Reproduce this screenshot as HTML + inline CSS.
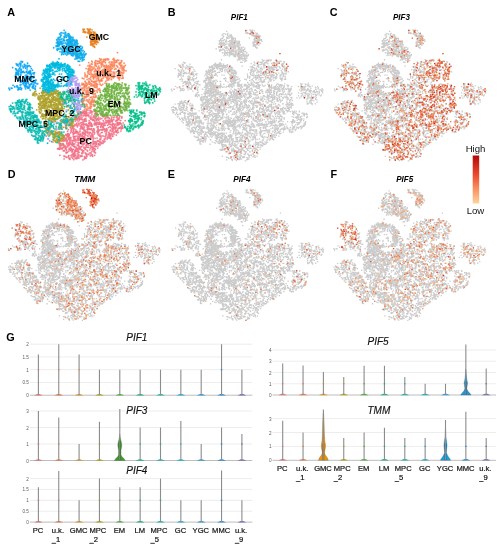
<!DOCTYPE html><html><head><meta charset="utf-8"><style>html,body{margin:0;padding:0;background:#fff;width:502px;height:550px;overflow:hidden}svg{display:block;filter:blur(0.3px)}text{font-family:"Liberation Sans",sans-serif;-webkit-font-smoothing:antialiased}</style></head><body><svg width="502" height="550" viewBox="0 0 502 550"><defs><path id="pPC" d="M89.6 144.7h1.3v1.3h-1.3zM78.4 124.0h1.3v1.3h-1.3zM82.3 151.5h1.3v1.3h-1.3zM68.1 136.3h1.3v1.3h-1.3zM120.5 127.6h1.3v1.3h-1.3zM88.0 146.7h1.3v1.3h-1.3zM85.0 124.1h1.3v1.3h-1.3zM116.3 131.6h1.3v1.3h-1.3zM105.9 127.9h1.3v1.3h-1.3zM93.3 119.7h1.3v1.3h-1.3zM74.1 140.1h1.3v1.3h-1.3zM65.8 140.3h1.3v1.3h-1.3zM107.8 127.0h1.3v1.3h-1.3zM108.2 120.5h1.3v1.3h-1.3zM99.9 139.0h1.3v1.3h-1.3zM78.9 118.1h1.3v1.3h-1.3zM67.6 135.0h1.3v1.3h-1.3zM92.1 135.0h1.3v1.3h-1.3zM91.2 118.4h1.3v1.3h-1.3zM63.0 146.9h1.3v1.3h-1.3zM88.4 127.9h1.3v1.3h-1.3zM80.3 126.1h1.3v1.3h-1.3zM103.6 115.2h1.3v1.3h-1.3zM83.4 114.8h1.3v1.3h-1.3zM63.3 155.4h1.3v1.3h-1.3zM105.6 122.1h1.3v1.3h-1.3zM68.1 150.4h1.3v1.3h-1.3zM118.2 117.8h1.3v1.3h-1.3zM81.2 141.0h1.3v1.3h-1.3zM117.7 122.3h1.3v1.3h-1.3zM81.6 112.5h1.3v1.3h-1.3zM82.7 122.5h1.3v1.3h-1.3zM88.3 112.2h1.3v1.3h-1.3zM77.8 150.3h1.3v1.3h-1.3zM86.2 143.7h1.3v1.3h-1.3zM73.0 129.0h1.3v1.3h-1.3zM87.8 125.6h1.3v1.3h-1.3zM63.6 136.8h1.3v1.3h-1.3zM111.8 128.0h1.3v1.3h-1.3zM70.5 130.0h1.3v1.3h-1.3zM110.9 119.4h1.3v1.3h-1.3zM83.9 112.8h1.3v1.3h-1.3zM80.4 139.3h1.3v1.3h-1.3zM93.0 118.8h1.3v1.3h-1.3zM111.1 116.6h1.3v1.3h-1.3zM77.1 137.3h1.3v1.3h-1.3zM96.4 126.5h1.3v1.3h-1.3zM69.5 142.8h1.3v1.3h-1.3zM117.0 129.4h1.3v1.3h-1.3zM80.5 126.6h1.3v1.3h-1.3zM101.3 129.2h1.3v1.3h-1.3zM69.6 142.3h1.3v1.3h-1.3zM108.9 134.8h1.3v1.3h-1.3zM83.8 142.4h1.3v1.3h-1.3zM94.2 142.7h1.3v1.3h-1.3zM70.9 124.0h1.3v1.3h-1.3zM83.8 110.9h1.3v1.3h-1.3zM108.3 121.8h1.3v1.3h-1.3zM89.8 144.3h1.3v1.3h-1.3zM85.0 148.8h1.3v1.3h-1.3zM102.8 114.8h1.3v1.3h-1.3zM82.0 126.5h1.3v1.3h-1.3zM83.3 127.5h1.3v1.3h-1.3zM100.5 113.1h1.3v1.3h-1.3zM89.4 110.3h1.3v1.3h-1.3zM84.9 146.8h1.3v1.3h-1.3zM83.2 110.9h1.3v1.3h-1.3zM85.7 141.8h1.3v1.3h-1.3zM85.5 144.7h1.3v1.3h-1.3zM104.2 115.4h1.3v1.3h-1.3zM121.8 126.6h1.3v1.3h-1.3zM90.5 154.7h1.3v1.3h-1.3zM88.8 128.0h1.3v1.3h-1.3zM86.1 154.1h1.3v1.3h-1.3zM88.5 132.5h1.3v1.3h-1.3zM88.2 153.9h1.3v1.3h-1.3zM77.8 137.9h1.3v1.3h-1.3zM83.5 130.2h1.3v1.3h-1.3zM121.0 117.4h1.3v1.3h-1.3zM116.8 118.2h1.3v1.3h-1.3zM59.1 138.4h1.3v1.3h-1.3zM108.1 123.7h1.3v1.3h-1.3zM81.0 127.5h1.3v1.3h-1.3zM67.9 155.4h1.3v1.3h-1.3zM86.9 128.1h1.3v1.3h-1.3zM101.4 128.9h1.3v1.3h-1.3zM99.9 123.0h1.3v1.3h-1.3zM94.9 112.6h1.3v1.3h-1.3zM91.6 133.9h1.3v1.3h-1.3zM113.0 132.2h1.3v1.3h-1.3zM103.2 128.3h1.3v1.3h-1.3zM92.6 142.3h1.3v1.3h-1.3zM83.7 126.2h1.3v1.3h-1.3zM94.3 145.3h1.3v1.3h-1.3zM114.9 123.5h1.3v1.3h-1.3zM71.5 144.1h1.3v1.3h-1.3zM105.5 121.3h1.3v1.3h-1.3zM81.4 117.0h1.3v1.3h-1.3zM77.2 124.7h1.3v1.3h-1.3zM78.9 142.2h1.3v1.3h-1.3zM82.3 137.8h1.3v1.3h-1.3zM73.2 155.6h1.3v1.3h-1.3zM97.6 126.0h1.3v1.3h-1.3zM92.1 146.6h1.3v1.3h-1.3zM83.8 119.1h1.3v1.3h-1.3zM76.3 115.6h1.3v1.3h-1.3zM76.1 157.9h1.3v1.3h-1.3zM120.6 128.4h1.3v1.3h-1.3zM100.7 132.0h1.3v1.3h-1.3zM62.1 140.2h1.3v1.3h-1.3zM67.5 156.7h1.3v1.3h-1.3zM90.7 123.4h1.3v1.3h-1.3zM73.8 125.4h1.3v1.3h-1.3zM87.1 129.2h1.3v1.3h-1.3zM60.3 147.5h1.3v1.3h-1.3zM67.1 135.6h1.3v1.3h-1.3zM82.2 135.9h1.3v1.3h-1.3zM81.1 115.3h1.3v1.3h-1.3zM82.3 152.1h1.3v1.3h-1.3zM73.9 124.5h1.3v1.3h-1.3zM80.7 146.1h1.3v1.3h-1.3zM82.3 136.2h1.3v1.3h-1.3zM88.7 138.0h1.3v1.3h-1.3zM101.9 126.4h1.3v1.3h-1.3zM94.2 115.3h1.3v1.3h-1.3zM73.7 150.5h1.3v1.3h-1.3zM86.5 129.1h1.3v1.3h-1.3zM116.6 123.6h1.3v1.3h-1.3zM108.0 131.7h1.3v1.3h-1.3zM116.9 122.0h1.3v1.3h-1.3zM85.5 120.5h1.3v1.3h-1.3zM99.6 129.3h1.3v1.3h-1.3zM66.7 139.7h1.3v1.3h-1.3zM90.1 124.7h1.3v1.3h-1.3zM96.9 140.0h1.3v1.3h-1.3zM72.0 157.6h1.3v1.3h-1.3zM111.2 119.1h1.3v1.3h-1.3zM122.1 127.6h1.3v1.3h-1.3zM82.2 123.5h1.3v1.3h-1.3zM121.6 125.2h1.3v1.3h-1.3zM118.5 117.1h1.3v1.3h-1.3zM94.2 120.2h1.3v1.3h-1.3zM113.2 123.4h1.3v1.3h-1.3zM70.6 148.1h1.3v1.3h-1.3zM91.5 124.5h1.3v1.3h-1.3zM115.3 127.5h1.3v1.3h-1.3zM113.3 133.8h1.3v1.3h-1.3zM94.3 110.7h1.3v1.3h-1.3zM102.8 124.8h1.3v1.3h-1.3zM86.7 114.8h1.3v1.3h-1.3zM104.5 124.7h1.3v1.3h-1.3zM74.2 157.3h1.3v1.3h-1.3zM85.9 113.3h1.3v1.3h-1.3zM76.5 135.4h1.3v1.3h-1.3zM114.2 127.3h1.3v1.3h-1.3zM91.3 113.4h1.3v1.3h-1.3zM84.0 110.9h1.3v1.3h-1.3zM83.1 150.1h1.3v1.3h-1.3zM118.8 127.1h1.3v1.3h-1.3zM90.7 122.9h1.3v1.3h-1.3zM109.4 125.8h1.3v1.3h-1.3zM76.2 132.3h1.3v1.3h-1.3zM78.1 154.1h1.3v1.3h-1.3zM102.8 116.2h1.3v1.3h-1.3zM92.2 136.6h1.3v1.3h-1.3zM62.6 138.6h1.3v1.3h-1.3zM79.4 139.4h1.3v1.3h-1.3zM82.2 159.2h1.3v1.3h-1.3zM93.3 151.1h1.3v1.3h-1.3zM87.6 144.5h1.3v1.3h-1.3zM65.9 149.5h1.3v1.3h-1.3zM86.1 112.0h1.3v1.3h-1.3zM65.3 133.8h1.3v1.3h-1.3zM83.2 114.8h1.3v1.3h-1.3zM101.2 122.6h1.3v1.3h-1.3zM70.2 143.8h1.3v1.3h-1.3zM118.0 118.0h1.3v1.3h-1.3zM95.2 118.1h1.3v1.3h-1.3zM103.8 138.6h1.3v1.3h-1.3zM65.3 137.5h1.3v1.3h-1.3zM74.8 118.9h1.3v1.3h-1.3zM115.2 126.9h1.3v1.3h-1.3zM114.4 128.6h1.3v1.3h-1.3zM69.1 157.7h1.3v1.3h-1.3zM71.2 151.5h1.3v1.3h-1.3zM78.0 116.3h1.3v1.3h-1.3zM67.7 129.0h1.3v1.3h-1.3zM85.6 153.8h1.3v1.3h-1.3zM78.7 136.4h1.3v1.3h-1.3zM97.0 140.8h1.3v1.3h-1.3zM81.0 152.4h1.3v1.3h-1.3zM99.2 134.9h1.3v1.3h-1.3zM98.0 143.4h1.3v1.3h-1.3zM82.1 128.5h1.3v1.3h-1.3zM76.3 119.1h1.3v1.3h-1.3zM76.7 111.4h1.3v1.3h-1.3zM84.5 133.6h1.3v1.3h-1.3zM92.4 140.7h1.3v1.3h-1.3zM87.2 126.5h1.3v1.3h-1.3zM85.3 111.8h1.3v1.3h-1.3zM107.5 117.2h1.3v1.3h-1.3zM99.1 121.6h1.3v1.3h-1.3zM111.4 130.9h1.3v1.3h-1.3zM83.1 133.3h1.3v1.3h-1.3zM86.9 146.6h1.3v1.3h-1.3zM87.5 125.0h1.3v1.3h-1.3zM62.8 144.3h1.3v1.3h-1.3zM82.1 140.0h1.3v1.3h-1.3zM74.1 137.6h1.3v1.3h-1.3zM106.5 138.4h1.3v1.3h-1.3zM76.9 149.3h1.3v1.3h-1.3zM118.8 123.3h1.3v1.3h-1.3zM60.9 140.4h1.3v1.3h-1.3zM77.6 134.0h1.3v1.3h-1.3zM97.0 147.5h1.3v1.3h-1.3zM75.0 135.7h1.3v1.3h-1.3zM88.0 114.2h1.3v1.3h-1.3zM63.7 150.2h1.3v1.3h-1.3zM120.0 120.0h1.3v1.3h-1.3zM104.0 123.0h1.3v1.3h-1.3zM113.6 124.2h1.3v1.3h-1.3zM97.3 128.0h1.3v1.3h-1.3zM107.1 136.9h1.3v1.3h-1.3zM69.9 122.9h1.3v1.3h-1.3zM96.5 121.6h1.3v1.3h-1.3zM72.0 127.6h1.3v1.3h-1.3zM92.2 135.8h1.3v1.3h-1.3zM86.4 124.2h1.3v1.3h-1.3zM82.1 150.2h1.3v1.3h-1.3zM65.6 151.5h1.3v1.3h-1.3zM74.8 131.8h1.3v1.3h-1.3zM82.4 128.0h1.3v1.3h-1.3zM97.5 130.6h1.3v1.3h-1.3zM59.5 144.3h1.3v1.3h-1.3zM79.6 125.5h1.3v1.3h-1.3zM86.9 150.5h1.3v1.3h-1.3zM97.7 129.0h1.3v1.3h-1.3zM96.3 112.5h1.3v1.3h-1.3zM58.5 139.7h1.3v1.3h-1.3zM88.7 123.2h1.3v1.3h-1.3zM89.4 122.2h1.3v1.3h-1.3zM69.5 142.8h1.3v1.3h-1.3zM99.3 117.4h1.3v1.3h-1.3zM65.4 134.8h1.3v1.3h-1.3zM79.4 115.3h1.3v1.3h-1.3zM91.8 118.7h1.3v1.3h-1.3zM60.1 148.1h1.3v1.3h-1.3zM72.1 143.5h1.3v1.3h-1.3zM89.3 138.2h1.3v1.3h-1.3zM65.4 152.3h1.3v1.3h-1.3zM104.2 128.7h1.3v1.3h-1.3zM66.5 142.9h1.3v1.3h-1.3zM98.5 129.4h1.3v1.3h-1.3zM71.8 142.6h1.3v1.3h-1.3zM89.2 128.8h1.3v1.3h-1.3zM99.1 144.4h1.3v1.3h-1.3zM108.5 135.9h1.3v1.3h-1.3zM82.1 121.3h1.3v1.3h-1.3zM89.8 155.3h1.3v1.3h-1.3zM77.2 147.8h1.3v1.3h-1.3zM82.8 132.1h1.3v1.3h-1.3zM65.7 146.7h1.3v1.3h-1.3zM59.3 146.0h1.3v1.3h-1.3zM115.4 130.3h1.3v1.3h-1.3zM109.4 137.7h1.3v1.3h-1.3zM76.3 139.9h1.3v1.3h-1.3zM78.4 116.1h1.3v1.3h-1.3zM83.5 121.0h1.3v1.3h-1.3zM84.0 114.0h1.3v1.3h-1.3zM84.4 132.4h1.3v1.3h-1.3zM60.3 143.1h1.3v1.3h-1.3zM97.7 143.7h1.3v1.3h-1.3zM102.7 126.7h1.3v1.3h-1.3zM71.5 144.8h1.3v1.3h-1.3zM105.2 129.5h1.3v1.3h-1.3zM93.6 110.1h1.3v1.3h-1.3zM94.7 149.0h1.3v1.3h-1.3zM88.5 119.9h1.3v1.3h-1.3zM74.7 139.1h1.3v1.3h-1.3zM109.6 121.5h1.3v1.3h-1.3zM85.3 118.5h1.3v1.3h-1.3zM62.0 143.0h1.3v1.3h-1.3zM108.6 120.0h1.3v1.3h-1.3zM103.9 138.5h1.3v1.3h-1.3zM58.0 147.8h1.3v1.3h-1.3zM105.1 122.3h1.3v1.3h-1.3zM74.4 139.6h1.3v1.3h-1.3zM90.5 125.3h1.3v1.3h-1.3zM119.7 122.4h1.3v1.3h-1.3zM76.8 132.2h1.3v1.3h-1.3zM78.5 151.7h1.3v1.3h-1.3zM104.3 118.2h1.3v1.3h-1.3zM110.2 138.1h1.3v1.3h-1.3zM80.7 124.0h1.3v1.3h-1.3zM84.9 111.3h1.3v1.3h-1.3zM94.4 141.6h1.3v1.3h-1.3zM97.2 126.0h1.3v1.3h-1.3zM109.6 126.7h1.3v1.3h-1.3zM78.3 147.9h1.3v1.3h-1.3zM106.8 116.3h1.3v1.3h-1.3zM120.9 116.2h1.3v1.3h-1.3zM89.8 117.5h1.3v1.3h-1.3zM88.5 125.2h1.3v1.3h-1.3zM105.5 117.3h1.3v1.3h-1.3zM100.0 123.5h1.3v1.3h-1.3zM91.8 146.4h1.3v1.3h-1.3zM86.6 149.7h1.3v1.3h-1.3zM85.7 109.5h1.3v1.3h-1.3zM76.2 155.5h1.3v1.3h-1.3zM58.8 147.6h1.3v1.3h-1.3zM75.1 158.0h1.3v1.3h-1.3zM67.9 145.2h1.3v1.3h-1.3zM88.1 123.0h1.3v1.3h-1.3zM94.7 122.6h1.3v1.3h-1.3zM66.9 130.7h1.3v1.3h-1.3zM76.8 126.1h1.3v1.3h-1.3zM70.2 125.5h1.3v1.3h-1.3zM93.4 133.7h1.3v1.3h-1.3zM91.0 142.4h1.3v1.3h-1.3zM100.6 114.6h1.3v1.3h-1.3zM94.9 123.1h1.3v1.3h-1.3zM83.7 123.7h1.3v1.3h-1.3zM120.6 127.2h1.3v1.3h-1.3zM73.1 154.3h1.3v1.3h-1.3zM87.3 109.6h1.3v1.3h-1.3zM81.5 155.4h1.3v1.3h-1.3zM79.1 113.2h1.3v1.3h-1.3zM73.5 116.1h1.3v1.3h-1.3zM86.5 134.7h1.3v1.3h-1.3zM90.3 145.4h1.3v1.3h-1.3zM71.1 140.3h1.3v1.3h-1.3zM66.3 137.0h1.3v1.3h-1.3zM78.0 139.3h1.3v1.3h-1.3zM66.0 143.3h1.3v1.3h-1.3zM77.4 121.2h1.3v1.3h-1.3zM77.8 145.3h1.3v1.3h-1.3zM78.3 157.4h1.3v1.3h-1.3zM92.1 148.2h1.3v1.3h-1.3zM92.0 111.2h1.3v1.3h-1.3zM115.2 126.3h1.3v1.3h-1.3zM69.5 138.3h1.3v1.3h-1.3zM114.0 124.8h1.3v1.3h-1.3zM79.4 118.8h1.3v1.3h-1.3zM102.6 119.9h1.3v1.3h-1.3zM90.5 137.3h1.3v1.3h-1.3zM91.7 119.1h1.3v1.3h-1.3zM78.6 119.9h1.3v1.3h-1.3zM71.7 141.9h1.3v1.3h-1.3zM66.3 141.8h1.3v1.3h-1.3zM74.6 154.6h1.3v1.3h-1.3zM57.7 148.4h1.3v1.3h-1.3zM116.5 122.1h1.3v1.3h-1.3zM78.4 118.7h1.3v1.3h-1.3zM86.5 114.9h1.3v1.3h-1.3zM101.8 115.7h1.3v1.3h-1.3zM96.2 122.2h1.3v1.3h-1.3zM75.9 118.0h1.3v1.3h-1.3zM103.5 124.5h1.3v1.3h-1.3zM89.5 109.7h1.3v1.3h-1.3zM111.8 129.1h1.3v1.3h-1.3zM115.1 130.1h1.3v1.3h-1.3zM71.8 142.3h1.3v1.3h-1.3zM81.8 119.3h1.3v1.3h-1.3zM72.8 132.6h1.3v1.3h-1.3zM71.9 143.7h1.3v1.3h-1.3zM81.5 149.8h1.3v1.3h-1.3zM59.7 145.1h1.3v1.3h-1.3zM109.9 134.9h1.3v1.3h-1.3zM89.5 138.3h1.3v1.3h-1.3zM95.4 143.3h1.3v1.3h-1.3zM72.5 155.7h1.3v1.3h-1.3zM93.9 124.3h1.3v1.3h-1.3zM104.9 137.5h1.3v1.3h-1.3zM68.0 155.1h1.3v1.3h-1.3zM71.8 142.4h1.3v1.3h-1.3zM84.4 119.6h1.3v1.3h-1.3zM89.2 149.2h1.3v1.3h-1.3zM102.8 135.4h1.3v1.3h-1.3zM71.1 128.4h1.3v1.3h-1.3zM116.2 124.9h1.3v1.3h-1.3zM107.4 134.2h1.3v1.3h-1.3zM97.2 117.9h1.3v1.3h-1.3zM82.2 110.4h1.3v1.3h-1.3zM85.6 123.5h1.3v1.3h-1.3zM76.0 122.8h1.3v1.3h-1.3zM118.5 123.8h1.3v1.3h-1.3zM67.0 133.1h1.3v1.3h-1.3zM83.8 156.0h1.3v1.3h-1.3zM64.0 139.5h1.3v1.3h-1.3zM111.7 135.6h1.3v1.3h-1.3zM111.4 131.2h1.3v1.3h-1.3zM93.9 122.7h1.3v1.3h-1.3zM82.3 112.8h1.3v1.3h-1.3zM90.8 125.7h1.3v1.3h-1.3zM66.2 146.5h1.3v1.3h-1.3zM76.7 119.5h1.3v1.3h-1.3zM68.4 143.8h1.3v1.3h-1.3zM67.4 134.1h1.3v1.3h-1.3zM71.8 154.0h1.3v1.3h-1.3zM117.6 124.5h1.3v1.3h-1.3zM69.1 139.9h1.3v1.3h-1.3zM74.4 149.8h1.3v1.3h-1.3zM74.0 143.2h1.3v1.3h-1.3zM96.8 132.0h1.3v1.3h-1.3zM75.4 146.4h1.3v1.3h-1.3zM116.9 129.6h1.3v1.3h-1.3zM115.8 131.2h1.3v1.3h-1.3zM81.9 112.8h1.3v1.3h-1.3zM77.9 144.4h1.3v1.3h-1.3zM68.7 138.3h1.3v1.3h-1.3zM95.4 111.7h1.3v1.3h-1.3zM95.7 143.8h1.3v1.3h-1.3zM110.5 132.9h1.3v1.3h-1.3zM77.9 136.5h1.3v1.3h-1.3zM106.6 129.2h1.3v1.3h-1.3zM94.4 143.1h1.3v1.3h-1.3zM58.6 143.0h1.3v1.3h-1.3zM104.5 131.0h1.3v1.3h-1.3zM81.3 127.9h1.3v1.3h-1.3zM85.7 120.4h1.3v1.3h-1.3zM66.0 152.1h1.3v1.3h-1.3zM82.1 141.4h1.3v1.3h-1.3zM95.3 141.1h1.3v1.3h-1.3zM67.9 143.8h1.3v1.3h-1.3zM83.4 147.0h1.3v1.3h-1.3zM90.0 122.2h1.3v1.3h-1.3zM70.3 128.0h1.3v1.3h-1.3zM71.0 148.7h1.3v1.3h-1.3zM86.9 132.2h1.3v1.3h-1.3zM70.1 146.6h1.3v1.3h-1.3zM92.9 143.2h1.3v1.3h-1.3zM112.3 135.6h1.3v1.3h-1.3zM96.9 118.0h1.3v1.3h-1.3zM83.8 135.8h1.3v1.3h-1.3zM68.6 134.9h1.3v1.3h-1.3zM111.7 121.3h1.3v1.3h-1.3zM73.2 155.7h1.3v1.3h-1.3zM62.7 150.1h1.3v1.3h-1.3zM100.0 125.8h1.3v1.3h-1.3zM91.8 134.7h1.3v1.3h-1.3zM79.1 131.2h1.3v1.3h-1.3zM85.4 139.4h1.3v1.3h-1.3zM95.5 124.4h1.3v1.3h-1.3zM85.8 111.5h1.3v1.3h-1.3zM86.1 155.7h1.3v1.3h-1.3zM117.3 128.0h1.3v1.3h-1.3zM91.7 154.1h1.3v1.3h-1.3zM75.5 148.3h1.3v1.3h-1.3zM83.7 136.4h1.3v1.3h-1.3zM78.6 148.7h1.3v1.3h-1.3zM115.4 130.1h1.3v1.3h-1.3zM107.5 121.1h1.3v1.3h-1.3zM93.0 147.8h1.3v1.3h-1.3zM84.7 134.5h1.3v1.3h-1.3zM94.5 113.1h1.3v1.3h-1.3zM108.3 120.7h1.3v1.3h-1.3zM120.6 123.2h1.3v1.3h-1.3zM80.2 111.2h1.3v1.3h-1.3zM90.1 137.5h1.3v1.3h-1.3zM59.2 154.7h1.3v1.3h-1.3zM79.8 134.4h1.3v1.3h-1.3zM82.8 112.1h1.3v1.3h-1.3zM93.6 116.4h1.3v1.3h-1.3zM99.3 141.9h1.3v1.3h-1.3zM83.5 147.1h1.3v1.3h-1.3zM82.7 115.2h1.3v1.3h-1.3zM74.0 145.7h1.3v1.3h-1.3zM74.8 117.2h1.3v1.3h-1.3zM80.5 118.3h1.3v1.3h-1.3zM106.9 124.7h1.3v1.3h-1.3zM95.7 112.9h1.3v1.3h-1.3zM75.8 115.5h1.3v1.3h-1.3zM71.0 154.4h1.3v1.3h-1.3zM68.2 136.8h1.3v1.3h-1.3zM73.8 132.9h1.3v1.3h-1.3zM102.7 128.3h1.3v1.3h-1.3zM73.6 155.6h1.3v1.3h-1.3zM95.3 122.2h1.3v1.3h-1.3zM77.4 141.9h1.3v1.3h-1.3zM119.4 123.2h1.3v1.3h-1.3zM80.4 112.4h1.3v1.3h-1.3zM68.3 141.9h1.3v1.3h-1.3zM94.0 120.8h1.3v1.3h-1.3zM95.9 119.7h1.3v1.3h-1.3zM84.8 112.9h1.3v1.3h-1.3zM76.6 157.5h1.3v1.3h-1.3zM105.9 129.9h1.3v1.3h-1.3zM77.7 117.3h1.3v1.3h-1.3zM106.7 136.4h1.3v1.3h-1.3zM65.8 138.5h1.3v1.3h-1.3zM62.5 143.7h1.3v1.3h-1.3zM71.5 148.7h1.3v1.3h-1.3zM116.3 119.7h1.3v1.3h-1.3zM96.4 137.4h1.3v1.3h-1.3zM117.4 122.3h1.3v1.3h-1.3zM74.2 136.0h1.3v1.3h-1.3zM83.4 129.0h1.3v1.3h-1.3zM70.3 126.1h1.3v1.3h-1.3zM72.9 131.0h1.3v1.3h-1.3zM82.9 138.2h1.3v1.3h-1.3zM88.5 116.3h1.3v1.3h-1.3zM83.7 109.3h1.3v1.3h-1.3zM79.2 135.4h1.3v1.3h-1.3zM76.1 150.7h1.3v1.3h-1.3zM89.7 132.3h1.3v1.3h-1.3zM100.8 124.4h1.3v1.3h-1.3zM78.7 138.2h1.3v1.3h-1.3zM92.0 155.7h1.3v1.3h-1.3zM96.1 114.0h1.3v1.3h-1.3zM94.6 145.5h1.3v1.3h-1.3zM84.4 118.0h1.3v1.3h-1.3zM97.2 133.5h1.3v1.3h-1.3zM72.0 131.9h1.3v1.3h-1.3zM106.8 115.8h1.3v1.3h-1.3zM61.8 147.2h1.3v1.3h-1.3zM84.7 156.9h1.3v1.3h-1.3zM75.7 124.8h1.3v1.3h-1.3zM65.6 134.8h1.3v1.3h-1.3zM70.2 149.9h1.3v1.3h-1.3zM82.5 143.2h1.3v1.3h-1.3zM72.6 145.4h1.3v1.3h-1.3zM72.3 119.3h1.3v1.3h-1.3zM115.6 114.9h1.3v1.3h-1.3zM99.3 118.7h1.3v1.3h-1.3zM105.1 135.2h1.3v1.3h-1.3zM85.2 139.0h1.3v1.3h-1.3zM63.5 158.2h1.3v1.3h-1.3zM107.8 122.2h1.3v1.3h-1.3zM81.6 153.0h1.3v1.3h-1.3zM80.5 148.9h1.3v1.3h-1.3zM85.7 144.6h1.3v1.3h-1.3zM117.1 118.6h1.3v1.3h-1.3zM87.5 143.5h1.3v1.3h-1.3zM85.3 114.7h1.3v1.3h-1.3zM76.2 124.1h1.3v1.3h-1.3zM62.7 138.8h1.3v1.3h-1.3zM75.1 117.8h1.3v1.3h-1.3zM90.7 110.5h1.3v1.3h-1.3zM109.4 136.0h1.3v1.3h-1.3zM86.4 113.5h1.3v1.3h-1.3zM77.8 142.9h1.3v1.3h-1.3zM75.5 157.5h1.3v1.3h-1.3zM85.3 115.8h1.3v1.3h-1.3zM79.4 130.4h1.3v1.3h-1.3zM85.3 137.7h1.3v1.3h-1.3zM70.1 139.1h1.3v1.3h-1.3zM74.3 153.2h1.3v1.3h-1.3zM66.5 135.5h1.3v1.3h-1.3zM96.5 118.6h1.3v1.3h-1.3zM93.8 123.2h1.3v1.3h-1.3zM107.2 116.8h1.3v1.3h-1.3zM80.8 155.7h1.3v1.3h-1.3zM91.8 129.7h1.3v1.3h-1.3zM76.7 153.3h1.3v1.3h-1.3zM104.4 140.7h1.3v1.3h-1.3zM84.5 129.7h1.3v1.3h-1.3zM96.2 130.7h1.3v1.3h-1.3zM91.4 132.8h1.3v1.3h-1.3zM106.0 129.1h1.3v1.3h-1.3zM84.3 112.2h1.3v1.3h-1.3zM98.6 122.0h1.3v1.3h-1.3zM104.2 130.6h1.3v1.3h-1.3zM124.5 120.0h1.3v1.3h-1.3zM100.7 142.9h1.3v1.3h-1.3zM81.8 141.8h1.3v1.3h-1.3zM72.0 140.1h1.3v1.3h-1.3zM74.7 151.1h1.3v1.3h-1.3zM71.7 149.6h1.3v1.3h-1.3zM93.4 109.7h1.3v1.3h-1.3zM89.7 112.2h1.3v1.3h-1.3zM84.1 137.1h1.3v1.3h-1.3zM111.7 125.0h1.3v1.3h-1.3zM97.7 123.6h1.3v1.3h-1.3zM99.5 138.3h1.3v1.3h-1.3zM70.2 155.0h1.3v1.3h-1.3zM84.0 120.5h1.3v1.3h-1.3zM104.4 128.6h1.3v1.3h-1.3zM104.3 135.9h1.3v1.3h-1.3zM70.0 136.9h1.3v1.3h-1.3zM82.7 123.2h1.3v1.3h-1.3zM77.0 113.7h1.3v1.3h-1.3zM73.7 155.7h1.3v1.3h-1.3zM98.1 130.7h1.3v1.3h-1.3zM89.7 147.5h1.3v1.3h-1.3zM97.1 126.5h1.3v1.3h-1.3zM106.7 120.3h1.3v1.3h-1.3zM78.2 147.4h1.3v1.3h-1.3zM64.6 148.3h1.3v1.3h-1.3zM90.1 128.7h1.3v1.3h-1.3zM118.5 119.3h1.3v1.3h-1.3zM111.7 120.1h1.3v1.3h-1.3zM103.2 121.5h1.3v1.3h-1.3zM87.3 153.5h1.3v1.3h-1.3zM77.1 157.2h1.3v1.3h-1.3zM82.5 143.1h1.3v1.3h-1.3zM92.8 128.1h1.3v1.3h-1.3zM88.9 152.5h1.3v1.3h-1.3zM121.2 116.3h1.3v1.3h-1.3zM97.9 119.8h1.3v1.3h-1.3zM101.3 135.3h1.3v1.3h-1.3zM82.2 123.7h1.3v1.3h-1.3zM94.9 112.0h1.3v1.3h-1.3zM68.5 157.9h1.3v1.3h-1.3zM69.8 137.5h1.3v1.3h-1.3zM79.3 115.4h1.3v1.3h-1.3zM74.9 131.1h1.3v1.3h-1.3zM72.6 143.7h1.3v1.3h-1.3zM78.0 123.0h1.3v1.3h-1.3zM93.6 141.0h1.3v1.3h-1.3zM77.3 118.0h1.3v1.3h-1.3zM85.2 152.8h1.3v1.3h-1.3zM103.1 141.7h1.3v1.3h-1.3zM83.7 133.1h1.3v1.3h-1.3zM90.6 128.9h1.3v1.3h-1.3zM74.7 154.9h1.3v1.3h-1.3zM66.5 139.7h1.3v1.3h-1.3zM59.3 145.4h1.3v1.3h-1.3zM85.7 157.4h1.3v1.3h-1.3zM79.6 128.3h1.3v1.3h-1.3zM83.7 119.3h1.3v1.3h-1.3zM73.3 155.6h1.3v1.3h-1.3zM107.6 119.6h1.3v1.3h-1.3zM64.3 140.4h1.3v1.3h-1.3zM68.5 135.1h1.3v1.3h-1.3zM86.7 139.5h1.3v1.3h-1.3zM112.3 130.1h1.3v1.3h-1.3zM82.3 137.6h1.3v1.3h-1.3zM119.1 122.0h1.3v1.3h-1.3zM105.6 134.3h1.3v1.3h-1.3zM86.5 126.4h1.3v1.3h-1.3zM82.2 145.3h1.3v1.3h-1.3zM84.5 152.2h1.3v1.3h-1.3zM84.8 117.9h1.3v1.3h-1.3zM113.1 119.1h1.3v1.3h-1.3zM81.5 149.3h1.3v1.3h-1.3zM68.9 148.3h1.3v1.3h-1.3zM72.8 148.7h1.3v1.3h-1.3zM92.2 144.1h1.3v1.3h-1.3zM79.5 155.2h1.3v1.3h-1.3zM73.1 159.0h1.3v1.3h-1.3zM96.2 123.8h1.3v1.3h-1.3zM101.9 140.3h1.3v1.3h-1.3zM99.3 139.1h1.3v1.3h-1.3zM94.0 132.3h1.3v1.3h-1.3zM82.6 132.0h1.3v1.3h-1.3zM70.9 122.7h1.3v1.3h-1.3zM77.3 144.7h1.3v1.3h-1.3zM79.5 122.4h1.3v1.3h-1.3zM81.9 131.7h1.3v1.3h-1.3zM86.1 155.7h1.3v1.3h-1.3zM81.0 122.0h1.3v1.3h-1.3zM101.3 123.7h1.3v1.3h-1.3zM97.5 132.6h1.3v1.3h-1.3zM85.7 146.3h1.3v1.3h-1.3zM73.7 151.9h1.3v1.3h-1.3zM88.3 123.0h1.3v1.3h-1.3zM101.6 131.8h1.3v1.3h-1.3zM94.4 137.7h1.3v1.3h-1.3zM81.7 139.4h1.3v1.3h-1.3zM100.0 135.8h1.3v1.3h-1.3zM94.7 118.0h1.3v1.3h-1.3zM90.6 111.9h1.3v1.3h-1.3zM67.5 143.3h1.3v1.3h-1.3zM116.0 130.3h1.3v1.3h-1.3zM81.4 127.2h1.3v1.3h-1.3zM99.5 142.3h1.3v1.3h-1.3zM99.2 140.9h1.3v1.3h-1.3zM70.5 131.1h1.3v1.3h-1.3zM90.4 153.0h1.3v1.3h-1.3zM64.6 138.9h1.3v1.3h-1.3zM82.9 123.3h1.3v1.3h-1.3zM62.7 143.4h1.3v1.3h-1.3zM90.0 118.5h1.3v1.3h-1.3zM117.8 131.7h1.3v1.3h-1.3zM114.0 126.5h1.3v1.3h-1.3zM94.4 117.8h1.3v1.3h-1.3zM94.5 145.8h1.3v1.3h-1.3zM68.9 138.3h1.3v1.3h-1.3zM88.0 114.9h1.3v1.3h-1.3zM112.3 123.1h1.3v1.3h-1.3zM76.6 157.3h1.3v1.3h-1.3zM74.5 123.8h1.3v1.3h-1.3zM77.4 156.6h1.3v1.3h-1.3zM69.6 126.8h1.3v1.3h-1.3zM93.0 131.3h1.3v1.3h-1.3zM90.4 116.9h1.3v1.3h-1.3zM116.8 120.0h1.3v1.3h-1.3zM65.1 146.7h1.3v1.3h-1.3zM72.3 125.4h1.3v1.3h-1.3zM111.0 120.1h1.3v1.3h-1.3zM120.9 127.8h1.3v1.3h-1.3zM91.3 135.8h1.3v1.3h-1.3zM74.8 131.9h1.3v1.3h-1.3zM73.7 135.9h1.3v1.3h-1.3zM82.8 133.5h1.3v1.3h-1.3zM108.3 133.4h1.3v1.3h-1.3zM86.9 132.1h1.3v1.3h-1.3zM113.6 131.5h1.3v1.3h-1.3zM93.9 154.8h1.3v1.3h-1.3zM58.2 140.9h1.3v1.3h-1.3zM107.4 121.7h1.3v1.3h-1.3zM65.5 148.8h1.3v1.3h-1.3zM79.5 147.3h1.3v1.3h-1.3zM93.5 129.6h1.3v1.3h-1.3zM86.9 132.1h1.3v1.3h-1.3zM97.5 145.4h1.3v1.3h-1.3zM98.7 123.8h1.3v1.3h-1.3zM73.6 128.3h1.3v1.3h-1.3zM111.7 129.0h1.3v1.3h-1.3zM75.7 130.6h1.3v1.3h-1.3zM77.4 155.2h1.3v1.3h-1.3zM73.9 143.3h1.3v1.3h-1.3zM93.7 150.9h1.3v1.3h-1.3zM70.1 137.0h1.3v1.3h-1.3zM81.3 126.3h1.3v1.3h-1.3zM62.4 136.1h1.3v1.3h-1.3zM115.2 120.8h1.3v1.3h-1.3zM100.8 129.0h1.3v1.3h-1.3zM93.5 128.4h1.3v1.3h-1.3zM102.3 142.8h1.3v1.3h-1.3zM90.3 152.0h1.3v1.3h-1.3zM103.5 129.0h1.3v1.3h-1.3zM66.7 140.5h1.3v1.3h-1.3zM81.1 118.7h1.3v1.3h-1.3zM95.1 117.0h1.3v1.3h-1.3zM108.3 135.6h1.3v1.3h-1.3zM79.2 136.2h1.3v1.3h-1.3zM108.4 120.6h1.3v1.3h-1.3zM63.7 149.9h1.3v1.3h-1.3zM96.4 112.7h1.3v1.3h-1.3zM76.0 148.3h1.3v1.3h-1.3zM87.9 126.1h1.3v1.3h-1.3zM69.2 158.8h1.3v1.3h-1.3zM66.9 151.6h1.3v1.3h-1.3zM111.6 133.5h1.3v1.3h-1.3zM111.1 124.1h1.3v1.3h-1.3zM77.6 152.1h1.3v1.3h-1.3zM90.7 110.9h1.3v1.3h-1.3zM97.7 122.6h1.3v1.3h-1.3zM103.3 125.0h1.3v1.3h-1.3zM81.7 134.7h1.3v1.3h-1.3zM81.5 112.1h1.3v1.3h-1.3zM95.7 122.2h1.3v1.3h-1.3zM97.4 131.4h1.3v1.3h-1.3zM89.1 121.5h1.3v1.3h-1.3zM74.8 120.4h1.3v1.3h-1.3zM99.3 133.5h1.3v1.3h-1.3zM66.2 134.4h1.3v1.3h-1.3zM114.8 131.3h1.3v1.3h-1.3zM67.5 132.9h1.3v1.3h-1.3zM69.9 148.2h1.3v1.3h-1.3zM81.2 138.9h1.3v1.3h-1.3zM65.3 156.2h1.3v1.3h-1.3zM72.3 124.9h1.3v1.3h-1.3zM95.3 115.5h1.3v1.3h-1.3zM89.6 124.2h1.3v1.3h-1.3zM78.0 132.4h1.3v1.3h-1.3zM59.7 142.8h1.3v1.3h-1.3zM62.6 140.5h1.3v1.3h-1.3zM78.4 146.0h1.3v1.3h-1.3zM81.4 143.8h1.3v1.3h-1.3zM95.9 142.2h1.3v1.3h-1.3zM108.9 123.2h1.3v1.3h-1.3zM82.2 137.6h1.3v1.3h-1.3zM88.4 122.2h1.3v1.3h-1.3zM87.0 143.6h1.3v1.3h-1.3zM91.5 125.5h1.3v1.3h-1.3zM85.8 154.1h1.3v1.3h-1.3zM72.3 127.4h1.3v1.3h-1.3zM77.0 150.8h1.3v1.3h-1.3zM103.7 139.0h1.3v1.3h-1.3zM68.7 133.7h1.3v1.3h-1.3zM75.0 129.2h1.3v1.3h-1.3zM104.7 117.3h1.3v1.3h-1.3zM84.1 157.8h1.3v1.3h-1.3zM94.3 148.1h1.3v1.3h-1.3zM115.7 134.4h1.3v1.3h-1.3zM87.1 131.2h1.3v1.3h-1.3zM100.5 141.8h1.3v1.3h-1.3zM117.7 123.6h1.3v1.3h-1.3zM86.0 131.3h1.3v1.3h-1.3zM112.9 117.2h1.3v1.3h-1.3zM99.2 135.6h1.3v1.3h-1.3zM115.8 116.8h1.3v1.3h-1.3zM79.7 128.3h1.3v1.3h-1.3zM69.1 141.5h1.3v1.3h-1.3zM93.0 146.4h1.3v1.3h-1.3zM85.4 142.0h1.3v1.3h-1.3zM85.8 140.6h1.3v1.3h-1.3zM88.3 134.1h1.3v1.3h-1.3zM87.0 125.6h1.3v1.3h-1.3zM120.1 126.2h1.3v1.3h-1.3zM67.5 144.2h1.3v1.3h-1.3zM116.5 116.1h1.3v1.3h-1.3zM90.3 115.4h1.3v1.3h-1.3zM83.7 158.2h1.3v1.3h-1.3zM99.4 144.1h1.3v1.3h-1.3zM119.6 123.2h1.3v1.3h-1.3zM91.2 150.7h1.3v1.3h-1.3zM94.4 151.9h1.3v1.3h-1.3zM65.8 156.7h1.3v1.3h-1.3zM78.2 139.8h1.3v1.3h-1.3zM109.4 137.5h1.3v1.3h-1.3zM109.7 129.6h1.3v1.3h-1.3zM82.6 124.7h1.3v1.3h-1.3zM78.4 136.2h1.3v1.3h-1.3zM101.8 142.4h1.3v1.3h-1.3zM101.1 117.9h1.3v1.3h-1.3zM87.7 128.4h1.3v1.3h-1.3zM112.5 129.1h1.3v1.3h-1.3zM105.1 121.7h1.3v1.3h-1.3zM69.9 132.3h1.3v1.3h-1.3zM116.2 116.8h1.3v1.3h-1.3zM65.7 134.2h1.3v1.3h-1.3zM108.7 117.6h1.3v1.3h-1.3zM77.8 136.2h1.3v1.3h-1.3zM102.9 129.1h1.3v1.3h-1.3zM73.0 143.5h1.3v1.3h-1.3zM80.7 125.5h1.3v1.3h-1.3zM95.2 143.3h1.3v1.3h-1.3zM61.6 148.4h1.3v1.3h-1.3zM91.1 133.8h1.3v1.3h-1.3zM92.1 136.5h1.3v1.3h-1.3zM69.3 140.5h1.3v1.3h-1.3zM75.1 149.5h1.3v1.3h-1.3zM64.4 138.0h1.3v1.3h-1.3zM71.7 150.9h1.3v1.3h-1.3zM74.1 117.5h1.3v1.3h-1.3zM83.3 146.8h1.3v1.3h-1.3zM109.3 120.2h1.3v1.3h-1.3zM72.5 126.8h1.3v1.3h-1.3zM100.5 137.2h1.3v1.3h-1.3zM79.6 133.4h1.3v1.3h-1.3zM98.5 123.3h1.3v1.3h-1.3zM79.5 116.9h1.3v1.3h-1.3zM58.5 142.6h1.3v1.3h-1.3zM94.8 152.2h1.3v1.3h-1.3zM108.8 121.7h1.3v1.3h-1.3zM71.7 126.7h1.3v1.3h-1.3zM82.8 119.2h1.3v1.3h-1.3zM63.4 145.9h1.3v1.3h-1.3zM63.1 139.6h1.3v1.3h-1.3zM75.1 141.5h1.3v1.3h-1.3zM79.8 148.3h1.3v1.3h-1.3zM110.8 118.0h1.3v1.3h-1.3zM74.8 116.1h1.3v1.3h-1.3zM89.5 137.4h1.3v1.3h-1.3zM61.0 144.9h1.3v1.3h-1.3zM68.6 144.4h1.3v1.3h-1.3zM68.0 138.4h1.3v1.3h-1.3zM107.2 121.1h1.3v1.3h-1.3zM108.7 132.6h1.3v1.3h-1.3zM119.1 115.5h1.3v1.3h-1.3zM91.2 146.9h1.3v1.3h-1.3zM69.4 142.5h1.3v1.3h-1.3zM111.3 133.9h1.3v1.3h-1.3zM73.3 140.1h1.3v1.3h-1.3zM97.8 116.5h1.3v1.3h-1.3zM116.8 132.3h1.3v1.3h-1.3zM79.9 111.8h1.3v1.3h-1.3zM68.4 147.5h1.3v1.3h-1.3zM63.3 135.2h1.3v1.3h-1.3zM91.7 148.9h1.3v1.3h-1.3zM113.0 126.3h1.3v1.3h-1.3zM102.6 123.1h1.3v1.3h-1.3zM111.9 125.9h1.3v1.3h-1.3zM92.0 131.2h1.3v1.3h-1.3zM72.6 135.8h1.3v1.3h-1.3zM72.3 153.0h1.3v1.3h-1.3zM75.0 150.4h1.3v1.3h-1.3zM93.7 123.3h1.3v1.3h-1.3zM121.4 124.7h1.3v1.3h-1.3zM115.5 119.8h1.3v1.3h-1.3zM101.5 123.1h1.3v1.3h-1.3zM105.3 132.9h1.3v1.3h-1.3zM78.2 110.9h1.3v1.3h-1.3zM68.1 137.6h1.3v1.3h-1.3zM110.9 120.8h1.3v1.3h-1.3zM85.9 124.1h1.3v1.3h-1.3zM106.1 131.2h1.3v1.3h-1.3zM69.0 157.6h1.3v1.3h-1.3zM87.0 139.2h1.3v1.3h-1.3zM90.8 146.3h1.3v1.3h-1.3zM79.1 146.3h1.3v1.3h-1.3zM90.7 128.0h1.3v1.3h-1.3zM79.1 138.8h1.3v1.3h-1.3zM98.0 140.5h1.3v1.3h-1.3zM92.8 128.9h1.3v1.3h-1.3zM80.7 146.3h1.3v1.3h-1.3zM58.9 148.6h1.3v1.3h-1.3zM117.4 127.7h1.3v1.3h-1.3zM76.7 149.2h1.3v1.3h-1.3zM103.0 140.7h1.3v1.3h-1.3zM100.1 126.6h1.3v1.3h-1.3zM62.5 139.7h1.3v1.3h-1.3zM73.1 137.0h1.3v1.3h-1.3zM95.8 122.0h1.3v1.3h-1.3zM76.8 130.9h1.3v1.3h-1.3zM59.1 144.1h1.3v1.3h-1.3zM77.6 117.0h1.3v1.3h-1.3zM122.5 122.5h1.3v1.3h-1.3zM75.8 147.7h1.3v1.3h-1.3zM84.4 147.6h1.3v1.3h-1.3zM56.9 148.1h1.3v1.3h-1.3zM60.1 147.7h1.3v1.3h-1.3zM89.7 132.1h1.3v1.3h-1.3zM101.8 128.9h1.3v1.3h-1.3zM92.4 116.7h1.3v1.3h-1.3zM76.8 137.9h1.3v1.3h-1.3zM109.0 136.8h1.3v1.3h-1.3zM105.3 119.7h1.3v1.3h-1.3zM93.0 131.3h1.3v1.3h-1.3zM62.8 144.7h1.3v1.3h-1.3zM76.2 132.5h1.3v1.3h-1.3zM63.2 144.6h1.3v1.3h-1.3zM87.3 135.9h1.3v1.3h-1.3zM66.9 145.3h1.3v1.3h-1.3zM111.2 127.5h1.3v1.3h-1.3zM109.6 133.7h1.3v1.3h-1.3zM61.7 137.1h1.3v1.3h-1.3zM80.8 127.4h1.3v1.3h-1.3zM97.7 143.0h1.3v1.3h-1.3zM80.0 133.6h1.3v1.3h-1.3zM79.8 113.0h1.3v1.3h-1.3zM91.1 125.2h1.3v1.3h-1.3zM124.0 126.2h1.3v1.3h-1.3zM64.8 145.3h1.3v1.3h-1.3zM102.4 126.0h1.3v1.3h-1.3zM72.4 144.0h1.3v1.3h-1.3zM76.5 138.9h1.3v1.3h-1.3zM112.4 127.6h1.3v1.3h-1.3zM110.5 137.8h1.3v1.3h-1.3zM84.5 156.4h1.3v1.3h-1.3zM97.5 118.8h1.3v1.3h-1.3zM84.8 132.2h1.3v1.3h-1.3zM76.9 149.0h1.3v1.3h-1.3zM90.2 135.0h1.3v1.3h-1.3zM120.2 130.5h1.3v1.3h-1.3zM92.9 115.2h1.3v1.3h-1.3zM73.1 152.6h1.3v1.3h-1.3zM79.5 156.0h1.3v1.3h-1.3zM78.8 134.2h1.3v1.3h-1.3zM84.8 131.0h1.3v1.3h-1.3zM82.2 139.8h1.3v1.3h-1.3zM71.0 156.5h1.3v1.3h-1.3zM95.8 145.8h1.3v1.3h-1.3zM64.3 146.1h1.3v1.3h-1.3zM72.2 119.6h1.3v1.3h-1.3zM92.3 149.3h1.3v1.3h-1.3zM80.2 122.2h1.3v1.3h-1.3zM109.6 130.1h1.3v1.3h-1.3zM85.2 123.8h1.3v1.3h-1.3zM92.6 139.3h1.3v1.3h-1.3zM65.1 147.8h1.3v1.3h-1.3zM107.4 137.4h1.3v1.3h-1.3zM81.2 136.1h1.3v1.3h-1.3zM70.8 129.4h1.3v1.3h-1.3zM77.0 157.0h1.3v1.3h-1.3zM84.5 148.7h1.3v1.3h-1.3zM73.0 138.4h1.3v1.3h-1.3zM118.8 122.3h1.3v1.3h-1.3zM63.9 155.6h1.3v1.3h-1.3zM78.7 112.4h1.3v1.3h-1.3zM69.8 149.5h1.3v1.3h-1.3zM78.2 142.3h1.3v1.3h-1.3zM80.3 134.4h1.3v1.3h-1.3zM74.1 146.6h1.3v1.3h-1.3zM109.5 119.2h1.3v1.3h-1.3zM110.1 123.7h1.3v1.3h-1.3zM118.9 127.6h1.3v1.3h-1.3zM101.0 125.4h1.3v1.3h-1.3zM92.6 137.8h1.3v1.3h-1.3zM75.3 131.9h1.3v1.3h-1.3zM84.5 114.2h1.3v1.3h-1.3zM105.5 132.8h1.3v1.3h-1.3zM92.3 148.6h1.3v1.3h-1.3zM113.7 116.5h1.3v1.3h-1.3zM81.8 136.0h1.3v1.3h-1.3zM113.1 127.5h1.3v1.3h-1.3zM72.6 134.0h1.3v1.3h-1.3zM89.8 135.6h1.3v1.3h-1.3zM93.7 149.9h1.3v1.3h-1.3zM74.4 132.0h1.3v1.3h-1.3zM112.0 123.6h1.3v1.3h-1.3zM97.2 129.4h1.3v1.3h-1.3zM73.2 145.6h1.3v1.3h-1.3zM68.5 148.9h1.3v1.3h-1.3zM73.0 154.0h1.3v1.3h-1.3zM111.7 129.0h1.3v1.3h-1.3zM82.2 151.0h1.3v1.3h-1.3zM85.2 110.7h1.3v1.3h-1.3zM93.4 131.3h1.3v1.3h-1.3zM80.8 154.9h1.3v1.3h-1.3zM64.7 126.6h1.3v1.3h-1.3zM65.3 99.1h1.3v1.3h-1.3zM59.7 120.1h1.3v1.3h-1.3zM66.8 105.5h1.3v1.3h-1.3zM67.5 105.9h1.3v1.3h-1.3zM74.2 103.4h1.3v1.3h-1.3zM62.4 120.0h1.3v1.3h-1.3zM73.7 105.8h1.3v1.3h-1.3zM74.6 102.2h1.3v1.3h-1.3zM64.1 101.5h1.3v1.3h-1.3zM75.3 108.0h1.3v1.3h-1.3zM65.1 127.0h1.3v1.3h-1.3zM66.7 121.7h1.3v1.3h-1.3zM67.7 116.4h1.3v1.3h-1.3zM62.6 121.1h1.3v1.3h-1.3zM78.0 93.5h1.3v1.3h-1.3zM61.0 126.4h1.3v1.3h-1.3zM68.3 93.0h1.3v1.3h-1.3zM77.4 101.2h1.3v1.3h-1.3zM46.8 126.4h1.3v1.3h-1.3zM50.0 126.6h1.3v1.3h-1.3zM53.0 121.4h1.3v1.3h-1.3zM57.2 140.7h1.3v1.3h-1.3zM45.2 130.6h1.3v1.3h-1.3zM48.3 123.3h1.3v1.3h-1.3zM58.9 133.7h1.3v1.3h-1.3zM59.7 132.5h1.3v1.3h-1.3zM49.0 140.3h1.3v1.3h-1.3zM53.8 133.8h1.3v1.3h-1.3zM59.1 127.1h1.3v1.3h-1.3zM45.7 135.5h1.3v1.3h-1.3zM77.6 109.3h1.3v1.3h-1.3zM84.8 157.4h1.3v1.3h-1.3zM92.2 119.6h1.3v1.3h-1.3zM83.3 143.6h1.3v1.3h-1.3zM76.6 144.5h1.3v1.3h-1.3zM85.1 139.8h1.3v1.3h-1.3zM81.9 132.7h1.3v1.3h-1.3zM72.7 130.3h1.3v1.3h-1.3zM73.2 119.0h1.3v1.3h-1.3zM98.1 134.6h1.3v1.3h-1.3zM80.5 143.1h1.3v1.3h-1.3zM86.1 124.8h1.3v1.3h-1.3zM80.6 114.1h1.3v1.3h-1.3zM89.0 131.8h1.3v1.3h-1.3zM90.2 118.0h1.3v1.3h-1.3zM68.5 137.4h1.3v1.3h-1.3z"/><path id="pUK1" d="M121.2 77.7h1.3v1.3h-1.3zM89.6 103.4h1.3v1.3h-1.3zM90.8 69.2h1.3v1.3h-1.3zM107.1 77.0h1.3v1.3h-1.3zM98.9 61.4h1.3v1.3h-1.3zM88.5 68.4h1.3v1.3h-1.3zM90.3 84.8h1.3v1.3h-1.3zM87.4 72.0h1.3v1.3h-1.3zM90.0 101.4h1.3v1.3h-1.3zM100.5 70.1h1.3v1.3h-1.3zM107.5 69.3h1.3v1.3h-1.3zM111.0 63.8h1.3v1.3h-1.3zM95.1 60.1h1.3v1.3h-1.3zM102.7 77.5h1.3v1.3h-1.3zM86.3 90.7h1.3v1.3h-1.3zM83.6 98.8h1.3v1.3h-1.3zM87.6 73.1h1.3v1.3h-1.3zM110.8 64.8h1.3v1.3h-1.3zM113.5 63.3h1.3v1.3h-1.3zM87.4 91.1h1.3v1.3h-1.3zM93.1 101.5h1.3v1.3h-1.3zM90.1 79.1h1.3v1.3h-1.3zM89.7 105.3h1.3v1.3h-1.3zM102.3 75.9h1.3v1.3h-1.3zM98.1 79.7h1.3v1.3h-1.3zM121.3 64.5h1.3v1.3h-1.3zM84.5 76.1h1.3v1.3h-1.3zM99.4 90.1h1.3v1.3h-1.3zM86.9 106.3h1.3v1.3h-1.3zM107.7 75.2h1.3v1.3h-1.3zM117.7 77.7h1.3v1.3h-1.3zM119.3 64.2h1.3v1.3h-1.3zM113.8 68.8h1.3v1.3h-1.3zM85.5 84.6h1.3v1.3h-1.3zM86.3 84.5h1.3v1.3h-1.3zM110.8 68.5h1.3v1.3h-1.3zM89.9 102.3h1.3v1.3h-1.3zM93.4 66.5h1.3v1.3h-1.3zM86.6 92.1h1.3v1.3h-1.3zM105.5 65.8h1.3v1.3h-1.3zM107.6 69.1h1.3v1.3h-1.3zM95.1 63.4h1.3v1.3h-1.3zM90.0 76.7h1.3v1.3h-1.3zM85.2 92.1h1.3v1.3h-1.3zM95.9 82.9h1.3v1.3h-1.3zM94.1 86.6h1.3v1.3h-1.3zM96.6 91.8h1.3v1.3h-1.3zM94.2 64.8h1.3v1.3h-1.3zM101.5 63.4h1.3v1.3h-1.3zM95.0 69.2h1.3v1.3h-1.3zM97.3 77.6h1.3v1.3h-1.3zM92.3 96.3h1.3v1.3h-1.3zM108.6 70.1h1.3v1.3h-1.3zM97.1 73.6h1.3v1.3h-1.3zM88.0 70.7h1.3v1.3h-1.3zM98.4 62.8h1.3v1.3h-1.3zM120.9 71.7h1.3v1.3h-1.3zM114.2 59.7h1.3v1.3h-1.3zM96.9 63.1h1.3v1.3h-1.3zM87.2 65.3h1.3v1.3h-1.3zM92.9 76.4h1.3v1.3h-1.3zM86.0 92.8h1.3v1.3h-1.3zM97.4 66.7h1.3v1.3h-1.3zM94.3 63.1h1.3v1.3h-1.3zM100.0 79.6h1.3v1.3h-1.3zM82.0 87.8h1.3v1.3h-1.3zM112.2 58.7h1.3v1.3h-1.3zM114.2 62.0h1.3v1.3h-1.3zM98.7 81.2h1.3v1.3h-1.3zM119.3 62.0h1.3v1.3h-1.3zM103.0 65.8h1.3v1.3h-1.3zM81.2 89.2h1.3v1.3h-1.3zM91.5 69.4h1.3v1.3h-1.3zM95.6 70.4h1.3v1.3h-1.3zM83.7 86.0h1.3v1.3h-1.3zM92.4 74.3h1.3v1.3h-1.3zM102.0 71.8h1.3v1.3h-1.3zM93.0 101.4h1.3v1.3h-1.3zM110.6 78.4h1.3v1.3h-1.3zM112.6 71.6h1.3v1.3h-1.3zM104.2 67.5h1.3v1.3h-1.3zM109.6 63.5h1.3v1.3h-1.3zM95.1 64.7h1.3v1.3h-1.3zM91.6 61.5h1.3v1.3h-1.3zM89.7 96.9h1.3v1.3h-1.3zM90.5 71.3h1.3v1.3h-1.3zM113.5 75.1h1.3v1.3h-1.3zM91.2 66.3h1.3v1.3h-1.3zM82.7 91.9h1.3v1.3h-1.3zM95.3 83.6h1.3v1.3h-1.3zM109.6 68.6h1.3v1.3h-1.3zM94.5 76.6h1.3v1.3h-1.3zM110.6 73.6h1.3v1.3h-1.3zM85.0 96.9h1.3v1.3h-1.3zM88.1 94.6h1.3v1.3h-1.3zM91.4 100.1h1.3v1.3h-1.3zM118.8 63.4h1.3v1.3h-1.3zM81.2 84.1h1.3v1.3h-1.3zM90.0 107.2h1.3v1.3h-1.3zM106.0 71.7h1.3v1.3h-1.3zM113.7 60.1h1.3v1.3h-1.3zM116.9 59.5h1.3v1.3h-1.3zM84.6 107.4h1.3v1.3h-1.3zM120.2 73.2h1.3v1.3h-1.3zM88.8 107.4h1.3v1.3h-1.3zM87.9 95.0h1.3v1.3h-1.3zM99.5 89.4h1.3v1.3h-1.3zM94.0 73.8h1.3v1.3h-1.3zM88.0 81.5h1.3v1.3h-1.3zM114.1 73.2h1.3v1.3h-1.3zM93.4 81.2h1.3v1.3h-1.3zM113.4 71.9h1.3v1.3h-1.3zM96.5 85.8h1.3v1.3h-1.3zM94.7 86.7h1.3v1.3h-1.3zM103.7 73.9h1.3v1.3h-1.3zM96.3 90.1h1.3v1.3h-1.3zM100.7 80.1h1.3v1.3h-1.3zM103.8 75.7h1.3v1.3h-1.3zM90.8 106.0h1.3v1.3h-1.3zM102.0 61.1h1.3v1.3h-1.3zM90.0 107.6h1.3v1.3h-1.3zM88.5 80.9h1.3v1.3h-1.3zM115.4 68.3h1.3v1.3h-1.3zM117.2 73.2h1.3v1.3h-1.3zM105.8 64.4h1.3v1.3h-1.3zM103.7 65.8h1.3v1.3h-1.3zM84.5 74.0h1.3v1.3h-1.3zM112.6 75.3h1.3v1.3h-1.3zM81.5 82.7h1.3v1.3h-1.3zM92.8 85.1h1.3v1.3h-1.3zM82.5 83.6h1.3v1.3h-1.3zM117.8 74.3h1.3v1.3h-1.3zM100.5 79.4h1.3v1.3h-1.3zM87.3 90.2h1.3v1.3h-1.3zM110.8 61.3h1.3v1.3h-1.3zM95.8 65.7h1.3v1.3h-1.3zM105.1 58.6h1.3v1.3h-1.3zM123.4 70.1h1.3v1.3h-1.3zM109.5 69.2h1.3v1.3h-1.3zM81.7 77.6h1.3v1.3h-1.3zM91.6 67.1h1.3v1.3h-1.3zM113.1 76.8h1.3v1.3h-1.3zM88.0 68.2h1.3v1.3h-1.3zM99.2 83.2h1.3v1.3h-1.3zM99.8 60.0h1.3v1.3h-1.3zM115.8 59.9h1.3v1.3h-1.3zM104.7 59.7h1.3v1.3h-1.3zM99.0 57.9h1.3v1.3h-1.3zM86.4 76.4h1.3v1.3h-1.3zM90.3 69.4h1.3v1.3h-1.3zM123.6 66.4h1.3v1.3h-1.3zM109.9 70.0h1.3v1.3h-1.3zM118.4 72.7h1.3v1.3h-1.3zM101.0 78.8h1.3v1.3h-1.3zM111.3 62.5h1.3v1.3h-1.3zM111.2 73.4h1.3v1.3h-1.3zM94.5 96.8h1.3v1.3h-1.3zM83.9 95.7h1.3v1.3h-1.3zM122.0 72.5h1.3v1.3h-1.3zM81.7 87.4h1.3v1.3h-1.3zM88.7 65.6h1.3v1.3h-1.3zM121.5 66.8h1.3v1.3h-1.3zM107.0 76.2h1.3v1.3h-1.3zM92.3 100.9h1.3v1.3h-1.3zM110.4 65.9h1.3v1.3h-1.3zM90.2 68.7h1.3v1.3h-1.3zM110.3 68.1h1.3v1.3h-1.3zM90.5 92.3h1.3v1.3h-1.3zM105.1 75.8h1.3v1.3h-1.3zM106.6 77.7h1.3v1.3h-1.3zM96.9 88.4h1.3v1.3h-1.3zM87.2 83.8h1.3v1.3h-1.3zM96.4 75.8h1.3v1.3h-1.3zM86.3 99.1h1.3v1.3h-1.3zM99.8 84.2h1.3v1.3h-1.3zM116.1 61.8h1.3v1.3h-1.3zM90.8 104.1h1.3v1.3h-1.3zM113.3 72.1h1.3v1.3h-1.3zM110.4 76.3h1.3v1.3h-1.3zM89.2 99.5h1.3v1.3h-1.3zM108.0 71.2h1.3v1.3h-1.3zM94.7 75.2h1.3v1.3h-1.3zM115.1 61.5h1.3v1.3h-1.3zM91.0 83.4h1.3v1.3h-1.3zM110.0 67.4h1.3v1.3h-1.3zM85.5 99.9h1.3v1.3h-1.3zM82.0 102.9h1.3v1.3h-1.3zM105.6 66.6h1.3v1.3h-1.3zM81.1 98.7h1.3v1.3h-1.3zM98.7 87.9h1.3v1.3h-1.3zM85.8 84.8h1.3v1.3h-1.3zM84.3 97.0h1.3v1.3h-1.3zM89.2 78.0h1.3v1.3h-1.3zM113.9 64.7h1.3v1.3h-1.3zM110.4 67.7h1.3v1.3h-1.3zM99.6 72.6h1.3v1.3h-1.3zM111.4 63.9h1.3v1.3h-1.3zM93.2 81.1h1.3v1.3h-1.3zM119.2 76.6h1.3v1.3h-1.3zM86.1 87.6h1.3v1.3h-1.3zM125.3 70.1h1.3v1.3h-1.3zM106.7 58.5h1.3v1.3h-1.3zM99.3 67.5h1.3v1.3h-1.3zM121.5 66.5h1.3v1.3h-1.3zM93.9 85.2h1.3v1.3h-1.3zM111.5 64.6h1.3v1.3h-1.3zM86.6 93.8h1.3v1.3h-1.3zM112.4 61.5h1.3v1.3h-1.3zM83.2 103.1h1.3v1.3h-1.3zM83.7 104.1h1.3v1.3h-1.3zM83.3 93.2h1.3v1.3h-1.3zM122.4 66.6h1.3v1.3h-1.3zM86.5 76.5h1.3v1.3h-1.3zM83.3 99.7h1.3v1.3h-1.3zM123.2 69.3h1.3v1.3h-1.3zM109.2 72.9h1.3v1.3h-1.3zM92.3 74.1h1.3v1.3h-1.3zM101.2 62.5h1.3v1.3h-1.3zM106.2 65.7h1.3v1.3h-1.3zM113.2 57.8h1.3v1.3h-1.3zM91.7 99.2h1.3v1.3h-1.3zM104.9 58.7h1.3v1.3h-1.3zM80.5 87.8h1.3v1.3h-1.3zM110.5 75.3h1.3v1.3h-1.3zM91.0 85.0h1.3v1.3h-1.3zM122.2 72.2h1.3v1.3h-1.3zM90.2 92.7h1.3v1.3h-1.3zM101.4 61.3h1.3v1.3h-1.3zM91.6 88.6h1.3v1.3h-1.3zM107.1 68.5h1.3v1.3h-1.3zM109.1 67.4h1.3v1.3h-1.3zM92.5 68.4h1.3v1.3h-1.3zM116.1 60.9h1.3v1.3h-1.3zM98.2 73.7h1.3v1.3h-1.3zM81.8 94.8h1.3v1.3h-1.3zM100.1 71.2h1.3v1.3h-1.3zM106.1 79.4h1.3v1.3h-1.3zM86.3 104.5h1.3v1.3h-1.3zM81.8 84.2h1.3v1.3h-1.3zM102.0 83.7h1.3v1.3h-1.3zM83.5 86.6h1.3v1.3h-1.3zM85.2 90.5h1.3v1.3h-1.3zM103.2 71.4h1.3v1.3h-1.3zM95.4 72.8h1.3v1.3h-1.3zM89.9 82.5h1.3v1.3h-1.3zM81.6 94.7h1.3v1.3h-1.3zM113.8 65.1h1.3v1.3h-1.3zM92.4 75.6h1.3v1.3h-1.3zM97.5 61.0h1.3v1.3h-1.3zM122.3 66.4h1.3v1.3h-1.3zM102.4 70.2h1.3v1.3h-1.3zM84.3 84.5h1.3v1.3h-1.3zM92.0 91.0h1.3v1.3h-1.3zM88.6 68.4h1.3v1.3h-1.3zM85.5 103.5h1.3v1.3h-1.3zM113.7 62.0h1.3v1.3h-1.3zM90.2 85.1h1.3v1.3h-1.3zM96.4 74.4h1.3v1.3h-1.3zM92.7 99.8h1.3v1.3h-1.3zM107.1 79.2h1.3v1.3h-1.3zM91.1 100.6h1.3v1.3h-1.3zM93.8 73.6h1.3v1.3h-1.3zM122.0 74.6h1.3v1.3h-1.3zM108.5 66.0h1.3v1.3h-1.3zM84.1 88.8h1.3v1.3h-1.3zM90.7 83.1h1.3v1.3h-1.3zM93.0 88.9h1.3v1.3h-1.3zM87.4 87.3h1.3v1.3h-1.3zM92.9 75.3h1.3v1.3h-1.3zM100.5 72.0h1.3v1.3h-1.3zM93.0 78.3h1.3v1.3h-1.3zM101.1 78.0h1.3v1.3h-1.3zM88.4 98.8h1.3v1.3h-1.3zM105.1 59.2h1.3v1.3h-1.3zM106.6 68.5h1.3v1.3h-1.3zM109.5 66.3h1.3v1.3h-1.3zM91.0 80.6h1.3v1.3h-1.3zM94.6 92.9h1.3v1.3h-1.3zM98.6 75.7h1.3v1.3h-1.3zM96.3 70.1h1.3v1.3h-1.3zM106.3 69.7h1.3v1.3h-1.3zM94.2 61.6h1.3v1.3h-1.3zM98.1 65.5h1.3v1.3h-1.3zM86.5 78.9h1.3v1.3h-1.3zM94.2 82.5h1.3v1.3h-1.3zM96.1 75.9h1.3v1.3h-1.3zM105.1 80.7h1.3v1.3h-1.3zM88.0 62.0h1.3v1.3h-1.3zM109.9 75.4h1.3v1.3h-1.3zM92.8 75.6h1.3v1.3h-1.3zM97.0 83.7h1.3v1.3h-1.3zM99.9 59.1h1.3v1.3h-1.3zM80.9 100.1h1.3v1.3h-1.3zM82.9 100.6h1.3v1.3h-1.3zM100.6 64.5h1.3v1.3h-1.3zM82.3 96.4h1.3v1.3h-1.3zM88.1 78.2h1.3v1.3h-1.3zM107.8 74.0h1.3v1.3h-1.3zM120.1 74.4h1.3v1.3h-1.3zM98.2 70.3h1.3v1.3h-1.3zM83.2 90.0h1.3v1.3h-1.3zM85.3 105.2h1.3v1.3h-1.3zM89.9 70.0h1.3v1.3h-1.3zM118.6 79.1h1.3v1.3h-1.3zM86.1 95.1h1.3v1.3h-1.3zM102.9 59.8h1.3v1.3h-1.3zM101.2 72.7h1.3v1.3h-1.3zM93.9 84.5h1.3v1.3h-1.3zM102.5 61.1h1.3v1.3h-1.3zM87.3 95.6h1.3v1.3h-1.3zM96.3 84.3h1.3v1.3h-1.3zM95.8 87.0h1.3v1.3h-1.3zM85.5 82.6h1.3v1.3h-1.3zM99.0 62.2h1.3v1.3h-1.3zM88.3 67.5h1.3v1.3h-1.3zM86.3 109.2h1.3v1.3h-1.3zM89.2 67.7h1.3v1.3h-1.3zM103.0 69.7h1.3v1.3h-1.3zM96.9 67.9h1.3v1.3h-1.3zM101.3 70.3h1.3v1.3h-1.3zM113.4 71.7h1.3v1.3h-1.3zM102.1 69.2h1.3v1.3h-1.3zM93.5 101.0h1.3v1.3h-1.3zM80.3 87.9h1.3v1.3h-1.3zM118.4 70.3h1.3v1.3h-1.3zM106.9 68.3h1.3v1.3h-1.3zM90.3 65.7h1.3v1.3h-1.3zM88.2 82.6h1.3v1.3h-1.3zM93.0 103.8h1.3v1.3h-1.3zM122.5 77.6h1.3v1.3h-1.3zM89.0 88.3h1.3v1.3h-1.3zM86.5 89.4h1.3v1.3h-1.3zM110.8 78.9h1.3v1.3h-1.3zM118.9 77.8h1.3v1.3h-1.3zM105.5 69.1h1.3v1.3h-1.3zM96.4 74.0h1.3v1.3h-1.3zM93.0 95.5h1.3v1.3h-1.3zM89.2 64.6h1.3v1.3h-1.3zM118.1 68.8h1.3v1.3h-1.3zM88.2 107.6h1.3v1.3h-1.3zM88.3 86.6h1.3v1.3h-1.3zM106.4 73.5h1.3v1.3h-1.3zM118.7 63.4h1.3v1.3h-1.3zM87.1 71.1h1.3v1.3h-1.3zM89.5 106.2h1.3v1.3h-1.3zM106.8 72.7h1.3v1.3h-1.3zM81.9 91.6h1.3v1.3h-1.3zM116.7 65.8h1.3v1.3h-1.3zM95.4 73.8h1.3v1.3h-1.3zM85.5 67.9h1.3v1.3h-1.3zM119.9 62.7h1.3v1.3h-1.3zM112.6 77.2h1.3v1.3h-1.3zM98.7 60.4h1.3v1.3h-1.3zM108.1 64.9h1.3v1.3h-1.3zM86.7 74.9h1.3v1.3h-1.3zM100.5 63.4h1.3v1.3h-1.3zM92.2 101.4h1.3v1.3h-1.3zM106.6 58.3h1.3v1.3h-1.3zM99.3 80.1h1.3v1.3h-1.3zM107.9 78.4h1.3v1.3h-1.3zM116.8 74.4h1.3v1.3h-1.3zM105.0 76.2h1.3v1.3h-1.3zM111.6 76.3h1.3v1.3h-1.3zM92.4 93.3h1.3v1.3h-1.3zM102.1 63.7h1.3v1.3h-1.3zM123.3 65.7h1.3v1.3h-1.3zM80.7 94.1h1.3v1.3h-1.3zM119.0 71.6h1.3v1.3h-1.3zM97.6 69.5h1.3v1.3h-1.3zM91.5 98.1h1.3v1.3h-1.3zM100.0 75.9h1.3v1.3h-1.3zM118.0 59.7h1.3v1.3h-1.3zM90.8 102.4h1.3v1.3h-1.3zM92.2 88.0h1.3v1.3h-1.3zM85.2 82.5h1.3v1.3h-1.3zM113.4 59.2h1.3v1.3h-1.3zM87.9 69.5h1.3v1.3h-1.3zM88.9 73.8h1.3v1.3h-1.3zM93.9 75.9h1.3v1.3h-1.3zM93.9 70.5h1.3v1.3h-1.3zM106.5 66.7h1.3v1.3h-1.3zM111.6 63.7h1.3v1.3h-1.3zM95.2 65.3h1.3v1.3h-1.3zM103.5 71.0h1.3v1.3h-1.3zM108.3 75.4h1.3v1.3h-1.3zM90.7 103.3h1.3v1.3h-1.3zM103.5 61.1h1.3v1.3h-1.3zM100.9 66.1h1.3v1.3h-1.3zM83.2 87.4h1.3v1.3h-1.3zM88.0 92.1h1.3v1.3h-1.3zM94.2 90.0h1.3v1.3h-1.3zM101.7 64.3h1.3v1.3h-1.3zM88.2 80.4h1.3v1.3h-1.3zM109.9 63.8h1.3v1.3h-1.3zM91.7 101.0h1.3v1.3h-1.3zM95.2 80.8h1.3v1.3h-1.3zM115.6 71.4h1.3v1.3h-1.3zM120.1 65.7h1.3v1.3h-1.3zM107.2 65.8h1.3v1.3h-1.3zM96.3 86.3h1.3v1.3h-1.3zM93.7 90.7h1.3v1.3h-1.3zM84.3 86.9h1.3v1.3h-1.3zM88.9 81.5h1.3v1.3h-1.3zM87.6 68.6h1.3v1.3h-1.3zM109.7 71.0h1.3v1.3h-1.3zM83.9 89.5h1.3v1.3h-1.3zM120.5 65.7h1.3v1.3h-1.3zM88.7 102.3h1.3v1.3h-1.3zM92.5 84.4h1.3v1.3h-1.3zM106.1 77.1h1.3v1.3h-1.3zM99.5 72.9h1.3v1.3h-1.3zM97.9 77.7h1.3v1.3h-1.3zM92.7 81.0h1.3v1.3h-1.3zM115.7 60.5h1.3v1.3h-1.3zM91.4 92.9h1.3v1.3h-1.3zM88.5 69.1h1.3v1.3h-1.3zM104.0 65.0h1.3v1.3h-1.3zM95.4 62.5h1.3v1.3h-1.3zM96.5 80.2h1.3v1.3h-1.3zM85.8 85.7h1.3v1.3h-1.3zM82.0 99.6h1.3v1.3h-1.3zM113.4 76.0h1.3v1.3h-1.3zM95.2 81.1h1.3v1.3h-1.3zM89.7 66.2h1.3v1.3h-1.3zM94.7 70.5h1.3v1.3h-1.3zM110.1 65.2h1.3v1.3h-1.3zM95.6 96.3h1.3v1.3h-1.3zM92.7 77.7h1.3v1.3h-1.3zM85.3 105.9h1.3v1.3h-1.3zM121.2 60.4h1.3v1.3h-1.3zM95.1 95.4h1.3v1.3h-1.3zM88.1 101.6h1.3v1.3h-1.3zM99.8 80.8h1.3v1.3h-1.3zM103.8 68.0h1.3v1.3h-1.3zM90.0 101.3h1.3v1.3h-1.3zM100.5 62.2h1.3v1.3h-1.3zM92.6 104.0h1.3v1.3h-1.3zM114.9 67.9h1.3v1.3h-1.3zM84.5 74.9h1.3v1.3h-1.3zM97.7 71.5h1.3v1.3h-1.3zM91.2 80.6h1.3v1.3h-1.3zM104.8 62.1h1.3v1.3h-1.3zM98.7 68.1h1.3v1.3h-1.3zM113.4 63.7h1.3v1.3h-1.3zM94.6 68.4h1.3v1.3h-1.3zM84.4 85.8h1.3v1.3h-1.3zM88.9 83.6h1.3v1.3h-1.3zM116.9 76.2h1.3v1.3h-1.3zM100.9 58.7h1.3v1.3h-1.3zM86.2 94.7h1.3v1.3h-1.3zM82.9 83.0h1.3v1.3h-1.3zM113.5 63.8h1.3v1.3h-1.3zM112.9 75.8h1.3v1.3h-1.3zM104.7 75.9h1.3v1.3h-1.3zM101.5 70.4h1.3v1.3h-1.3zM93.9 86.3h1.3v1.3h-1.3zM119.5 67.5h1.3v1.3h-1.3zM87.2 93.4h1.3v1.3h-1.3zM104.4 71.7h1.3v1.3h-1.3zM112.2 64.9h1.3v1.3h-1.3zM91.5 92.4h1.3v1.3h-1.3zM103.0 71.6h1.3v1.3h-1.3zM92.9 78.0h1.3v1.3h-1.3zM85.6 82.7h1.3v1.3h-1.3zM104.8 59.9h1.3v1.3h-1.3zM109.4 73.0h1.3v1.3h-1.3zM105.2 71.8h1.3v1.3h-1.3zM107.3 59.3h1.3v1.3h-1.3zM99.5 72.2h1.3v1.3h-1.3zM92.4 85.1h1.3v1.3h-1.3zM93.3 97.0h1.3v1.3h-1.3zM120.4 74.9h1.3v1.3h-1.3zM102.6 73.3h1.3v1.3h-1.3zM120.7 59.9h1.3v1.3h-1.3zM95.4 84.7h1.3v1.3h-1.3zM83.8 84.0h1.3v1.3h-1.3zM122.4 67.6h1.3v1.3h-1.3zM97.7 78.9h1.3v1.3h-1.3zM106.7 69.2h1.3v1.3h-1.3zM82.1 93.0h1.3v1.3h-1.3zM100.9 62.6h1.3v1.3h-1.3zM95.5 83.0h1.3v1.3h-1.3zM93.4 84.0h1.3v1.3h-1.3zM111.9 61.4h1.3v1.3h-1.3zM100.9 73.8h1.3v1.3h-1.3zM95.9 85.5h1.3v1.3h-1.3zM97.0 60.6h1.3v1.3h-1.3zM104.7 73.9h1.3v1.3h-1.3zM120.5 61.7h1.3v1.3h-1.3zM86.2 82.7h1.3v1.3h-1.3zM95.3 60.4h1.3v1.3h-1.3zM101.0 73.4h1.3v1.3h-1.3zM124.8 64.8h1.3v1.3h-1.3zM86.4 108.1h1.3v1.3h-1.3zM108.5 67.4h1.3v1.3h-1.3zM118.4 62.8h1.3v1.3h-1.3zM93.6 71.2h1.3v1.3h-1.3zM98.0 79.1h1.3v1.3h-1.3zM120.0 64.7h1.3v1.3h-1.3zM105.3 73.9h1.3v1.3h-1.3zM93.6 105.8h1.3v1.3h-1.3zM110.5 71.0h1.3v1.3h-1.3zM93.6 93.5h1.3v1.3h-1.3zM109.0 61.4h1.3v1.3h-1.3zM84.6 80.9h1.3v1.3h-1.3zM91.1 60.5h1.3v1.3h-1.3zM92.5 92.5h1.3v1.3h-1.3zM84.4 80.8h1.3v1.3h-1.3zM119.5 71.1h1.3v1.3h-1.3zM83.9 105.6h1.3v1.3h-1.3zM98.7 67.3h1.3v1.3h-1.3zM93.2 76.5h1.3v1.3h-1.3zM95.7 78.2h1.3v1.3h-1.3zM101.5 80.0h1.3v1.3h-1.3zM122.0 68.2h1.3v1.3h-1.3zM90.7 96.6h1.3v1.3h-1.3zM90.4 73.8h1.3v1.3h-1.3zM108.4 73.2h1.3v1.3h-1.3zM122.1 76.3h1.3v1.3h-1.3zM84.2 72.4h1.3v1.3h-1.3zM123.3 68.6h1.3v1.3h-1.3zM103.2 58.7h1.3v1.3h-1.3zM97.2 76.3h1.3v1.3h-1.3zM123.3 65.8h1.3v1.3h-1.3zM98.0 76.1h1.3v1.3h-1.3zM104.9 74.0h1.3v1.3h-1.3zM106.7 66.4h1.3v1.3h-1.3zM91.5 63.6h1.3v1.3h-1.3zM83.9 84.9h1.3v1.3h-1.3zM97.8 88.8h1.3v1.3h-1.3zM90.1 90.6h1.3v1.3h-1.3zM117.1 76.7h1.3v1.3h-1.3zM100.9 84.8h1.3v1.3h-1.3zM102.2 74.9h1.3v1.3h-1.3zM109.4 73.6h1.3v1.3h-1.3zM118.9 70.3h1.3v1.3h-1.3zM82.4 101.5h1.3v1.3h-1.3zM94.3 93.4h1.3v1.3h-1.3zM93.7 99.5h1.3v1.3h-1.3zM121.4 67.9h1.3v1.3h-1.3zM123.1 72.2h1.3v1.3h-1.3zM90.8 101.7h1.3v1.3h-1.3zM86.4 75.1h1.3v1.3h-1.3zM105.7 67.4h1.3v1.3h-1.3zM87.1 101.0h1.3v1.3h-1.3zM121.4 69.1h1.3v1.3h-1.3zM113.4 66.4h1.3v1.3h-1.3zM93.4 67.4h1.3v1.3h-1.3zM93.1 100.3h1.3v1.3h-1.3zM119.5 62.3h1.3v1.3h-1.3zM90.7 63.2h1.3v1.3h-1.3zM108.5 61.9h1.3v1.3h-1.3zM85.7 108.9h1.3v1.3h-1.3zM105.9 82.8h1.3v1.3h-1.3zM105.2 66.7h1.3v1.3h-1.3zM91.0 73.2h1.3v1.3h-1.3zM95.3 80.7h1.3v1.3h-1.3zM88.4 69.4h1.3v1.3h-1.3zM103.5 65.1h1.3v1.3h-1.3zM107.8 75.1h1.3v1.3h-1.3zM119.4 62.6h1.3v1.3h-1.3zM97.8 71.8h1.3v1.3h-1.3zM120.2 72.7h1.3v1.3h-1.3zM95.4 74.4h1.3v1.3h-1.3zM89.7 103.2h1.3v1.3h-1.3zM83.1 84.0h1.3v1.3h-1.3zM123.4 62.6h1.3v1.3h-1.3zM95.0 74.1h1.3v1.3h-1.3zM108.8 77.5h1.3v1.3h-1.3zM88.7 89.4h1.3v1.3h-1.3zM122.6 70.1h1.3v1.3h-1.3zM120.0 73.9h1.3v1.3h-1.3zM103.7 58.9h1.3v1.3h-1.3zM90.6 75.3h1.3v1.3h-1.3zM101.4 61.7h1.3v1.3h-1.3zM81.8 92.2h1.3v1.3h-1.3zM82.8 83.4h1.3v1.3h-1.3zM111.8 76.3h1.3v1.3h-1.3zM113.4 59.1h1.3v1.3h-1.3zM88.5 68.8h1.3v1.3h-1.3zM85.2 96.1h1.3v1.3h-1.3zM108.7 73.8h1.3v1.3h-1.3zM107.0 79.2h1.3v1.3h-1.3zM108.0 69.8h1.3v1.3h-1.3zM93.8 81.4h1.3v1.3h-1.3zM83.2 97.9h1.3v1.3h-1.3zM106.9 77.1h1.3v1.3h-1.3zM93.0 104.8h1.3v1.3h-1.3zM107.8 66.5h1.3v1.3h-1.3zM93.6 81.7h1.3v1.3h-1.3zM88.8 87.4h1.3v1.3h-1.3zM89.1 64.4h1.3v1.3h-1.3zM108.0 58.6h1.3v1.3h-1.3zM83.6 104.4h1.3v1.3h-1.3zM114.3 61.5h1.3v1.3h-1.3zM116.0 64.9h1.3v1.3h-1.3zM89.4 72.2h1.3v1.3h-1.3zM109.1 73.9h1.3v1.3h-1.3zM102.0 69.4h1.3v1.3h-1.3zM92.7 81.4h1.3v1.3h-1.3zM83.2 78.1h1.3v1.3h-1.3zM111.6 67.7h1.3v1.3h-1.3zM104.4 82.5h1.3v1.3h-1.3zM93.4 84.0h1.3v1.3h-1.3zM87.5 100.1h1.3v1.3h-1.3zM106.3 70.5h1.3v1.3h-1.3zM95.2 95.3h1.3v1.3h-1.3zM113.4 73.4h1.3v1.3h-1.3zM81.7 101.8h1.3v1.3h-1.3zM112.0 66.0h1.3v1.3h-1.3zM95.0 95.7h1.3v1.3h-1.3zM67.5 109.6h1.3v1.3h-1.3zM69.9 112.8h1.3v1.3h-1.3zM62.5 110.2h1.3v1.3h-1.3zM71.3 92.5h1.3v1.3h-1.3zM64.9 117.2h1.3v1.3h-1.3zM69.3 94.9h1.3v1.3h-1.3zM78.4 101.9h1.3v1.3h-1.3zM76.5 107.7h1.3v1.3h-1.3zM72.6 114.7h1.3v1.3h-1.3zM78.5 112.5h1.3v1.3h-1.3zM74.5 115.4h1.3v1.3h-1.3zM61.6 98.6h1.3v1.3h-1.3zM59.5 124.3h1.3v1.3h-1.3zM52.3 141.5h1.3v1.3h-1.3zM51.7 130.8h1.3v1.3h-1.3zM60.9 128.4h1.3v1.3h-1.3zM59.4 131.5h1.3v1.3h-1.3zM59.5 123.8h1.3v1.3h-1.3zM45.4 121.8h1.3v1.3h-1.3zM54.9 139.8h1.3v1.3h-1.3zM50.2 132.3h1.3v1.3h-1.3zM48.3 129.1h1.3v1.3h-1.3zM56.0 123.0h1.3v1.3h-1.3zM50.5 125.2h1.3v1.3h-1.3zM54.6 135.1h1.3v1.3h-1.3zM51.9 121.5h1.3v1.3h-1.3zM49.3 131.1h1.3v1.3h-1.3zM85.9 96.1h1.3v1.3h-1.3zM86.3 104.1h1.3v1.3h-1.3zM103.2 73.3h1.3v1.3h-1.3zM98.7 89.9h1.3v1.3h-1.3zM116.8 52.0h1.3v1.3h-1.3zM108.1 79.2h1.3v1.3h-1.3zM101.5 63.6h1.3v1.3h-1.3zM79.0 64.5h1.3v1.3h-1.3zM102.6 69.3h1.3v1.3h-1.3zM91.8 75.9h1.3v1.3h-1.3zM100.7 59.0h1.3v1.3h-1.3zM84.8 85.1h1.3v1.3h-1.3zM118.0 76.4h1.3v1.3h-1.3zM94.2 80.7h1.3v1.3h-1.3zM117.0 66.5h1.3v1.3h-1.3z"/><path id="pEM" d="M119.2 98.8h1.3v1.3h-1.3zM128.0 104.8h1.3v1.3h-1.3zM125.6 105.5h1.3v1.3h-1.3zM123.2 87.7h1.3v1.3h-1.3zM101.0 93.9h1.3v1.3h-1.3zM117.6 113.6h1.3v1.3h-1.3zM103.3 105.7h1.3v1.3h-1.3zM110.4 91.1h1.3v1.3h-1.3zM123.7 100.6h1.3v1.3h-1.3zM104.1 105.5h1.3v1.3h-1.3zM125.7 103.4h1.3v1.3h-1.3zM122.8 103.2h1.3v1.3h-1.3zM121.2 85.2h1.3v1.3h-1.3zM130.0 103.4h1.3v1.3h-1.3zM121.0 110.0h1.3v1.3h-1.3zM107.0 91.1h1.3v1.3h-1.3zM98.9 103.1h1.3v1.3h-1.3zM118.3 84.2h1.3v1.3h-1.3zM95.6 110.2h1.3v1.3h-1.3zM107.5 92.7h1.3v1.3h-1.3zM97.1 114.8h1.3v1.3h-1.3zM104.8 94.4h1.3v1.3h-1.3zM99.7 96.2h1.3v1.3h-1.3zM128.2 106.5h1.3v1.3h-1.3zM104.3 107.9h1.3v1.3h-1.3zM107.3 114.9h1.3v1.3h-1.3zM106.0 114.4h1.3v1.3h-1.3zM107.3 113.6h1.3v1.3h-1.3zM102.4 110.9h1.3v1.3h-1.3zM114.3 87.9h1.3v1.3h-1.3zM117.0 110.8h1.3v1.3h-1.3zM125.9 106.7h1.3v1.3h-1.3zM116.8 104.2h1.3v1.3h-1.3zM104.1 87.8h1.3v1.3h-1.3zM111.5 87.9h1.3v1.3h-1.3zM116.2 89.7h1.3v1.3h-1.3zM109.1 107.0h1.3v1.3h-1.3zM115.7 85.9h1.3v1.3h-1.3zM106.1 91.1h1.3v1.3h-1.3zM101.5 113.2h1.3v1.3h-1.3zM112.9 87.7h1.3v1.3h-1.3zM115.9 93.6h1.3v1.3h-1.3zM98.1 102.7h1.3v1.3h-1.3zM94.4 104.2h1.3v1.3h-1.3zM106.8 96.5h1.3v1.3h-1.3zM118.0 106.9h1.3v1.3h-1.3zM115.5 103.1h1.3v1.3h-1.3zM97.0 101.3h1.3v1.3h-1.3zM117.5 83.1h1.3v1.3h-1.3zM113.0 105.2h1.3v1.3h-1.3zM116.1 112.5h1.3v1.3h-1.3zM120.3 110.8h1.3v1.3h-1.3zM100.3 99.5h1.3v1.3h-1.3zM127.2 89.0h1.3v1.3h-1.3zM109.1 105.4h1.3v1.3h-1.3zM111.1 87.1h1.3v1.3h-1.3zM101.6 95.0h1.3v1.3h-1.3zM94.4 108.8h1.3v1.3h-1.3zM118.9 87.9h1.3v1.3h-1.3zM121.4 112.1h1.3v1.3h-1.3zM108.8 109.8h1.3v1.3h-1.3zM110.3 96.0h1.3v1.3h-1.3zM112.6 86.4h1.3v1.3h-1.3zM97.3 97.3h1.3v1.3h-1.3zM103.9 88.9h1.3v1.3h-1.3zM97.9 95.2h1.3v1.3h-1.3zM115.5 109.2h1.3v1.3h-1.3zM114.4 85.1h1.3v1.3h-1.3zM124.2 98.2h1.3v1.3h-1.3zM119.6 106.8h1.3v1.3h-1.3zM110.4 89.0h1.3v1.3h-1.3zM106.3 109.5h1.3v1.3h-1.3zM117.2 107.0h1.3v1.3h-1.3zM99.0 110.0h1.3v1.3h-1.3zM111.0 97.4h1.3v1.3h-1.3zM120.4 87.1h1.3v1.3h-1.3zM111.4 111.3h1.3v1.3h-1.3zM126.5 103.6h1.3v1.3h-1.3zM99.4 112.4h1.3v1.3h-1.3zM114.5 88.1h1.3v1.3h-1.3zM94.1 105.1h1.3v1.3h-1.3zM104.2 91.3h1.3v1.3h-1.3zM117.7 108.1h1.3v1.3h-1.3zM96.7 113.3h1.3v1.3h-1.3zM117.2 92.3h1.3v1.3h-1.3zM99.7 91.8h1.3v1.3h-1.3zM111.0 94.8h1.3v1.3h-1.3zM105.4 94.2h1.3v1.3h-1.3zM113.2 83.8h1.3v1.3h-1.3zM114.5 86.9h1.3v1.3h-1.3zM108.7 110.2h1.3v1.3h-1.3zM122.6 106.4h1.3v1.3h-1.3zM108.4 106.5h1.3v1.3h-1.3zM101.9 114.7h1.3v1.3h-1.3zM98.7 107.1h1.3v1.3h-1.3zM118.2 94.6h1.3v1.3h-1.3zM116.8 88.0h1.3v1.3h-1.3zM96.9 110.4h1.3v1.3h-1.3zM126.1 92.7h1.3v1.3h-1.3zM108.6 109.3h1.3v1.3h-1.3zM116.2 85.0h1.3v1.3h-1.3zM111.3 91.5h1.3v1.3h-1.3zM124.2 105.0h1.3v1.3h-1.3zM119.9 109.3h1.3v1.3h-1.3zM119.7 91.5h1.3v1.3h-1.3zM109.9 98.5h1.3v1.3h-1.3zM116.9 113.3h1.3v1.3h-1.3zM107.0 88.4h1.3v1.3h-1.3zM115.6 111.3h1.3v1.3h-1.3zM122.5 87.2h1.3v1.3h-1.3zM113.8 95.9h1.3v1.3h-1.3zM121.0 88.3h1.3v1.3h-1.3zM100.6 108.6h1.3v1.3h-1.3zM105.6 99.1h1.3v1.3h-1.3zM116.5 109.6h1.3v1.3h-1.3zM115.8 103.0h1.3v1.3h-1.3zM117.8 99.5h1.3v1.3h-1.3zM118.7 92.4h1.3v1.3h-1.3zM105.3 107.7h1.3v1.3h-1.3zM98.3 110.5h1.3v1.3h-1.3zM105.4 96.9h1.3v1.3h-1.3zM105.0 90.3h1.3v1.3h-1.3zM121.1 84.3h1.3v1.3h-1.3zM113.7 107.1h1.3v1.3h-1.3zM126.7 89.8h1.3v1.3h-1.3zM104.2 113.5h1.3v1.3h-1.3zM96.0 113.7h1.3v1.3h-1.3zM115.9 112.6h1.3v1.3h-1.3zM105.8 99.4h1.3v1.3h-1.3zM120.4 90.7h1.3v1.3h-1.3zM99.3 107.7h1.3v1.3h-1.3zM112.3 102.1h1.3v1.3h-1.3zM105.9 94.6h1.3v1.3h-1.3zM100.2 110.2h1.3v1.3h-1.3zM103.1 106.4h1.3v1.3h-1.3zM96.4 107.0h1.3v1.3h-1.3zM97.6 98.1h1.3v1.3h-1.3zM112.4 85.1h1.3v1.3h-1.3zM117.2 89.5h1.3v1.3h-1.3zM124.0 83.5h1.3v1.3h-1.3zM125.7 109.4h1.3v1.3h-1.3zM105.0 87.8h1.3v1.3h-1.3zM124.4 104.5h1.3v1.3h-1.3zM106.6 87.2h1.3v1.3h-1.3zM127.2 98.0h1.3v1.3h-1.3zM109.4 114.4h1.3v1.3h-1.3zM110.5 105.9h1.3v1.3h-1.3zM100.3 102.2h1.3v1.3h-1.3zM108.4 95.6h1.3v1.3h-1.3zM110.9 109.6h1.3v1.3h-1.3zM125.3 105.7h1.3v1.3h-1.3zM124.4 101.7h1.3v1.3h-1.3zM115.3 82.6h1.3v1.3h-1.3zM94.6 110.4h1.3v1.3h-1.3zM111.5 95.1h1.3v1.3h-1.3zM102.3 104.5h1.3v1.3h-1.3zM103.2 108.8h1.3v1.3h-1.3zM93.6 108.9h1.3v1.3h-1.3zM101.4 108.8h1.3v1.3h-1.3zM105.3 99.4h1.3v1.3h-1.3zM102.8 114.5h1.3v1.3h-1.3zM94.9 109.4h1.3v1.3h-1.3zM121.3 89.8h1.3v1.3h-1.3zM109.6 97.6h1.3v1.3h-1.3zM121.2 95.2h1.3v1.3h-1.3zM119.6 86.8h1.3v1.3h-1.3zM113.9 94.0h1.3v1.3h-1.3zM107.5 109.9h1.3v1.3h-1.3zM115.3 99.2h1.3v1.3h-1.3zM108.0 89.3h1.3v1.3h-1.3zM125.2 102.7h1.3v1.3h-1.3zM115.4 86.9h1.3v1.3h-1.3zM123.5 94.8h1.3v1.3h-1.3zM114.5 90.1h1.3v1.3h-1.3zM107.9 95.4h1.3v1.3h-1.3zM112.3 113.1h1.3v1.3h-1.3zM114.3 114.7h1.3v1.3h-1.3zM108.5 106.1h1.3v1.3h-1.3zM127.6 86.8h1.3v1.3h-1.3zM123.3 108.7h1.3v1.3h-1.3zM127.9 92.7h1.3v1.3h-1.3zM123.3 102.9h1.3v1.3h-1.3zM97.3 103.6h1.3v1.3h-1.3zM114.7 113.3h1.3v1.3h-1.3zM114.7 105.4h1.3v1.3h-1.3zM108.1 85.1h1.3v1.3h-1.3zM105.8 112.2h1.3v1.3h-1.3zM109.3 95.6h1.3v1.3h-1.3zM110.9 85.1h1.3v1.3h-1.3zM123.8 96.3h1.3v1.3h-1.3zM108.5 102.5h1.3v1.3h-1.3zM124.6 95.7h1.3v1.3h-1.3zM108.0 88.2h1.3v1.3h-1.3zM105.5 97.5h1.3v1.3h-1.3zM113.3 105.7h1.3v1.3h-1.3zM107.2 109.2h1.3v1.3h-1.3zM102.3 113.1h1.3v1.3h-1.3zM111.7 97.4h1.3v1.3h-1.3zM105.4 90.8h1.3v1.3h-1.3zM115.8 88.6h1.3v1.3h-1.3zM118.4 86.4h1.3v1.3h-1.3zM119.7 106.3h1.3v1.3h-1.3zM97.9 98.4h1.3v1.3h-1.3zM94.8 100.8h1.3v1.3h-1.3zM117.0 114.8h1.3v1.3h-1.3zM112.5 115.0h1.3v1.3h-1.3zM124.8 91.8h1.3v1.3h-1.3zM114.1 97.2h1.3v1.3h-1.3zM112.3 112.6h1.3v1.3h-1.3zM123.7 108.9h1.3v1.3h-1.3zM100.3 107.2h1.3v1.3h-1.3zM126.5 98.7h1.3v1.3h-1.3zM99.7 102.9h1.3v1.3h-1.3zM126.4 91.3h1.3v1.3h-1.3zM118.3 109.3h1.3v1.3h-1.3zM108.7 107.8h1.3v1.3h-1.3zM116.5 96.5h1.3v1.3h-1.3zM105.0 97.1h1.3v1.3h-1.3zM121.7 112.2h1.3v1.3h-1.3zM95.6 115.6h1.3v1.3h-1.3zM119.4 89.5h1.3v1.3h-1.3zM113.4 93.1h1.3v1.3h-1.3zM125.3 83.7h1.3v1.3h-1.3zM108.1 99.2h1.3v1.3h-1.3zM98.7 98.6h1.3v1.3h-1.3zM128.0 102.0h1.3v1.3h-1.3zM124.2 87.3h1.3v1.3h-1.3zM119.6 110.4h1.3v1.3h-1.3zM127.4 88.1h1.3v1.3h-1.3zM98.4 97.2h1.3v1.3h-1.3zM128.5 95.7h1.3v1.3h-1.3zM112.9 85.8h1.3v1.3h-1.3zM127.0 102.4h1.3v1.3h-1.3zM97.8 102.5h1.3v1.3h-1.3zM118.1 92.6h1.3v1.3h-1.3zM113.5 98.3h1.3v1.3h-1.3zM114.0 98.3h1.3v1.3h-1.3zM111.3 100.3h1.3v1.3h-1.3zM105.9 84.3h1.3v1.3h-1.3zM113.6 91.5h1.3v1.3h-1.3zM111.0 89.9h1.3v1.3h-1.3zM119.0 98.6h1.3v1.3h-1.3zM101.1 111.5h1.3v1.3h-1.3zM124.8 84.1h1.3v1.3h-1.3zM110.5 106.6h1.3v1.3h-1.3zM116.0 111.0h1.3v1.3h-1.3zM126.2 107.8h1.3v1.3h-1.3zM114.4 97.5h1.3v1.3h-1.3zM106.6 103.1h1.3v1.3h-1.3zM96.2 100.6h1.3v1.3h-1.3zM126.3 101.0h1.3v1.3h-1.3zM121.5 107.1h1.3v1.3h-1.3zM103.8 96.0h1.3v1.3h-1.3zM103.8 98.3h1.3v1.3h-1.3zM112.3 105.2h1.3v1.3h-1.3zM113.6 111.1h1.3v1.3h-1.3zM108.3 103.7h1.3v1.3h-1.3zM114.0 104.5h1.3v1.3h-1.3zM107.7 92.4h1.3v1.3h-1.3zM120.5 111.2h1.3v1.3h-1.3zM120.2 112.1h1.3v1.3h-1.3zM102.6 114.2h1.3v1.3h-1.3zM110.8 93.0h1.3v1.3h-1.3zM117.2 83.9h1.3v1.3h-1.3zM105.5 94.5h1.3v1.3h-1.3zM99.6 99.9h1.3v1.3h-1.3zM123.7 93.3h1.3v1.3h-1.3zM104.1 101.5h1.3v1.3h-1.3zM113.9 111.6h1.3v1.3h-1.3zM129.3 102.1h1.3v1.3h-1.3zM114.3 88.3h1.3v1.3h-1.3zM108.4 84.8h1.3v1.3h-1.3zM128.6 104.0h1.3v1.3h-1.3zM108.2 99.9h1.3v1.3h-1.3zM97.7 114.0h1.3v1.3h-1.3zM104.7 105.2h1.3v1.3h-1.3zM104.5 87.9h1.3v1.3h-1.3zM118.3 92.3h1.3v1.3h-1.3zM98.5 97.6h1.3v1.3h-1.3zM100.2 106.5h1.3v1.3h-1.3zM107.3 104.7h1.3v1.3h-1.3zM109.4 100.7h1.3v1.3h-1.3zM120.5 105.8h1.3v1.3h-1.3zM126.1 103.1h1.3v1.3h-1.3zM111.6 111.3h1.3v1.3h-1.3zM115.0 106.4h1.3v1.3h-1.3zM125.8 92.8h1.3v1.3h-1.3zM125.0 102.3h1.3v1.3h-1.3zM128.6 91.6h1.3v1.3h-1.3zM107.7 95.3h1.3v1.3h-1.3zM98.7 110.9h1.3v1.3h-1.3zM127.1 93.6h1.3v1.3h-1.3zM111.5 87.0h1.3v1.3h-1.3zM100.0 102.3h1.3v1.3h-1.3zM111.5 94.4h1.3v1.3h-1.3zM117.0 98.8h1.3v1.3h-1.3zM108.2 90.7h1.3v1.3h-1.3zM108.1 104.6h1.3v1.3h-1.3zM124.2 102.1h1.3v1.3h-1.3zM115.3 102.7h1.3v1.3h-1.3zM116.3 92.4h1.3v1.3h-1.3zM124.3 102.8h1.3v1.3h-1.3zM119.1 88.1h1.3v1.3h-1.3zM102.8 100.1h1.3v1.3h-1.3zM99.1 108.4h1.3v1.3h-1.3zM119.4 106.8h1.3v1.3h-1.3zM123.9 98.2h1.3v1.3h-1.3zM111.5 108.8h1.3v1.3h-1.3zM127.8 96.0h1.3v1.3h-1.3zM124.1 110.3h1.3v1.3h-1.3zM109.2 98.2h1.3v1.3h-1.3zM119.6 108.1h1.3v1.3h-1.3zM115.7 110.4h1.3v1.3h-1.3zM113.6 87.5h1.3v1.3h-1.3zM109.7 93.4h1.3v1.3h-1.3zM101.7 97.4h1.3v1.3h-1.3zM105.7 111.9h1.3v1.3h-1.3zM109.8 86.3h1.3v1.3h-1.3zM123.4 108.4h1.3v1.3h-1.3zM109.4 96.3h1.3v1.3h-1.3zM106.3 86.1h1.3v1.3h-1.3zM121.9 93.0h1.3v1.3h-1.3zM96.2 103.1h1.3v1.3h-1.3zM104.1 94.5h1.3v1.3h-1.3zM109.4 95.8h1.3v1.3h-1.3zM125.5 87.7h1.3v1.3h-1.3zM124.4 106.7h1.3v1.3h-1.3zM105.7 113.2h1.3v1.3h-1.3zM107.1 85.6h1.3v1.3h-1.3zM129.2 99.0h1.3v1.3h-1.3zM125.2 90.0h1.3v1.3h-1.3zM125.5 87.5h1.3v1.3h-1.3zM108.7 95.3h1.3v1.3h-1.3zM114.2 99.6h1.3v1.3h-1.3zM105.3 104.6h1.3v1.3h-1.3zM124.9 97.8h1.3v1.3h-1.3zM110.0 114.9h1.3v1.3h-1.3zM114.0 82.3h1.3v1.3h-1.3zM103.3 89.0h1.3v1.3h-1.3zM113.5 92.6h1.3v1.3h-1.3zM122.9 95.4h1.3v1.3h-1.3zM112.2 87.3h1.3v1.3h-1.3zM96.4 108.1h1.3v1.3h-1.3zM116.0 110.5h1.3v1.3h-1.3zM104.7 88.7h1.3v1.3h-1.3zM119.4 102.2h1.3v1.3h-1.3zM125.8 87.0h1.3v1.3h-1.3zM116.6 89.5h1.3v1.3h-1.3zM99.3 103.0h1.3v1.3h-1.3zM126.8 102.8h1.3v1.3h-1.3zM101.2 110.2h1.3v1.3h-1.3zM103.8 109.6h1.3v1.3h-1.3zM117.2 100.5h1.3v1.3h-1.3zM110.6 89.1h1.3v1.3h-1.3zM101.2 97.8h1.3v1.3h-1.3zM115.6 95.3h1.3v1.3h-1.3zM104.9 113.8h1.3v1.3h-1.3zM97.8 106.6h1.3v1.3h-1.3zM97.0 102.6h1.3v1.3h-1.3zM102.9 90.7h1.3v1.3h-1.3zM102.6 107.3h1.3v1.3h-1.3zM100.7 108.3h1.3v1.3h-1.3zM111.0 91.6h1.3v1.3h-1.3zM125.8 108.6h1.3v1.3h-1.3zM105.3 115.1h1.3v1.3h-1.3zM106.6 87.5h1.3v1.3h-1.3zM116.8 87.7h1.3v1.3h-1.3zM118.6 114.9h1.3v1.3h-1.3zM105.9 85.4h1.3v1.3h-1.3zM104.2 95.1h1.3v1.3h-1.3zM120.1 102.3h1.3v1.3h-1.3zM117.8 85.5h1.3v1.3h-1.3zM126.9 99.7h1.3v1.3h-1.3zM112.8 109.3h1.3v1.3h-1.3zM104.7 94.9h1.3v1.3h-1.3zM119.7 96.1h1.3v1.3h-1.3zM114.3 87.5h1.3v1.3h-1.3zM103.5 109.0h1.3v1.3h-1.3zM126.7 93.9h1.3v1.3h-1.3zM128.1 102.6h1.3v1.3h-1.3zM116.1 84.1h1.3v1.3h-1.3zM108.5 100.4h1.3v1.3h-1.3zM100.3 105.5h1.3v1.3h-1.3zM105.5 106.0h1.3v1.3h-1.3zM102.1 111.1h1.3v1.3h-1.3zM111.2 86.1h1.3v1.3h-1.3zM128.5 97.1h1.3v1.3h-1.3zM106.7 87.3h1.3v1.3h-1.3zM104.1 114.8h1.3v1.3h-1.3zM105.0 106.2h1.3v1.3h-1.3zM121.2 110.2h1.3v1.3h-1.3zM111.4 96.4h1.3v1.3h-1.3zM116.4 95.3h1.3v1.3h-1.3zM102.4 90.3h1.3v1.3h-1.3zM113.0 83.6h1.3v1.3h-1.3zM94.9 101.7h1.3v1.3h-1.3zM123.8 104.4h1.3v1.3h-1.3zM114.4 109.8h1.3v1.3h-1.3zM97.4 110.6h1.3v1.3h-1.3zM100.4 112.4h1.3v1.3h-1.3zM123.1 96.3h1.3v1.3h-1.3zM111.5 89.8h1.3v1.3h-1.3zM96.9 101.4h1.3v1.3h-1.3zM104.2 105.8h1.3v1.3h-1.3zM128.3 87.5h1.3v1.3h-1.3zM111.8 97.2h1.3v1.3h-1.3zM106.9 99.4h1.3v1.3h-1.3zM97.7 97.9h1.3v1.3h-1.3zM124.8 85.2h1.3v1.3h-1.3zM125.6 89.6h1.3v1.3h-1.3zM101.9 95.0h1.3v1.3h-1.3zM108.5 83.2h1.3v1.3h-1.3zM105.8 104.2h1.3v1.3h-1.3zM118.8 107.4h1.3v1.3h-1.3zM105.4 108.9h1.3v1.3h-1.3zM105.0 95.8h1.3v1.3h-1.3zM100.2 93.9h1.3v1.3h-1.3zM103.5 95.8h1.3v1.3h-1.3zM127.9 105.8h1.3v1.3h-1.3zM125.4 92.7h1.3v1.3h-1.3zM116.5 97.9h1.3v1.3h-1.3zM102.4 111.9h1.3v1.3h-1.3zM116.9 98.2h1.3v1.3h-1.3zM106.2 115.4h1.3v1.3h-1.3zM109.2 98.7h1.3v1.3h-1.3zM127.2 109.9h1.3v1.3h-1.3zM104.3 93.3h1.3v1.3h-1.3zM101.1 111.0h1.3v1.3h-1.3zM110.5 102.5h1.3v1.3h-1.3zM105.6 88.7h1.3v1.3h-1.3zM96.4 101.2h1.3v1.3h-1.3zM109.9 109.4h1.3v1.3h-1.3zM108.2 84.5h1.3v1.3h-1.3zM127.3 102.7h1.3v1.3h-1.3zM108.0 99.9h1.3v1.3h-1.3zM121.6 82.2h1.3v1.3h-1.3zM99.1 104.7h1.3v1.3h-1.3zM117.8 114.5h1.3v1.3h-1.3zM99.2 97.1h1.3v1.3h-1.3zM108.0 111.9h1.3v1.3h-1.3zM104.5 115.0h1.3v1.3h-1.3zM108.6 95.2h1.3v1.3h-1.3zM100.7 113.7h1.3v1.3h-1.3zM111.0 84.9h1.3v1.3h-1.3zM113.5 90.4h1.3v1.3h-1.3zM126.5 105.5h1.3v1.3h-1.3zM118.7 83.3h1.3v1.3h-1.3zM108.7 93.9h1.3v1.3h-1.3zM122.3 87.2h1.3v1.3h-1.3zM110.8 105.2h1.3v1.3h-1.3zM122.4 95.6h1.3v1.3h-1.3zM120.0 92.9h1.3v1.3h-1.3zM108.0 110.5h1.3v1.3h-1.3zM114.5 110.0h1.3v1.3h-1.3zM122.9 108.8h1.3v1.3h-1.3zM108.3 89.1h1.3v1.3h-1.3zM116.3 87.3h1.3v1.3h-1.3zM124.9 105.6h1.3v1.3h-1.3zM119.5 83.9h1.3v1.3h-1.3zM120.0 96.6h1.3v1.3h-1.3zM105.1 89.1h1.3v1.3h-1.3zM108.4 86.2h1.3v1.3h-1.3zM97.3 100.8h1.3v1.3h-1.3zM126.1 88.3h1.3v1.3h-1.3zM124.6 102.5h1.3v1.3h-1.3zM106.5 94.4h1.3v1.3h-1.3zM108.0 102.6h1.3v1.3h-1.3zM124.5 109.0h1.3v1.3h-1.3zM128.2 101.4h1.3v1.3h-1.3zM99.2 106.9h1.3v1.3h-1.3zM106.2 93.0h1.3v1.3h-1.3zM114.7 96.9h1.3v1.3h-1.3zM98.6 97.8h1.3v1.3h-1.3zM126.7 88.5h1.3v1.3h-1.3zM104.9 94.7h1.3v1.3h-1.3zM94.8 110.7h1.3v1.3h-1.3zM100.2 94.1h1.3v1.3h-1.3zM108.7 110.9h1.3v1.3h-1.3zM94.4 113.6h1.3v1.3h-1.3zM101.7 103.2h1.3v1.3h-1.3zM118.4 92.2h1.3v1.3h-1.3zM113.3 91.2h1.3v1.3h-1.3zM107.2 112.5h1.3v1.3h-1.3zM123.8 102.4h1.3v1.3h-1.3zM128.0 105.5h1.3v1.3h-1.3zM111.9 111.2h1.3v1.3h-1.3zM116.8 83.3h1.3v1.3h-1.3zM118.8 107.4h1.3v1.3h-1.3zM125.2 108.8h1.3v1.3h-1.3zM106.4 89.9h1.3v1.3h-1.3zM120.5 85.7h1.3v1.3h-1.3zM97.2 105.6h1.3v1.3h-1.3zM108.6 86.7h1.3v1.3h-1.3zM99.8 95.6h1.3v1.3h-1.3zM104.8 100.9h1.3v1.3h-1.3zM105.7 108.3h1.3v1.3h-1.3zM109.2 100.8h1.3v1.3h-1.3zM125.0 97.1h1.3v1.3h-1.3zM125.6 107.1h1.3v1.3h-1.3zM107.2 92.4h1.3v1.3h-1.3zM112.1 95.2h1.3v1.3h-1.3zM108.8 93.6h1.3v1.3h-1.3zM122.0 106.9h1.3v1.3h-1.3zM99.9 113.1h1.3v1.3h-1.3zM102.6 115.0h1.3v1.3h-1.3zM106.2 83.4h1.3v1.3h-1.3zM112.8 104.3h1.3v1.3h-1.3zM107.0 105.0h1.3v1.3h-1.3zM101.7 104.2h1.3v1.3h-1.3zM122.4 92.3h1.3v1.3h-1.3zM128.4 84.9h1.3v1.3h-1.3z"/><path id="pMPC2" d="M40.2 109.2h1.3v1.3h-1.3zM58.2 98.1h1.3v1.3h-1.3zM47.8 92.2h1.3v1.3h-1.3zM49.1 106.4h1.3v1.3h-1.3zM52.9 117.7h1.3v1.3h-1.3zM40.8 108.2h1.3v1.3h-1.3zM42.7 92.0h1.3v1.3h-1.3zM61.7 93.7h1.3v1.3h-1.3zM50.1 99.9h1.3v1.3h-1.3zM56.9 93.7h1.3v1.3h-1.3zM39.8 103.2h1.3v1.3h-1.3zM42.1 113.2h1.3v1.3h-1.3zM52.7 115.3h1.3v1.3h-1.3zM60.8 94.5h1.3v1.3h-1.3zM54.5 101.7h1.3v1.3h-1.3zM60.4 93.7h1.3v1.3h-1.3zM45.9 116.4h1.3v1.3h-1.3zM57.9 103.5h1.3v1.3h-1.3zM55.9 110.5h1.3v1.3h-1.3zM53.2 119.5h1.3v1.3h-1.3zM40.1 101.5h1.3v1.3h-1.3zM46.3 98.9h1.3v1.3h-1.3zM52.4 116.5h1.3v1.3h-1.3zM60.5 111.9h1.3v1.3h-1.3zM49.4 93.7h1.3v1.3h-1.3zM50.6 101.6h1.3v1.3h-1.3zM49.1 98.6h1.3v1.3h-1.3zM46.4 108.6h1.3v1.3h-1.3zM44.3 94.5h1.3v1.3h-1.3zM42.7 114.3h1.3v1.3h-1.3zM61.3 109.3h1.3v1.3h-1.3zM43.1 115.9h1.3v1.3h-1.3zM59.2 110.8h1.3v1.3h-1.3zM47.8 112.8h1.3v1.3h-1.3zM55.3 118.5h1.3v1.3h-1.3zM43.3 90.8h1.3v1.3h-1.3zM53.9 90.4h1.3v1.3h-1.3zM42.7 107.4h1.3v1.3h-1.3zM54.6 99.4h1.3v1.3h-1.3zM47.7 106.5h1.3v1.3h-1.3zM53.7 91.6h1.3v1.3h-1.3zM57.0 92.9h1.3v1.3h-1.3zM59.1 102.4h1.3v1.3h-1.3zM42.0 95.3h1.3v1.3h-1.3zM41.4 104.8h1.3v1.3h-1.3zM42.2 100.2h1.3v1.3h-1.3zM42.6 98.8h1.3v1.3h-1.3zM51.9 99.2h1.3v1.3h-1.3zM44.3 106.6h1.3v1.3h-1.3zM55.3 91.1h1.3v1.3h-1.3zM45.6 97.4h1.3v1.3h-1.3zM47.8 100.9h1.3v1.3h-1.3zM50.5 90.5h1.3v1.3h-1.3zM55.3 100.5h1.3v1.3h-1.3zM59.6 91.7h1.3v1.3h-1.3zM59.2 100.8h1.3v1.3h-1.3zM47.6 103.9h1.3v1.3h-1.3zM52.3 89.0h1.3v1.3h-1.3zM60.3 95.9h1.3v1.3h-1.3zM55.2 112.0h1.3v1.3h-1.3zM40.1 112.2h1.3v1.3h-1.3zM61.0 107.1h1.3v1.3h-1.3zM59.4 93.3h1.3v1.3h-1.3zM59.9 112.1h1.3v1.3h-1.3zM52.7 104.5h1.3v1.3h-1.3zM54.5 113.6h1.3v1.3h-1.3zM57.2 106.4h1.3v1.3h-1.3zM43.1 95.1h1.3v1.3h-1.3zM54.8 93.3h1.3v1.3h-1.3zM55.9 102.9h1.3v1.3h-1.3zM39.1 101.3h1.3v1.3h-1.3zM57.0 109.6h1.3v1.3h-1.3zM42.5 101.6h1.3v1.3h-1.3zM51.3 114.8h1.3v1.3h-1.3zM58.4 101.5h1.3v1.3h-1.3zM63.4 108.0h1.3v1.3h-1.3zM47.9 94.3h1.3v1.3h-1.3zM50.7 92.8h1.3v1.3h-1.3zM54.4 98.6h1.3v1.3h-1.3zM61.6 109.2h1.3v1.3h-1.3zM59.3 102.0h1.3v1.3h-1.3zM46.7 92.5h1.3v1.3h-1.3zM46.6 101.9h1.3v1.3h-1.3zM55.3 111.8h1.3v1.3h-1.3zM61.8 107.3h1.3v1.3h-1.3zM59.9 96.4h1.3v1.3h-1.3zM45.8 110.9h1.3v1.3h-1.3zM57.7 108.4h1.3v1.3h-1.3zM50.3 103.7h1.3v1.3h-1.3zM41.7 115.8h1.3v1.3h-1.3zM42.0 92.4h1.3v1.3h-1.3zM43.3 106.1h1.3v1.3h-1.3zM45.4 113.6h1.3v1.3h-1.3zM48.3 96.2h1.3v1.3h-1.3zM53.0 98.6h1.3v1.3h-1.3zM59.6 96.9h1.3v1.3h-1.3zM60.9 96.1h1.3v1.3h-1.3zM50.1 91.7h1.3v1.3h-1.3zM38.9 110.9h1.3v1.3h-1.3zM47.6 106.0h1.3v1.3h-1.3zM56.7 111.8h1.3v1.3h-1.3zM46.7 112.8h1.3v1.3h-1.3zM53.9 118.6h1.3v1.3h-1.3zM44.9 99.0h1.3v1.3h-1.3zM54.3 120.7h1.3v1.3h-1.3zM52.0 108.1h1.3v1.3h-1.3zM43.4 104.6h1.3v1.3h-1.3zM44.8 90.9h1.3v1.3h-1.3zM57.6 97.7h1.3v1.3h-1.3zM41.1 105.1h1.3v1.3h-1.3zM45.2 119.3h1.3v1.3h-1.3zM45.1 94.2h1.3v1.3h-1.3zM50.2 115.0h1.3v1.3h-1.3zM53.8 116.6h1.3v1.3h-1.3zM42.1 94.3h1.3v1.3h-1.3zM43.5 102.9h1.3v1.3h-1.3zM50.4 120.6h1.3v1.3h-1.3zM41.5 101.7h1.3v1.3h-1.3zM46.1 111.6h1.3v1.3h-1.3zM51.9 112.0h1.3v1.3h-1.3zM51.9 114.1h1.3v1.3h-1.3zM39.8 99.0h1.3v1.3h-1.3zM44.5 106.7h1.3v1.3h-1.3zM62.3 105.3h1.3v1.3h-1.3zM44.7 97.5h1.3v1.3h-1.3zM38.7 92.9h1.3v1.3h-1.3zM59.2 116.1h1.3v1.3h-1.3zM50.1 100.5h1.3v1.3h-1.3zM47.7 97.9h1.3v1.3h-1.3zM53.3 118.3h1.3v1.3h-1.3zM58.9 117.1h1.3v1.3h-1.3zM53.4 92.4h1.3v1.3h-1.3zM38.6 107.2h1.3v1.3h-1.3zM51.0 96.9h1.3v1.3h-1.3zM44.7 91.5h1.3v1.3h-1.3zM41.5 114.6h1.3v1.3h-1.3zM53.5 113.6h1.3v1.3h-1.3zM43.4 100.5h1.3v1.3h-1.3zM52.4 112.2h1.3v1.3h-1.3zM58.9 115.2h1.3v1.3h-1.3zM55.4 107.5h1.3v1.3h-1.3zM54.3 92.4h1.3v1.3h-1.3zM57.7 109.7h1.3v1.3h-1.3zM52.8 93.6h1.3v1.3h-1.3zM59.5 97.8h1.3v1.3h-1.3zM59.9 111.5h1.3v1.3h-1.3zM55.5 110.8h1.3v1.3h-1.3zM44.0 92.3h1.3v1.3h-1.3zM52.2 98.6h1.3v1.3h-1.3zM54.9 92.5h1.3v1.3h-1.3zM50.5 120.9h1.3v1.3h-1.3zM54.8 108.8h1.3v1.3h-1.3zM51.8 117.7h1.3v1.3h-1.3zM40.6 105.3h1.3v1.3h-1.3zM39.2 112.3h1.3v1.3h-1.3zM59.5 103.1h1.3v1.3h-1.3zM51.6 95.2h1.3v1.3h-1.3zM44.4 103.8h1.3v1.3h-1.3zM41.5 114.7h1.3v1.3h-1.3zM49.7 115.2h1.3v1.3h-1.3zM47.1 121.3h1.3v1.3h-1.3zM52.9 113.4h1.3v1.3h-1.3zM54.9 109.1h1.3v1.3h-1.3zM41.1 96.0h1.3v1.3h-1.3zM56.7 114.3h1.3v1.3h-1.3zM49.1 102.0h1.3v1.3h-1.3zM38.8 103.4h1.3v1.3h-1.3zM43.8 104.6h1.3v1.3h-1.3zM52.8 104.4h1.3v1.3h-1.3zM53.9 103.7h1.3v1.3h-1.3zM56.5 98.6h1.3v1.3h-1.3zM54.5 120.5h1.3v1.3h-1.3zM61.2 99.1h1.3v1.3h-1.3zM50.7 104.4h1.3v1.3h-1.3zM48.7 109.8h1.3v1.3h-1.3zM41.2 107.3h1.3v1.3h-1.3zM52.5 95.6h1.3v1.3h-1.3zM52.9 97.3h1.3v1.3h-1.3zM49.7 95.4h1.3v1.3h-1.3zM52.8 108.3h1.3v1.3h-1.3zM49.0 91.2h1.3v1.3h-1.3zM46.9 93.1h1.3v1.3h-1.3zM55.6 103.5h1.3v1.3h-1.3zM51.1 90.1h1.3v1.3h-1.3zM52.7 90.2h1.3v1.3h-1.3zM42.8 116.3h1.3v1.3h-1.3zM50.2 106.3h1.3v1.3h-1.3zM46.1 94.0h1.3v1.3h-1.3zM52.8 92.2h1.3v1.3h-1.3zM50.8 120.3h1.3v1.3h-1.3zM55.5 104.9h1.3v1.3h-1.3zM61.0 103.5h1.3v1.3h-1.3zM58.5 111.1h1.3v1.3h-1.3zM63.4 103.4h1.3v1.3h-1.3zM54.8 110.6h1.3v1.3h-1.3zM60.1 102.6h1.3v1.3h-1.3zM46.3 92.6h1.3v1.3h-1.3zM46.2 105.1h1.3v1.3h-1.3zM49.6 94.4h1.3v1.3h-1.3zM43.6 99.2h1.3v1.3h-1.3zM57.4 95.5h1.3v1.3h-1.3zM40.8 94.9h1.3v1.3h-1.3zM50.7 112.3h1.3v1.3h-1.3zM54.9 105.1h1.3v1.3h-1.3zM47.5 97.6h1.3v1.3h-1.3zM48.0 94.3h1.3v1.3h-1.3zM57.7 101.1h1.3v1.3h-1.3zM48.8 113.6h1.3v1.3h-1.3zM55.7 104.0h1.3v1.3h-1.3zM59.5 100.3h1.3v1.3h-1.3zM57.1 99.0h1.3v1.3h-1.3zM38.2 106.1h1.3v1.3h-1.3zM40.9 92.0h1.3v1.3h-1.3zM51.0 112.7h1.3v1.3h-1.3zM42.5 104.7h1.3v1.3h-1.3zM46.9 99.3h1.3v1.3h-1.3zM54.2 103.2h1.3v1.3h-1.3zM44.9 91.4h1.3v1.3h-1.3zM44.3 107.9h1.3v1.3h-1.3zM46.5 97.4h1.3v1.3h-1.3zM37.7 98.8h1.3v1.3h-1.3zM58.1 95.0h1.3v1.3h-1.3zM43.1 100.8h1.3v1.3h-1.3zM45.0 90.5h1.3v1.3h-1.3zM49.8 90.7h1.3v1.3h-1.3zM45.9 105.5h1.3v1.3h-1.3zM39.6 108.0h1.3v1.3h-1.3zM37.6 96.3h1.3v1.3h-1.3zM40.9 96.0h1.3v1.3h-1.3zM54.3 96.8h1.3v1.3h-1.3zM50.3 104.2h1.3v1.3h-1.3zM56.4 100.1h1.3v1.3h-1.3zM43.9 107.6h1.3v1.3h-1.3zM57.8 107.9h1.3v1.3h-1.3zM58.4 110.3h1.3v1.3h-1.3zM37.8 97.8h1.3v1.3h-1.3zM60.9 93.6h1.3v1.3h-1.3zM43.9 106.5h1.3v1.3h-1.3zM59.9 110.0h1.3v1.3h-1.3zM39.7 101.3h1.3v1.3h-1.3zM51.6 97.7h1.3v1.3h-1.3zM55.6 97.4h1.3v1.3h-1.3zM41.8 92.8h1.3v1.3h-1.3zM48.4 119.9h1.3v1.3h-1.3zM58.5 111.1h1.3v1.3h-1.3zM44.3 110.2h1.3v1.3h-1.3zM52.1 94.1h1.3v1.3h-1.3zM41.3 114.4h1.3v1.3h-1.3zM39.4 99.4h1.3v1.3h-1.3zM52.8 96.1h1.3v1.3h-1.3zM58.2 102.7h1.3v1.3h-1.3zM41.2 102.1h1.3v1.3h-1.3zM56.5 115.0h1.3v1.3h-1.3zM56.5 108.2h1.3v1.3h-1.3zM50.4 115.6h1.3v1.3h-1.3zM44.2 101.0h1.3v1.3h-1.3zM47.7 95.8h1.3v1.3h-1.3zM52.7 104.0h1.3v1.3h-1.3zM51.6 98.4h1.3v1.3h-1.3zM52.3 88.0h1.3v1.3h-1.3zM49.8 111.3h1.3v1.3h-1.3zM50.7 93.6h1.3v1.3h-1.3zM58.7 102.3h1.3v1.3h-1.3zM60.0 113.2h1.3v1.3h-1.3zM41.7 97.3h1.3v1.3h-1.3zM54.4 109.6h1.3v1.3h-1.3zM56.8 118.3h1.3v1.3h-1.3zM63.0 101.4h1.3v1.3h-1.3zM41.9 118.1h1.3v1.3h-1.3zM42.5 102.0h1.3v1.3h-1.3zM62.7 101.5h1.3v1.3h-1.3zM54.6 107.6h1.3v1.3h-1.3zM58.3 95.0h1.3v1.3h-1.3zM46.4 90.1h1.3v1.3h-1.3zM43.7 104.8h1.3v1.3h-1.3zM60.1 108.8h1.3v1.3h-1.3zM38.9 96.2h1.3v1.3h-1.3zM57.5 98.6h1.3v1.3h-1.3zM56.7 106.6h1.3v1.3h-1.3zM57.9 116.0h1.3v1.3h-1.3zM48.7 98.9h1.3v1.3h-1.3zM48.2 118.6h1.3v1.3h-1.3zM52.9 90.5h1.3v1.3h-1.3zM57.3 107.0h1.3v1.3h-1.3zM43.3 117.9h1.3v1.3h-1.3zM54.0 89.1h1.3v1.3h-1.3zM45.2 99.5h1.3v1.3h-1.3zM45.4 99.0h1.3v1.3h-1.3zM44.9 116.1h1.3v1.3h-1.3zM59.1 108.9h1.3v1.3h-1.3zM44.7 97.5h1.3v1.3h-1.3zM42.0 106.7h1.3v1.3h-1.3zM50.2 92.2h1.3v1.3h-1.3zM52.8 104.9h1.3v1.3h-1.3zM41.2 106.5h1.3v1.3h-1.3zM50.4 91.0h1.3v1.3h-1.3zM54.6 109.8h1.3v1.3h-1.3zM58.3 99.7h1.3v1.3h-1.3zM52.2 107.6h1.3v1.3h-1.3zM46.9 114.6h1.3v1.3h-1.3zM50.2 115.6h1.3v1.3h-1.3zM53.4 99.5h1.3v1.3h-1.3zM44.4 100.3h1.3v1.3h-1.3zM51.1 101.0h1.3v1.3h-1.3zM57.5 109.4h1.3v1.3h-1.3zM40.0 95.0h1.3v1.3h-1.3zM50.4 120.1h1.3v1.3h-1.3zM45.2 103.3h1.3v1.3h-1.3zM53.2 114.4h1.3v1.3h-1.3zM56.2 92.8h1.3v1.3h-1.3zM56.0 118.8h1.3v1.3h-1.3zM43.6 96.5h1.3v1.3h-1.3zM56.1 107.6h1.3v1.3h-1.3zM46.8 97.1h1.3v1.3h-1.3zM58.4 116.9h1.3v1.3h-1.3zM53.2 112.9h1.3v1.3h-1.3zM55.4 115.9h1.3v1.3h-1.3zM47.0 106.5h1.3v1.3h-1.3zM56.5 117.9h1.3v1.3h-1.3zM51.9 89.9h1.3v1.3h-1.3zM48.1 90.5h1.3v1.3h-1.3zM46.0 100.7h1.3v1.3h-1.3zM44.3 114.4h1.3v1.3h-1.3zM52.7 105.2h1.3v1.3h-1.3zM52.9 113.1h1.3v1.3h-1.3zM50.4 119.4h1.3v1.3h-1.3zM45.2 103.1h1.3v1.3h-1.3zM58.7 104.1h1.3v1.3h-1.3zM46.5 102.3h1.3v1.3h-1.3zM57.4 103.3h1.3v1.3h-1.3zM45.1 117.4h1.3v1.3h-1.3zM44.3 106.1h1.3v1.3h-1.3zM52.8 118.8h1.3v1.3h-1.3zM59.6 114.1h1.3v1.3h-1.3zM39.3 98.3h1.3v1.3h-1.3zM53.1 102.1h1.3v1.3h-1.3zM48.0 102.0h1.3v1.3h-1.3zM60.3 95.5h1.3v1.3h-1.3zM60.1 109.2h1.3v1.3h-1.3zM41.5 91.8h1.3v1.3h-1.3zM46.5 112.5h1.3v1.3h-1.3zM57.8 92.1h1.3v1.3h-1.3zM44.3 105.9h1.3v1.3h-1.3zM57.4 116.2h1.3v1.3h-1.3zM41.3 115.2h1.3v1.3h-1.3zM41.3 101.1h1.3v1.3h-1.3zM53.4 112.2h1.3v1.3h-1.3zM44.1 95.8h1.3v1.3h-1.3zM50.2 102.1h1.3v1.3h-1.3zM53.5 115.3h1.3v1.3h-1.3zM56.0 90.9h1.3v1.3h-1.3zM57.8 98.9h1.3v1.3h-1.3zM53.2 107.8h1.3v1.3h-1.3zM50.3 104.5h1.3v1.3h-1.3zM60.0 96.6h1.3v1.3h-1.3zM52.4 89.3h1.3v1.3h-1.3zM56.1 90.6h1.3v1.3h-1.3zM61.0 106.6h1.3v1.3h-1.3zM56.1 99.0h1.3v1.3h-1.3zM51.1 104.2h1.3v1.3h-1.3zM62.2 102.5h1.3v1.3h-1.3zM53.8 99.7h1.3v1.3h-1.3zM56.9 90.7h1.3v1.3h-1.3zM48.8 112.6h1.3v1.3h-1.3zM54.6 98.3h1.3v1.3h-1.3zM41.9 107.3h1.3v1.3h-1.3zM40.9 110.2h1.3v1.3h-1.3zM59.4 92.0h1.3v1.3h-1.3zM53.8 115.2h1.3v1.3h-1.3zM50.4 106.2h1.3v1.3h-1.3zM45.0 91.8h1.3v1.3h-1.3zM61.0 105.6h1.3v1.3h-1.3zM44.7 115.6h1.3v1.3h-1.3zM56.2 97.6h1.3v1.3h-1.3zM39.7 103.7h1.3v1.3h-1.3zM40.4 106.6h1.3v1.3h-1.3zM44.2 90.6h1.3v1.3h-1.3zM51.7 93.8h1.3v1.3h-1.3zM48.7 105.9h1.3v1.3h-1.3zM46.8 89.5h1.3v1.3h-1.3zM49.7 103.9h1.3v1.3h-1.3zM46.8 113.6h1.3v1.3h-1.3zM52.5 97.7h1.3v1.3h-1.3zM59.6 98.4h1.3v1.3h-1.3zM58.8 103.7h1.3v1.3h-1.3zM50.0 105.2h1.3v1.3h-1.3zM50.8 99.3h1.3v1.3h-1.3zM47.4 109.3h1.3v1.3h-1.3zM56.0 114.0h1.3v1.3h-1.3zM45.0 98.0h1.3v1.3h-1.3zM54.3 96.0h1.3v1.3h-1.3zM51.7 93.0h1.3v1.3h-1.3zM44.8 104.3h1.3v1.3h-1.3zM57.7 105.8h1.3v1.3h-1.3zM45.7 102.8h1.3v1.3h-1.3zM58.8 98.6h1.3v1.3h-1.3zM59.8 108.1h1.3v1.3h-1.3zM54.6 108.4h1.3v1.3h-1.3zM57.6 109.8h1.3v1.3h-1.3zM59.1 103.4h1.3v1.3h-1.3zM44.5 91.1h1.3v1.3h-1.3zM56.1 94.9h1.3v1.3h-1.3zM54.3 91.8h1.3v1.3h-1.3zM48.9 118.4h1.3v1.3h-1.3zM48.2 96.2h1.3v1.3h-1.3zM57.6 94.0h1.3v1.3h-1.3zM60.3 107.8h1.3v1.3h-1.3zM48.7 94.6h1.3v1.3h-1.3zM43.9 104.5h1.3v1.3h-1.3zM57.2 109.5h1.3v1.3h-1.3zM59.5 116.7h1.3v1.3h-1.3zM39.8 112.1h1.3v1.3h-1.3zM59.5 101.1h1.3v1.3h-1.3zM50.8 107.3h1.3v1.3h-1.3zM42.7 92.0h1.3v1.3h-1.3zM49.3 113.9h1.3v1.3h-1.3zM42.3 90.7h1.3v1.3h-1.3zM55.1 115.5h1.3v1.3h-1.3zM47.2 91.0h1.3v1.3h-1.3zM51.7 101.1h1.3v1.3h-1.3zM38.2 103.1h1.3v1.3h-1.3zM41.6 100.9h1.3v1.3h-1.3zM56.2 105.5h1.3v1.3h-1.3zM61.2 99.6h1.3v1.3h-1.3zM50.4 111.9h1.3v1.3h-1.3zM38.7 99.2h1.3v1.3h-1.3zM49.3 118.5h1.3v1.3h-1.3zM37.3 97.3h1.3v1.3h-1.3zM48.0 93.8h1.3v1.3h-1.3zM53.5 114.1h1.3v1.3h-1.3zM57.8 101.7h1.3v1.3h-1.3zM40.4 102.9h1.3v1.3h-1.3zM44.9 102.1h1.3v1.3h-1.3zM50.5 92.9h1.3v1.3h-1.3zM57.4 90.1h1.3v1.3h-1.3zM47.2 109.3h1.3v1.3h-1.3zM55.8 108.7h1.3v1.3h-1.3zM56.7 107.4h1.3v1.3h-1.3zM60.0 104.1h1.3v1.3h-1.3zM42.2 94.6h1.3v1.3h-1.3zM46.9 107.1h1.3v1.3h-1.3zM57.1 95.6h1.3v1.3h-1.3zM41.9 92.9h1.3v1.3h-1.3zM56.0 113.9h1.3v1.3h-1.3zM58.2 107.6h1.3v1.3h-1.3zM48.3 101.0h1.3v1.3h-1.3zM58.8 110.7h1.3v1.3h-1.3zM49.6 100.7h1.3v1.3h-1.3zM49.4 100.3h1.3v1.3h-1.3zM44.1 109.9h1.3v1.3h-1.3zM45.0 104.5h1.3v1.3h-1.3zM46.7 97.0h1.3v1.3h-1.3zM62.6 98.2h1.3v1.3h-1.3zM49.4 90.6h1.3v1.3h-1.3zM56.1 100.1h1.3v1.3h-1.3zM57.9 93.6h1.3v1.3h-1.3zM40.2 96.4h1.3v1.3h-1.3zM41.9 91.3h1.3v1.3h-1.3zM48.6 108.8h1.3v1.3h-1.3zM56.2 97.6h1.3v1.3h-1.3zM54.8 111.8h1.3v1.3h-1.3zM47.5 118.2h1.3v1.3h-1.3zM51.0 117.9h1.3v1.3h-1.3zM49.3 105.3h1.3v1.3h-1.3zM54.3 105.4h1.3v1.3h-1.3zM57.7 93.2h1.3v1.3h-1.3zM61.4 100.4h1.3v1.3h-1.3zM49.2 117.1h1.3v1.3h-1.3zM41.5 113.7h1.3v1.3h-1.3zM58.4 100.7h1.3v1.3h-1.3zM62.0 103.7h1.3v1.3h-1.3zM50.1 102.7h1.3v1.3h-1.3zM48.3 105.2h1.3v1.3h-1.3zM52.4 92.2h1.3v1.3h-1.3zM46.1 94.4h1.3v1.3h-1.3zM50.0 115.2h1.3v1.3h-1.3zM41.8 92.6h1.3v1.3h-1.3zM57.5 117.9h1.3v1.3h-1.3zM44.9 99.4h1.3v1.3h-1.3zM56.1 108.8h1.3v1.3h-1.3zM53.0 114.4h1.3v1.3h-1.3zM57.6 108.3h1.3v1.3h-1.3zM60.4 104.2h1.3v1.3h-1.3zM38.3 97.4h1.3v1.3h-1.3zM38.5 97.8h1.3v1.3h-1.3zM39.4 104.1h1.3v1.3h-1.3zM55.2 112.4h1.3v1.3h-1.3zM48.7 112.2h1.3v1.3h-1.3zM43.9 91.6h1.3v1.3h-1.3zM48.5 93.4h1.3v1.3h-1.3zM58.7 116.7h1.3v1.3h-1.3zM55.7 103.7h1.3v1.3h-1.3zM43.4 114.5h1.3v1.3h-1.3zM42.1 92.6h1.3v1.3h-1.3zM51.9 118.9h1.3v1.3h-1.3zM40.5 98.0h1.3v1.3h-1.3zM38.4 109.0h1.3v1.3h-1.3zM49.6 117.2h1.3v1.3h-1.3zM45.6 108.7h1.3v1.3h-1.3zM42.4 115.7h1.3v1.3h-1.3zM49.9 101.6h1.3v1.3h-1.3zM42.3 97.6h1.3v1.3h-1.3zM40.3 116.2h1.3v1.3h-1.3zM47.8 94.0h1.3v1.3h-1.3zM48.9 117.2h1.3v1.3h-1.3zM41.9 90.1h1.3v1.3h-1.3zM52.1 100.6h1.3v1.3h-1.3zM44.4 102.0h1.3v1.3h-1.3zM51.3 94.3h1.3v1.3h-1.3zM52.6 119.1h1.3v1.3h-1.3zM46.6 107.1h1.3v1.3h-1.3zM56.2 106.9h1.3v1.3h-1.3zM45.6 91.9h1.3v1.3h-1.3zM51.7 121.2h1.3v1.3h-1.3zM58.7 91.9h1.3v1.3h-1.3zM44.4 89.8h1.3v1.3h-1.3zM51.0 114.8h1.3v1.3h-1.3zM44.7 104.6h1.3v1.3h-1.3zM42.4 103.5h1.3v1.3h-1.3zM38.7 110.9h1.3v1.3h-1.3zM43.7 98.3h1.3v1.3h-1.3zM51.4 114.5h1.3v1.3h-1.3zM41.9 114.3h1.3v1.3h-1.3zM59.3 113.0h1.3v1.3h-1.3zM56.7 108.0h1.3v1.3h-1.3zM56.7 114.3h1.3v1.3h-1.3zM50.8 102.3h1.3v1.3h-1.3zM54.0 106.4h1.3v1.3h-1.3zM47.4 110.7h1.3v1.3h-1.3zM53.5 116.5h1.3v1.3h-1.3zM50.6 89.2h1.3v1.3h-1.3zM60.3 104.4h1.3v1.3h-1.3zM60.5 97.0h1.3v1.3h-1.3zM45.1 100.4h1.3v1.3h-1.3zM59.1 110.2h1.3v1.3h-1.3zM34.4 95.3h1.3v1.3h-1.3zM32.7 92.6h1.3v1.3h-1.3zM35.6 93.8h1.3v1.3h-1.3zM32.3 94.8h1.3v1.3h-1.3zM34.2 90.9h1.3v1.3h-1.3zM36.3 94.3h1.3v1.3h-1.3zM32.1 93.9h1.3v1.3h-1.3zM34.0 92.5h1.3v1.3h-1.3zM32.6 93.9h1.3v1.3h-1.3zM38.3 95.2h1.3v1.3h-1.3zM33.8 94.2h1.3v1.3h-1.3zM35.6 92.9h1.3v1.3h-1.3zM33.2 92.9h1.3v1.3h-1.3zM35.0 90.6h1.3v1.3h-1.3zM65.5 120.9h1.3v1.3h-1.3zM67.2 119.1h1.3v1.3h-1.3zM65.4 117.5h1.3v1.3h-1.3zM70.5 122.3h1.3v1.3h-1.3zM72.9 121.0h1.3v1.3h-1.3zM66.3 121.1h1.3v1.3h-1.3zM71.0 119.1h1.3v1.3h-1.3zM70.0 119.8h1.3v1.3h-1.3zM63.8 122.2h1.3v1.3h-1.3zM69.1 119.7h1.3v1.3h-1.3zM69.6 124.8h1.3v1.3h-1.3zM71.3 125.2h1.3v1.3h-1.3zM67.9 124.9h1.3v1.3h-1.3zM70.7 123.7h1.3v1.3h-1.3zM67.9 122.4h1.3v1.3h-1.3zM71.0 122.7h1.3v1.3h-1.3zM64.3 122.8h1.3v1.3h-1.3zM64.9 121.8h1.3v1.3h-1.3zM64.4 121.4h1.3v1.3h-1.3zM65.6 128.0h1.3v1.3h-1.3zM68.0 120.7h1.3v1.3h-1.3zM65.7 127.7h1.3v1.3h-1.3zM64.6 119.1h1.3v1.3h-1.3zM72.3 125.0h1.3v1.3h-1.3zM66.2 117.9h1.3v1.3h-1.3zM67.2 119.0h1.3v1.3h-1.3zM66.1 124.8h1.3v1.3h-1.3zM72.3 122.5h1.3v1.3h-1.3zM69.9 122.9h1.3v1.3h-1.3zM68.7 119.4h1.3v1.3h-1.3zM70.6 123.2h1.3v1.3h-1.3zM62.9 118.2h1.3v1.3h-1.3zM66.1 127.2h1.3v1.3h-1.3zM67.4 120.3h1.3v1.3h-1.3zM65.1 123.0h1.3v1.3h-1.3zM66.9 121.6h1.3v1.3h-1.3zM68.2 116.7h1.3v1.3h-1.3zM66.1 124.1h1.3v1.3h-1.3zM71.6 120.6h1.3v1.3h-1.3zM72.0 124.7h1.3v1.3h-1.3zM71.9 125.5h1.3v1.3h-1.3zM70.3 123.7h1.3v1.3h-1.3zM70.4 118.8h1.3v1.3h-1.3zM65.5 125.3h1.3v1.3h-1.3zM66.8 119.7h1.3v1.3h-1.3zM64.5 118.9h1.3v1.3h-1.3zM69.7 119.6h1.3v1.3h-1.3zM67.7 123.8h1.3v1.3h-1.3zM71.6 121.0h1.3v1.3h-1.3zM69.4 123.4h1.3v1.3h-1.3zM65.3 124.5h1.3v1.3h-1.3zM66.9 118.0h1.3v1.3h-1.3zM71.4 124.5h1.3v1.3h-1.3zM67.6 123.2h1.3v1.3h-1.3zM68.3 124.3h1.3v1.3h-1.3zM71.4 121.3h1.3v1.3h-1.3zM47.9 128.3h1.3v1.3h-1.3zM47.1 127.9h1.3v1.3h-1.3zM47.4 124.5h1.3v1.3h-1.3zM47.8 128.5h1.3v1.3h-1.3zM47.6 128.4h1.3v1.3h-1.3zM46.2 129.6h1.3v1.3h-1.3zM49.3 127.3h1.3v1.3h-1.3zM49.2 124.5h1.3v1.3h-1.3zM48.3 127.6h1.3v1.3h-1.3zM48.8 131.0h1.3v1.3h-1.3zM49.6 131.2h1.3v1.3h-1.3zM47.2 127.4h1.3v1.3h-1.3zM48.7 131.1h1.3v1.3h-1.3zM44.9 125.6h1.3v1.3h-1.3zM49.0 131.1h1.3v1.3h-1.3zM45.7 130.7h1.3v1.3h-1.3zM45.5 126.5h1.3v1.3h-1.3zM47.9 130.2h1.3v1.3h-1.3zM44.9 127.8h1.3v1.3h-1.3zM47.8 130.6h1.3v1.3h-1.3zM44.4 125.9h1.3v1.3h-1.3zM45.6 129.6h1.3v1.3h-1.3zM45.8 131.6h1.3v1.3h-1.3zM49.2 128.5h1.3v1.3h-1.3zM44.5 125.3h1.3v1.3h-1.3zM48.7 125.9h1.3v1.3h-1.3zM60.9 138.2h1.3v1.3h-1.3zM52.1 132.7h1.3v1.3h-1.3zM55.6 132.5h1.3v1.3h-1.3zM53.6 139.9h1.3v1.3h-1.3zM49.6 133.2h1.3v1.3h-1.3zM54.1 133.0h1.3v1.3h-1.3zM60.1 138.5h1.3v1.3h-1.3zM54.7 132.5h1.3v1.3h-1.3zM59.8 139.8h1.3v1.3h-1.3zM59.4 139.6h1.3v1.3h-1.3zM50.4 133.4h1.3v1.3h-1.3zM58.4 134.2h1.3v1.3h-1.3zM56.7 140.5h1.3v1.3h-1.3zM57.8 131.8h1.3v1.3h-1.3zM52.7 138.9h1.3v1.3h-1.3zM59.0 137.4h1.3v1.3h-1.3zM56.1 132.0h1.3v1.3h-1.3zM60.1 137.8h1.3v1.3h-1.3zM53.7 135.1h1.3v1.3h-1.3zM55.3 133.1h1.3v1.3h-1.3zM60.7 133.0h1.3v1.3h-1.3zM61.4 137.8h1.3v1.3h-1.3zM56.8 131.7h1.3v1.3h-1.3zM59.2 133.7h1.3v1.3h-1.3zM55.9 138.8h1.3v1.3h-1.3zM54.6 136.1h1.3v1.3h-1.3zM54.5 134.6h1.3v1.3h-1.3zM62.6 137.3h1.3v1.3h-1.3zM59.1 134.2h1.3v1.3h-1.3zM60.6 133.0h1.3v1.3h-1.3zM58.3 135.7h1.3v1.3h-1.3zM61.3 135.7h1.3v1.3h-1.3zM63.3 136.6h1.3v1.3h-1.3zM57.0 133.2h1.3v1.3h-1.3zM53.4 137.5h1.3v1.3h-1.3zM52.3 138.9h1.3v1.3h-1.3zM63.6 136.9h1.3v1.3h-1.3zM57.3 132.5h1.3v1.3h-1.3zM56.9 136.0h1.3v1.3h-1.3zM57.7 135.0h1.3v1.3h-1.3zM51.0 132.7h1.3v1.3h-1.3zM60.9 137.7h1.3v1.3h-1.3zM57.0 139.4h1.3v1.3h-1.3zM57.6 136.3h1.3v1.3h-1.3zM49.2 131.4h1.3v1.3h-1.3zM63.1 136.0h1.3v1.3h-1.3zM61.9 138.4h1.3v1.3h-1.3zM63.6 135.3h1.3v1.3h-1.3zM53.4 134.1h1.3v1.3h-1.3zM55.2 133.7h1.3v1.3h-1.3zM54.1 137.4h1.3v1.3h-1.3zM54.1 134.3h1.3v1.3h-1.3zM62.3 134.1h1.3v1.3h-1.3zM54.8 131.3h1.3v1.3h-1.3zM55.5 136.0h1.3v1.3h-1.3zM53.1 136.2h1.3v1.3h-1.3zM59.6 135.1h1.3v1.3h-1.3zM60.0 137.9h1.3v1.3h-1.3zM58.2 132.0h1.3v1.3h-1.3zM58.4 140.0h1.3v1.3h-1.3zM60.4 139.3h1.3v1.3h-1.3zM56.5 137.7h1.3v1.3h-1.3zM52.4 133.1h1.3v1.3h-1.3zM54.8 141.1h1.3v1.3h-1.3zM58.7 134.0h1.3v1.3h-1.3zM54.2 136.2h1.3v1.3h-1.3zM61.8 137.3h1.3v1.3h-1.3zM62.9 135.0h1.3v1.3h-1.3zM52.3 134.4h1.3v1.3h-1.3zM52.9 139.1h1.3v1.3h-1.3zM61.5 121.3h1.3v1.3h-1.3zM74.3 118.6h1.3v1.3h-1.3zM77.0 114.4h1.3v1.3h-1.3zM75.2 118.5h1.3v1.3h-1.3zM61.9 119.6h1.3v1.3h-1.3zM63.1 122.0h1.3v1.3h-1.3zM81.3 104.1h1.3v1.3h-1.3zM81.4 95.4h1.3v1.3h-1.3zM63.8 112.5h1.3v1.3h-1.3zM65.2 119.8h1.3v1.3h-1.3zM75.9 107.8h1.3v1.3h-1.3zM68.9 123.2h1.3v1.3h-1.3zM58.6 126.3h1.3v1.3h-1.3zM62.4 120.0h1.3v1.3h-1.3zM75.2 114.7h1.3v1.3h-1.3zM62.2 100.0h1.3v1.3h-1.3zM78.4 102.1h1.3v1.3h-1.3zM70.6 116.9h1.3v1.3h-1.3zM65.4 100.9h1.3v1.3h-1.3zM65.2 117.6h1.3v1.3h-1.3zM67.9 109.2h1.3v1.3h-1.3zM68.7 124.2h1.3v1.3h-1.3zM58.8 124.6h1.3v1.3h-1.3zM67.9 99.9h1.3v1.3h-1.3zM73.0 105.7h1.3v1.3h-1.3zM70.1 121.6h1.3v1.3h-1.3zM62.7 126.7h1.3v1.3h-1.3zM68.9 113.0h1.3v1.3h-1.3zM70.9 110.2h1.3v1.3h-1.3zM71.6 122.3h1.3v1.3h-1.3zM69.0 99.6h1.3v1.3h-1.3zM75.6 106.2h1.3v1.3h-1.3zM65.7 116.1h1.3v1.3h-1.3zM67.5 119.7h1.3v1.3h-1.3zM65.2 114.5h1.3v1.3h-1.3zM75.0 91.3h1.3v1.3h-1.3zM62.0 101.2h1.3v1.3h-1.3zM77.2 90.2h1.3v1.3h-1.3zM63.4 119.6h1.3v1.3h-1.3zM81.9 105.7h1.3v1.3h-1.3zM74.2 106.9h1.3v1.3h-1.3zM69.3 107.8h1.3v1.3h-1.3zM72.8 118.9h1.3v1.3h-1.3zM60.5 120.8h1.3v1.3h-1.3zM67.9 90.4h1.3v1.3h-1.3zM59.6 125.1h1.3v1.3h-1.3zM76.3 109.1h1.3v1.3h-1.3zM59.3 140.6h1.3v1.3h-1.3zM58.8 131.3h1.3v1.3h-1.3zM47.6 118.9h1.3v1.3h-1.3zM58.3 141.8h1.3v1.3h-1.3zM47.2 134.2h1.3v1.3h-1.3zM48.6 133.2h1.3v1.3h-1.3zM59.1 128.6h1.3v1.3h-1.3zM45.2 126.3h1.3v1.3h-1.3zM55.5 141.7h1.3v1.3h-1.3zM56.5 139.0h1.3v1.3h-1.3zM58.5 126.4h1.3v1.3h-1.3zM45.3 125.9h1.3v1.3h-1.3zM58.7 132.1h1.3v1.3h-1.3zM47.1 132.6h1.3v1.3h-1.3zM48.3 132.2h1.3v1.3h-1.3zM44.1 125.1h1.3v1.3h-1.3zM45.3 131.5h1.3v1.3h-1.3zM56.6 140.1h1.3v1.3h-1.3zM52.1 136.2h1.3v1.3h-1.3zM53.6 130.5h1.3v1.3h-1.3zM49.1 134.8h1.3v1.3h-1.3zM50.6 125.5h1.3v1.3h-1.3zM50.2 120.7h1.3v1.3h-1.3zM58.5 131.6h1.3v1.3h-1.3zM45.4 128.2h1.3v1.3h-1.3zM56.6 133.1h1.3v1.3h-1.3zM60.8 122.6h1.3v1.3h-1.3zM50.1 123.9h1.3v1.3h-1.3zM55.7 127.2h1.3v1.3h-1.3zM59.9 125.0h1.3v1.3h-1.3zM45.8 122.3h1.3v1.3h-1.3zM59.8 132.2h1.3v1.3h-1.3zM52.9 112.0h1.3v1.3h-1.3zM57.1 104.6h1.3v1.3h-1.3zM39.5 87.6h1.3v1.3h-1.3zM52.1 131.2h1.3v1.3h-1.3zM55.9 99.6h1.3v1.3h-1.3zM44.2 114.1h1.3v1.3h-1.3zM54.7 120.2h1.3v1.3h-1.3zM37.9 103.4h1.3v1.3h-1.3zM46.9 127.9h1.3v1.3h-1.3zM44.1 121.7h1.3v1.3h-1.3zM61.8 108.0h1.3v1.3h-1.3zM61.5 143.8h1.3v1.3h-1.3zM58.1 97.5h1.3v1.3h-1.3zM62.8 101.4h1.3v1.3h-1.3zM55.6 129.2h1.3v1.3h-1.3zM42.8 132.6h1.3v1.3h-1.3zM52.6 109.4h1.3v1.3h-1.3zM51.2 106.3h1.3v1.3h-1.3zM65.9 106.2h1.3v1.3h-1.3zM66.4 121.9h1.3v1.3h-1.3zM36.0 109.3h1.3v1.3h-1.3zM50.0 94.2h1.3v1.3h-1.3zM39.0 104.6h1.3v1.3h-1.3z"/><path id="pMPC5" d="M34.3 119.2h1.3v1.3h-1.3zM28.6 126.6h1.3v1.3h-1.3zM29.6 120.0h1.3v1.3h-1.3zM10.1 105.5h1.3v1.3h-1.3zM40.0 122.4h1.3v1.3h-1.3zM39.9 129.9h1.3v1.3h-1.3zM35.7 130.7h1.3v1.3h-1.3zM23.2 120.6h1.3v1.3h-1.3zM25.9 119.1h1.3v1.3h-1.3zM36.1 121.5h1.3v1.3h-1.3zM38.2 120.8h1.3v1.3h-1.3zM40.9 137.0h1.3v1.3h-1.3zM36.3 123.5h1.3v1.3h-1.3zM33.0 130.3h1.3v1.3h-1.3zM27.2 113.7h1.3v1.3h-1.3zM26.5 111.7h1.3v1.3h-1.3zM24.1 101.3h1.3v1.3h-1.3zM31.9 112.9h1.3v1.3h-1.3zM28.3 107.1h1.3v1.3h-1.3zM29.3 109.1h1.3v1.3h-1.3zM29.1 128.3h1.3v1.3h-1.3zM26.3 114.8h1.3v1.3h-1.3zM38.7 139.6h1.3v1.3h-1.3zM24.6 115.6h1.3v1.3h-1.3zM30.6 131.8h1.3v1.3h-1.3zM22.7 118.5h1.3v1.3h-1.3zM24.8 109.9h1.3v1.3h-1.3zM31.6 122.3h1.3v1.3h-1.3zM37.5 127.2h1.3v1.3h-1.3zM28.3 129.5h1.3v1.3h-1.3zM25.8 113.0h1.3v1.3h-1.3zM29.2 108.1h1.3v1.3h-1.3zM42.1 134.9h1.3v1.3h-1.3zM28.2 129.9h1.3v1.3h-1.3zM31.1 130.1h1.3v1.3h-1.3zM34.3 116.7h1.3v1.3h-1.3zM20.8 111.8h1.3v1.3h-1.3zM28.4 122.5h1.3v1.3h-1.3zM16.4 102.1h1.3v1.3h-1.3zM21.5 113.2h1.3v1.3h-1.3zM32.6 115.2h1.3v1.3h-1.3zM25.5 114.7h1.3v1.3h-1.3zM13.0 106.6h1.3v1.3h-1.3zM25.2 122.6h1.3v1.3h-1.3zM12.2 107.0h1.3v1.3h-1.3zM28.9 113.4h1.3v1.3h-1.3zM17.2 112.6h1.3v1.3h-1.3zM35.3 119.8h1.3v1.3h-1.3zM23.0 101.2h1.3v1.3h-1.3zM29.8 111.2h1.3v1.3h-1.3zM20.0 106.0h1.3v1.3h-1.3zM18.1 110.7h1.3v1.3h-1.3zM17.8 106.5h1.3v1.3h-1.3zM16.6 106.8h1.3v1.3h-1.3zM18.5 101.7h1.3v1.3h-1.3zM10.1 109.3h1.3v1.3h-1.3zM29.9 128.2h1.3v1.3h-1.3zM26.2 121.7h1.3v1.3h-1.3zM40.0 137.3h1.3v1.3h-1.3zM29.6 129.1h1.3v1.3h-1.3zM40.4 121.3h1.3v1.3h-1.3zM30.8 112.2h1.3v1.3h-1.3zM33.9 129.8h1.3v1.3h-1.3zM31.3 126.5h1.3v1.3h-1.3zM21.8 115.0h1.3v1.3h-1.3zM29.2 119.8h1.3v1.3h-1.3zM28.8 127.6h1.3v1.3h-1.3zM38.6 127.9h1.3v1.3h-1.3zM35.1 128.1h1.3v1.3h-1.3zM16.9 100.1h1.3v1.3h-1.3zM23.2 123.3h1.3v1.3h-1.3zM23.8 102.8h1.3v1.3h-1.3zM30.2 117.8h1.3v1.3h-1.3zM35.0 139.0h1.3v1.3h-1.3zM39.5 126.6h1.3v1.3h-1.3zM28.8 112.2h1.3v1.3h-1.3zM34.0 116.1h1.3v1.3h-1.3zM17.7 104.5h1.3v1.3h-1.3zM22.1 100.9h1.3v1.3h-1.3zM10.3 108.1h1.3v1.3h-1.3zM37.9 137.0h1.3v1.3h-1.3zM33.0 135.6h1.3v1.3h-1.3zM17.7 104.6h1.3v1.3h-1.3zM9.7 109.8h1.3v1.3h-1.3zM40.0 125.6h1.3v1.3h-1.3zM37.7 121.0h1.3v1.3h-1.3zM40.6 138.7h1.3v1.3h-1.3zM25.8 121.9h1.3v1.3h-1.3zM44.4 130.4h1.3v1.3h-1.3zM10.9 106.0h1.3v1.3h-1.3zM24.3 102.4h1.3v1.3h-1.3zM37.9 119.9h1.3v1.3h-1.3zM25.4 121.7h1.3v1.3h-1.3zM30.1 118.4h1.3v1.3h-1.3zM32.3 127.1h1.3v1.3h-1.3zM21.9 111.6h1.3v1.3h-1.3zM40.8 126.4h1.3v1.3h-1.3zM21.2 108.5h1.3v1.3h-1.3zM24.0 122.1h1.3v1.3h-1.3zM20.2 103.6h1.3v1.3h-1.3zM22.4 98.9h1.3v1.3h-1.3zM27.8 111.6h1.3v1.3h-1.3zM32.5 127.9h1.3v1.3h-1.3zM34.8 131.0h1.3v1.3h-1.3zM20.7 103.7h1.3v1.3h-1.3zM30.7 129.2h1.3v1.3h-1.3zM42.6 131.2h1.3v1.3h-1.3zM35.8 116.2h1.3v1.3h-1.3zM32.6 118.2h1.3v1.3h-1.3zM13.7 110.6h1.3v1.3h-1.3zM26.5 118.8h1.3v1.3h-1.3zM17.1 111.4h1.3v1.3h-1.3zM35.6 124.2h1.3v1.3h-1.3zM25.7 99.0h1.3v1.3h-1.3zM30.0 118.4h1.3v1.3h-1.3zM34.9 124.3h1.3v1.3h-1.3zM11.7 108.8h1.3v1.3h-1.3zM24.8 100.4h1.3v1.3h-1.3zM17.3 102.3h1.3v1.3h-1.3zM30.1 113.6h1.3v1.3h-1.3zM40.5 126.7h1.3v1.3h-1.3zM39.9 124.8h1.3v1.3h-1.3zM28.9 102.8h1.3v1.3h-1.3zM12.7 107.8h1.3v1.3h-1.3zM32.3 115.5h1.3v1.3h-1.3zM20.4 104.8h1.3v1.3h-1.3zM37.0 124.6h1.3v1.3h-1.3zM41.1 137.6h1.3v1.3h-1.3zM26.9 121.2h1.3v1.3h-1.3zM32.7 126.9h1.3v1.3h-1.3zM29.2 121.3h1.3v1.3h-1.3zM28.3 115.3h1.3v1.3h-1.3zM21.3 111.8h1.3v1.3h-1.3zM20.9 118.4h1.3v1.3h-1.3zM17.4 108.9h1.3v1.3h-1.3zM34.9 115.1h1.3v1.3h-1.3zM44.0 135.0h1.3v1.3h-1.3zM29.1 106.5h1.3v1.3h-1.3zM22.5 111.5h1.3v1.3h-1.3zM40.1 130.6h1.3v1.3h-1.3zM18.7 119.8h1.3v1.3h-1.3zM28.2 117.8h1.3v1.3h-1.3zM43.9 133.6h1.3v1.3h-1.3zM25.2 117.6h1.3v1.3h-1.3zM22.9 106.9h1.3v1.3h-1.3zM27.6 131.2h1.3v1.3h-1.3zM36.9 140.6h1.3v1.3h-1.3zM18.7 105.8h1.3v1.3h-1.3zM35.8 133.0h1.3v1.3h-1.3zM14.7 102.2h1.3v1.3h-1.3zM25.4 112.7h1.3v1.3h-1.3zM30.3 114.8h1.3v1.3h-1.3zM27.7 113.2h1.3v1.3h-1.3zM21.3 104.4h1.3v1.3h-1.3zM35.3 125.0h1.3v1.3h-1.3zM34.7 130.7h1.3v1.3h-1.3zM15.3 102.3h1.3v1.3h-1.3zM38.1 128.3h1.3v1.3h-1.3zM25.3 100.8h1.3v1.3h-1.3zM34.2 123.7h1.3v1.3h-1.3zM25.6 118.4h1.3v1.3h-1.3zM36.6 119.9h1.3v1.3h-1.3zM43.6 126.9h1.3v1.3h-1.3zM33.0 111.2h1.3v1.3h-1.3zM32.5 119.8h1.3v1.3h-1.3zM31.6 111.4h1.3v1.3h-1.3zM21.1 100.6h1.3v1.3h-1.3zM15.1 112.8h1.3v1.3h-1.3zM43.8 133.9h1.3v1.3h-1.3zM19.4 117.7h1.3v1.3h-1.3zM27.2 103.9h1.3v1.3h-1.3zM34.1 115.3h1.3v1.3h-1.3zM38.2 132.0h1.3v1.3h-1.3zM36.0 115.1h1.3v1.3h-1.3zM32.0 123.2h1.3v1.3h-1.3zM29.8 118.1h1.3v1.3h-1.3zM32.1 129.4h1.3v1.3h-1.3zM24.7 115.0h1.3v1.3h-1.3zM28.6 109.5h1.3v1.3h-1.3zM16.8 107.9h1.3v1.3h-1.3zM28.6 108.4h1.3v1.3h-1.3zM16.9 101.4h1.3v1.3h-1.3zM25.2 127.4h1.3v1.3h-1.3zM15.4 106.2h1.3v1.3h-1.3zM37.7 128.9h1.3v1.3h-1.3zM8.5 106.0h1.3v1.3h-1.3zM20.1 101.3h1.3v1.3h-1.3zM18.4 100.0h1.3v1.3h-1.3zM36.7 125.6h1.3v1.3h-1.3zM18.5 108.4h1.3v1.3h-1.3zM28.0 113.0h1.3v1.3h-1.3zM26.8 117.3h1.3v1.3h-1.3zM27.0 129.2h1.3v1.3h-1.3zM42.9 136.8h1.3v1.3h-1.3zM38.5 129.8h1.3v1.3h-1.3zM22.8 117.3h1.3v1.3h-1.3zM28.3 111.9h1.3v1.3h-1.3zM42.7 137.8h1.3v1.3h-1.3zM18.4 116.5h1.3v1.3h-1.3zM34.2 135.6h1.3v1.3h-1.3zM19.9 121.3h1.3v1.3h-1.3zM27.1 101.7h1.3v1.3h-1.3zM33.2 116.2h1.3v1.3h-1.3zM36.4 116.7h1.3v1.3h-1.3zM20.8 106.0h1.3v1.3h-1.3zM24.7 121.3h1.3v1.3h-1.3zM23.7 108.4h1.3v1.3h-1.3zM19.6 110.1h1.3v1.3h-1.3zM43.7 130.8h1.3v1.3h-1.3zM41.9 130.3h1.3v1.3h-1.3zM10.9 111.1h1.3v1.3h-1.3zM12.4 113.0h1.3v1.3h-1.3zM24.2 101.9h1.3v1.3h-1.3zM30.6 115.9h1.3v1.3h-1.3zM35.0 136.2h1.3v1.3h-1.3zM20.1 121.1h1.3v1.3h-1.3zM33.1 125.3h1.3v1.3h-1.3zM29.4 125.9h1.3v1.3h-1.3zM35.5 125.4h1.3v1.3h-1.3zM19.8 116.4h1.3v1.3h-1.3zM13.1 107.0h1.3v1.3h-1.3zM24.9 116.6h1.3v1.3h-1.3zM29.1 119.4h1.3v1.3h-1.3zM23.3 106.6h1.3v1.3h-1.3zM15.7 102.1h1.3v1.3h-1.3zM21.1 99.7h1.3v1.3h-1.3zM36.1 133.9h1.3v1.3h-1.3zM28.7 106.7h1.3v1.3h-1.3zM36.7 131.9h1.3v1.3h-1.3zM29.5 111.8h1.3v1.3h-1.3zM31.9 135.2h1.3v1.3h-1.3zM31.2 112.4h1.3v1.3h-1.3zM26.6 111.0h1.3v1.3h-1.3zM41.3 132.4h1.3v1.3h-1.3zM10.0 104.7h1.3v1.3h-1.3zM33.1 120.6h1.3v1.3h-1.3zM34.5 131.8h1.3v1.3h-1.3zM30.2 116.8h1.3v1.3h-1.3zM20.3 107.8h1.3v1.3h-1.3zM32.8 112.6h1.3v1.3h-1.3zM40.7 137.3h1.3v1.3h-1.3zM29.7 121.4h1.3v1.3h-1.3zM27.9 108.0h1.3v1.3h-1.3zM38.5 127.9h1.3v1.3h-1.3zM29.9 104.1h1.3v1.3h-1.3zM35.1 116.4h1.3v1.3h-1.3zM38.5 131.6h1.3v1.3h-1.3zM17.4 101.2h1.3v1.3h-1.3zM16.7 117.5h1.3v1.3h-1.3zM37.1 139.7h1.3v1.3h-1.3zM21.7 116.6h1.3v1.3h-1.3zM19.9 102.5h1.3v1.3h-1.3zM37.8 121.2h1.3v1.3h-1.3zM31.8 122.7h1.3v1.3h-1.3zM41.6 135.1h1.3v1.3h-1.3zM14.2 115.2h1.3v1.3h-1.3zM44.2 134.3h1.3v1.3h-1.3zM39.2 139.0h1.3v1.3h-1.3zM14.2 108.2h1.3v1.3h-1.3zM34.7 135.2h1.3v1.3h-1.3zM23.9 123.5h1.3v1.3h-1.3zM28.3 106.2h1.3v1.3h-1.3zM28.7 122.9h1.3v1.3h-1.3zM26.4 103.2h1.3v1.3h-1.3zM42.1 140.3h1.3v1.3h-1.3zM30.2 106.8h1.3v1.3h-1.3zM37.8 137.8h1.3v1.3h-1.3zM15.7 104.6h1.3v1.3h-1.3zM28.5 107.2h1.3v1.3h-1.3zM22.4 108.9h1.3v1.3h-1.3zM31.1 120.4h1.3v1.3h-1.3zM30.3 125.4h1.3v1.3h-1.3zM35.7 122.4h1.3v1.3h-1.3zM37.1 130.6h1.3v1.3h-1.3zM38.0 132.7h1.3v1.3h-1.3zM29.0 103.2h1.3v1.3h-1.3zM17.2 117.9h1.3v1.3h-1.3zM39.3 130.3h1.3v1.3h-1.3zM24.1 126.4h1.3v1.3h-1.3zM42.4 135.9h1.3v1.3h-1.3zM16.7 112.3h1.3v1.3h-1.3zM25.2 99.8h1.3v1.3h-1.3zM19.6 103.7h1.3v1.3h-1.3zM34.1 124.8h1.3v1.3h-1.3zM31.7 121.7h1.3v1.3h-1.3zM31.2 131.8h1.3v1.3h-1.3zM30.9 121.5h1.3v1.3h-1.3zM11.9 102.4h1.3v1.3h-1.3zM27.2 104.0h1.3v1.3h-1.3zM27.4 108.8h1.3v1.3h-1.3zM24.9 112.7h1.3v1.3h-1.3zM29.1 105.7h1.3v1.3h-1.3zM18.6 99.3h1.3v1.3h-1.3zM21.3 111.1h1.3v1.3h-1.3zM31.7 107.5h1.3v1.3h-1.3zM42.0 135.9h1.3v1.3h-1.3zM19.4 109.6h1.3v1.3h-1.3zM15.9 104.5h1.3v1.3h-1.3zM33.4 115.8h1.3v1.3h-1.3zM22.3 116.5h1.3v1.3h-1.3zM42.5 132.0h1.3v1.3h-1.3zM21.4 115.4h1.3v1.3h-1.3zM38.1 139.4h1.3v1.3h-1.3zM39.9 140.3h1.3v1.3h-1.3zM25.1 115.4h1.3v1.3h-1.3zM35.5 137.6h1.3v1.3h-1.3zM37.0 138.0h1.3v1.3h-1.3zM21.9 108.7h1.3v1.3h-1.3zM33.3 125.8h1.3v1.3h-1.3zM28.2 107.1h1.3v1.3h-1.3zM24.6 112.2h1.3v1.3h-1.3zM23.6 120.1h1.3v1.3h-1.3zM33.6 116.6h1.3v1.3h-1.3zM34.1 114.7h1.3v1.3h-1.3zM26.3 125.1h1.3v1.3h-1.3zM26.2 127.5h1.3v1.3h-1.3zM39.7 135.4h1.3v1.3h-1.3zM38.7 120.9h1.3v1.3h-1.3zM42.1 139.5h1.3v1.3h-1.3zM25.8 112.3h1.3v1.3h-1.3zM21.7 99.2h1.3v1.3h-1.3zM36.4 121.1h1.3v1.3h-1.3zM35.8 137.2h1.3v1.3h-1.3zM34.2 138.6h1.3v1.3h-1.3zM34.1 138.7h1.3v1.3h-1.3zM28.5 114.1h1.3v1.3h-1.3zM23.2 118.4h1.3v1.3h-1.3zM42.7 137.0h1.3v1.3h-1.3zM32.5 126.3h1.3v1.3h-1.3zM19.9 117.9h1.3v1.3h-1.3zM34.6 121.1h1.3v1.3h-1.3zM27.3 129.8h1.3v1.3h-1.3zM35.0 133.3h1.3v1.3h-1.3zM31.1 125.5h1.3v1.3h-1.3zM26.6 123.4h1.3v1.3h-1.3zM28.5 106.0h1.3v1.3h-1.3zM38.9 126.6h1.3v1.3h-1.3zM38.3 120.3h1.3v1.3h-1.3zM27.1 120.8h1.3v1.3h-1.3zM33.4 119.5h1.3v1.3h-1.3zM36.4 126.9h1.3v1.3h-1.3zM19.7 118.5h1.3v1.3h-1.3zM36.7 139.1h1.3v1.3h-1.3zM31.5 121.1h1.3v1.3h-1.3zM33.1 117.3h1.3v1.3h-1.3zM41.1 134.3h1.3v1.3h-1.3zM8.8 108.2h1.3v1.3h-1.3zM40.1 138.9h1.3v1.3h-1.3zM36.0 118.4h1.3v1.3h-1.3zM12.3 105.9h1.3v1.3h-1.3zM23.0 123.7h1.3v1.3h-1.3zM41.5 126.2h1.3v1.3h-1.3zM37.7 119.4h1.3v1.3h-1.3zM19.5 110.7h1.3v1.3h-1.3zM30.3 131.2h1.3v1.3h-1.3zM20.7 101.0h1.3v1.3h-1.3zM20.4 104.4h1.3v1.3h-1.3zM39.8 136.4h1.3v1.3h-1.3zM40.1 140.4h1.3v1.3h-1.3zM18.3 105.8h1.3v1.3h-1.3zM24.0 105.8h1.3v1.3h-1.3zM10.0 111.1h1.3v1.3h-1.3zM35.8 128.5h1.3v1.3h-1.3zM21.9 114.4h1.3v1.3h-1.3zM25.4 100.6h1.3v1.3h-1.3zM18.8 107.7h1.3v1.3h-1.3zM41.5 133.4h1.3v1.3h-1.3zM32.1 114.9h1.3v1.3h-1.3zM26.4 120.7h1.3v1.3h-1.3zM37.8 134.7h1.3v1.3h-1.3zM27.0 120.0h1.3v1.3h-1.3zM32.0 117.1h1.3v1.3h-1.3zM16.1 116.5h1.3v1.3h-1.3zM16.3 103.5h1.3v1.3h-1.3zM27.3 108.7h1.3v1.3h-1.3zM23.1 123.2h1.3v1.3h-1.3zM36.4 115.3h1.3v1.3h-1.3zM32.4 121.2h1.3v1.3h-1.3zM28.1 106.2h1.3v1.3h-1.3zM38.5 135.5h1.3v1.3h-1.3zM41.4 135.2h1.3v1.3h-1.3zM38.1 121.0h1.3v1.3h-1.3zM23.8 107.6h1.3v1.3h-1.3zM13.7 108.3h1.3v1.3h-1.3zM29.0 109.0h1.3v1.3h-1.3zM36.8 141.9h1.3v1.3h-1.3zM25.1 124.2h1.3v1.3h-1.3zM19.3 102.0h1.3v1.3h-1.3zM29.5 129.9h1.3v1.3h-1.3zM14.9 114.8h1.3v1.3h-1.3zM17.7 108.6h1.3v1.3h-1.3zM37.9 142.5h1.3v1.3h-1.3zM37.9 118.8h1.3v1.3h-1.3zM21.2 103.3h1.3v1.3h-1.3zM42.6 138.1h1.3v1.3h-1.3zM31.9 123.1h1.3v1.3h-1.3zM14.2 112.9h1.3v1.3h-1.3zM13.3 111.6h1.3v1.3h-1.3zM9.9 108.0h1.3v1.3h-1.3zM23.7 123.1h1.3v1.3h-1.3zM23.4 104.7h1.3v1.3h-1.3zM39.2 128.9h1.3v1.3h-1.3zM40.9 125.6h1.3v1.3h-1.3zM38.5 129.3h1.3v1.3h-1.3zM16.1 108.3h1.3v1.3h-1.3zM24.6 124.0h1.3v1.3h-1.3zM36.9 124.3h1.3v1.3h-1.3zM38.0 125.2h1.3v1.3h-1.3zM38.5 122.1h1.3v1.3h-1.3zM41.7 132.7h1.3v1.3h-1.3zM20.1 106.5h1.3v1.3h-1.3zM25.1 119.9h1.3v1.3h-1.3zM36.9 118.4h1.3v1.3h-1.3zM28.2 104.3h1.3v1.3h-1.3zM31.0 134.4h1.3v1.3h-1.3zM27.5 129.3h1.3v1.3h-1.3zM27.5 107.5h1.3v1.3h-1.3zM19.9 100.8h1.3v1.3h-1.3zM36.9 142.3h1.3v1.3h-1.3zM26.2 98.7h1.3v1.3h-1.3zM17.9 100.9h1.3v1.3h-1.3zM65.5 120.5h1.3v1.3h-1.3zM66.9 120.2h1.3v1.3h-1.3zM70.2 106.3h1.3v1.3h-1.3zM74.3 91.6h1.3v1.3h-1.3zM72.2 99.1h1.3v1.3h-1.3zM64.5 119.4h1.3v1.3h-1.3zM78.1 99.9h1.3v1.3h-1.3zM67.4 90.1h1.3v1.3h-1.3zM64.0 116.5h1.3v1.3h-1.3zM75.2 115.1h1.3v1.3h-1.3zM65.8 91.1h1.3v1.3h-1.3zM76.6 92.2h1.3v1.3h-1.3zM71.3 110.3h1.3v1.3h-1.3zM64.0 120.6h1.3v1.3h-1.3zM66.4 119.3h1.3v1.3h-1.3zM76.5 108.7h1.3v1.3h-1.3zM80.8 98.9h1.3v1.3h-1.3zM75.8 95.0h1.3v1.3h-1.3zM73.7 96.6h1.3v1.3h-1.3zM60.3 127.1h1.3v1.3h-1.3zM62.2 103.3h1.3v1.3h-1.3zM73.7 105.1h1.3v1.3h-1.3zM71.4 110.1h1.3v1.3h-1.3zM77.2 107.6h1.3v1.3h-1.3zM65.9 105.4h1.3v1.3h-1.3zM66.5 121.5h1.3v1.3h-1.3zM61.0 115.4h1.3v1.3h-1.3zM61.5 128.4h1.3v1.3h-1.3zM70.3 118.3h1.3v1.3h-1.3zM73.8 96.3h1.3v1.3h-1.3zM76.8 107.4h1.3v1.3h-1.3zM66.3 98.6h1.3v1.3h-1.3zM63.4 113.1h1.3v1.3h-1.3zM70.6 91.2h1.3v1.3h-1.3zM73.2 96.8h1.3v1.3h-1.3zM62.6 115.9h1.3v1.3h-1.3zM64.7 102.0h1.3v1.3h-1.3zM69.8 111.4h1.3v1.3h-1.3zM73.4 108.9h1.3v1.3h-1.3zM73.3 109.9h1.3v1.3h-1.3zM71.0 112.8h1.3v1.3h-1.3zM75.2 99.2h1.3v1.3h-1.3zM63.3 90.9h1.3v1.3h-1.3zM83.7 104.2h1.3v1.3h-1.3zM68.6 124.6h1.3v1.3h-1.3zM69.3 106.6h1.3v1.3h-1.3zM67.4 94.9h1.3v1.3h-1.3zM72.0 118.3h1.3v1.3h-1.3zM79.4 104.2h1.3v1.3h-1.3zM65.3 125.0h1.3v1.3h-1.3zM63.9 102.3h1.3v1.3h-1.3zM76.0 92.6h1.3v1.3h-1.3zM62.6 121.8h1.3v1.3h-1.3zM74.0 90.0h1.3v1.3h-1.3zM58.6 123.6h1.3v1.3h-1.3zM68.9 95.8h1.3v1.3h-1.3zM80.3 111.8h1.3v1.3h-1.3zM74.0 109.0h1.3v1.3h-1.3zM60.0 127.5h1.3v1.3h-1.3zM66.0 121.5h1.3v1.3h-1.3zM71.4 90.0h1.3v1.3h-1.3zM71.4 120.5h1.3v1.3h-1.3zM69.0 123.8h1.3v1.3h-1.3zM73.3 113.2h1.3v1.3h-1.3zM73.3 110.8h1.3v1.3h-1.3zM65.6 122.5h1.3v1.3h-1.3zM53.5 137.3h1.3v1.3h-1.3zM48.0 128.2h1.3v1.3h-1.3zM47.5 138.3h1.3v1.3h-1.3zM49.6 126.6h1.3v1.3h-1.3zM54.4 128.5h1.3v1.3h-1.3zM45.0 120.3h1.3v1.3h-1.3zM50.3 126.1h1.3v1.3h-1.3zM58.0 126.6h1.3v1.3h-1.3zM63.2 131.4h1.3v1.3h-1.3zM52.5 133.5h1.3v1.3h-1.3zM48.1 122.3h1.3v1.3h-1.3zM56.5 122.2h1.3v1.3h-1.3zM47.4 129.0h1.3v1.3h-1.3zM48.0 127.0h1.3v1.3h-1.3zM52.4 130.6h1.3v1.3h-1.3zM46.4 128.8h1.3v1.3h-1.3zM50.6 130.0h1.3v1.3h-1.3zM50.0 122.6h1.3v1.3h-1.3zM50.6 123.1h1.3v1.3h-1.3zM55.8 122.3h1.3v1.3h-1.3zM61.1 131.4h1.3v1.3h-1.3zM46.6 132.8h1.3v1.3h-1.3zM28.0 123.2h1.3v1.3h-1.3zM27.4 121.0h1.3v1.3h-1.3zM62.7 95.3h1.3v1.3h-1.3zM34.2 114.2h1.3v1.3h-1.3zM60.7 119.1h1.3v1.3h-1.3zM28.9 104.1h1.3v1.3h-1.3z"/><path id="pGC" d="M56.9 62.2h1.3v1.3h-1.3zM50.5 86.1h1.3v1.3h-1.3zM67.1 77.0h1.3v1.3h-1.3zM40.9 79.4h1.3v1.3h-1.3zM49.8 79.4h1.3v1.3h-1.3zM49.3 65.1h1.3v1.3h-1.3zM46.7 83.3h1.3v1.3h-1.3zM50.4 75.8h1.3v1.3h-1.3zM52.0 63.9h1.3v1.3h-1.3zM50.3 84.1h1.3v1.3h-1.3zM47.3 81.4h1.3v1.3h-1.3zM70.6 81.5h1.3v1.3h-1.3zM57.4 67.4h1.3v1.3h-1.3zM50.9 79.9h1.3v1.3h-1.3zM67.3 65.6h1.3v1.3h-1.3zM60.3 64.1h1.3v1.3h-1.3zM56.4 85.9h1.3v1.3h-1.3zM52.3 82.3h1.3v1.3h-1.3zM47.0 84.2h1.3v1.3h-1.3zM63.7 84.8h1.3v1.3h-1.3zM66.6 73.1h1.3v1.3h-1.3zM45.7 78.6h1.3v1.3h-1.3zM69.6 74.1h1.3v1.3h-1.3zM72.0 71.3h1.3v1.3h-1.3zM72.7 72.1h1.3v1.3h-1.3zM63.7 69.4h1.3v1.3h-1.3zM46.9 91.7h1.3v1.3h-1.3zM43.0 84.6h1.3v1.3h-1.3zM46.1 77.1h1.3v1.3h-1.3zM43.9 84.1h1.3v1.3h-1.3zM43.4 87.9h1.3v1.3h-1.3zM41.6 74.2h1.3v1.3h-1.3zM57.0 62.7h1.3v1.3h-1.3zM58.1 67.0h1.3v1.3h-1.3zM61.9 70.2h1.3v1.3h-1.3zM63.6 66.0h1.3v1.3h-1.3zM71.3 84.2h1.3v1.3h-1.3zM56.3 65.3h1.3v1.3h-1.3zM70.7 82.0h1.3v1.3h-1.3zM45.6 68.7h1.3v1.3h-1.3zM51.5 86.9h1.3v1.3h-1.3zM45.1 69.9h1.3v1.3h-1.3zM55.3 85.4h1.3v1.3h-1.3zM45.1 88.9h1.3v1.3h-1.3zM46.6 76.1h1.3v1.3h-1.3zM45.9 72.5h1.3v1.3h-1.3zM42.0 88.3h1.3v1.3h-1.3zM53.8 84.4h1.3v1.3h-1.3zM46.5 70.5h1.3v1.3h-1.3zM65.0 80.4h1.3v1.3h-1.3zM71.9 77.1h1.3v1.3h-1.3zM46.8 79.9h1.3v1.3h-1.3zM45.4 78.2h1.3v1.3h-1.3zM58.9 67.8h1.3v1.3h-1.3zM42.4 76.8h1.3v1.3h-1.3zM47.8 86.7h1.3v1.3h-1.3zM68.1 84.2h1.3v1.3h-1.3zM61.2 63.9h1.3v1.3h-1.3zM66.9 75.6h1.3v1.3h-1.3zM49.2 76.6h1.3v1.3h-1.3zM47.8 69.0h1.3v1.3h-1.3zM43.2 83.8h1.3v1.3h-1.3zM57.5 82.2h1.3v1.3h-1.3zM43.5 84.2h1.3v1.3h-1.3zM70.7 68.7h1.3v1.3h-1.3zM70.4 76.8h1.3v1.3h-1.3zM69.8 73.7h1.3v1.3h-1.3zM54.8 86.2h1.3v1.3h-1.3zM69.9 69.1h1.3v1.3h-1.3zM60.1 63.9h1.3v1.3h-1.3zM46.3 77.4h1.3v1.3h-1.3zM52.0 82.3h1.3v1.3h-1.3zM42.5 78.8h1.3v1.3h-1.3zM41.8 80.2h1.3v1.3h-1.3zM71.4 69.9h1.3v1.3h-1.3zM57.6 79.9h1.3v1.3h-1.3zM47.7 65.9h1.3v1.3h-1.3zM45.6 78.2h1.3v1.3h-1.3zM68.4 72.0h1.3v1.3h-1.3zM57.0 79.8h1.3v1.3h-1.3zM42.5 81.5h1.3v1.3h-1.3zM51.3 86.4h1.3v1.3h-1.3zM47.8 79.1h1.3v1.3h-1.3zM47.4 69.2h1.3v1.3h-1.3zM70.2 80.4h1.3v1.3h-1.3zM66.4 82.8h1.3v1.3h-1.3zM45.6 80.3h1.3v1.3h-1.3zM55.4 70.7h1.3v1.3h-1.3zM70.2 75.0h1.3v1.3h-1.3zM53.6 63.3h1.3v1.3h-1.3zM59.6 66.7h1.3v1.3h-1.3zM67.9 75.4h1.3v1.3h-1.3zM52.3 61.6h1.3v1.3h-1.3zM63.8 63.6h1.3v1.3h-1.3zM50.6 63.0h1.3v1.3h-1.3zM44.3 71.5h1.3v1.3h-1.3zM47.1 89.6h1.3v1.3h-1.3zM71.4 76.6h1.3v1.3h-1.3zM63.9 69.4h1.3v1.3h-1.3zM72.0 77.9h1.3v1.3h-1.3zM72.6 71.7h1.3v1.3h-1.3zM50.1 81.8h1.3v1.3h-1.3zM43.0 72.8h1.3v1.3h-1.3zM67.0 83.4h1.3v1.3h-1.3zM54.7 65.3h1.3v1.3h-1.3zM47.6 75.1h1.3v1.3h-1.3zM64.5 70.4h1.3v1.3h-1.3zM47.8 73.7h1.3v1.3h-1.3zM67.9 67.1h1.3v1.3h-1.3zM55.3 65.1h1.3v1.3h-1.3zM58.3 65.3h1.3v1.3h-1.3zM50.1 66.5h1.3v1.3h-1.3zM47.6 85.9h1.3v1.3h-1.3zM55.2 85.3h1.3v1.3h-1.3zM48.7 82.6h1.3v1.3h-1.3zM42.5 72.6h1.3v1.3h-1.3zM51.0 88.3h1.3v1.3h-1.3zM71.2 74.5h1.3v1.3h-1.3zM45.4 81.6h1.3v1.3h-1.3zM48.7 68.4h1.3v1.3h-1.3zM51.2 85.2h1.3v1.3h-1.3zM70.4 82.7h1.3v1.3h-1.3zM72.1 74.6h1.3v1.3h-1.3zM54.2 74.3h1.3v1.3h-1.3zM62.2 65.3h1.3v1.3h-1.3zM47.3 88.4h1.3v1.3h-1.3zM42.2 80.2h1.3v1.3h-1.3zM70.1 76.0h1.3v1.3h-1.3zM53.6 87.0h1.3v1.3h-1.3zM68.1 71.0h1.3v1.3h-1.3zM51.1 67.1h1.3v1.3h-1.3zM50.3 85.8h1.3v1.3h-1.3zM47.2 90.1h1.3v1.3h-1.3zM50.4 84.5h1.3v1.3h-1.3zM51.8 63.3h1.3v1.3h-1.3zM60.9 65.8h1.3v1.3h-1.3zM47.1 65.8h1.3v1.3h-1.3zM53.2 85.4h1.3v1.3h-1.3zM45.7 80.5h1.3v1.3h-1.3zM51.5 87.5h1.3v1.3h-1.3zM68.9 68.0h1.3v1.3h-1.3zM51.6 83.6h1.3v1.3h-1.3zM44.9 83.1h1.3v1.3h-1.3zM71.1 78.1h1.3v1.3h-1.3zM44.0 86.4h1.3v1.3h-1.3zM60.7 82.8h1.3v1.3h-1.3zM44.6 76.9h1.3v1.3h-1.3zM48.1 75.9h1.3v1.3h-1.3zM41.3 85.7h1.3v1.3h-1.3zM47.8 68.6h1.3v1.3h-1.3zM50.5 84.0h1.3v1.3h-1.3zM54.6 63.7h1.3v1.3h-1.3zM66.2 69.3h1.3v1.3h-1.3zM42.8 72.7h1.3v1.3h-1.3zM69.6 71.0h1.3v1.3h-1.3zM55.4 62.9h1.3v1.3h-1.3zM41.5 78.7h1.3v1.3h-1.3zM45.2 68.9h1.3v1.3h-1.3zM47.1 79.3h1.3v1.3h-1.3zM69.4 66.5h1.3v1.3h-1.3zM40.9 79.0h1.3v1.3h-1.3zM52.5 64.1h1.3v1.3h-1.3zM59.4 67.5h1.3v1.3h-1.3zM43.7 70.2h1.3v1.3h-1.3zM66.6 85.0h1.3v1.3h-1.3zM52.9 83.9h1.3v1.3h-1.3zM50.8 78.7h1.3v1.3h-1.3zM47.4 82.2h1.3v1.3h-1.3zM49.3 64.5h1.3v1.3h-1.3zM48.1 75.2h1.3v1.3h-1.3zM72.2 72.2h1.3v1.3h-1.3zM72.1 79.0h1.3v1.3h-1.3zM60.8 66.2h1.3v1.3h-1.3zM49.3 82.1h1.3v1.3h-1.3zM60.7 77.0h1.3v1.3h-1.3zM46.7 70.8h1.3v1.3h-1.3zM49.3 84.4h1.3v1.3h-1.3zM57.3 83.5h1.3v1.3h-1.3zM45.2 90.2h1.3v1.3h-1.3zM44.8 86.2h1.3v1.3h-1.3zM67.9 65.4h1.3v1.3h-1.3zM56.3 64.5h1.3v1.3h-1.3zM67.7 69.3h1.3v1.3h-1.3zM50.0 65.8h1.3v1.3h-1.3zM50.3 87.8h1.3v1.3h-1.3zM53.4 84.1h1.3v1.3h-1.3zM50.5 88.0h1.3v1.3h-1.3zM70.4 72.6h1.3v1.3h-1.3zM52.9 65.1h1.3v1.3h-1.3zM49.4 69.6h1.3v1.3h-1.3zM53.3 63.2h1.3v1.3h-1.3zM45.7 81.0h1.3v1.3h-1.3zM58.6 67.7h1.3v1.3h-1.3zM45.4 88.4h1.3v1.3h-1.3zM71.6 71.8h1.3v1.3h-1.3zM56.3 83.9h1.3v1.3h-1.3zM45.0 76.8h1.3v1.3h-1.3zM68.6 65.4h1.3v1.3h-1.3zM47.8 84.6h1.3v1.3h-1.3zM51.1 64.0h1.3v1.3h-1.3zM45.3 72.5h1.3v1.3h-1.3zM41.5 79.9h1.3v1.3h-1.3zM43.2 86.8h1.3v1.3h-1.3zM49.4 67.7h1.3v1.3h-1.3zM56.4 70.6h1.3v1.3h-1.3zM61.3 77.1h1.3v1.3h-1.3zM58.4 84.7h1.3v1.3h-1.3zM49.2 87.0h1.3v1.3h-1.3zM48.0 76.6h1.3v1.3h-1.3zM69.2 71.8h1.3v1.3h-1.3zM53.1 85.9h1.3v1.3h-1.3zM62.3 67.8h1.3v1.3h-1.3zM45.4 86.4h1.3v1.3h-1.3zM62.2 66.0h1.3v1.3h-1.3zM50.0 88.2h1.3v1.3h-1.3zM68.6 72.1h1.3v1.3h-1.3zM53.3 88.0h1.3v1.3h-1.3zM52.9 78.6h1.3v1.3h-1.3zM48.4 71.9h1.3v1.3h-1.3zM51.2 70.0h1.3v1.3h-1.3zM68.2 74.1h1.3v1.3h-1.3zM49.5 70.4h1.3v1.3h-1.3zM44.3 84.0h1.3v1.3h-1.3zM53.1 72.6h1.3v1.3h-1.3zM67.4 77.1h1.3v1.3h-1.3zM47.2 81.8h1.3v1.3h-1.3zM44.4 75.7h1.3v1.3h-1.3zM55.8 85.6h1.3v1.3h-1.3zM46.9 83.4h1.3v1.3h-1.3zM42.8 70.1h1.3v1.3h-1.3zM41.8 85.7h1.3v1.3h-1.3zM71.3 76.4h1.3v1.3h-1.3zM47.7 90.9h1.3v1.3h-1.3zM68.4 77.1h1.3v1.3h-1.3zM43.1 84.3h1.3v1.3h-1.3zM71.5 69.3h1.3v1.3h-1.3zM57.9 62.0h1.3v1.3h-1.3zM62.8 77.0h1.3v1.3h-1.3zM44.9 82.3h1.3v1.3h-1.3zM45.8 72.6h1.3v1.3h-1.3zM48.3 72.7h1.3v1.3h-1.3zM71.2 80.0h1.3v1.3h-1.3zM70.4 76.2h1.3v1.3h-1.3zM69.8 83.3h1.3v1.3h-1.3zM48.8 85.6h1.3v1.3h-1.3zM73.3 70.5h1.3v1.3h-1.3zM71.4 79.8h1.3v1.3h-1.3zM67.3 78.5h1.3v1.3h-1.3zM43.1 78.6h1.3v1.3h-1.3zM48.1 90.6h1.3v1.3h-1.3zM53.3 64.3h1.3v1.3h-1.3zM71.5 80.1h1.3v1.3h-1.3zM63.5 64.2h1.3v1.3h-1.3zM65.8 83.3h1.3v1.3h-1.3zM57.1 79.7h1.3v1.3h-1.3zM70.4 72.4h1.3v1.3h-1.3zM45.5 68.9h1.3v1.3h-1.3zM52.0 85.2h1.3v1.3h-1.3zM43.7 82.6h1.3v1.3h-1.3zM59.2 85.7h1.3v1.3h-1.3zM46.2 76.0h1.3v1.3h-1.3zM69.3 77.2h1.3v1.3h-1.3zM65.1 84.9h1.3v1.3h-1.3zM46.5 83.8h1.3v1.3h-1.3zM64.5 70.0h1.3v1.3h-1.3zM48.9 65.3h1.3v1.3h-1.3zM65.9 72.2h1.3v1.3h-1.3zM46.9 77.8h1.3v1.3h-1.3zM66.8 65.1h1.3v1.3h-1.3zM72.7 70.4h1.3v1.3h-1.3zM48.3 74.9h1.3v1.3h-1.3zM48.8 70.9h1.3v1.3h-1.3zM52.3 69.6h1.3v1.3h-1.3zM44.6 89.5h1.3v1.3h-1.3zM57.7 64.8h1.3v1.3h-1.3zM66.7 75.8h1.3v1.3h-1.3zM69.2 78.2h1.3v1.3h-1.3zM62.3 63.9h1.3v1.3h-1.3zM47.6 84.7h1.3v1.3h-1.3zM72.0 68.9h1.3v1.3h-1.3zM60.6 63.9h1.3v1.3h-1.3zM71.3 71.9h1.3v1.3h-1.3zM57.1 62.5h1.3v1.3h-1.3zM57.1 68.6h1.3v1.3h-1.3zM55.7 62.4h1.3v1.3h-1.3zM58.8 73.4h1.3v1.3h-1.3zM62.7 79.6h1.3v1.3h-1.3zM69.7 82.5h1.3v1.3h-1.3zM68.0 68.5h1.3v1.3h-1.3zM66.2 85.3h1.3v1.3h-1.3zM52.6 73.8h1.3v1.3h-1.3zM43.6 76.6h1.3v1.3h-1.3zM71.8 73.9h1.3v1.3h-1.3zM43.8 83.6h1.3v1.3h-1.3zM65.1 70.0h1.3v1.3h-1.3zM66.1 85.0h1.3v1.3h-1.3zM59.1 69.6h1.3v1.3h-1.3zM43.1 83.2h1.3v1.3h-1.3zM50.1 83.0h1.3v1.3h-1.3zM60.9 73.4h1.3v1.3h-1.3zM45.5 76.4h1.3v1.3h-1.3zM52.3 61.6h1.3v1.3h-1.3zM65.7 66.2h1.3v1.3h-1.3zM64.3 63.1h1.3v1.3h-1.3zM49.8 83.3h1.3v1.3h-1.3zM43.9 71.4h1.3v1.3h-1.3zM50.7 84.3h1.3v1.3h-1.3zM67.0 73.5h1.3v1.3h-1.3zM53.5 66.4h1.3v1.3h-1.3zM57.2 86.3h1.3v1.3h-1.3zM56.3 66.9h1.3v1.3h-1.3zM50.9 62.8h1.3v1.3h-1.3zM42.6 81.3h1.3v1.3h-1.3zM45.7 76.1h1.3v1.3h-1.3zM43.8 72.1h1.3v1.3h-1.3zM57.6 64.7h1.3v1.3h-1.3zM48.3 87.7h1.3v1.3h-1.3zM68.5 68.3h1.3v1.3h-1.3zM54.6 67.5h1.3v1.3h-1.3zM56.8 61.1h1.3v1.3h-1.3zM54.2 71.0h1.3v1.3h-1.3zM42.9 89.7h1.3v1.3h-1.3zM43.2 77.7h1.3v1.3h-1.3zM42.5 83.4h1.3v1.3h-1.3zM48.8 66.0h1.3v1.3h-1.3zM44.6 76.1h1.3v1.3h-1.3zM49.6 70.3h1.3v1.3h-1.3zM69.9 79.7h1.3v1.3h-1.3zM56.0 62.7h1.3v1.3h-1.3zM52.5 81.2h1.3v1.3h-1.3zM53.3 88.0h1.3v1.3h-1.3zM46.5 69.4h1.3v1.3h-1.3zM46.3 64.7h1.3v1.3h-1.3zM48.8 87.2h1.3v1.3h-1.3zM49.4 73.2h1.3v1.3h-1.3zM46.3 70.4h1.3v1.3h-1.3zM59.2 69.0h1.3v1.3h-1.3zM52.2 84.3h1.3v1.3h-1.3zM69.1 84.9h1.3v1.3h-1.3zM47.7 74.8h1.3v1.3h-1.3zM53.9 64.6h1.3v1.3h-1.3zM53.8 62.8h1.3v1.3h-1.3zM46.8 71.4h1.3v1.3h-1.3zM59.6 85.8h1.3v1.3h-1.3zM57.2 86.1h1.3v1.3h-1.3zM49.5 66.2h1.3v1.3h-1.3zM50.9 88.1h1.3v1.3h-1.3zM48.2 90.1h1.3v1.3h-1.3zM68.7 82.2h1.3v1.3h-1.3zM53.6 65.5h1.3v1.3h-1.3zM47.9 73.9h1.3v1.3h-1.3zM46.2 69.9h1.3v1.3h-1.3zM44.8 80.7h1.3v1.3h-1.3zM47.0 68.5h1.3v1.3h-1.3zM48.6 70.9h1.3v1.3h-1.3zM42.7 87.4h1.3v1.3h-1.3zM45.3 68.2h1.3v1.3h-1.3zM68.0 74.7h1.3v1.3h-1.3zM70.5 71.4h1.3v1.3h-1.3zM48.7 91.9h1.3v1.3h-1.3zM66.9 69.8h1.3v1.3h-1.3zM69.6 74.1h1.3v1.3h-1.3zM47.2 91.8h1.3v1.3h-1.3zM46.6 71.3h1.3v1.3h-1.3zM52.3 73.0h1.3v1.3h-1.3zM44.8 75.3h1.3v1.3h-1.3zM67.7 74.9h1.3v1.3h-1.3zM60.2 65.9h1.3v1.3h-1.3zM72.7 75.1h1.3v1.3h-1.3zM71.1 78.7h1.3v1.3h-1.3zM54.3 66.2h1.3v1.3h-1.3zM43.6 78.8h1.3v1.3h-1.3zM56.9 62.6h1.3v1.3h-1.3zM64.4 65.0h1.3v1.3h-1.3zM54.4 85.2h1.3v1.3h-1.3zM53.8 67.0h1.3v1.3h-1.3zM51.6 79.8h1.3v1.3h-1.3zM70.6 75.9h1.3v1.3h-1.3zM49.1 69.5h1.3v1.3h-1.3zM58.2 70.0h1.3v1.3h-1.3zM67.7 83.2h1.3v1.3h-1.3zM49.6 80.4h1.3v1.3h-1.3zM66.9 66.2h1.3v1.3h-1.3zM67.2 77.1h1.3v1.3h-1.3zM61.6 65.5h1.3v1.3h-1.3zM68.7 68.7h1.3v1.3h-1.3zM47.4 67.9h1.3v1.3h-1.3zM58.8 66.9h1.3v1.3h-1.3zM66.5 64.8h1.3v1.3h-1.3zM69.2 75.6h1.3v1.3h-1.3zM47.5 80.1h1.3v1.3h-1.3zM67.2 70.1h1.3v1.3h-1.3zM51.4 69.2h1.3v1.3h-1.3zM58.1 84.6h1.3v1.3h-1.3zM46.6 65.5h1.3v1.3h-1.3zM67.8 82.4h1.3v1.3h-1.3zM64.8 70.8h1.3v1.3h-1.3zM48.3 76.0h1.3v1.3h-1.3zM60.5 62.6h1.3v1.3h-1.3zM68.5 70.8h1.3v1.3h-1.3zM46.4 69.3h1.3v1.3h-1.3zM68.6 75.9h1.3v1.3h-1.3zM49.0 70.7h1.3v1.3h-1.3zM49.7 68.1h1.3v1.3h-1.3zM44.2 84.5h1.3v1.3h-1.3zM55.6 63.2h1.3v1.3h-1.3zM49.0 63.9h1.3v1.3h-1.3zM49.0 73.8h1.3v1.3h-1.3zM47.6 75.9h1.3v1.3h-1.3zM48.2 90.9h1.3v1.3h-1.3zM49.3 68.4h1.3v1.3h-1.3zM45.7 84.7h1.3v1.3h-1.3zM44.6 81.9h1.3v1.3h-1.3zM52.2 87.7h1.3v1.3h-1.3zM67.6 72.9h1.3v1.3h-1.3zM70.5 81.6h1.3v1.3h-1.3zM71.0 74.2h1.3v1.3h-1.3zM55.7 63.4h1.3v1.3h-1.3zM49.6 74.7h1.3v1.3h-1.3zM73.3 72.2h1.3v1.3h-1.3zM48.5 88.9h1.3v1.3h-1.3zM58.4 63.6h1.3v1.3h-1.3zM71.6 78.3h1.3v1.3h-1.3zM45.3 78.1h1.3v1.3h-1.3zM70.3 71.7h1.3v1.3h-1.3zM66.7 70.0h1.3v1.3h-1.3zM61.9 65.1h1.3v1.3h-1.3zM53.0 84.1h1.3v1.3h-1.3zM49.4 88.3h1.3v1.3h-1.3zM66.9 69.7h1.3v1.3h-1.3zM66.5 67.9h1.3v1.3h-1.3zM44.0 88.8h1.3v1.3h-1.3zM49.4 81.9h1.3v1.3h-1.3zM69.4 75.8h1.3v1.3h-1.3zM61.6 68.6h1.3v1.3h-1.3zM73.6 75.4h1.3v1.3h-1.3zM54.9 65.8h1.3v1.3h-1.3zM65.1 71.5h1.3v1.3h-1.3zM58.3 65.2h1.3v1.3h-1.3zM59.9 64.0h1.3v1.3h-1.3zM68.6 69.1h1.3v1.3h-1.3zM60.8 65.3h1.3v1.3h-1.3zM65.6 67.0h1.3v1.3h-1.3zM67.9 73.7h1.3v1.3h-1.3zM54.5 62.9h1.3v1.3h-1.3zM47.6 83.8h1.3v1.3h-1.3zM47.6 89.6h1.3v1.3h-1.3zM69.2 77.8h1.3v1.3h-1.3zM57.1 85.1h1.3v1.3h-1.3zM66.2 68.2h1.3v1.3h-1.3zM52.7 65.2h1.3v1.3h-1.3zM49.1 67.9h1.3v1.3h-1.3zM67.3 79.6h1.3v1.3h-1.3zM47.3 69.6h1.3v1.3h-1.3zM69.3 71.0h1.3v1.3h-1.3zM48.4 65.3h1.3v1.3h-1.3zM53.8 86.5h1.3v1.3h-1.3zM59.6 66.4h1.3v1.3h-1.3zM50.0 82.3h1.3v1.3h-1.3zM43.0 82.1h1.3v1.3h-1.3zM43.6 76.8h1.3v1.3h-1.3zM48.1 86.8h1.3v1.3h-1.3zM52.9 63.0h1.3v1.3h-1.3zM48.3 68.5h1.3v1.3h-1.3zM67.8 68.4h1.3v1.3h-1.3zM53.9 85.7h1.3v1.3h-1.3zM45.6 77.5h1.3v1.3h-1.3zM46.7 82.2h1.3v1.3h-1.3zM51.6 83.4h1.3v1.3h-1.3zM55.8 63.6h1.3v1.3h-1.3zM51.5 66.4h1.3v1.3h-1.3zM67.9 77.9h1.3v1.3h-1.3zM54.1 62.7h1.3v1.3h-1.3zM71.2 78.7h1.3v1.3h-1.3zM52.5 82.3h1.3v1.3h-1.3zM47.1 87.0h1.3v1.3h-1.3zM66.6 82.5h1.3v1.3h-1.3zM56.5 65.3h1.3v1.3h-1.3zM48.7 82.1h1.3v1.3h-1.3zM55.2 89.1h1.3v1.3h-1.3zM51.6 85.9h1.3v1.3h-1.3zM46.2 66.2h1.3v1.3h-1.3zM62.9 85.8h1.3v1.3h-1.3zM44.9 74.8h1.3v1.3h-1.3zM72.3 71.7h1.3v1.3h-1.3zM66.3 65.5h1.3v1.3h-1.3zM46.4 89.1h1.3v1.3h-1.3zM45.5 76.7h1.3v1.3h-1.3zM69.0 66.4h1.3v1.3h-1.3zM46.9 74.0h1.3v1.3h-1.3zM49.9 68.0h1.3v1.3h-1.3zM62.1 76.2h1.3v1.3h-1.3zM69.9 70.7h1.3v1.3h-1.3zM67.7 68.3h1.3v1.3h-1.3zM46.5 81.1h1.3v1.3h-1.3zM48.8 64.5h1.3v1.3h-1.3zM54.2 79.8h1.3v1.3h-1.3zM65.1 67.0h1.3v1.3h-1.3zM43.8 74.1h1.3v1.3h-1.3zM44.1 70.7h1.3v1.3h-1.3zM64.4 63.5h1.3v1.3h-1.3zM46.8 69.2h1.3v1.3h-1.3zM42.2 84.0h1.3v1.3h-1.3zM51.3 63.4h1.3v1.3h-1.3zM69.5 82.0h1.3v1.3h-1.3zM70.0 83.5h1.3v1.3h-1.3zM49.0 76.6h1.3v1.3h-1.3zM60.7 64.3h1.3v1.3h-1.3zM67.9 76.7h1.3v1.3h-1.3zM63.8 68.0h1.3v1.3h-1.3zM61.0 85.2h1.3v1.3h-1.3zM67.7 77.4h1.3v1.3h-1.3zM54.0 63.4h1.3v1.3h-1.3zM49.5 76.1h1.3v1.3h-1.3zM69.8 76.8h1.3v1.3h-1.3zM51.8 90.4h1.3v1.3h-1.3zM52.7 63.1h1.3v1.3h-1.3zM65.5 84.3h1.3v1.3h-1.3zM52.3 88.2h1.3v1.3h-1.3zM67.1 64.0h1.3v1.3h-1.3zM50.0 70.4h1.3v1.3h-1.3zM43.7 74.5h1.3v1.3h-1.3zM69.0 78.5h1.3v1.3h-1.3zM56.4 62.5h1.3v1.3h-1.3zM50.0 67.1h1.3v1.3h-1.3zM53.9 63.8h1.3v1.3h-1.3zM68.3 66.7h1.3v1.3h-1.3zM44.2 75.3h1.3v1.3h-1.3zM70.3 68.5h1.3v1.3h-1.3zM71.3 75.9h1.3v1.3h-1.3zM57.7 64.1h1.3v1.3h-1.3zM46.2 72.8h1.3v1.3h-1.3zM54.8 87.3h1.3v1.3h-1.3zM71.0 76.8h1.3v1.3h-1.3zM48.6 81.0h1.3v1.3h-1.3zM56.9 63.1h1.3v1.3h-1.3zM43.1 77.6h1.3v1.3h-1.3zM54.9 63.5h1.3v1.3h-1.3zM45.8 87.3h1.3v1.3h-1.3zM53.4 64.7h1.3v1.3h-1.3zM48.9 73.7h1.3v1.3h-1.3zM53.7 63.4h1.3v1.3h-1.3zM57.6 67.0h1.3v1.3h-1.3zM56.9 66.8h1.3v1.3h-1.3zM45.0 70.6h1.3v1.3h-1.3zM59.2 65.1h1.3v1.3h-1.3zM49.2 67.2h1.3v1.3h-1.3zM52.8 63.2h1.3v1.3h-1.3zM52.3 90.1h1.3v1.3h-1.3zM70.1 75.5h1.3v1.3h-1.3zM59.2 63.7h1.3v1.3h-1.3zM45.8 87.7h1.3v1.3h-1.3zM63.9 63.6h1.3v1.3h-1.3zM51.3 73.7h1.3v1.3h-1.3zM68.7 79.7h1.3v1.3h-1.3zM48.0 77.4h1.3v1.3h-1.3zM70.0 74.4h1.3v1.3h-1.3zM46.3 64.8h1.3v1.3h-1.3zM70.7 74.3h1.3v1.3h-1.3zM44.0 84.0h1.3v1.3h-1.3zM43.3 69.3h1.3v1.3h-1.3zM71.6 80.1h1.3v1.3h-1.3zM62.1 120.9h1.3v1.3h-1.3zM65.8 111.0h1.3v1.3h-1.3zM62.8 119.2h1.3v1.3h-1.3zM71.7 102.4h1.3v1.3h-1.3zM68.9 121.2h1.3v1.3h-1.3zM66.0 102.8h1.3v1.3h-1.3zM63.2 115.6h1.3v1.3h-1.3zM73.7 110.7h1.3v1.3h-1.3zM70.3 107.5h1.3v1.3h-1.3zM73.0 100.0h1.3v1.3h-1.3zM71.9 111.5h1.3v1.3h-1.3zM71.9 115.9h1.3v1.3h-1.3zM59.5 125.0h1.3v1.3h-1.3zM76.2 103.4h1.3v1.3h-1.3zM70.4 90.9h1.3v1.3h-1.3zM71.4 96.5h1.3v1.3h-1.3zM73.7 101.5h1.3v1.3h-1.3zM69.9 90.2h1.3v1.3h-1.3zM78.5 95.8h1.3v1.3h-1.3zM81.8 97.9h1.3v1.3h-1.3zM65.6 117.9h1.3v1.3h-1.3zM77.8 97.9h1.3v1.3h-1.3zM79.7 108.4h1.3v1.3h-1.3zM76.5 99.6h1.3v1.3h-1.3zM59.6 123.5h1.3v1.3h-1.3zM64.2 121.9h1.3v1.3h-1.3zM66.9 98.9h1.3v1.3h-1.3zM66.2 120.4h1.3v1.3h-1.3zM73.5 103.8h1.3v1.3h-1.3zM48.3 128.3h1.3v1.3h-1.3zM53.4 123.7h1.3v1.3h-1.3zM57.9 128.2h1.3v1.3h-1.3zM47.8 121.8h1.3v1.3h-1.3zM48.3 135.5h1.3v1.3h-1.3zM58.1 139.1h1.3v1.3h-1.3zM52.7 125.6h1.3v1.3h-1.3zM47.2 131.9h1.3v1.3h-1.3zM48.5 120.0h1.3v1.3h-1.3zM59.4 122.4h1.3v1.3h-1.3zM48.2 127.8h1.3v1.3h-1.3zM50.4 124.4h1.3v1.3h-1.3zM47.8 123.9h1.3v1.3h-1.3zM47.3 127.1h1.3v1.3h-1.3zM51.0 140.9h1.3v1.3h-1.3zM44.8 123.4h1.3v1.3h-1.3zM47.6 129.4h1.3v1.3h-1.3zM58.0 137.0h1.3v1.3h-1.3zM56.3 135.2h1.3v1.3h-1.3zM51.4 121.4h1.3v1.3h-1.3zM43.8 126.2h1.3v1.3h-1.3zM61.0 132.5h1.3v1.3h-1.3zM51.7 124.9h1.3v1.3h-1.3zM46.4 70.1h1.3v1.3h-1.3zM42.1 85.5h1.3v1.3h-1.3zM46.7 64.9h1.3v1.3h-1.3zM79.7 89.6h1.3v1.3h-1.3zM55.1 84.6h1.3v1.3h-1.3zM48.0 83.2h1.3v1.3h-1.3zM43.7 85.5h1.3v1.3h-1.3zM46.9 142.6h1.3v1.3h-1.3zM40.7 80.2h1.3v1.3h-1.3zM56.0 84.5h1.3v1.3h-1.3zM54.1 86.0h1.3v1.3h-1.3zM62.4 78.7h1.3v1.3h-1.3zM52.2 71.7h1.3v1.3h-1.3zM58.4 58.1h1.3v1.3h-1.3zM49.6 90.2h1.3v1.3h-1.3zM46.6 71.8h1.3v1.3h-1.3zM51.9 64.9h1.3v1.3h-1.3zM71.7 107.6h1.3v1.3h-1.3z"/><path id="pLM" d="M145.7 94.5h1.3v1.3h-1.3zM151.2 89.1h1.3v1.3h-1.3zM143.8 99.5h1.3v1.3h-1.3zM139.3 88.1h1.3v1.3h-1.3zM152.4 97.8h1.3v1.3h-1.3zM138.0 95.2h1.3v1.3h-1.3zM144.0 101.3h1.3v1.3h-1.3zM159.8 88.6h1.3v1.3h-1.3zM136.5 96.4h1.3v1.3h-1.3zM148.3 94.2h1.3v1.3h-1.3zM154.1 92.4h1.3v1.3h-1.3zM147.1 89.4h1.3v1.3h-1.3zM141.6 85.4h1.3v1.3h-1.3zM139.5 86.2h1.3v1.3h-1.3zM155.3 86.2h1.3v1.3h-1.3zM158.2 93.2h1.3v1.3h-1.3zM138.7 89.0h1.3v1.3h-1.3zM145.9 83.2h1.3v1.3h-1.3zM138.8 84.8h1.3v1.3h-1.3zM156.0 93.3h1.3v1.3h-1.3zM142.5 84.5h1.3v1.3h-1.3zM144.4 84.2h1.3v1.3h-1.3zM148.3 95.3h1.3v1.3h-1.3zM153.5 90.1h1.3v1.3h-1.3zM145.3 83.7h1.3v1.3h-1.3zM150.3 95.5h1.3v1.3h-1.3zM139.5 93.3h1.3v1.3h-1.3zM146.0 89.7h1.3v1.3h-1.3zM157.6 88.2h1.3v1.3h-1.3zM137.7 86.3h1.3v1.3h-1.3zM154.9 86.9h1.3v1.3h-1.3zM152.8 93.6h1.3v1.3h-1.3zM148.6 95.6h1.3v1.3h-1.3zM152.2 85.5h1.3v1.3h-1.3zM138.0 92.0h1.3v1.3h-1.3zM144.2 102.4h1.3v1.3h-1.3zM153.1 88.3h1.3v1.3h-1.3zM138.7 84.9h1.3v1.3h-1.3zM154.5 84.9h1.3v1.3h-1.3zM144.8 93.5h1.3v1.3h-1.3zM142.0 95.3h1.3v1.3h-1.3zM149.0 102.0h1.3v1.3h-1.3zM147.2 88.4h1.3v1.3h-1.3zM144.9 102.3h1.3v1.3h-1.3zM137.8 82.2h1.3v1.3h-1.3zM133.8 96.2h1.3v1.3h-1.3zM144.6 86.9h1.3v1.3h-1.3zM140.4 95.0h1.3v1.3h-1.3zM148.9 102.9h1.3v1.3h-1.3zM144.6 91.9h1.3v1.3h-1.3zM151.0 90.0h1.3v1.3h-1.3zM145.7 93.7h1.3v1.3h-1.3zM156.0 89.9h1.3v1.3h-1.3zM140.7 85.4h1.3v1.3h-1.3zM145.1 93.5h1.3v1.3h-1.3zM152.9 93.8h1.3v1.3h-1.3zM145.8 101.4h1.3v1.3h-1.3zM152.1 102.1h1.3v1.3h-1.3zM143.9 82.7h1.3v1.3h-1.3zM140.8 87.8h1.3v1.3h-1.3zM146.5 96.2h1.3v1.3h-1.3zM148.3 99.0h1.3v1.3h-1.3zM140.4 94.7h1.3v1.3h-1.3zM142.5 90.6h1.3v1.3h-1.3zM139.1 91.5h1.3v1.3h-1.3zM159.0 87.1h1.3v1.3h-1.3zM141.9 85.3h1.3v1.3h-1.3zM145.9 85.1h1.3v1.3h-1.3zM150.7 99.3h1.3v1.3h-1.3zM148.2 97.3h1.3v1.3h-1.3zM138.6 91.9h1.3v1.3h-1.3zM143.2 88.6h1.3v1.3h-1.3zM139.0 91.4h1.3v1.3h-1.3zM159.0 90.0h1.3v1.3h-1.3zM152.5 90.7h1.3v1.3h-1.3zM141.7 86.5h1.3v1.3h-1.3zM149.4 98.5h1.3v1.3h-1.3zM147.8 98.7h1.3v1.3h-1.3zM152.0 92.6h1.3v1.3h-1.3zM138.0 89.5h1.3v1.3h-1.3zM153.7 89.9h1.3v1.3h-1.3zM147.2 85.0h1.3v1.3h-1.3zM139.0 82.3h1.3v1.3h-1.3zM137.8 86.1h1.3v1.3h-1.3zM144.7 97.0h1.3v1.3h-1.3zM146.6 90.3h1.3v1.3h-1.3zM152.4 87.4h1.3v1.3h-1.3zM143.4 89.4h1.3v1.3h-1.3zM143.3 92.4h1.3v1.3h-1.3zM150.2 92.8h1.3v1.3h-1.3zM147.9 97.9h1.3v1.3h-1.3zM141.6 86.1h1.3v1.3h-1.3zM141.3 91.2h1.3v1.3h-1.3zM140.1 86.7h1.3v1.3h-1.3zM147.8 86.7h1.3v1.3h-1.3zM142.2 82.6h1.3v1.3h-1.3zM144.5 94.1h1.3v1.3h-1.3zM158.2 88.7h1.3v1.3h-1.3zM147.4 90.6h1.3v1.3h-1.3zM138.2 83.3h1.3v1.3h-1.3zM148.2 89.0h1.3v1.3h-1.3zM152.6 96.8h1.3v1.3h-1.3zM140.7 90.7h1.3v1.3h-1.3zM151.3 90.6h1.3v1.3h-1.3zM148.2 101.8h1.3v1.3h-1.3zM146.8 84.9h1.3v1.3h-1.3zM141.9 91.4h1.3v1.3h-1.3zM155.6 91.4h1.3v1.3h-1.3zM153.7 98.2h1.3v1.3h-1.3zM158.5 89.8h1.3v1.3h-1.3zM152.8 85.9h1.3v1.3h-1.3zM144.1 88.6h1.3v1.3h-1.3zM145.2 81.5h1.3v1.3h-1.3zM140.7 91.0h1.3v1.3h-1.3zM147.7 99.4h1.3v1.3h-1.3zM146.4 88.8h1.3v1.3h-1.3zM149.6 96.3h1.3v1.3h-1.3zM147.8 101.7h1.3v1.3h-1.3zM156.1 88.3h1.3v1.3h-1.3zM137.5 82.3h1.3v1.3h-1.3zM154.2 90.1h1.3v1.3h-1.3zM143.8 97.6h1.3v1.3h-1.3zM144.8 95.6h1.3v1.3h-1.3zM138.4 94.0h1.3v1.3h-1.3zM138.4 87.6h1.3v1.3h-1.3zM149.8 90.1h1.3v1.3h-1.3zM146.7 100.3h1.3v1.3h-1.3zM152.1 94.4h1.3v1.3h-1.3zM150.7 95.5h1.3v1.3h-1.3zM142.5 91.8h1.3v1.3h-1.3zM157.5 94.2h1.3v1.3h-1.3zM137.6 84.4h1.3v1.3h-1.3zM147.2 98.9h1.3v1.3h-1.3zM145.0 95.9h1.3v1.3h-1.3zM136.4 88.3h1.3v1.3h-1.3zM146.6 99.4h1.3v1.3h-1.3zM138.1 86.7h1.3v1.3h-1.3zM141.0 85.2h1.3v1.3h-1.3zM150.5 89.5h1.3v1.3h-1.3zM140.8 88.6h1.3v1.3h-1.3zM154.0 100.4h1.3v1.3h-1.3zM153.5 93.4h1.3v1.3h-1.3zM142.0 93.6h1.3v1.3h-1.3zM147.7 96.3h1.3v1.3h-1.3zM148.1 100.9h1.3v1.3h-1.3zM141.9 88.0h1.3v1.3h-1.3zM140.8 85.1h1.3v1.3h-1.3zM145.6 88.0h1.3v1.3h-1.3zM149.1 84.2h1.3v1.3h-1.3zM159.5 91.1h1.3v1.3h-1.3zM145.0 91.9h1.3v1.3h-1.3zM146.6 92.6h1.3v1.3h-1.3zM141.3 96.1h1.3v1.3h-1.3zM153.1 95.8h1.3v1.3h-1.3zM138.9 88.2h1.3v1.3h-1.3zM144.5 88.2h1.3v1.3h-1.3zM148.5 92.2h1.3v1.3h-1.3zM148.0 96.4h1.3v1.3h-1.3zM145.1 87.7h1.3v1.3h-1.3zM156.3 91.2h1.3v1.3h-1.3zM135.4 85.0h1.3v1.3h-1.3zM135.6 120.9h1.3v1.3h-1.3zM133.4 116.6h1.3v1.3h-1.3zM129.4 121.3h1.3v1.3h-1.3zM144.1 113.0h1.3v1.3h-1.3zM129.3 119.4h1.3v1.3h-1.3zM138.5 117.0h1.3v1.3h-1.3zM134.9 114.0h1.3v1.3h-1.3zM135.2 126.6h1.3v1.3h-1.3zM138.5 126.3h1.3v1.3h-1.3zM127.3 125.8h1.3v1.3h-1.3zM131.0 127.3h1.3v1.3h-1.3zM143.3 111.8h1.3v1.3h-1.3zM138.9 114.4h1.3v1.3h-1.3zM126.7 129.1h1.3v1.3h-1.3zM139.0 111.6h1.3v1.3h-1.3zM141.2 124.1h1.3v1.3h-1.3zM123.7 124.4h1.3v1.3h-1.3zM130.5 113.3h1.3v1.3h-1.3zM142.1 120.8h1.3v1.3h-1.3zM137.6 115.2h1.3v1.3h-1.3zM124.0 126.6h1.3v1.3h-1.3zM140.6 111.6h1.3v1.3h-1.3zM133.4 115.3h1.3v1.3h-1.3zM139.4 125.3h1.3v1.3h-1.3zM135.0 114.8h1.3v1.3h-1.3zM143.5 115.6h1.3v1.3h-1.3zM128.9 128.2h1.3v1.3h-1.3zM135.0 125.7h1.3v1.3h-1.3zM141.2 111.9h1.3v1.3h-1.3zM132.5 115.7h1.3v1.3h-1.3zM142.5 119.9h1.3v1.3h-1.3zM134.5 115.1h1.3v1.3h-1.3zM131.4 120.6h1.3v1.3h-1.3zM136.3 118.0h1.3v1.3h-1.3zM135.2 116.2h1.3v1.3h-1.3zM140.3 123.5h1.3v1.3h-1.3zM132.5 128.3h1.3v1.3h-1.3zM130.8 119.9h1.3v1.3h-1.3zM129.9 130.4h1.3v1.3h-1.3zM141.0 121.8h1.3v1.3h-1.3zM129.5 110.5h1.3v1.3h-1.3zM131.4 124.4h1.3v1.3h-1.3zM137.6 120.3h1.3v1.3h-1.3zM143.8 112.9h1.3v1.3h-1.3zM137.3 116.4h1.3v1.3h-1.3zM134.7 113.5h1.3v1.3h-1.3zM137.2 119.0h1.3v1.3h-1.3zM142.2 120.9h1.3v1.3h-1.3zM126.5 127.8h1.3v1.3h-1.3zM134.4 123.1h1.3v1.3h-1.3zM137.9 127.3h1.3v1.3h-1.3zM143.7 116.0h1.3v1.3h-1.3zM136.4 121.1h1.3v1.3h-1.3zM142.0 121.6h1.3v1.3h-1.3zM129.6 118.2h1.3v1.3h-1.3zM132.5 123.2h1.3v1.3h-1.3zM126.1 128.9h1.3v1.3h-1.3zM129.8 120.8h1.3v1.3h-1.3zM138.2 118.2h1.3v1.3h-1.3zM129.1 123.6h1.3v1.3h-1.3zM135.0 115.8h1.3v1.3h-1.3zM129.1 126.6h1.3v1.3h-1.3zM129.1 109.4h1.3v1.3h-1.3zM131.7 120.2h1.3v1.3h-1.3zM135.6 122.5h1.3v1.3h-1.3zM136.2 113.1h1.3v1.3h-1.3zM128.0 120.0h1.3v1.3h-1.3zM140.4 113.2h1.3v1.3h-1.3zM125.0 127.3h1.3v1.3h-1.3zM130.2 118.0h1.3v1.3h-1.3zM134.8 116.1h1.3v1.3h-1.3zM135.4 117.7h1.3v1.3h-1.3zM137.6 125.0h1.3v1.3h-1.3zM137.3 114.9h1.3v1.3h-1.3zM130.4 112.9h1.3v1.3h-1.3zM134.5 126.0h1.3v1.3h-1.3zM130.4 119.2h1.3v1.3h-1.3zM126.5 128.7h1.3v1.3h-1.3zM132.2 128.9h1.3v1.3h-1.3zM128.1 130.9h1.3v1.3h-1.3zM131.2 109.4h1.3v1.3h-1.3zM133.1 127.2h1.3v1.3h-1.3zM129.4 121.6h1.3v1.3h-1.3zM131.1 111.3h1.3v1.3h-1.3zM141.2 114.2h1.3v1.3h-1.3zM137.8 118.7h1.3v1.3h-1.3zM134.1 118.6h1.3v1.3h-1.3zM127.0 127.8h1.3v1.3h-1.3zM133.0 109.6h1.3v1.3h-1.3zM137.7 117.9h1.3v1.3h-1.3zM138.8 117.8h1.3v1.3h-1.3zM136.5 120.7h1.3v1.3h-1.3zM131.4 111.2h1.3v1.3h-1.3zM130.2 125.2h1.3v1.3h-1.3zM131.5 111.2h1.3v1.3h-1.3zM141.4 112.6h1.3v1.3h-1.3zM129.9 128.0h1.3v1.3h-1.3zM143.1 112.6h1.3v1.3h-1.3zM130.0 111.3h1.3v1.3h-1.3zM135.0 112.7h1.3v1.3h-1.3zM130.4 126.3h1.3v1.3h-1.3zM140.8 117.3h1.3v1.3h-1.3zM139.1 111.4h1.3v1.3h-1.3zM124.4 126.2h1.3v1.3h-1.3zM131.1 125.6h1.3v1.3h-1.3zM144.2 115.0h1.3v1.3h-1.3zM132.7 111.3h1.3v1.3h-1.3zM136.8 125.4h1.3v1.3h-1.3zM137.1 124.9h1.3v1.3h-1.3zM130.0 112.1h1.3v1.3h-1.3zM128.5 120.9h1.3v1.3h-1.3zM126.4 130.1h1.3v1.3h-1.3zM134.9 116.1h1.3v1.3h-1.3zM142.1 122.6h1.3v1.3h-1.3zM134.4 115.2h1.3v1.3h-1.3zM124.5 126.5h1.3v1.3h-1.3zM140.1 124.6h1.3v1.3h-1.3zM129.2 130.0h1.3v1.3h-1.3zM129.0 115.0h1.3v1.3h-1.3zM134.9 126.2h1.3v1.3h-1.3zM130.0 124.9h1.3v1.3h-1.3zM134.4 112.9h1.3v1.3h-1.3zM136.1 110.1h1.3v1.3h-1.3zM141.1 113.3h1.3v1.3h-1.3zM129.0 120.3h1.3v1.3h-1.3zM140.4 119.0h1.3v1.3h-1.3zM130.6 115.7h1.3v1.3h-1.3zM133.3 112.0h1.3v1.3h-1.3zM141.7 122.7h1.3v1.3h-1.3zM141.7 123.3h1.3v1.3h-1.3zM131.6 119.2h1.3v1.3h-1.3zM136.1 109.6h1.3v1.3h-1.3zM136.8 115.7h1.3v1.3h-1.3zM130.8 110.3h1.3v1.3h-1.3zM143.4 111.9h1.3v1.3h-1.3zM134.2 121.1h1.3v1.3h-1.3zM129.5 111.9h1.3v1.3h-1.3zM131.2 125.5h1.3v1.3h-1.3zM133.8 121.1h1.3v1.3h-1.3zM124.2 126.8h1.3v1.3h-1.3zM133.3 125.5h1.3v1.3h-1.3zM138.0 124.5h1.3v1.3h-1.3zM63.1 91.2h1.3v1.3h-1.3zM60.8 98.3h1.3v1.3h-1.3zM69.9 98.4h1.3v1.3h-1.3zM60.3 95.6h1.3v1.3h-1.3zM62.3 91.7h1.3v1.3h-1.3zM74.2 100.9h1.3v1.3h-1.3zM65.7 96.1h1.3v1.3h-1.3zM67.6 98.0h1.3v1.3h-1.3zM70.3 100.4h1.3v1.3h-1.3zM66.6 95.8h1.3v1.3h-1.3zM72.1 98.2h1.3v1.3h-1.3zM63.9 91.5h1.3v1.3h-1.3zM68.7 94.0h1.3v1.3h-1.3zM64.4 101.7h1.3v1.3h-1.3zM60.6 96.5h1.3v1.3h-1.3zM68.8 95.4h1.3v1.3h-1.3zM66.8 96.5h1.3v1.3h-1.3zM67.8 93.9h1.3v1.3h-1.3zM63.0 93.0h1.3v1.3h-1.3zM60.7 94.0h1.3v1.3h-1.3zM60.9 96.3h1.3v1.3h-1.3zM66.0 97.6h1.3v1.3h-1.3zM59.9 96.7h1.3v1.3h-1.3zM73.7 95.2h1.3v1.3h-1.3zM71.0 92.7h1.3v1.3h-1.3zM67.9 101.6h1.3v1.3h-1.3zM70.9 99.5h1.3v1.3h-1.3zM71.8 92.9h1.3v1.3h-1.3zM74.3 100.3h1.3v1.3h-1.3zM62.4 97.9h1.3v1.3h-1.3zM70.3 100.5h1.3v1.3h-1.3zM70.2 97.8h1.3v1.3h-1.3zM59.5 91.9h1.3v1.3h-1.3zM70.5 98.9h1.3v1.3h-1.3zM69.2 97.7h1.3v1.3h-1.3zM64.4 99.3h1.3v1.3h-1.3zM71.2 95.6h1.3v1.3h-1.3zM69.7 96.8h1.3v1.3h-1.3zM64.6 98.7h1.3v1.3h-1.3zM61.4 93.5h1.3v1.3h-1.3zM59.5 96.7h1.3v1.3h-1.3zM66.3 95.4h1.3v1.3h-1.3zM73.7 98.8h1.3v1.3h-1.3zM72.0 97.5h1.3v1.3h-1.3zM63.5 99.4h1.3v1.3h-1.3zM66.6 95.9h1.3v1.3h-1.3zM58.5 93.3h1.3v1.3h-1.3zM68.6 100.0h1.3v1.3h-1.3zM68.1 92.0h1.3v1.3h-1.3zM70.3 94.3h1.3v1.3h-1.3zM64.3 100.2h1.3v1.3h-1.3zM67.8 95.9h1.3v1.3h-1.3zM72.6 95.2h1.3v1.3h-1.3zM65.6 93.9h1.3v1.3h-1.3zM74.4 97.0h1.3v1.3h-1.3zM61.8 97.1h1.3v1.3h-1.3zM71.2 93.4h1.3v1.3h-1.3zM73.5 95.9h1.3v1.3h-1.3zM63.2 93.7h1.3v1.3h-1.3zM70.8 91.8h1.3v1.3h-1.3zM70.3 97.9h1.3v1.3h-1.3zM71.7 97.5h1.3v1.3h-1.3zM67.1 90.6h1.3v1.3h-1.3zM69.4 100.0h1.3v1.3h-1.3zM63.1 99.0h1.3v1.3h-1.3zM64.4 102.5h1.3v1.3h-1.3zM81.1 94.0h1.3v1.3h-1.3zM67.0 104.9h1.3v1.3h-1.3zM60.3 123.5h1.3v1.3h-1.3zM69.8 104.9h1.3v1.3h-1.3zM74.0 114.7h1.3v1.3h-1.3zM71.4 119.2h1.3v1.3h-1.3zM83.7 106.5h1.3v1.3h-1.3zM72.5 112.0h1.3v1.3h-1.3zM69.3 118.7h1.3v1.3h-1.3zM80.8 94.1h1.3v1.3h-1.3zM64.2 92.6h1.3v1.3h-1.3zM75.8 116.5h1.3v1.3h-1.3zM72.3 98.8h1.3v1.3h-1.3zM78.6 102.1h1.3v1.3h-1.3zM77.5 112.7h1.3v1.3h-1.3zM78.7 101.8h1.3v1.3h-1.3zM74.8 107.8h1.3v1.3h-1.3zM65.0 115.1h1.3v1.3h-1.3zM67.5 91.9h1.3v1.3h-1.3zM68.0 104.7h1.3v1.3h-1.3zM79.7 111.7h1.3v1.3h-1.3zM74.4 108.0h1.3v1.3h-1.3zM77.8 113.9h1.3v1.3h-1.3zM76.2 105.9h1.3v1.3h-1.3zM65.8 127.7h1.3v1.3h-1.3zM81.9 103.8h1.3v1.3h-1.3zM71.1 95.3h1.3v1.3h-1.3zM72.9 103.6h1.3v1.3h-1.3zM60.8 125.1h1.3v1.3h-1.3zM63.9 106.0h1.3v1.3h-1.3zM51.2 131.6h1.3v1.3h-1.3zM58.7 136.7h1.3v1.3h-1.3zM52.6 126.4h1.3v1.3h-1.3zM44.2 123.8h1.3v1.3h-1.3zM55.4 125.7h1.3v1.3h-1.3zM57.3 122.1h1.3v1.3h-1.3zM61.2 134.4h1.3v1.3h-1.3zM53.1 127.7h1.3v1.3h-1.3zM50.6 123.7h1.3v1.3h-1.3zM49.9 123.5h1.3v1.3h-1.3zM56.6 142.0h1.3v1.3h-1.3zM54.6 118.4h1.3v1.3h-1.3zM139.6 93.2h1.3v1.3h-1.3zM135.4 91.2h1.3v1.3h-1.3zM134.9 121.8h1.3v1.3h-1.3zM135.5 94.3h1.3v1.3h-1.3zM148.5 94.6h1.3v1.3h-1.3zM81.2 100.9h1.3v1.3h-1.3zM128.0 130.3h1.3v1.3h-1.3zM132.9 115.6h1.3v1.3h-1.3z"/><path id="pUK9" d="M77.0 79.0h1.3v1.3h-1.3zM72.7 87.9h1.3v1.3h-1.3zM71.0 77.4h1.3v1.3h-1.3zM68.8 79.9h1.3v1.3h-1.3zM71.5 76.3h1.3v1.3h-1.3zM78.2 87.8h1.3v1.3h-1.3zM71.6 77.4h1.3v1.3h-1.3zM76.2 87.7h1.3v1.3h-1.3zM77.3 94.5h1.3v1.3h-1.3zM71.8 88.8h1.3v1.3h-1.3zM73.3 90.9h1.3v1.3h-1.3zM72.9 93.9h1.3v1.3h-1.3zM68.3 83.0h1.3v1.3h-1.3zM75.7 91.8h1.3v1.3h-1.3zM69.0 84.9h1.3v1.3h-1.3zM73.1 92.5h1.3v1.3h-1.3zM77.8 86.7h1.3v1.3h-1.3zM76.2 84.8h1.3v1.3h-1.3zM69.5 89.3h1.3v1.3h-1.3zM73.5 89.2h1.3v1.3h-1.3zM73.0 93.9h1.3v1.3h-1.3zM77.1 86.5h1.3v1.3h-1.3zM75.7 96.2h1.3v1.3h-1.3zM69.2 85.5h1.3v1.3h-1.3zM75.0 87.0h1.3v1.3h-1.3zM74.6 93.9h1.3v1.3h-1.3zM73.7 92.0h1.3v1.3h-1.3zM68.2 85.2h1.3v1.3h-1.3zM72.5 91.5h1.3v1.3h-1.3zM76.4 83.0h1.3v1.3h-1.3zM72.4 80.9h1.3v1.3h-1.3zM72.5 95.1h1.3v1.3h-1.3zM70.6 79.7h1.3v1.3h-1.3zM73.9 94.1h1.3v1.3h-1.3zM73.8 89.5h1.3v1.3h-1.3zM67.3 83.3h1.3v1.3h-1.3zM77.5 88.9h1.3v1.3h-1.3zM76.0 90.6h1.3v1.3h-1.3zM78.0 84.7h1.3v1.3h-1.3zM74.4 92.6h1.3v1.3h-1.3zM76.3 77.2h1.3v1.3h-1.3zM67.9 87.5h1.3v1.3h-1.3zM75.3 80.8h1.3v1.3h-1.3zM70.7 90.8h1.3v1.3h-1.3zM79.4 85.4h1.3v1.3h-1.3zM74.8 84.0h1.3v1.3h-1.3zM73.6 93.3h1.3v1.3h-1.3zM71.1 77.3h1.3v1.3h-1.3zM78.6 90.7h1.3v1.3h-1.3zM70.5 90.6h1.3v1.3h-1.3zM74.9 85.0h1.3v1.3h-1.3zM76.2 88.7h1.3v1.3h-1.3zM71.6 91.4h1.3v1.3h-1.3zM78.0 93.8h1.3v1.3h-1.3zM76.7 92.2h1.3v1.3h-1.3zM73.8 77.9h1.3v1.3h-1.3zM74.7 82.8h1.3v1.3h-1.3zM80.0 92.6h1.3v1.3h-1.3zM77.5 91.7h1.3v1.3h-1.3zM74.5 84.0h1.3v1.3h-1.3zM78.9 94.6h1.3v1.3h-1.3zM71.9 80.2h1.3v1.3h-1.3zM69.5 85.2h1.3v1.3h-1.3zM72.3 79.0h1.3v1.3h-1.3zM76.0 83.5h1.3v1.3h-1.3zM79.0 91.6h1.3v1.3h-1.3zM78.7 89.2h1.3v1.3h-1.3zM75.7 83.7h1.3v1.3h-1.3zM71.0 91.9h1.3v1.3h-1.3zM70.6 77.7h1.3v1.3h-1.3zM74.2 81.1h1.3v1.3h-1.3zM74.7 80.7h1.3v1.3h-1.3zM77.5 83.2h1.3v1.3h-1.3zM78.4 89.2h1.3v1.3h-1.3zM74.3 77.5h1.3v1.3h-1.3zM76.8 92.6h1.3v1.3h-1.3zM70.5 78.6h1.3v1.3h-1.3zM72.3 94.1h1.3v1.3h-1.3zM77.6 86.0h1.3v1.3h-1.3zM68.4 80.8h1.3v1.3h-1.3zM73.4 78.5h1.3v1.3h-1.3zM69.9 93.1h1.3v1.3h-1.3zM74.7 81.9h1.3v1.3h-1.3zM71.1 78.7h1.3v1.3h-1.3zM78.9 84.7h1.3v1.3h-1.3zM77.9 95.2h1.3v1.3h-1.3zM75.2 89.2h1.3v1.3h-1.3zM76.8 94.1h1.3v1.3h-1.3zM74.5 95.6h1.3v1.3h-1.3zM75.5 92.7h1.3v1.3h-1.3zM69.3 81.9h1.3v1.3h-1.3zM70.3 78.1h1.3v1.3h-1.3zM77.7 83.9h1.3v1.3h-1.3zM78.6 82.8h1.3v1.3h-1.3zM74.8 75.5h1.3v1.3h-1.3zM72.4 93.1h1.3v1.3h-1.3zM78.0 83.8h1.3v1.3h-1.3zM73.2 97.1h1.3v1.3h-1.3zM73.7 90.5h1.3v1.3h-1.3zM75.6 77.4h1.3v1.3h-1.3zM75.7 82.3h1.3v1.3h-1.3zM71.7 81.6h1.3v1.3h-1.3zM73.2 88.5h1.3v1.3h-1.3zM75.3 90.0h1.3v1.3h-1.3zM76.0 80.3h1.3v1.3h-1.3zM69.9 95.3h1.3v1.3h-1.3zM69.8 89.3h1.3v1.3h-1.3zM79.6 107.7h1.3v1.3h-1.3zM78.1 106.4h1.3v1.3h-1.3zM76.7 106.2h1.3v1.3h-1.3zM74.4 103.2h1.3v1.3h-1.3zM78.5 102.4h1.3v1.3h-1.3zM78.6 109.2h1.3v1.3h-1.3zM77.5 102.2h1.3v1.3h-1.3zM77.4 103.3h1.3v1.3h-1.3zM79.8 100.5h1.3v1.3h-1.3zM76.7 107.8h1.3v1.3h-1.3zM80.3 106.5h1.3v1.3h-1.3zM76.4 104.9h1.3v1.3h-1.3zM75.5 107.0h1.3v1.3h-1.3zM76.8 103.8h1.3v1.3h-1.3zM73.5 102.6h1.3v1.3h-1.3zM77.8 104.7h1.3v1.3h-1.3zM76.3 103.4h1.3v1.3h-1.3zM81.1 105.9h1.3v1.3h-1.3zM80.1 105.5h1.3v1.3h-1.3zM75.7 108.6h1.3v1.3h-1.3zM79.5 105.1h1.3v1.3h-1.3zM75.3 107.8h1.3v1.3h-1.3zM74.4 102.9h1.3v1.3h-1.3zM78.9 95.3h1.3v1.3h-1.3zM78.6 111.8h1.3v1.3h-1.3zM66.6 89.3h1.3v1.3h-1.3zM77.1 97.4h1.3v1.3h-1.3zM65.7 109.5h1.3v1.3h-1.3zM77.0 96.2h1.3v1.3h-1.3zM64.5 123.8h1.3v1.3h-1.3zM77.4 101.0h1.3v1.3h-1.3zM72.7 101.4h1.3v1.3h-1.3zM69.3 121.0h1.3v1.3h-1.3zM71.5 101.2h1.3v1.3h-1.3zM75.8 110.0h1.3v1.3h-1.3zM73.9 97.0h1.3v1.3h-1.3zM73.1 92.9h1.3v1.3h-1.3zM70.8 104.0h1.3v1.3h-1.3zM62.0 91.0h1.3v1.3h-1.3zM68.4 90.9h1.3v1.3h-1.3zM67.9 123.0h1.3v1.3h-1.3zM76.7 106.1h1.3v1.3h-1.3zM64.6 97.2h1.3v1.3h-1.3zM75.8 96.9h1.3v1.3h-1.3zM74.5 96.5h1.3v1.3h-1.3zM61.9 102.4h1.3v1.3h-1.3zM65.6 104.0h1.3v1.3h-1.3zM56.4 121.7h1.3v1.3h-1.3zM56.2 128.7h1.3v1.3h-1.3zM47.3 138.0h1.3v1.3h-1.3zM55.6 127.7h1.3v1.3h-1.3zM48.2 132.6h1.3v1.3h-1.3zM71.3 87.6h1.3v1.3h-1.3zM78.9 90.1h1.3v1.3h-1.3zM71.5 98.5h1.3v1.3h-1.3z"/><path id="pYGC" d="M79.4 57.2h1.3v1.3h-1.3zM57.9 37.0h1.3v1.3h-1.3zM62.4 46.6h1.3v1.3h-1.3zM66.4 51.9h1.3v1.3h-1.3zM69.4 37.4h1.3v1.3h-1.3zM74.0 42.0h1.3v1.3h-1.3zM64.6 33.7h1.3v1.3h-1.3zM74.3 53.9h1.3v1.3h-1.3zM56.6 41.4h1.3v1.3h-1.3zM77.4 55.9h1.3v1.3h-1.3zM72.2 55.1h1.3v1.3h-1.3zM68.9 42.0h1.3v1.3h-1.3zM60.1 43.4h1.3v1.3h-1.3zM66.5 33.5h1.3v1.3h-1.3zM67.0 43.8h1.3v1.3h-1.3zM64.5 50.6h1.3v1.3h-1.3zM56.9 48.3h1.3v1.3h-1.3zM59.6 47.2h1.3v1.3h-1.3zM71.2 52.5h1.3v1.3h-1.3zM71.9 39.7h1.3v1.3h-1.3zM58.0 36.9h1.3v1.3h-1.3zM71.1 54.2h1.3v1.3h-1.3zM57.6 38.4h1.3v1.3h-1.3zM66.1 54.4h1.3v1.3h-1.3zM70.6 45.7h1.3v1.3h-1.3zM64.5 52.8h1.3v1.3h-1.3zM68.2 33.6h1.3v1.3h-1.3zM75.1 49.6h1.3v1.3h-1.3zM68.9 39.8h1.3v1.3h-1.3zM80.0 54.1h1.3v1.3h-1.3zM78.6 46.7h1.3v1.3h-1.3zM64.6 53.4h1.3v1.3h-1.3zM78.6 50.1h1.3v1.3h-1.3zM75.4 46.9h1.3v1.3h-1.3zM78.7 48.6h1.3v1.3h-1.3zM57.1 40.8h1.3v1.3h-1.3zM71.9 54.0h1.3v1.3h-1.3zM80.1 56.9h1.3v1.3h-1.3zM74.8 41.2h1.3v1.3h-1.3zM73.2 50.7h1.3v1.3h-1.3zM64.4 33.4h1.3v1.3h-1.3zM65.8 36.8h1.3v1.3h-1.3zM76.2 41.4h1.3v1.3h-1.3zM68.9 45.0h1.3v1.3h-1.3zM79.8 58.7h1.3v1.3h-1.3zM76.3 47.1h1.3v1.3h-1.3zM70.4 44.6h1.3v1.3h-1.3zM73.8 43.0h1.3v1.3h-1.3zM79.6 56.8h1.3v1.3h-1.3zM70.7 44.5h1.3v1.3h-1.3zM79.9 45.8h1.3v1.3h-1.3zM64.0 46.1h1.3v1.3h-1.3zM71.9 43.0h1.3v1.3h-1.3zM78.5 49.1h1.3v1.3h-1.3zM70.1 41.4h1.3v1.3h-1.3zM73.7 52.9h1.3v1.3h-1.3zM69.4 36.6h1.3v1.3h-1.3zM75.5 55.0h1.3v1.3h-1.3zM76.0 47.3h1.3v1.3h-1.3zM80.8 53.3h1.3v1.3h-1.3zM77.1 47.8h1.3v1.3h-1.3zM60.2 47.7h1.3v1.3h-1.3zM75.3 45.4h1.3v1.3h-1.3zM76.2 42.2h1.3v1.3h-1.3zM80.5 53.2h1.3v1.3h-1.3zM61.3 38.0h1.3v1.3h-1.3zM74.8 48.5h1.3v1.3h-1.3zM57.6 43.8h1.3v1.3h-1.3zM63.5 29.8h1.3v1.3h-1.3zM68.9 41.2h1.3v1.3h-1.3zM68.8 52.6h1.3v1.3h-1.3zM63.2 45.9h1.3v1.3h-1.3zM74.4 43.7h1.3v1.3h-1.3zM56.7 49.7h1.3v1.3h-1.3zM75.8 39.4h1.3v1.3h-1.3zM83.5 56.6h1.3v1.3h-1.3zM75.3 40.5h1.3v1.3h-1.3zM70.9 36.6h1.3v1.3h-1.3zM72.1 55.0h1.3v1.3h-1.3zM76.7 49.6h1.3v1.3h-1.3zM70.8 43.2h1.3v1.3h-1.3zM70.7 45.4h1.3v1.3h-1.3zM58.5 42.8h1.3v1.3h-1.3zM65.3 34.8h1.3v1.3h-1.3zM68.6 39.1h1.3v1.3h-1.3zM56.1 39.1h1.3v1.3h-1.3zM56.6 45.2h1.3v1.3h-1.3zM77.1 56.9h1.3v1.3h-1.3zM67.8 49.9h1.3v1.3h-1.3zM82.1 59.6h1.3v1.3h-1.3zM77.8 48.1h1.3v1.3h-1.3zM78.3 56.2h1.3v1.3h-1.3zM73.9 39.7h1.3v1.3h-1.3zM72.6 44.2h1.3v1.3h-1.3zM63.7 39.9h1.3v1.3h-1.3zM59.1 41.9h1.3v1.3h-1.3zM77.1 55.9h1.3v1.3h-1.3zM82.6 56.9h1.3v1.3h-1.3zM67.3 52.1h1.3v1.3h-1.3zM69.2 42.7h1.3v1.3h-1.3zM62.0 49.4h1.3v1.3h-1.3zM73.0 52.9h1.3v1.3h-1.3zM67.4 46.9h1.3v1.3h-1.3zM78.3 45.7h1.3v1.3h-1.3zM60.4 42.6h1.3v1.3h-1.3zM77.3 49.5h1.3v1.3h-1.3zM55.6 45.9h1.3v1.3h-1.3zM80.9 54.5h1.3v1.3h-1.3zM66.9 50.9h1.3v1.3h-1.3zM67.5 46.6h1.3v1.3h-1.3zM60.9 32.0h1.3v1.3h-1.3zM69.5 48.0h1.3v1.3h-1.3zM62.1 42.6h1.3v1.3h-1.3zM70.1 53.5h1.3v1.3h-1.3zM80.9 52.4h1.3v1.3h-1.3zM72.0 39.2h1.3v1.3h-1.3zM71.5 46.5h1.3v1.3h-1.3zM63.4 36.1h1.3v1.3h-1.3zM66.1 43.6h1.3v1.3h-1.3zM59.1 37.0h1.3v1.3h-1.3zM58.9 44.0h1.3v1.3h-1.3zM76.9 49.2h1.3v1.3h-1.3zM69.7 37.2h1.3v1.3h-1.3zM85.2 53.1h1.3v1.3h-1.3zM78.7 53.0h1.3v1.3h-1.3zM58.3 48.6h1.3v1.3h-1.3zM60.5 38.7h1.3v1.3h-1.3zM70.2 40.7h1.3v1.3h-1.3zM76.7 44.4h1.3v1.3h-1.3zM72.6 52.9h1.3v1.3h-1.3zM69.0 39.9h1.3v1.3h-1.3zM83.0 52.4h1.3v1.3h-1.3zM67.4 50.2h1.3v1.3h-1.3zM68.4 36.3h1.3v1.3h-1.3zM61.5 43.8h1.3v1.3h-1.3zM66.9 51.3h1.3v1.3h-1.3zM75.3 42.3h1.3v1.3h-1.3zM81.3 57.0h1.3v1.3h-1.3zM61.5 49.2h1.3v1.3h-1.3zM80.2 51.8h1.3v1.3h-1.3zM81.4 60.3h1.3v1.3h-1.3zM76.8 46.4h1.3v1.3h-1.3zM61.4 45.5h1.3v1.3h-1.3zM58.2 45.2h1.3v1.3h-1.3zM63.9 36.6h1.3v1.3h-1.3zM66.0 45.0h1.3v1.3h-1.3zM82.1 58.1h1.3v1.3h-1.3zM81.4 57.4h1.3v1.3h-1.3zM76.6 56.2h1.3v1.3h-1.3zM74.2 45.1h1.3v1.3h-1.3zM84.8 53.9h1.3v1.3h-1.3zM77.4 57.3h1.3v1.3h-1.3zM75.4 56.6h1.3v1.3h-1.3zM66.2 35.2h1.3v1.3h-1.3zM72.2 44.5h1.3v1.3h-1.3zM63.8 47.1h1.3v1.3h-1.3zM72.2 38.9h1.3v1.3h-1.3zM69.8 52.1h1.3v1.3h-1.3zM70.3 44.3h1.3v1.3h-1.3zM61.5 51.9h1.3v1.3h-1.3zM63.4 46.0h1.3v1.3h-1.3zM66.4 49.5h1.3v1.3h-1.3zM67.7 51.5h1.3v1.3h-1.3zM78.5 54.9h1.3v1.3h-1.3zM75.3 51.1h1.3v1.3h-1.3zM68.5 50.6h1.3v1.3h-1.3zM57.5 37.7h1.3v1.3h-1.3zM67.1 53.3h1.3v1.3h-1.3zM74.3 52.9h1.3v1.3h-1.3zM70.0 42.8h1.3v1.3h-1.3zM70.4 47.9h1.3v1.3h-1.3zM71.4 39.1h1.3v1.3h-1.3zM62.7 53.8h1.3v1.3h-1.3zM81.4 57.0h1.3v1.3h-1.3zM64.4 50.9h1.3v1.3h-1.3zM69.9 38.4h1.3v1.3h-1.3zM69.5 40.0h1.3v1.3h-1.3zM73.0 49.1h1.3v1.3h-1.3zM59.9 40.8h1.3v1.3h-1.3zM63.9 35.4h1.3v1.3h-1.3zM67.7 44.4h1.3v1.3h-1.3zM76.9 56.5h1.3v1.3h-1.3zM65.4 50.9h1.3v1.3h-1.3zM76.4 40.5h1.3v1.3h-1.3zM60.5 34.6h1.3v1.3h-1.3zM77.1 57.5h1.3v1.3h-1.3zM63.2 50.9h1.3v1.3h-1.3zM60.5 42.0h1.3v1.3h-1.3zM62.5 40.1h1.3v1.3h-1.3zM68.4 40.6h1.3v1.3h-1.3zM70.2 37.6h1.3v1.3h-1.3zM67.3 41.1h1.3v1.3h-1.3zM72.1 40.9h1.3v1.3h-1.3zM81.4 54.4h1.3v1.3h-1.3zM80.8 54.6h1.3v1.3h-1.3zM59.9 48.1h1.3v1.3h-1.3zM67.5 42.9h1.3v1.3h-1.3zM71.5 54.4h1.3v1.3h-1.3zM64.7 50.8h1.3v1.3h-1.3zM60.4 34.7h1.3v1.3h-1.3zM62.7 45.2h1.3v1.3h-1.3zM68.6 37.3h1.3v1.3h-1.3zM76.2 57.1h1.3v1.3h-1.3zM75.3 53.5h1.3v1.3h-1.3zM76.1 54.8h1.3v1.3h-1.3zM74.9 55.2h1.3v1.3h-1.3zM55.6 45.0h1.3v1.3h-1.3zM81.8 55.3h1.3v1.3h-1.3zM62.2 46.2h1.3v1.3h-1.3zM76.2 45.9h1.3v1.3h-1.3zM80.0 48.1h1.3v1.3h-1.3zM75.9 53.8h1.3v1.3h-1.3zM70.2 46.9h1.3v1.3h-1.3zM63.3 42.4h1.3v1.3h-1.3zM76.0 51.5h1.3v1.3h-1.3zM67.6 34.8h1.3v1.3h-1.3zM75.4 47.8h1.3v1.3h-1.3zM71.6 39.9h1.3v1.3h-1.3zM79.8 51.2h1.3v1.3h-1.3zM71.4 53.1h1.3v1.3h-1.3zM71.8 41.0h1.3v1.3h-1.3zM57.0 42.7h1.3v1.3h-1.3zM82.2 53.7h1.3v1.3h-1.3zM80.5 49.6h1.3v1.3h-1.3zM75.3 44.3h1.3v1.3h-1.3zM62.0 50.2h1.3v1.3h-1.3zM71.8 53.7h1.3v1.3h-1.3zM72.7 44.6h1.3v1.3h-1.3zM76.2 40.1h1.3v1.3h-1.3zM69.3 38.7h1.3v1.3h-1.3zM73.4 50.7h1.3v1.3h-1.3zM67.7 44.7h1.3v1.3h-1.3zM67.9 33.0h1.3v1.3h-1.3zM76.6 50.0h1.3v1.3h-1.3zM58.3 42.5h1.3v1.3h-1.3zM79.7 52.0h1.3v1.3h-1.3zM67.1 47.8h1.3v1.3h-1.3zM64.7 31.8h1.3v1.3h-1.3zM80.7 52.9h1.3v1.3h-1.3zM75.6 47.6h1.3v1.3h-1.3zM63.6 45.1h1.3v1.3h-1.3zM57.7 44.3h1.3v1.3h-1.3zM71.5 46.4h1.3v1.3h-1.3zM71.4 53.8h1.3v1.3h-1.3zM74.1 44.3h1.3v1.3h-1.3zM71.9 49.6h1.3v1.3h-1.3zM72.6 51.5h1.3v1.3h-1.3zM61.4 48.3h1.3v1.3h-1.3zM68.8 43.1h1.3v1.3h-1.3zM84.9 53.7h1.3v1.3h-1.3zM70.1 43.5h1.3v1.3h-1.3zM80.5 48.1h1.3v1.3h-1.3zM70.8 41.8h1.3v1.3h-1.3zM70.5 48.9h1.3v1.3h-1.3zM63.5 51.4h1.3v1.3h-1.3zM63.0 39.0h1.3v1.3h-1.3zM69.6 36.9h1.3v1.3h-1.3zM81.7 50.2h1.3v1.3h-1.3zM77.1 42.9h1.3v1.3h-1.3zM59.7 36.2h1.3v1.3h-1.3zM72.6 54.4h1.3v1.3h-1.3zM56.3 48.6h1.3v1.3h-1.3zM79.5 48.6h1.3v1.3h-1.3zM59.2 33.3h1.3v1.3h-1.3zM68.0 39.0h1.3v1.3h-1.3zM67.3 44.4h1.3v1.3h-1.3zM70.5 50.0h1.3v1.3h-1.3zM76.4 58.3h1.3v1.3h-1.3zM72.3 36.7h1.3v1.3h-1.3zM68.2 51.7h1.3v1.3h-1.3zM80.0 45.5h1.3v1.3h-1.3zM59.9 35.4h1.3v1.3h-1.3zM67.4 44.4h1.3v1.3h-1.3zM74.6 43.0h1.3v1.3h-1.3zM62.7 51.1h1.3v1.3h-1.3zM70.4 42.8h1.3v1.3h-1.3zM76.7 53.6h1.3v1.3h-1.3zM73.8 43.4h1.3v1.3h-1.3zM75.2 51.9h1.3v1.3h-1.3zM62.5 32.6h1.3v1.3h-1.3zM76.7 54.9h1.3v1.3h-1.3zM77.6 60.6h1.3v1.3h-1.3zM66.7 39.5h1.3v1.3h-1.3zM69.3 48.6h1.3v1.3h-1.3zM66.7 40.1h1.3v1.3h-1.3zM70.4 45.0h1.3v1.3h-1.3zM72.4 45.4h1.3v1.3h-1.3zM56.5 39.4h1.3v1.3h-1.3zM69.9 49.6h1.3v1.3h-1.3zM69.0 35.4h1.3v1.3h-1.3zM55.8 42.3h1.3v1.3h-1.3zM66.1 48.6h1.3v1.3h-1.3zM57.3 42.3h1.3v1.3h-1.3zM66.4 48.2h1.3v1.3h-1.3zM72.2 50.8h1.3v1.3h-1.3zM69.5 35.6h1.3v1.3h-1.3zM63.3 46.6h1.3v1.3h-1.3zM72.4 47.3h1.3v1.3h-1.3zM57.5 48.4h1.3v1.3h-1.3zM69.5 39.6h1.3v1.3h-1.3zM71.5 41.3h1.3v1.3h-1.3zM76.4 52.2h1.3v1.3h-1.3zM69.9 51.6h1.3v1.3h-1.3zM75.3 45.9h1.3v1.3h-1.3zM79.0 50.5h1.3v1.3h-1.3zM71.8 44.8h1.3v1.3h-1.3zM78.2 50.8h1.3v1.3h-1.3zM59.0 33.5h1.3v1.3h-1.3zM73.0 51.2h1.3v1.3h-1.3zM78.7 57.2h1.3v1.3h-1.3zM64.0 48.7h1.3v1.3h-1.3zM67.6 35.5h1.3v1.3h-1.3zM66.6 39.9h1.3v1.3h-1.3zM57.9 41.2h1.3v1.3h-1.3zM82.4 49.8h1.3v1.3h-1.3zM56.5 45.1h1.3v1.3h-1.3zM70.8 41.0h1.3v1.3h-1.3zM58.6 44.3h1.3v1.3h-1.3zM57.3 43.2h1.3v1.3h-1.3zM59.2 42.0h1.3v1.3h-1.3zM75.5 42.1h1.3v1.3h-1.3zM73.7 39.5h1.3v1.3h-1.3zM83.7 51.1h1.3v1.3h-1.3zM81.6 56.3h1.3v1.3h-1.3zM68.8 49.3h1.3v1.3h-1.3zM75.1 47.8h1.3v1.3h-1.3zM61.0 51.2h1.3v1.3h-1.3zM79.8 52.8h1.3v1.3h-1.3zM68.1 49.3h1.3v1.3h-1.3zM68.1 48.3h1.3v1.3h-1.3zM72.2 38.1h1.3v1.3h-1.3zM68.5 48.9h1.3v1.3h-1.3zM59.3 51.1h1.3v1.3h-1.3zM69.1 35.7h1.3v1.3h-1.3zM68.2 34.8h1.3v1.3h-1.3zM64.9 31.7h1.3v1.3h-1.3zM60.7 40.8h1.3v1.3h-1.3zM57.8 43.5h1.3v1.3h-1.3zM61.4 52.8h1.3v1.3h-1.3zM72.1 52.2h1.3v1.3h-1.3zM58.3 45.3h1.3v1.3h-1.3zM70.9 54.6h1.3v1.3h-1.3zM72.2 49.5h1.3v1.3h-1.3zM58.1 40.6h1.3v1.3h-1.3zM81.7 56.3h1.3v1.3h-1.3zM67.3 50.1h1.3v1.3h-1.3zM76.7 47.8h1.3v1.3h-1.3zM63.1 52.0h1.3v1.3h-1.3zM68.3 38.4h1.3v1.3h-1.3zM78.9 60.8h1.3v1.3h-1.3zM72.6 49.4h1.3v1.3h-1.3zM83.5 58.9h1.3v1.3h-1.3zM76.8 42.9h1.3v1.3h-1.3zM60.2 32.3h1.3v1.3h-1.3zM75.7 39.7h1.3v1.3h-1.3zM69.6 45.9h1.3v1.3h-1.3zM80.0 51.8h1.3v1.3h-1.3zM76.4 49.7h1.3v1.3h-1.3zM84.1 54.2h1.3v1.3h-1.3zM68.7 44.7h1.3v1.3h-1.3zM65.4 47.3h1.3v1.3h-1.3zM78.3 53.6h1.3v1.3h-1.3zM56.8 45.6h1.3v1.3h-1.3zM63.5 40.3h1.3v1.3h-1.3zM83.8 55.3h1.3v1.3h-1.3zM68.0 46.1h1.3v1.3h-1.3zM78.1 54.0h1.3v1.3h-1.3zM66.6 48.3h1.3v1.3h-1.3zM68.0 42.6h1.3v1.3h-1.3zM57.4 45.7h1.3v1.3h-1.3zM56.4 45.2h1.3v1.3h-1.3zM81.5 56.2h1.3v1.3h-1.3zM64.4 32.7h1.3v1.3h-1.3zM73.6 41.3h1.3v1.3h-1.3zM66.7 42.2h1.3v1.3h-1.3zM66.8 52.3h1.3v1.3h-1.3zM63.9 48.7h1.3v1.3h-1.3zM66.5 39.1h1.3v1.3h-1.3zM75.3 58.0h1.3v1.3h-1.3zM75.5 41.0h1.3v1.3h-1.3zM65.6 39.9h1.3v1.3h-1.3zM58.9 39.1h1.3v1.3h-1.3zM68.6 51.9h1.3v1.3h-1.3zM64.7 36.3h1.3v1.3h-1.3zM67.2 53.3h1.3v1.3h-1.3zM78.2 56.9h1.3v1.3h-1.3zM68.4 53.0h1.3v1.3h-1.3zM77.3 51.0h1.3v1.3h-1.3zM72.4 39.5h1.3v1.3h-1.3zM82.9 54.1h1.3v1.3h-1.3zM72.3 45.7h1.3v1.3h-1.3zM65.9 51.0h1.3v1.3h-1.3zM59.0 38.9h1.3v1.3h-1.3zM57.5 47.8h1.3v1.3h-1.3zM78.8 55.2h1.3v1.3h-1.3zM74.0 52.5h1.3v1.3h-1.3zM65.9 48.4h1.3v1.3h-1.3zM70.8 40.9h1.3v1.3h-1.3zM70.3 45.2h1.3v1.3h-1.3zM68.3 39.0h1.3v1.3h-1.3zM72.9 48.9h1.3v1.3h-1.3zM60.6 43.2h1.3v1.3h-1.3zM72.7 47.5h1.3v1.3h-1.3zM76.0 57.2h1.3v1.3h-1.3zM58.4 44.7h1.3v1.3h-1.3zM67.8 39.0h1.3v1.3h-1.3zM77.9 52.9h1.3v1.3h-1.3zM65.6 43.2h1.3v1.3h-1.3zM67.8 44.8h1.3v1.3h-1.3zM72.8 51.3h1.3v1.3h-1.3zM68.4 42.0h1.3v1.3h-1.3zM81.8 58.5h1.3v1.3h-1.3zM71.2 45.5h1.3v1.3h-1.3zM78.4 55.5h1.3v1.3h-1.3zM81.7 46.5h1.3v1.3h-1.3zM75.2 49.8h1.3v1.3h-1.3zM68.9 49.7h1.3v1.3h-1.3zM57.4 38.2h1.3v1.3h-1.3zM62.9 39.0h1.3v1.3h-1.3zM71.0 47.0h1.3v1.3h-1.3zM61.2 41.4h1.3v1.3h-1.3zM81.4 47.8h1.3v1.3h-1.3zM63.3 38.3h1.3v1.3h-1.3zM68.2 36.3h1.3v1.3h-1.3zM60.9 54.0h1.3v1.3h-1.3zM68.5 33.9h1.3v1.3h-1.3zM66.7 53.2h1.3v1.3h-1.3zM53.0 47.1h1.3v1.3h-1.3zM64.9 42.3h1.3v1.3h-1.3zM74.2 58.5h1.3v1.3h-1.3zM70.2 40.3h1.3v1.3h-1.3z"/><path id="pMMC" d="M22.8 70.8h1.3v1.3h-1.3zM22.6 67.1h1.3v1.3h-1.3zM34.6 88.8h1.3v1.3h-1.3zM33.2 84.4h1.3v1.3h-1.3zM20.6 70.3h1.3v1.3h-1.3zM17.3 72.0h1.3v1.3h-1.3zM15.7 72.0h1.3v1.3h-1.3zM16.3 64.6h1.3v1.3h-1.3zM30.0 76.9h1.3v1.3h-1.3zM29.2 70.3h1.3v1.3h-1.3zM26.1 71.6h1.3v1.3h-1.3zM26.3 85.7h1.3v1.3h-1.3zM20.4 60.8h1.3v1.3h-1.3zM27.9 78.3h1.3v1.3h-1.3zM16.8 63.8h1.3v1.3h-1.3zM34.8 81.5h1.3v1.3h-1.3zM26.2 85.8h1.3v1.3h-1.3zM23.5 81.6h1.3v1.3h-1.3zM28.3 87.0h1.3v1.3h-1.3zM32.6 86.1h1.3v1.3h-1.3zM31.8 69.6h1.3v1.3h-1.3zM30.5 78.6h1.3v1.3h-1.3zM20.5 81.2h1.3v1.3h-1.3zM30.3 73.0h1.3v1.3h-1.3zM19.4 66.7h1.3v1.3h-1.3zM29.4 76.0h1.3v1.3h-1.3zM29.1 73.2h1.3v1.3h-1.3zM15.4 73.8h1.3v1.3h-1.3zM26.3 80.4h1.3v1.3h-1.3zM18.6 70.2h1.3v1.3h-1.3zM20.1 73.8h1.3v1.3h-1.3zM24.4 86.5h1.3v1.3h-1.3zM19.4 62.4h1.3v1.3h-1.3zM17.9 73.6h1.3v1.3h-1.3zM20.6 68.8h1.3v1.3h-1.3zM21.1 80.0h1.3v1.3h-1.3zM27.3 81.2h1.3v1.3h-1.3zM31.6 87.0h1.3v1.3h-1.3zM27.6 82.6h1.3v1.3h-1.3zM36.2 83.1h1.3v1.3h-1.3zM30.0 71.4h1.3v1.3h-1.3zM29.8 72.8h1.3v1.3h-1.3zM18.0 72.6h1.3v1.3h-1.3zM26.6 76.2h1.3v1.3h-1.3zM33.5 82.1h1.3v1.3h-1.3zM25.6 82.9h1.3v1.3h-1.3zM19.5 63.1h1.3v1.3h-1.3zM25.4 71.4h1.3v1.3h-1.3zM30.6 82.9h1.3v1.3h-1.3zM27.3 75.8h1.3v1.3h-1.3zM26.8 80.7h1.3v1.3h-1.3zM19.0 67.9h1.3v1.3h-1.3zM28.7 83.9h1.3v1.3h-1.3zM22.1 79.8h1.3v1.3h-1.3zM26.9 62.6h1.3v1.3h-1.3zM30.7 77.2h1.3v1.3h-1.3zM30.6 74.8h1.3v1.3h-1.3zM24.2 85.0h1.3v1.3h-1.3zM19.3 63.0h1.3v1.3h-1.3zM17.4 70.7h1.3v1.3h-1.3zM15.7 72.4h1.3v1.3h-1.3zM33.0 77.0h1.3v1.3h-1.3zM21.9 65.4h1.3v1.3h-1.3zM25.3 77.9h1.3v1.3h-1.3zM19.8 64.6h1.3v1.3h-1.3zM14.8 75.4h1.3v1.3h-1.3zM20.4 83.9h1.3v1.3h-1.3zM25.0 67.7h1.3v1.3h-1.3zM34.3 80.1h1.3v1.3h-1.3zM25.5 83.8h1.3v1.3h-1.3zM26.1 70.9h1.3v1.3h-1.3zM21.6 71.1h1.3v1.3h-1.3zM31.1 83.3h1.3v1.3h-1.3zM33.9 72.0h1.3v1.3h-1.3zM28.0 65.4h1.3v1.3h-1.3zM25.1 83.2h1.3v1.3h-1.3zM33.3 82.3h1.3v1.3h-1.3zM31.7 81.2h1.3v1.3h-1.3zM24.3 79.7h1.3v1.3h-1.3zM26.4 75.2h1.3v1.3h-1.3zM22.9 81.9h1.3v1.3h-1.3zM34.3 87.2h1.3v1.3h-1.3zM16.3 73.8h1.3v1.3h-1.3zM30.4 83.8h1.3v1.3h-1.3zM24.6 75.3h1.3v1.3h-1.3zM29.1 72.1h1.3v1.3h-1.3zM23.7 84.7h1.3v1.3h-1.3zM20.0 65.2h1.3v1.3h-1.3zM32.6 87.7h1.3v1.3h-1.3zM21.6 80.7h1.3v1.3h-1.3zM15.7 69.1h1.3v1.3h-1.3zM26.2 77.2h1.3v1.3h-1.3zM15.5 71.8h1.3v1.3h-1.3zM32.8 84.2h1.3v1.3h-1.3zM18.6 76.2h1.3v1.3h-1.3zM29.1 77.9h1.3v1.3h-1.3zM15.2 74.8h1.3v1.3h-1.3zM25.8 76.7h1.3v1.3h-1.3zM16.5 72.3h1.3v1.3h-1.3zM32.4 76.9h1.3v1.3h-1.3zM21.9 60.9h1.3v1.3h-1.3zM23.7 63.7h1.3v1.3h-1.3zM21.1 80.3h1.3v1.3h-1.3zM28.6 64.9h1.3v1.3h-1.3zM22.4 71.5h1.3v1.3h-1.3zM28.9 78.3h1.3v1.3h-1.3zM23.7 65.5h1.3v1.3h-1.3zM34.4 87.9h1.3v1.3h-1.3zM30.6 79.3h1.3v1.3h-1.3zM26.7 67.3h1.3v1.3h-1.3zM29.6 89.5h1.3v1.3h-1.3zM24.9 64.7h1.3v1.3h-1.3zM15.0 68.1h1.3v1.3h-1.3zM17.6 70.4h1.3v1.3h-1.3zM26.6 77.4h1.3v1.3h-1.3zM25.0 85.0h1.3v1.3h-1.3zM15.7 68.8h1.3v1.3h-1.3zM24.9 82.7h1.3v1.3h-1.3zM24.0 65.4h1.3v1.3h-1.3zM19.8 81.8h1.3v1.3h-1.3zM18.9 79.7h1.3v1.3h-1.3zM32.8 84.4h1.3v1.3h-1.3zM29.3 72.6h1.3v1.3h-1.3zM17.7 77.6h1.3v1.3h-1.3zM29.8 66.0h1.3v1.3h-1.3zM26.1 78.3h1.3v1.3h-1.3zM16.4 73.2h1.3v1.3h-1.3zM28.5 86.5h1.3v1.3h-1.3zM18.2 70.4h1.3v1.3h-1.3zM30.7 67.9h1.3v1.3h-1.3zM37.0 83.2h1.3v1.3h-1.3zM22.3 83.0h1.3v1.3h-1.3zM23.0 83.1h1.3v1.3h-1.3zM25.6 86.2h1.3v1.3h-1.3zM17.2 72.8h1.3v1.3h-1.3zM22.6 80.7h1.3v1.3h-1.3zM27.0 86.8h1.3v1.3h-1.3zM17.7 65.4h1.3v1.3h-1.3zM26.8 65.8h1.3v1.3h-1.3zM33.5 75.8h1.3v1.3h-1.3zM25.9 80.6h1.3v1.3h-1.3zM24.2 85.1h1.3v1.3h-1.3zM34.9 85.6h1.3v1.3h-1.3zM20.3 63.3h1.3v1.3h-1.3zM25.3 66.3h1.3v1.3h-1.3zM35.3 79.6h1.3v1.3h-1.3zM27.9 71.9h1.3v1.3h-1.3zM28.1 87.8h1.3v1.3h-1.3zM24.4 81.8h1.3v1.3h-1.3zM25.8 81.5h1.3v1.3h-1.3zM28.5 71.0h1.3v1.3h-1.3zM27.0 87.5h1.3v1.3h-1.3zM20.2 70.3h1.3v1.3h-1.3zM21.4 61.6h1.3v1.3h-1.3zM30.8 74.0h1.3v1.3h-1.3zM26.4 79.7h1.3v1.3h-1.3zM23.7 71.9h1.3v1.3h-1.3zM32.3 72.7h1.3v1.3h-1.3zM29.7 70.3h1.3v1.3h-1.3zM26.8 81.8h1.3v1.3h-1.3zM27.1 72.9h1.3v1.3h-1.3zM24.3 80.4h1.3v1.3h-1.3zM23.6 66.3h1.3v1.3h-1.3zM28.4 72.4h1.3v1.3h-1.3zM17.5 63.8h1.3v1.3h-1.3zM16.8 77.9h1.3v1.3h-1.3zM30.9 77.2h1.3v1.3h-1.3zM25.7 83.2h1.3v1.3h-1.3zM34.5 82.4h1.3v1.3h-1.3zM21.1 71.9h1.3v1.3h-1.3zM33.3 73.4h1.3v1.3h-1.3zM20.0 74.7h1.3v1.3h-1.3zM29.4 85.2h1.3v1.3h-1.3zM21.1 71.9h1.3v1.3h-1.3zM28.5 85.4h1.3v1.3h-1.3zM19.4 78.1h1.3v1.3h-1.3zM29.2 84.0h1.3v1.3h-1.3zM20.0 72.0h1.3v1.3h-1.3zM35.1 79.4h1.3v1.3h-1.3zM17.8 74.4h1.3v1.3h-1.3zM24.9 88.2h1.3v1.3h-1.3zM27.0 76.3h1.3v1.3h-1.3zM28.0 71.5h1.3v1.3h-1.3zM28.9 78.1h1.3v1.3h-1.3zM31.9 85.8h1.3v1.3h-1.3zM26.4 69.3h1.3v1.3h-1.3zM25.6 74.2h1.3v1.3h-1.3zM24.4 77.3h1.3v1.3h-1.3zM30.0 78.2h1.3v1.3h-1.3zM25.5 78.6h1.3v1.3h-1.3zM22.6 80.9h1.3v1.3h-1.3zM16.4 70.0h1.3v1.3h-1.3zM32.0 85.9h1.3v1.3h-1.3zM31.8 81.0h1.3v1.3h-1.3zM15.0 73.7h1.3v1.3h-1.3zM25.4 76.6h1.3v1.3h-1.3zM23.2 80.3h1.3v1.3h-1.3zM33.0 79.9h1.3v1.3h-1.3zM20.9 80.9h1.3v1.3h-1.3zM31.9 81.5h1.3v1.3h-1.3zM20.3 68.7h1.3v1.3h-1.3zM26.6 64.8h1.3v1.3h-1.3zM26.2 85.9h1.3v1.3h-1.3zM19.8 86.7h1.3v1.3h-1.3zM14.0 86.2h1.3v1.3h-1.3zM18.0 87.5h1.3v1.3h-1.3zM17.7 88.8h1.3v1.3h-1.3zM20.6 88.9h1.3v1.3h-1.3zM16.4 86.1h1.3v1.3h-1.3zM16.8 85.7h1.3v1.3h-1.3zM16.4 85.3h1.3v1.3h-1.3zM12.4 84.7h1.3v1.3h-1.3zM14.0 85.9h1.3v1.3h-1.3zM19.1 88.6h1.3v1.3h-1.3zM17.4 86.9h1.3v1.3h-1.3zM10.5 87.5h1.3v1.3h-1.3zM8.3 87.6h1.3v1.3h-1.3zM17.3 89.1h1.3v1.3h-1.3zM8.9 89.1h1.3v1.3h-1.3zM16.2 85.7h1.3v1.3h-1.3zM11.4 87.7h1.3v1.3h-1.3zM21.0 87.8h1.3v1.3h-1.3zM19.4 87.0h1.3v1.3h-1.3zM18.1 68.7h1.3v1.3h-1.3zM19.5 84.4h1.3v1.3h-1.3zM15.6 63.2h1.3v1.3h-1.3zM12.0 66.9h1.3v1.3h-1.3zM32.7 72.4h1.3v1.3h-1.3z"/><path id="pGMC" d="M90.2 34.4h1.3v1.3h-1.3zM86.9 32.2h1.3v1.3h-1.3zM93.2 39.9h1.3v1.3h-1.3zM96.0 41.2h1.3v1.3h-1.3zM89.4 32.7h1.3v1.3h-1.3zM92.0 36.2h1.3v1.3h-1.3zM91.9 38.1h1.3v1.3h-1.3zM87.8 32.4h1.3v1.3h-1.3zM91.5 34.4h1.3v1.3h-1.3zM93.9 35.1h1.3v1.3h-1.3zM91.5 34.8h1.3v1.3h-1.3zM93.8 45.8h1.3v1.3h-1.3zM95.7 43.7h1.3v1.3h-1.3zM93.3 36.8h1.3v1.3h-1.3zM96.1 38.1h1.3v1.3h-1.3zM82.6 29.0h1.3v1.3h-1.3zM94.8 39.0h1.3v1.3h-1.3zM93.8 33.5h1.3v1.3h-1.3zM94.9 39.8h1.3v1.3h-1.3zM91.8 37.7h1.3v1.3h-1.3zM94.0 38.8h1.3v1.3h-1.3zM83.7 28.8h1.3v1.3h-1.3zM91.1 43.2h1.3v1.3h-1.3zM92.1 34.2h1.3v1.3h-1.3zM88.1 31.8h1.3v1.3h-1.3zM92.9 39.1h1.3v1.3h-1.3zM93.6 32.9h1.3v1.3h-1.3zM90.1 44.4h1.3v1.3h-1.3zM83.3 31.1h1.3v1.3h-1.3zM95.4 38.8h1.3v1.3h-1.3zM98.9 39.7h1.3v1.3h-1.3zM96.5 38.7h1.3v1.3h-1.3zM94.1 40.7h1.3v1.3h-1.3zM90.1 40.3h1.3v1.3h-1.3zM93.3 40.3h1.3v1.3h-1.3zM89.2 33.7h1.3v1.3h-1.3zM94.6 38.9h1.3v1.3h-1.3zM96.4 41.1h1.3v1.3h-1.3zM82.8 29.7h1.3v1.3h-1.3zM93.6 42.1h1.3v1.3h-1.3zM96.7 38.2h1.3v1.3h-1.3zM86.7 28.3h1.3v1.3h-1.3zM91.2 41.3h1.3v1.3h-1.3zM91.6 37.5h1.3v1.3h-1.3zM94.4 37.2h1.3v1.3h-1.3zM84.3 31.1h1.3v1.3h-1.3zM88.3 29.2h1.3v1.3h-1.3zM94.3 42.0h1.3v1.3h-1.3zM96.3 40.6h1.3v1.3h-1.3zM82.5 31.5h1.3v1.3h-1.3zM91.7 40.5h1.3v1.3h-1.3zM94.5 33.6h1.3v1.3h-1.3zM84.2 31.3h1.3v1.3h-1.3zM90.8 34.5h1.3v1.3h-1.3zM88.9 33.4h1.3v1.3h-1.3zM92.6 45.7h1.3v1.3h-1.3zM89.5 32.2h1.3v1.3h-1.3zM95.9 33.8h1.3v1.3h-1.3zM95.6 37.9h1.3v1.3h-1.3zM88.3 31.2h1.3v1.3h-1.3zM90.2 43.3h1.3v1.3h-1.3zM92.4 31.3h1.3v1.3h-1.3zM92.2 44.5h1.3v1.3h-1.3zM94.6 40.2h1.3v1.3h-1.3zM84.5 31.9h1.3v1.3h-1.3zM93.9 34.1h1.3v1.3h-1.3zM85.1 31.7h1.3v1.3h-1.3zM91.5 36.8h1.3v1.3h-1.3zM96.6 38.5h1.3v1.3h-1.3zM96.4 35.0h1.3v1.3h-1.3zM94.8 42.0h1.3v1.3h-1.3zM93.4 33.2h1.3v1.3h-1.3zM95.7 34.2h1.3v1.3h-1.3zM94.9 34.9h1.3v1.3h-1.3zM88.2 31.8h1.3v1.3h-1.3zM91.3 38.7h1.3v1.3h-1.3zM93.5 31.8h1.3v1.3h-1.3zM93.1 33.0h1.3v1.3h-1.3zM94.2 36.9h1.3v1.3h-1.3zM91.5 36.5h1.3v1.3h-1.3zM95.1 37.6h1.3v1.3h-1.3zM95.1 40.7h1.3v1.3h-1.3zM88.8 30.6h1.3v1.3h-1.3zM96.3 36.4h1.3v1.3h-1.3zM94.7 38.0h1.3v1.3h-1.3zM95.8 35.4h1.3v1.3h-1.3zM92.6 43.5h1.3v1.3h-1.3zM94.4 34.7h1.3v1.3h-1.3zM94.4 41.5h1.3v1.3h-1.3zM94.7 39.5h1.3v1.3h-1.3zM87.7 31.8h1.3v1.3h-1.3zM95.5 37.4h1.3v1.3h-1.3zM97.0 34.6h1.3v1.3h-1.3zM89.5 28.6h1.3v1.3h-1.3zM89.7 33.5h1.3v1.3h-1.3zM93.5 40.3h1.3v1.3h-1.3zM91.0 40.9h1.3v1.3h-1.3zM90.5 42.5h1.3v1.3h-1.3zM93.4 43.4h1.3v1.3h-1.3zM87.8 28.7h1.3v1.3h-1.3zM96.8 41.9h1.3v1.3h-1.3zM89.9 41.5h1.3v1.3h-1.3zM94.2 41.8h1.3v1.3h-1.3zM91.8 44.5h1.3v1.3h-1.3zM95.2 37.3h1.3v1.3h-1.3zM90.8 32.1h1.3v1.3h-1.3zM96.2 40.6h1.3v1.3h-1.3zM92.8 34.8h1.3v1.3h-1.3zM92.8 35.6h1.3v1.3h-1.3zM98.2 38.8h1.3v1.3h-1.3zM95.4 36.6h1.3v1.3h-1.3zM96.9 37.3h1.3v1.3h-1.3zM95.8 38.6h1.3v1.3h-1.3zM93.4 34.3h1.3v1.3h-1.3zM90.5 32.8h1.3v1.3h-1.3zM82.5 28.7h1.3v1.3h-1.3zM90.5 33.1h1.3v1.3h-1.3zM94.6 42.5h1.3v1.3h-1.3zM95.9 41.1h1.3v1.3h-1.3zM92.3 34.5h1.3v1.3h-1.3zM94.0 38.8h1.3v1.3h-1.3zM91.3 36.9h1.3v1.3h-1.3zM89.4 28.7h1.3v1.3h-1.3zM89.0 30.6h1.3v1.3h-1.3zM88.2 30.2h1.3v1.3h-1.3zM87.4 29.5h1.3v1.3h-1.3zM92.2 35.7h1.3v1.3h-1.3zM88.6 29.7h1.3v1.3h-1.3zM93.9 37.5h1.3v1.3h-1.3zM90.1 31.5h1.3v1.3h-1.3zM96.8 38.7h1.3v1.3h-1.3zM91.3 29.3h1.3v1.3h-1.3zM90.8 44.1h1.3v1.3h-1.3zM91.3 43.3h1.3v1.3h-1.3zM87.7 31.0h1.3v1.3h-1.3zM93.1 35.8h1.3v1.3h-1.3zM88.2 32.3h1.3v1.3h-1.3zM92.0 42.9h1.3v1.3h-1.3zM94.2 31.8h1.3v1.3h-1.3zM90.9 37.9h1.3v1.3h-1.3zM84.0 31.5h1.3v1.3h-1.3zM97.4 41.8h1.3v1.3h-1.3zM91.8 39.8h1.3v1.3h-1.3zM98.4 38.1h1.3v1.3h-1.3zM88.9 33.9h1.3v1.3h-1.3zM92.9 40.7h1.3v1.3h-1.3zM90.8 40.6h1.3v1.3h-1.3zM93.9 46.6h1.3v1.3h-1.3zM95.1 33.4h1.3v1.3h-1.3zM86.2 36.4h1.3v1.3h-1.3z"/><g id="allg"><use href="#pPC"/><use href="#pUK1"/><use href="#pEM"/><use href="#pMPC2"/><use href="#pMPC5"/><use href="#pGC"/><use href="#pLM"/><use href="#pUK9"/><use href="#pYGC"/><use href="#pMMC"/><use href="#pGMC"/></g><linearGradient id="cb" x1="0" y1="1" x2="0" y2="0"><stop offset="0" stop-color="#fdd49c"/><stop offset="0.3" stop-color="#f9925e"/><stop offset="0.6" stop-color="#ec4a2e"/><stop offset="1" stop-color="#b30808"/></linearGradient></defs><g transform="translate(0,0)"><use href="#pPC" fill="#F4788E" stroke="#F4788E" stroke-width="0.25"/><use href="#pUK1" fill="#F98C66" stroke="#F98C66" stroke-width="0.25"/><use href="#pEM" fill="#76B848" stroke="#76B848" stroke-width="0.25"/><use href="#pMPC2" fill="#B4A535" stroke="#B4A535" stroke-width="0.25"/><use href="#pMPC5" fill="#14C0B8" stroke="#14C0B8" stroke-width="0.25"/><use href="#pGC" fill="#00BDE4" stroke="#00BDE4" stroke-width="0.25"/><use href="#pLM" fill="#0DC18E" stroke="#0DC18E" stroke-width="0.25"/><use href="#pUK9" fill="#BBA0F8" stroke="#BBA0F8" stroke-width="0.25"/><use href="#pYGC" fill="#1DB2EE" stroke="#1DB2EE" stroke-width="0.25"/><use href="#pMMC" fill="#16A8F6" stroke="#16A8F6" stroke-width="0.25"/><use href="#pGMC" fill="#E68A2E" stroke="#E68A2E" stroke-width="0.25"/></g><g transform="translate(162.5,1)"><use href="#allg" fill="#cbcbcb"/><path fill="#f9a06c" d="M89.2 149.2h1.3v1.3h-1.3zM63.7 149.9h1.3v1.3h-1.3zM81.5 112.1h1.3v1.3h-1.3zM111.4 63.9h1.3v1.3h-1.3zM104.9 58.7h1.3v1.3h-1.3zM104.7 75.9h1.3v1.3h-1.3zM52.1 100.6h1.3v1.3h-1.3zM75.2 51.9h1.3v1.3h-1.3zM16.4 85.3h1.3v1.3h-1.3zM92.1 34.2h1.3v1.3h-1.3z"/><path fill="#f47a48" d="M77.8 150.3h1.3v1.3h-1.3zM67.9 155.4h1.3v1.3h-1.3zM71.8 154.0h1.3v1.3h-1.3zM83.7 136.4h1.3v1.3h-1.3zM61.8 147.2h1.3v1.3h-1.3zM71.7 149.6h1.3v1.3h-1.3zM92.9 115.2h1.3v1.3h-1.3zM73.1 152.6h1.3v1.3h-1.3zM119.3 64.2h1.3v1.3h-1.3zM96.6 91.8h1.3v1.3h-1.3zM110.8 61.3h1.3v1.3h-1.3zM116.1 61.8h1.3v1.3h-1.3zM109.9 63.8h1.3v1.3h-1.3zM110.5 71.0h1.3v1.3h-1.3zM123.3 68.6h1.3v1.3h-1.3zM94.8 100.8h1.3v1.3h-1.3zM41.5 114.6h1.3v1.3h-1.3zM54.6 98.3h1.3v1.3h-1.3zM48.1 75.9h1.3v1.3h-1.3zM66.2 69.3h1.3v1.3h-1.3zM71.5 41.3h1.3v1.3h-1.3zM25.3 77.9h1.3v1.3h-1.3zM17.7 65.4h1.3v1.3h-1.3zM28.4 72.4h1.3v1.3h-1.3zM26.4 69.3h1.3v1.3h-1.3zM93.9 35.1h1.3v1.3h-1.3zM93.3 36.8h1.3v1.3h-1.3zM94.3 42.0h1.3v1.3h-1.3zM95.8 35.4h1.3v1.3h-1.3z"/><path fill="#e8502e" d="M74.2 157.3h1.3v1.3h-1.3zM82.1 140.0h1.3v1.3h-1.3zM72.5 155.7h1.3v1.3h-1.3zM107.4 134.2h1.3v1.3h-1.3zM83.7 119.3h1.3v1.3h-1.3zM82.2 145.3h1.3v1.3h-1.3zM93.7 150.9h1.3v1.3h-1.3zM66.9 151.6h1.3v1.3h-1.3zM91.2 150.7h1.3v1.3h-1.3zM64.3 146.1h1.3v1.3h-1.3zM65.1 147.8h1.3v1.3h-1.3zM113.5 63.3h1.3v1.3h-1.3zM113.8 68.8h1.3v1.3h-1.3zM108.6 70.1h1.3v1.3h-1.3zM123.6 66.4h1.3v1.3h-1.3zM100.1 71.2h1.3v1.3h-1.3zM102.4 70.2h1.3v1.3h-1.3zM94.2 61.6h1.3v1.3h-1.3zM111.6 63.7h1.3v1.3h-1.3zM103.8 68.0h1.3v1.3h-1.3zM124.8 64.8h1.3v1.3h-1.3zM123.4 62.6h1.3v1.3h-1.3zM113.4 59.1h1.3v1.3h-1.3zM106.3 70.5h1.3v1.3h-1.3zM116.8 52.0h1.3v1.3h-1.3zM105.9 84.3h1.3v1.3h-1.3zM115.0 106.4h1.3v1.3h-1.3zM104.1 114.8h1.3v1.3h-1.3zM99.9 113.1h1.3v1.3h-1.3zM101.7 104.2h1.3v1.3h-1.3zM41.2 107.3h1.3v1.3h-1.3zM62.7 101.5h1.3v1.3h-1.3zM30.0 118.4h1.3v1.3h-1.3zM28.7 106.7h1.3v1.3h-1.3zM25.2 99.8h1.3v1.3h-1.3zM39.8 136.4h1.3v1.3h-1.3zM66.5 64.8h1.3v1.3h-1.3zM69.2 75.6h1.3v1.3h-1.3zM53.9 85.7h1.3v1.3h-1.3zM67.9 76.7h1.3v1.3h-1.3zM138.7 84.9h1.3v1.3h-1.3zM57.3 122.1h1.3v1.3h-1.3zM67.5 46.6h1.3v1.3h-1.3zM26.7 67.3h1.3v1.3h-1.3zM24.2 85.1h1.3v1.3h-1.3zM32.0 85.9h1.3v1.3h-1.3zM86.9 32.2h1.3v1.3h-1.3zM82.6 29.0h1.3v1.3h-1.3zM89.0 30.6h1.3v1.3h-1.3z"/><path fill="#d42a1a" d="M89.6 144.7h1.3v1.3h-1.3zM73.7 150.5h1.3v1.3h-1.3zM77.9 144.4h1.3v1.3h-1.3zM103.5 65.1h1.3v1.3h-1.3zM111.5 108.8h1.3v1.3h-1.3zM62.2 102.5h1.3v1.3h-1.3zM56.2 105.5h1.3v1.3h-1.3zM149.6 96.3h1.3v1.3h-1.3zM141.3 96.1h1.3v1.3h-1.3zM63.1 91.2h1.3v1.3h-1.3zM76.7 92.2h1.3v1.3h-1.3zM75.3 90.0h1.3v1.3h-1.3zM58.3 45.3h1.3v1.3h-1.3zM31.6 87.0h1.3v1.3h-1.3zM95.1 40.7h1.3v1.3h-1.3zM90.1 31.5h1.3v1.3h-1.3z"/></g><g transform="translate(325.5,1)"><use href="#allg" fill="#cbcbcb"/><path fill="#fcc894" d="M85.3 118.5h1.3v1.3h-1.3zM58.0 147.8h1.3v1.3h-1.3zM95.7 143.8h1.3v1.3h-1.3zM111.7 121.3h1.3v1.3h-1.3zM95.9 119.7h1.3v1.3h-1.3zM88.5 116.3h1.3v1.3h-1.3zM85.3 115.8h1.3v1.3h-1.3zM94.7 118.0h1.3v1.3h-1.3zM79.2 136.2h1.3v1.3h-1.3zM114.8 131.3h1.3v1.3h-1.3zM121.4 124.7h1.3v1.3h-1.3zM124.0 126.2h1.3v1.3h-1.3zM78.7 112.4h1.3v1.3h-1.3zM123.6 66.4h1.3v1.3h-1.3zM106.4 73.5h1.3v1.3h-1.3zM85.8 85.7h1.3v1.3h-1.3zM123.3 68.6h1.3v1.3h-1.3zM103.5 65.1h1.3v1.3h-1.3zM99.7 91.8h1.3v1.3h-1.3zM102.3 113.1h1.3v1.3h-1.3zM54.9 109.1h1.3v1.3h-1.3zM24.0 122.1h1.3v1.3h-1.3zM24.0 105.8h1.3v1.3h-1.3zM73.7 105.1h1.3v1.3h-1.3zM145.9 83.2h1.3v1.3h-1.3zM76.2 45.9h1.3v1.3h-1.3zM17.9 73.6h1.3v1.3h-1.3zM25.5 78.6h1.3v1.3h-1.3z"/><path fill="#f9a06c" d="M85.0 124.1h1.3v1.3h-1.3zM63.3 155.4h1.3v1.3h-1.3zM105.6 122.1h1.3v1.3h-1.3zM102.8 114.8h1.3v1.3h-1.3zM85.5 144.7h1.3v1.3h-1.3zM116.8 118.2h1.3v1.3h-1.3zM108.1 123.7h1.3v1.3h-1.3zM113.0 132.2h1.3v1.3h-1.3zM105.5 121.3h1.3v1.3h-1.3zM73.9 124.5h1.3v1.3h-1.3zM86.5 129.1h1.3v1.3h-1.3zM90.1 124.7h1.3v1.3h-1.3zM65.9 149.5h1.3v1.3h-1.3zM65.3 137.5h1.3v1.3h-1.3zM67.7 129.0h1.3v1.3h-1.3zM85.6 153.8h1.3v1.3h-1.3zM111.4 130.9h1.3v1.3h-1.3zM113.6 124.2h1.3v1.3h-1.3zM72.0 127.6h1.3v1.3h-1.3zM92.2 135.8h1.3v1.3h-1.3zM74.8 131.8h1.3v1.3h-1.3zM82.4 128.0h1.3v1.3h-1.3zM88.7 123.2h1.3v1.3h-1.3zM69.5 142.8h1.3v1.3h-1.3zM71.8 142.6h1.3v1.3h-1.3zM59.3 146.0h1.3v1.3h-1.3zM83.5 121.0h1.3v1.3h-1.3zM84.9 111.3h1.3v1.3h-1.3zM105.5 117.3h1.3v1.3h-1.3zM86.6 149.7h1.3v1.3h-1.3zM88.1 123.0h1.3v1.3h-1.3zM83.7 123.7h1.3v1.3h-1.3zM71.1 140.3h1.3v1.3h-1.3zM66.3 137.0h1.3v1.3h-1.3zM115.2 126.3h1.3v1.3h-1.3zM69.5 138.3h1.3v1.3h-1.3zM79.4 118.8h1.3v1.3h-1.3zM116.5 122.1h1.3v1.3h-1.3zM72.5 155.7h1.3v1.3h-1.3zM118.5 123.8h1.3v1.3h-1.3zM66.2 146.5h1.3v1.3h-1.3zM74.4 149.8h1.3v1.3h-1.3zM116.9 129.6h1.3v1.3h-1.3zM85.7 120.4h1.3v1.3h-1.3zM82.1 141.4h1.3v1.3h-1.3zM70.1 146.6h1.3v1.3h-1.3zM91.8 134.7h1.3v1.3h-1.3zM95.5 124.4h1.3v1.3h-1.3zM86.1 155.7h1.3v1.3h-1.3zM83.7 136.4h1.3v1.3h-1.3zM95.7 112.9h1.3v1.3h-1.3zM94.0 120.8h1.3v1.3h-1.3zM94.6 145.5h1.3v1.3h-1.3zM107.8 122.2h1.3v1.3h-1.3zM75.5 157.5h1.3v1.3h-1.3zM66.5 135.5h1.3v1.3h-1.3zM107.2 116.8h1.3v1.3h-1.3zM104.4 140.7h1.3v1.3h-1.3zM94.9 112.0h1.3v1.3h-1.3zM83.7 133.1h1.3v1.3h-1.3zM85.7 157.4h1.3v1.3h-1.3zM79.5 122.4h1.3v1.3h-1.3zM81.7 139.4h1.3v1.3h-1.3zM114.0 126.5h1.3v1.3h-1.3zM97.5 145.4h1.3v1.3h-1.3zM73.6 128.3h1.3v1.3h-1.3zM111.7 129.0h1.3v1.3h-1.3zM81.1 118.7h1.3v1.3h-1.3zM108.3 135.6h1.3v1.3h-1.3zM111.6 133.5h1.3v1.3h-1.3zM89.1 121.5h1.3v1.3h-1.3zM66.2 134.4h1.3v1.3h-1.3zM81.4 143.8h1.3v1.3h-1.3zM108.9 123.2h1.3v1.3h-1.3zM82.2 137.6h1.3v1.3h-1.3zM87.0 143.6h1.3v1.3h-1.3zM104.7 117.3h1.3v1.3h-1.3zM63.1 139.6h1.3v1.3h-1.3zM61.0 144.9h1.3v1.3h-1.3zM68.0 138.4h1.3v1.3h-1.3zM72.3 153.0h1.3v1.3h-1.3zM78.2 110.9h1.3v1.3h-1.3zM95.8 122.0h1.3v1.3h-1.3zM76.8 130.9h1.3v1.3h-1.3zM122.5 122.5h1.3v1.3h-1.3zM60.1 147.7h1.3v1.3h-1.3zM63.2 144.6h1.3v1.3h-1.3zM72.4 144.0h1.3v1.3h-1.3zM84.5 156.4h1.3v1.3h-1.3zM73.0 154.0h1.3v1.3h-1.3zM75.3 108.0h1.3v1.3h-1.3zM46.8 126.4h1.3v1.3h-1.3zM98.9 61.4h1.3v1.3h-1.3zM90.0 101.4h1.3v1.3h-1.3zM107.5 69.3h1.3v1.3h-1.3zM99.4 90.1h1.3v1.3h-1.3zM88.0 70.7h1.3v1.3h-1.3zM96.9 63.1h1.3v1.3h-1.3zM119.3 62.0h1.3v1.3h-1.3zM110.6 73.6h1.3v1.3h-1.3zM84.6 107.4h1.3v1.3h-1.3zM94.7 86.7h1.3v1.3h-1.3zM105.8 64.4h1.3v1.3h-1.3zM111.2 73.4h1.3v1.3h-1.3zM99.8 84.2h1.3v1.3h-1.3zM111.4 63.9h1.3v1.3h-1.3zM109.2 72.9h1.3v1.3h-1.3zM107.1 68.5h1.3v1.3h-1.3zM92.5 68.4h1.3v1.3h-1.3zM105.1 59.2h1.3v1.3h-1.3zM109.5 66.3h1.3v1.3h-1.3zM106.3 69.7h1.3v1.3h-1.3zM98.1 65.5h1.3v1.3h-1.3zM118.6 79.1h1.3v1.3h-1.3zM101.2 72.7h1.3v1.3h-1.3zM93.0 95.5h1.3v1.3h-1.3zM112.6 77.2h1.3v1.3h-1.3zM105.0 76.2h1.3v1.3h-1.3zM85.2 82.5h1.3v1.3h-1.3zM99.5 72.9h1.3v1.3h-1.3zM113.4 76.0h1.3v1.3h-1.3zM100.5 62.2h1.3v1.3h-1.3zM97.7 71.5h1.3v1.3h-1.3zM112.9 75.8h1.3v1.3h-1.3zM85.6 82.7h1.3v1.3h-1.3zM107.3 59.3h1.3v1.3h-1.3zM120.0 64.7h1.3v1.3h-1.3zM119.5 71.1h1.3v1.3h-1.3zM90.7 96.6h1.3v1.3h-1.3zM122.1 76.3h1.3v1.3h-1.3zM97.8 88.8h1.3v1.3h-1.3zM118.9 70.3h1.3v1.3h-1.3zM95.2 95.3h1.3v1.3h-1.3zM51.9 121.5h1.3v1.3h-1.3zM117.0 66.5h1.3v1.3h-1.3zM111.5 87.9h1.3v1.3h-1.3zM109.1 107.0h1.3v1.3h-1.3zM115.5 103.1h1.3v1.3h-1.3zM113.0 105.2h1.3v1.3h-1.3zM101.6 95.0h1.3v1.3h-1.3zM96.7 113.3h1.3v1.3h-1.3zM124.2 105.0h1.3v1.3h-1.3zM100.6 108.6h1.3v1.3h-1.3zM105.6 99.1h1.3v1.3h-1.3zM116.5 109.6h1.3v1.3h-1.3zM97.6 98.1h1.3v1.3h-1.3zM112.4 85.1h1.3v1.3h-1.3zM125.7 109.4h1.3v1.3h-1.3zM105.0 87.8h1.3v1.3h-1.3zM124.4 104.5h1.3v1.3h-1.3zM110.9 109.6h1.3v1.3h-1.3zM94.6 110.4h1.3v1.3h-1.3zM121.2 95.2h1.3v1.3h-1.3zM115.3 99.2h1.3v1.3h-1.3zM110.9 85.1h1.3v1.3h-1.3zM128.0 102.0h1.3v1.3h-1.3zM128.5 95.7h1.3v1.3h-1.3zM127.0 102.4h1.3v1.3h-1.3zM114.0 104.5h1.3v1.3h-1.3zM115.3 102.7h1.3v1.3h-1.3zM109.2 98.2h1.3v1.3h-1.3zM109.7 93.4h1.3v1.3h-1.3zM107.1 85.6h1.3v1.3h-1.3zM100.3 105.5h1.3v1.3h-1.3zM128.5 97.1h1.3v1.3h-1.3zM125.6 89.6h1.3v1.3h-1.3zM116.9 98.2h1.3v1.3h-1.3zM121.6 82.2h1.3v1.3h-1.3zM104.5 115.0h1.3v1.3h-1.3zM106.5 94.4h1.3v1.3h-1.3zM114.7 96.9h1.3v1.3h-1.3zM94.4 113.6h1.3v1.3h-1.3zM107.2 112.5h1.3v1.3h-1.3zM105.7 108.3h1.3v1.3h-1.3zM112.1 95.2h1.3v1.3h-1.3zM59.6 91.7h1.3v1.3h-1.3zM49.8 90.7h1.3v1.3h-1.3zM58.5 111.1h1.3v1.3h-1.3zM40.4 106.6h1.3v1.3h-1.3zM43.9 91.6h1.3v1.3h-1.3zM72.3 125.0h1.3v1.3h-1.3zM52.7 138.9h1.3v1.3h-1.3zM68.9 123.2h1.3v1.3h-1.3zM44.1 125.1h1.3v1.3h-1.3zM25.9 119.1h1.3v1.3h-1.3zM40.9 137.0h1.3v1.3h-1.3zM24.6 115.6h1.3v1.3h-1.3zM25.5 114.7h1.3v1.3h-1.3zM25.2 122.6h1.3v1.3h-1.3zM29.9 128.2h1.3v1.3h-1.3zM21.8 115.0h1.3v1.3h-1.3zM30.2 117.8h1.3v1.3h-1.3zM22.1 100.9h1.3v1.3h-1.3zM21.9 111.6h1.3v1.3h-1.3zM20.7 103.7h1.3v1.3h-1.3zM42.6 131.2h1.3v1.3h-1.3zM32.6 118.2h1.3v1.3h-1.3zM26.5 118.8h1.3v1.3h-1.3zM24.7 115.0h1.3v1.3h-1.3zM19.9 121.3h1.3v1.3h-1.3zM24.7 121.3h1.3v1.3h-1.3zM13.1 107.0h1.3v1.3h-1.3zM15.7 102.1h1.3v1.3h-1.3zM28.7 106.7h1.3v1.3h-1.3zM33.1 120.6h1.3v1.3h-1.3zM38.5 127.9h1.3v1.3h-1.3zM41.6 135.1h1.3v1.3h-1.3zM30.2 106.8h1.3v1.3h-1.3zM39.3 130.3h1.3v1.3h-1.3zM25.2 99.8h1.3v1.3h-1.3zM34.1 124.8h1.3v1.3h-1.3zM31.2 131.8h1.3v1.3h-1.3zM38.3 120.3h1.3v1.3h-1.3zM36.7 139.1h1.3v1.3h-1.3zM12.3 105.9h1.3v1.3h-1.3zM20.4 104.4h1.3v1.3h-1.3zM23.8 107.6h1.3v1.3h-1.3zM13.3 111.6h1.3v1.3h-1.3zM27.5 107.5h1.3v1.3h-1.3zM71.4 110.1h1.3v1.3h-1.3zM62.6 115.9h1.3v1.3h-1.3zM62.6 121.8h1.3v1.3h-1.3zM58.0 126.6h1.3v1.3h-1.3zM47.4 129.0h1.3v1.3h-1.3zM61.1 131.4h1.3v1.3h-1.3zM57.4 67.4h1.3v1.3h-1.3zM62.2 65.3h1.3v1.3h-1.3zM45.4 86.4h1.3v1.3h-1.3zM52.5 81.2h1.3v1.3h-1.3zM47.2 91.8h1.3v1.3h-1.3zM67.2 77.1h1.3v1.3h-1.3zM66.5 64.8h1.3v1.3h-1.3zM46.6 65.5h1.3v1.3h-1.3zM51.8 90.4h1.3v1.3h-1.3zM68.7 79.7h1.3v1.3h-1.3zM138.7 89.0h1.3v1.3h-1.3zM156.0 93.3h1.3v1.3h-1.3zM144.4 84.2h1.3v1.3h-1.3zM148.6 95.6h1.3v1.3h-1.3zM141.9 91.4h1.3v1.3h-1.3zM155.6 91.4h1.3v1.3h-1.3zM153.7 98.2h1.3v1.3h-1.3zM142.0 93.6h1.3v1.3h-1.3zM148.0 96.4h1.3v1.3h-1.3zM123.7 124.4h1.3v1.3h-1.3zM143.5 115.6h1.3v1.3h-1.3zM142.0 121.6h1.3v1.3h-1.3zM131.2 109.4h1.3v1.3h-1.3zM129.4 121.6h1.3v1.3h-1.3zM141.2 114.2h1.3v1.3h-1.3zM137.1 124.9h1.3v1.3h-1.3zM134.4 115.2h1.3v1.3h-1.3zM68.7 94.0h1.3v1.3h-1.3zM69.7 96.8h1.3v1.3h-1.3zM78.6 102.1h1.3v1.3h-1.3zM77.8 113.9h1.3v1.3h-1.3zM68.3 83.0h1.3v1.3h-1.3zM73.7 92.0h1.3v1.3h-1.3zM67.3 83.3h1.3v1.3h-1.3zM72.3 79.0h1.3v1.3h-1.3zM74.5 95.6h1.3v1.3h-1.3zM75.5 107.0h1.3v1.3h-1.3zM75.7 108.6h1.3v1.3h-1.3zM75.8 110.0h1.3v1.3h-1.3zM68.9 39.8h1.3v1.3h-1.3zM68.8 52.6h1.3v1.3h-1.3zM75.8 39.4h1.3v1.3h-1.3zM80.9 52.4h1.3v1.3h-1.3zM67.7 51.5h1.3v1.3h-1.3zM67.7 44.4h1.3v1.3h-1.3zM62.5 40.1h1.3v1.3h-1.3zM69.6 36.9h1.3v1.3h-1.3zM70.4 45.0h1.3v1.3h-1.3zM79.8 52.8h1.3v1.3h-1.3zM76.4 49.7h1.3v1.3h-1.3zM81.8 58.5h1.3v1.3h-1.3zM23.5 81.6h1.3v1.3h-1.3zM19.4 66.7h1.3v1.3h-1.3zM18.6 70.2h1.3v1.3h-1.3zM20.1 73.8h1.3v1.3h-1.3zM27.3 81.2h1.3v1.3h-1.3zM24.2 85.0h1.3v1.3h-1.3zM29.1 72.1h1.3v1.3h-1.3zM26.7 67.3h1.3v1.3h-1.3zM26.6 77.4h1.3v1.3h-1.3zM19.8 81.8h1.3v1.3h-1.3zM28.5 86.5h1.3v1.3h-1.3zM22.6 80.7h1.3v1.3h-1.3zM28.1 87.8h1.3v1.3h-1.3zM20.9 80.9h1.3v1.3h-1.3zM90.2 34.4h1.3v1.3h-1.3zM94.4 37.2h1.3v1.3h-1.3zM82.5 31.5h1.3v1.3h-1.3zM95.6 37.9h1.3v1.3h-1.3zM94.6 40.2h1.3v1.3h-1.3zM94.2 36.9h1.3v1.3h-1.3zM96.8 41.9h1.3v1.3h-1.3zM89.4 28.7h1.3v1.3h-1.3zM92.9 40.7h1.3v1.3h-1.3z"/><path fill="#f47a48" d="M105.9 127.9h1.3v1.3h-1.3zM74.1 140.1h1.3v1.3h-1.3zM107.8 127.0h1.3v1.3h-1.3zM108.2 120.5h1.3v1.3h-1.3zM118.2 117.8h1.3v1.3h-1.3zM82.7 122.5h1.3v1.3h-1.3zM87.8 125.6h1.3v1.3h-1.3zM70.5 130.0h1.3v1.3h-1.3zM93.0 118.8h1.3v1.3h-1.3zM77.1 137.3h1.3v1.3h-1.3zM83.8 142.4h1.3v1.3h-1.3zM94.2 142.7h1.3v1.3h-1.3zM70.9 124.0h1.3v1.3h-1.3zM83.2 110.9h1.3v1.3h-1.3zM88.8 128.0h1.3v1.3h-1.3zM86.1 154.1h1.3v1.3h-1.3zM121.0 117.4h1.3v1.3h-1.3zM59.1 138.4h1.3v1.3h-1.3zM81.0 127.5h1.3v1.3h-1.3zM67.9 155.4h1.3v1.3h-1.3zM94.3 145.3h1.3v1.3h-1.3zM82.3 137.8h1.3v1.3h-1.3zM73.2 155.6h1.3v1.3h-1.3zM76.1 157.9h1.3v1.3h-1.3zM90.7 123.4h1.3v1.3h-1.3zM60.3 147.5h1.3v1.3h-1.3zM82.3 152.1h1.3v1.3h-1.3zM80.7 146.1h1.3v1.3h-1.3zM73.7 150.5h1.3v1.3h-1.3zM66.7 139.7h1.3v1.3h-1.3zM72.0 157.6h1.3v1.3h-1.3zM115.3 127.5h1.3v1.3h-1.3zM94.3 110.7h1.3v1.3h-1.3zM91.3 113.4h1.3v1.3h-1.3zM118.8 127.1h1.3v1.3h-1.3zM78.1 154.1h1.3v1.3h-1.3zM79.4 139.4h1.3v1.3h-1.3zM86.1 112.0h1.3v1.3h-1.3zM70.2 143.8h1.3v1.3h-1.3zM103.8 138.6h1.3v1.3h-1.3zM115.2 126.9h1.3v1.3h-1.3zM69.1 157.7h1.3v1.3h-1.3zM78.0 116.3h1.3v1.3h-1.3zM97.0 140.8h1.3v1.3h-1.3zM76.3 119.1h1.3v1.3h-1.3zM107.5 117.2h1.3v1.3h-1.3zM99.1 121.6h1.3v1.3h-1.3zM62.8 144.3h1.3v1.3h-1.3zM82.1 140.0h1.3v1.3h-1.3zM88.0 114.2h1.3v1.3h-1.3zM104.0 123.0h1.3v1.3h-1.3zM69.9 122.9h1.3v1.3h-1.3zM86.4 124.2h1.3v1.3h-1.3zM115.4 130.3h1.3v1.3h-1.3zM60.3 143.1h1.3v1.3h-1.3zM102.7 126.7h1.3v1.3h-1.3zM71.5 144.8h1.3v1.3h-1.3zM62.0 143.0h1.3v1.3h-1.3zM108.6 120.0h1.3v1.3h-1.3zM103.9 138.5h1.3v1.3h-1.3zM105.1 122.3h1.3v1.3h-1.3zM119.7 122.4h1.3v1.3h-1.3zM78.3 147.9h1.3v1.3h-1.3zM106.8 116.3h1.3v1.3h-1.3zM66.9 130.7h1.3v1.3h-1.3zM93.4 133.7h1.3v1.3h-1.3zM100.6 114.6h1.3v1.3h-1.3zM87.3 109.6h1.3v1.3h-1.3zM81.5 155.4h1.3v1.3h-1.3zM86.5 134.7h1.3v1.3h-1.3zM90.5 137.3h1.3v1.3h-1.3zM66.3 141.8h1.3v1.3h-1.3zM57.7 148.4h1.3v1.3h-1.3zM103.5 124.5h1.3v1.3h-1.3zM71.9 143.7h1.3v1.3h-1.3zM89.2 149.2h1.3v1.3h-1.3zM102.8 135.4h1.3v1.3h-1.3zM64.0 139.5h1.3v1.3h-1.3zM117.6 124.5h1.3v1.3h-1.3zM74.0 143.2h1.3v1.3h-1.3zM77.9 144.4h1.3v1.3h-1.3zM110.5 132.9h1.3v1.3h-1.3zM75.5 148.3h1.3v1.3h-1.3zM107.5 121.1h1.3v1.3h-1.3zM83.5 147.1h1.3v1.3h-1.3zM75.8 115.5h1.3v1.3h-1.3zM102.7 128.3h1.3v1.3h-1.3zM119.4 123.2h1.3v1.3h-1.3zM83.4 129.0h1.3v1.3h-1.3zM76.1 150.7h1.3v1.3h-1.3zM100.8 124.4h1.3v1.3h-1.3zM72.0 131.9h1.3v1.3h-1.3zM106.8 115.8h1.3v1.3h-1.3zM63.5 158.2h1.3v1.3h-1.3zM81.6 153.0h1.3v1.3h-1.3zM85.3 114.7h1.3v1.3h-1.3zM76.2 124.1h1.3v1.3h-1.3zM62.7 138.8h1.3v1.3h-1.3zM86.4 113.5h1.3v1.3h-1.3zM79.4 130.4h1.3v1.3h-1.3zM93.8 123.2h1.3v1.3h-1.3zM76.7 153.3h1.3v1.3h-1.3zM104.2 130.6h1.3v1.3h-1.3zM124.5 120.0h1.3v1.3h-1.3zM74.7 151.1h1.3v1.3h-1.3zM71.7 149.6h1.3v1.3h-1.3zM93.4 109.7h1.3v1.3h-1.3zM70.2 155.0h1.3v1.3h-1.3zM84.0 120.5h1.3v1.3h-1.3zM104.4 128.6h1.3v1.3h-1.3zM82.7 123.2h1.3v1.3h-1.3zM77.1 157.2h1.3v1.3h-1.3zM93.6 141.0h1.3v1.3h-1.3zM66.5 139.7h1.3v1.3h-1.3zM83.7 119.3h1.3v1.3h-1.3zM73.3 155.6h1.3v1.3h-1.3zM107.6 119.6h1.3v1.3h-1.3zM82.3 137.6h1.3v1.3h-1.3zM105.6 134.3h1.3v1.3h-1.3zM82.2 145.3h1.3v1.3h-1.3zM84.8 117.9h1.3v1.3h-1.3zM81.5 149.3h1.3v1.3h-1.3zM72.8 148.7h1.3v1.3h-1.3zM82.6 132.0h1.3v1.3h-1.3zM100.0 135.8h1.3v1.3h-1.3zM90.0 118.5h1.3v1.3h-1.3zM94.4 117.8h1.3v1.3h-1.3zM93.0 131.3h1.3v1.3h-1.3zM72.3 125.4h1.3v1.3h-1.3zM108.3 133.4h1.3v1.3h-1.3zM93.9 154.8h1.3v1.3h-1.3zM107.4 121.7h1.3v1.3h-1.3zM79.5 147.3h1.3v1.3h-1.3zM93.5 129.6h1.3v1.3h-1.3zM73.9 143.3h1.3v1.3h-1.3zM115.2 120.8h1.3v1.3h-1.3zM90.3 152.0h1.3v1.3h-1.3zM66.7 140.5h1.3v1.3h-1.3zM76.0 148.3h1.3v1.3h-1.3zM87.9 126.1h1.3v1.3h-1.3zM90.7 110.9h1.3v1.3h-1.3zM103.3 125.0h1.3v1.3h-1.3zM97.4 131.4h1.3v1.3h-1.3zM89.6 124.2h1.3v1.3h-1.3zM62.6 140.5h1.3v1.3h-1.3zM78.4 146.0h1.3v1.3h-1.3zM69.1 141.5h1.3v1.3h-1.3zM85.4 142.0h1.3v1.3h-1.3zM87.0 125.6h1.3v1.3h-1.3zM120.1 126.2h1.3v1.3h-1.3zM67.5 144.2h1.3v1.3h-1.3zM90.3 115.4h1.3v1.3h-1.3zM78.2 139.8h1.3v1.3h-1.3zM69.9 132.3h1.3v1.3h-1.3zM116.2 116.8h1.3v1.3h-1.3zM73.0 143.5h1.3v1.3h-1.3zM69.3 140.5h1.3v1.3h-1.3zM71.7 150.9h1.3v1.3h-1.3zM79.5 116.9h1.3v1.3h-1.3zM71.7 126.7h1.3v1.3h-1.3zM63.4 145.9h1.3v1.3h-1.3zM110.8 118.0h1.3v1.3h-1.3zM108.7 132.6h1.3v1.3h-1.3zM69.4 142.5h1.3v1.3h-1.3zM111.3 133.9h1.3v1.3h-1.3zM73.3 140.1h1.3v1.3h-1.3zM79.9 111.8h1.3v1.3h-1.3zM113.0 126.3h1.3v1.3h-1.3zM102.6 123.1h1.3v1.3h-1.3zM111.9 125.9h1.3v1.3h-1.3zM92.0 131.2h1.3v1.3h-1.3zM115.5 119.8h1.3v1.3h-1.3zM105.3 132.9h1.3v1.3h-1.3zM110.9 120.8h1.3v1.3h-1.3zM90.8 146.3h1.3v1.3h-1.3zM98.0 140.5h1.3v1.3h-1.3zM58.9 148.6h1.3v1.3h-1.3zM103.0 140.7h1.3v1.3h-1.3zM100.1 126.6h1.3v1.3h-1.3zM73.1 137.0h1.3v1.3h-1.3zM75.8 147.7h1.3v1.3h-1.3zM92.4 116.7h1.3v1.3h-1.3zM62.8 144.7h1.3v1.3h-1.3zM76.2 132.5h1.3v1.3h-1.3zM66.9 145.3h1.3v1.3h-1.3zM111.2 127.5h1.3v1.3h-1.3zM80.8 127.4h1.3v1.3h-1.3zM97.5 118.8h1.3v1.3h-1.3zM78.8 134.2h1.3v1.3h-1.3zM84.8 131.0h1.3v1.3h-1.3zM82.2 139.8h1.3v1.3h-1.3zM72.2 119.6h1.3v1.3h-1.3zM80.2 122.2h1.3v1.3h-1.3zM84.5 148.7h1.3v1.3h-1.3zM80.3 134.4h1.3v1.3h-1.3zM109.5 119.2h1.3v1.3h-1.3zM92.3 148.6h1.3v1.3h-1.3zM73.2 145.6h1.3v1.3h-1.3zM82.2 151.0h1.3v1.3h-1.3zM85.2 110.7h1.3v1.3h-1.3zM48.3 123.3h1.3v1.3h-1.3zM77.6 109.3h1.3v1.3h-1.3zM86.1 124.8h1.3v1.3h-1.3zM121.2 77.7h1.3v1.3h-1.3zM107.1 77.0h1.3v1.3h-1.3zM100.5 70.1h1.3v1.3h-1.3zM95.1 60.1h1.3v1.3h-1.3zM87.6 73.1h1.3v1.3h-1.3zM117.7 77.7h1.3v1.3h-1.3zM107.6 69.1h1.3v1.3h-1.3zM94.2 64.8h1.3v1.3h-1.3zM97.1 73.6h1.3v1.3h-1.3zM87.2 65.3h1.3v1.3h-1.3zM86.0 92.8h1.3v1.3h-1.3zM112.2 58.7h1.3v1.3h-1.3zM114.2 62.0h1.3v1.3h-1.3zM98.7 81.2h1.3v1.3h-1.3zM92.4 74.3h1.3v1.3h-1.3zM109.6 63.5h1.3v1.3h-1.3zM89.7 96.9h1.3v1.3h-1.3zM113.5 75.1h1.3v1.3h-1.3zM82.7 91.9h1.3v1.3h-1.3zM113.7 60.1h1.3v1.3h-1.3zM94.0 73.8h1.3v1.3h-1.3zM88.0 81.5h1.3v1.3h-1.3zM113.4 71.9h1.3v1.3h-1.3zM103.7 65.8h1.3v1.3h-1.3zM117.8 74.3h1.3v1.3h-1.3zM105.1 58.6h1.3v1.3h-1.3zM123.4 70.1h1.3v1.3h-1.3zM113.1 76.8h1.3v1.3h-1.3zM99.8 60.0h1.3v1.3h-1.3zM109.9 70.0h1.3v1.3h-1.3zM118.4 72.7h1.3v1.3h-1.3zM111.3 62.5h1.3v1.3h-1.3zM116.1 61.8h1.3v1.3h-1.3zM90.8 104.1h1.3v1.3h-1.3zM113.3 72.1h1.3v1.3h-1.3zM110.4 76.3h1.3v1.3h-1.3zM108.0 71.2h1.3v1.3h-1.3zM85.5 99.9h1.3v1.3h-1.3zM81.1 98.7h1.3v1.3h-1.3zM98.7 87.9h1.3v1.3h-1.3zM119.2 76.6h1.3v1.3h-1.3zM86.1 87.6h1.3v1.3h-1.3zM93.9 85.2h1.3v1.3h-1.3zM111.5 64.6h1.3v1.3h-1.3zM122.4 66.6h1.3v1.3h-1.3zM123.2 69.3h1.3v1.3h-1.3zM92.3 74.1h1.3v1.3h-1.3zM101.2 62.5h1.3v1.3h-1.3zM113.2 57.8h1.3v1.3h-1.3zM90.2 92.7h1.3v1.3h-1.3zM116.1 60.9h1.3v1.3h-1.3zM100.1 71.2h1.3v1.3h-1.3zM113.7 62.0h1.3v1.3h-1.3zM107.1 79.2h1.3v1.3h-1.3zM122.0 74.6h1.3v1.3h-1.3zM108.5 66.0h1.3v1.3h-1.3zM87.4 87.3h1.3v1.3h-1.3zM88.4 98.8h1.3v1.3h-1.3zM106.6 68.5h1.3v1.3h-1.3zM94.6 92.9h1.3v1.3h-1.3zM98.6 75.7h1.3v1.3h-1.3zM86.5 78.9h1.3v1.3h-1.3zM96.1 75.9h1.3v1.3h-1.3zM88.0 62.0h1.3v1.3h-1.3zM109.9 75.4h1.3v1.3h-1.3zM97.0 83.7h1.3v1.3h-1.3zM99.9 59.1h1.3v1.3h-1.3zM120.1 74.4h1.3v1.3h-1.3zM95.8 87.0h1.3v1.3h-1.3zM102.1 69.2h1.3v1.3h-1.3zM122.5 77.6h1.3v1.3h-1.3zM118.1 68.8h1.3v1.3h-1.3zM88.2 107.6h1.3v1.3h-1.3zM118.7 63.4h1.3v1.3h-1.3zM119.9 62.7h1.3v1.3h-1.3zM106.6 58.3h1.3v1.3h-1.3zM111.6 76.3h1.3v1.3h-1.3zM118.0 59.7h1.3v1.3h-1.3zM90.8 102.4h1.3v1.3h-1.3zM113.4 59.2h1.3v1.3h-1.3zM93.9 70.5h1.3v1.3h-1.3zM106.5 66.7h1.3v1.3h-1.3zM103.5 71.0h1.3v1.3h-1.3zM108.3 75.4h1.3v1.3h-1.3zM101.7 64.3h1.3v1.3h-1.3zM120.1 65.7h1.3v1.3h-1.3zM96.3 86.3h1.3v1.3h-1.3zM106.1 77.1h1.3v1.3h-1.3zM97.9 77.7h1.3v1.3h-1.3zM95.6 96.3h1.3v1.3h-1.3zM116.9 76.2h1.3v1.3h-1.3zM93.9 86.3h1.3v1.3h-1.3zM119.5 67.5h1.3v1.3h-1.3zM112.2 64.9h1.3v1.3h-1.3zM106.7 69.2h1.3v1.3h-1.3zM100.9 62.6h1.3v1.3h-1.3zM100.9 73.8h1.3v1.3h-1.3zM104.7 73.9h1.3v1.3h-1.3zM110.5 71.0h1.3v1.3h-1.3zM93.6 93.5h1.3v1.3h-1.3zM98.7 67.3h1.3v1.3h-1.3zM108.4 73.2h1.3v1.3h-1.3zM98.0 76.1h1.3v1.3h-1.3zM100.9 84.8h1.3v1.3h-1.3zM102.2 74.9h1.3v1.3h-1.3zM123.1 72.2h1.3v1.3h-1.3zM121.4 69.1h1.3v1.3h-1.3zM85.7 108.9h1.3v1.3h-1.3zM91.0 73.2h1.3v1.3h-1.3zM95.0 74.1h1.3v1.3h-1.3zM120.0 73.9h1.3v1.3h-1.3zM103.7 58.9h1.3v1.3h-1.3zM107.8 66.5h1.3v1.3h-1.3zM114.3 61.5h1.3v1.3h-1.3zM92.7 81.4h1.3v1.3h-1.3zM93.4 84.0h1.3v1.3h-1.3zM67.5 109.6h1.3v1.3h-1.3zM59.5 123.8h1.3v1.3h-1.3zM50.2 132.3h1.3v1.3h-1.3zM103.2 73.3h1.3v1.3h-1.3zM102.6 69.3h1.3v1.3h-1.3zM110.4 91.1h1.3v1.3h-1.3zM125.7 103.4h1.3v1.3h-1.3zM130.0 103.4h1.3v1.3h-1.3zM121.0 110.0h1.3v1.3h-1.3zM118.3 84.2h1.3v1.3h-1.3zM95.6 110.2h1.3v1.3h-1.3zM107.3 114.9h1.3v1.3h-1.3zM107.3 113.6h1.3v1.3h-1.3zM117.0 110.8h1.3v1.3h-1.3zM116.8 104.2h1.3v1.3h-1.3zM106.1 91.1h1.3v1.3h-1.3zM112.9 87.7h1.3v1.3h-1.3zM110.4 89.0h1.3v1.3h-1.3zM99.0 110.0h1.3v1.3h-1.3zM120.4 87.1h1.3v1.3h-1.3zM126.5 103.6h1.3v1.3h-1.3zM99.4 112.4h1.3v1.3h-1.3zM116.8 88.0h1.3v1.3h-1.3zM96.9 110.4h1.3v1.3h-1.3zM126.1 92.7h1.3v1.3h-1.3zM116.2 85.0h1.3v1.3h-1.3zM119.7 91.5h1.3v1.3h-1.3zM117.8 99.5h1.3v1.3h-1.3zM105.4 96.9h1.3v1.3h-1.3zM104.2 113.5h1.3v1.3h-1.3zM117.2 89.5h1.3v1.3h-1.3zM106.6 87.2h1.3v1.3h-1.3zM127.2 98.0h1.3v1.3h-1.3zM125.3 105.7h1.3v1.3h-1.3zM103.2 108.8h1.3v1.3h-1.3zM101.4 108.8h1.3v1.3h-1.3zM121.3 89.8h1.3v1.3h-1.3zM119.6 86.8h1.3v1.3h-1.3zM113.9 94.0h1.3v1.3h-1.3zM115.4 86.9h1.3v1.3h-1.3zM123.5 94.8h1.3v1.3h-1.3zM114.5 90.1h1.3v1.3h-1.3zM127.6 86.8h1.3v1.3h-1.3zM97.3 103.6h1.3v1.3h-1.3zM111.7 97.4h1.3v1.3h-1.3zM97.9 98.4h1.3v1.3h-1.3zM118.3 109.3h1.3v1.3h-1.3zM113.4 93.1h1.3v1.3h-1.3zM118.1 92.6h1.3v1.3h-1.3zM113.5 98.3h1.3v1.3h-1.3zM111.3 100.3h1.3v1.3h-1.3zM119.0 98.6h1.3v1.3h-1.3zM126.3 101.0h1.3v1.3h-1.3zM103.8 96.0h1.3v1.3h-1.3zM113.6 111.1h1.3v1.3h-1.3zM110.8 93.0h1.3v1.3h-1.3zM113.9 111.6h1.3v1.3h-1.3zM129.3 102.1h1.3v1.3h-1.3zM128.6 104.0h1.3v1.3h-1.3zM98.5 97.6h1.3v1.3h-1.3zM126.1 103.1h1.3v1.3h-1.3zM98.7 110.9h1.3v1.3h-1.3zM111.5 87.0h1.3v1.3h-1.3zM116.3 92.4h1.3v1.3h-1.3zM99.1 108.4h1.3v1.3h-1.3zM115.7 110.4h1.3v1.3h-1.3zM113.6 87.5h1.3v1.3h-1.3zM105.7 111.9h1.3v1.3h-1.3zM109.8 86.3h1.3v1.3h-1.3zM121.9 93.0h1.3v1.3h-1.3zM125.2 90.0h1.3v1.3h-1.3zM125.5 87.5h1.3v1.3h-1.3zM114.2 99.6h1.3v1.3h-1.3zM105.3 104.6h1.3v1.3h-1.3zM124.9 97.8h1.3v1.3h-1.3zM110.0 114.9h1.3v1.3h-1.3zM112.2 87.3h1.3v1.3h-1.3zM96.4 108.1h1.3v1.3h-1.3zM101.2 97.8h1.3v1.3h-1.3zM97.0 102.6h1.3v1.3h-1.3zM102.6 107.3h1.3v1.3h-1.3zM100.7 108.3h1.3v1.3h-1.3zM105.3 115.1h1.3v1.3h-1.3zM105.9 85.4h1.3v1.3h-1.3zM120.1 102.3h1.3v1.3h-1.3zM117.8 85.5h1.3v1.3h-1.3zM104.7 94.9h1.3v1.3h-1.3zM126.7 93.9h1.3v1.3h-1.3zM116.1 84.1h1.3v1.3h-1.3zM108.5 100.4h1.3v1.3h-1.3zM104.1 114.8h1.3v1.3h-1.3zM111.4 96.4h1.3v1.3h-1.3zM102.4 90.3h1.3v1.3h-1.3zM113.0 83.6h1.3v1.3h-1.3zM123.8 104.4h1.3v1.3h-1.3zM111.8 97.2h1.3v1.3h-1.3zM97.7 97.9h1.3v1.3h-1.3zM101.9 95.0h1.3v1.3h-1.3zM108.5 83.2h1.3v1.3h-1.3zM105.4 108.9h1.3v1.3h-1.3zM125.4 92.7h1.3v1.3h-1.3zM102.4 111.9h1.3v1.3h-1.3zM110.5 102.5h1.3v1.3h-1.3zM96.4 101.2h1.3v1.3h-1.3zM109.9 109.4h1.3v1.3h-1.3zM108.2 84.5h1.3v1.3h-1.3zM127.3 102.7h1.3v1.3h-1.3zM99.2 97.1h1.3v1.3h-1.3zM108.0 111.9h1.3v1.3h-1.3zM118.7 83.3h1.3v1.3h-1.3zM108.7 93.9h1.3v1.3h-1.3zM110.8 105.2h1.3v1.3h-1.3zM122.4 95.6h1.3v1.3h-1.3zM120.0 92.9h1.3v1.3h-1.3zM108.0 110.5h1.3v1.3h-1.3zM124.9 105.6h1.3v1.3h-1.3zM108.0 102.6h1.3v1.3h-1.3zM124.5 109.0h1.3v1.3h-1.3zM100.2 94.1h1.3v1.3h-1.3zM128.0 105.5h1.3v1.3h-1.3zM111.9 111.2h1.3v1.3h-1.3zM116.8 83.3h1.3v1.3h-1.3zM125.2 108.8h1.3v1.3h-1.3zM106.4 89.9h1.3v1.3h-1.3zM120.5 85.7h1.3v1.3h-1.3zM107.2 92.4h1.3v1.3h-1.3zM101.7 104.2h1.3v1.3h-1.3zM50.1 91.7h1.3v1.3h-1.3zM59.2 116.1h1.3v1.3h-1.3zM52.9 113.4h1.3v1.3h-1.3zM55.5 104.9h1.3v1.3h-1.3zM57.5 98.6h1.3v1.3h-1.3zM57.9 116.0h1.3v1.3h-1.3zM52.8 104.9h1.3v1.3h-1.3zM52.4 89.3h1.3v1.3h-1.3zM50.4 106.2h1.3v1.3h-1.3zM46.8 113.6h1.3v1.3h-1.3zM57.2 109.5h1.3v1.3h-1.3zM46.1 94.4h1.3v1.3h-1.3zM57.6 108.3h1.3v1.3h-1.3zM38.5 97.8h1.3v1.3h-1.3zM51.4 114.5h1.3v1.3h-1.3zM70.0 119.8h1.3v1.3h-1.3zM71.3 125.2h1.3v1.3h-1.3zM72.0 124.7h1.3v1.3h-1.3zM47.6 128.4h1.3v1.3h-1.3zM48.3 127.6h1.3v1.3h-1.3zM44.9 125.6h1.3v1.3h-1.3zM49.6 133.2h1.3v1.3h-1.3zM60.0 137.9h1.3v1.3h-1.3zM71.6 122.3h1.3v1.3h-1.3zM62.8 101.4h1.3v1.3h-1.3zM31.9 112.9h1.3v1.3h-1.3zM28.3 107.1h1.3v1.3h-1.3zM25.8 113.0h1.3v1.3h-1.3zM28.4 122.5h1.3v1.3h-1.3zM17.2 112.6h1.3v1.3h-1.3zM40.4 121.3h1.3v1.3h-1.3zM30.8 112.2h1.3v1.3h-1.3zM38.6 127.9h1.3v1.3h-1.3zM37.9 137.0h1.3v1.3h-1.3zM33.0 135.6h1.3v1.3h-1.3zM25.4 121.7h1.3v1.3h-1.3zM13.7 110.6h1.3v1.3h-1.3zM17.1 111.4h1.3v1.3h-1.3zM35.6 124.2h1.3v1.3h-1.3zM11.7 108.8h1.3v1.3h-1.3zM39.9 124.8h1.3v1.3h-1.3zM12.7 107.8h1.3v1.3h-1.3zM32.7 126.9h1.3v1.3h-1.3zM29.2 121.3h1.3v1.3h-1.3zM17.4 108.9h1.3v1.3h-1.3zM34.9 115.1h1.3v1.3h-1.3zM29.1 106.5h1.3v1.3h-1.3zM34.7 130.7h1.3v1.3h-1.3zM15.1 112.8h1.3v1.3h-1.3zM27.2 103.9h1.3v1.3h-1.3zM38.2 132.0h1.3v1.3h-1.3zM27.0 129.2h1.3v1.3h-1.3zM10.9 111.1h1.3v1.3h-1.3zM12.4 113.0h1.3v1.3h-1.3zM29.1 119.4h1.3v1.3h-1.3zM31.2 112.4h1.3v1.3h-1.3zM41.3 132.4h1.3v1.3h-1.3zM44.2 134.3h1.3v1.3h-1.3zM42.1 140.3h1.3v1.3h-1.3zM22.4 108.9h1.3v1.3h-1.3zM38.0 132.7h1.3v1.3h-1.3zM42.4 135.9h1.3v1.3h-1.3zM24.9 112.7h1.3v1.3h-1.3zM25.1 115.4h1.3v1.3h-1.3zM33.3 125.8h1.3v1.3h-1.3zM34.1 114.7h1.3v1.3h-1.3zM33.4 119.5h1.3v1.3h-1.3zM8.8 108.2h1.3v1.3h-1.3zM23.0 123.7h1.3v1.3h-1.3zM30.3 131.2h1.3v1.3h-1.3zM39.8 136.4h1.3v1.3h-1.3zM18.8 107.7h1.3v1.3h-1.3zM38.5 135.5h1.3v1.3h-1.3zM38.1 121.0h1.3v1.3h-1.3zM25.1 124.2h1.3v1.3h-1.3zM23.7 123.1h1.3v1.3h-1.3zM36.9 124.3h1.3v1.3h-1.3zM36.9 118.4h1.3v1.3h-1.3zM36.9 142.3h1.3v1.3h-1.3zM66.9 120.2h1.3v1.3h-1.3zM71.3 110.3h1.3v1.3h-1.3zM64.0 120.6h1.3v1.3h-1.3zM75.8 95.0h1.3v1.3h-1.3zM73.7 96.6h1.3v1.3h-1.3zM62.2 103.3h1.3v1.3h-1.3zM66.5 121.5h1.3v1.3h-1.3zM64.7 102.0h1.3v1.3h-1.3zM75.2 99.2h1.3v1.3h-1.3zM58.6 123.6h1.3v1.3h-1.3zM68.9 95.8h1.3v1.3h-1.3zM74.0 109.0h1.3v1.3h-1.3zM60.0 127.5h1.3v1.3h-1.3zM65.6 122.5h1.3v1.3h-1.3zM53.5 137.3h1.3v1.3h-1.3zM50.3 126.1h1.3v1.3h-1.3zM52.4 130.6h1.3v1.3h-1.3zM28.0 123.2h1.3v1.3h-1.3zM46.7 83.3h1.3v1.3h-1.3zM48.7 68.4h1.3v1.3h-1.3zM43.1 84.3h1.3v1.3h-1.3zM66.2 85.3h1.3v1.3h-1.3zM62.1 76.2h1.3v1.3h-1.3zM145.7 94.5h1.3v1.3h-1.3zM151.2 89.1h1.3v1.3h-1.3zM143.8 99.5h1.3v1.3h-1.3zM141.6 85.4h1.3v1.3h-1.3zM153.5 90.1h1.3v1.3h-1.3zM146.0 89.7h1.3v1.3h-1.3zM157.6 88.2h1.3v1.3h-1.3zM137.7 86.3h1.3v1.3h-1.3zM144.2 102.4h1.3v1.3h-1.3zM133.8 96.2h1.3v1.3h-1.3zM151.0 90.0h1.3v1.3h-1.3zM140.7 85.4h1.3v1.3h-1.3zM143.9 82.7h1.3v1.3h-1.3zM159.0 87.1h1.3v1.3h-1.3zM148.2 97.3h1.3v1.3h-1.3zM153.7 89.9h1.3v1.3h-1.3zM141.3 91.2h1.3v1.3h-1.3zM158.5 89.8h1.3v1.3h-1.3zM154.2 90.1h1.3v1.3h-1.3zM150.7 95.5h1.3v1.3h-1.3zM140.8 88.6h1.3v1.3h-1.3zM140.8 85.1h1.3v1.3h-1.3zM145.6 88.0h1.3v1.3h-1.3zM129.3 119.4h1.3v1.3h-1.3zM140.6 111.6h1.3v1.3h-1.3zM135.0 114.8h1.3v1.3h-1.3zM142.5 119.9h1.3v1.3h-1.3zM131.4 120.6h1.3v1.3h-1.3zM140.3 123.5h1.3v1.3h-1.3zM136.4 121.1h1.3v1.3h-1.3zM129.1 123.6h1.3v1.3h-1.3zM135.6 122.5h1.3v1.3h-1.3zM130.4 119.2h1.3v1.3h-1.3zM133.1 127.2h1.3v1.3h-1.3zM137.7 117.9h1.3v1.3h-1.3zM138.8 117.8h1.3v1.3h-1.3zM129.9 128.0h1.3v1.3h-1.3zM124.4 126.2h1.3v1.3h-1.3zM131.1 125.6h1.3v1.3h-1.3zM144.2 115.0h1.3v1.3h-1.3zM134.9 116.1h1.3v1.3h-1.3zM142.1 122.6h1.3v1.3h-1.3zM124.5 126.5h1.3v1.3h-1.3zM140.1 124.6h1.3v1.3h-1.3zM129.2 130.0h1.3v1.3h-1.3zM136.8 115.7h1.3v1.3h-1.3zM133.3 125.5h1.3v1.3h-1.3zM68.8 95.4h1.3v1.3h-1.3zM73.7 95.2h1.3v1.3h-1.3zM74.3 100.3h1.3v1.3h-1.3zM71.2 95.6h1.3v1.3h-1.3zM73.7 98.8h1.3v1.3h-1.3zM67.8 95.9h1.3v1.3h-1.3zM73.5 95.9h1.3v1.3h-1.3zM71.7 97.5h1.3v1.3h-1.3zM64.4 102.5h1.3v1.3h-1.3zM81.1 94.0h1.3v1.3h-1.3zM64.2 92.6h1.3v1.3h-1.3zM79.7 111.7h1.3v1.3h-1.3zM63.9 106.0h1.3v1.3h-1.3zM134.9 121.8h1.3v1.3h-1.3zM77.8 86.7h1.3v1.3h-1.3zM70.7 90.8h1.3v1.3h-1.3zM79.0 91.6h1.3v1.3h-1.3zM69.9 93.1h1.3v1.3h-1.3zM71.1 78.7h1.3v1.3h-1.3zM78.9 84.7h1.3v1.3h-1.3zM75.8 96.9h1.3v1.3h-1.3zM73.2 50.7h1.3v1.3h-1.3zM65.3 34.8h1.3v1.3h-1.3zM73.9 39.7h1.3v1.3h-1.3zM67.3 52.1h1.3v1.3h-1.3zM77.3 49.5h1.3v1.3h-1.3zM81.4 60.3h1.3v1.3h-1.3zM78.2 50.8h1.3v1.3h-1.3zM68.3 38.4h1.3v1.3h-1.3zM78.1 54.0h1.3v1.3h-1.3zM68.3 39.0h1.3v1.3h-1.3zM22.6 67.1h1.3v1.3h-1.3zM33.2 84.4h1.3v1.3h-1.3zM20.6 70.3h1.3v1.3h-1.3zM21.1 80.0h1.3v1.3h-1.3zM27.6 82.6h1.3v1.3h-1.3zM36.2 83.1h1.3v1.3h-1.3zM30.0 71.4h1.3v1.3h-1.3zM18.0 72.6h1.3v1.3h-1.3zM30.6 82.9h1.3v1.3h-1.3zM28.7 83.9h1.3v1.3h-1.3zM19.3 63.0h1.3v1.3h-1.3zM25.0 67.7h1.3v1.3h-1.3zM34.3 80.1h1.3v1.3h-1.3zM26.1 70.9h1.3v1.3h-1.3zM24.3 79.7h1.3v1.3h-1.3zM26.4 75.2h1.3v1.3h-1.3zM24.6 75.3h1.3v1.3h-1.3zM26.2 77.2h1.3v1.3h-1.3zM32.8 84.2h1.3v1.3h-1.3zM15.2 74.8h1.3v1.3h-1.3zM21.9 60.9h1.3v1.3h-1.3zM22.4 71.5h1.3v1.3h-1.3zM18.9 79.7h1.3v1.3h-1.3zM30.7 67.9h1.3v1.3h-1.3zM17.7 65.4h1.3v1.3h-1.3zM33.5 75.8h1.3v1.3h-1.3zM24.2 85.1h1.3v1.3h-1.3zM35.3 79.6h1.3v1.3h-1.3zM24.4 81.8h1.3v1.3h-1.3zM30.8 74.0h1.3v1.3h-1.3zM17.5 63.8h1.3v1.3h-1.3zM30.9 77.2h1.3v1.3h-1.3zM34.5 82.4h1.3v1.3h-1.3zM29.2 84.0h1.3v1.3h-1.3zM28.0 71.5h1.3v1.3h-1.3zM25.6 74.2h1.3v1.3h-1.3zM32.0 85.9h1.3v1.3h-1.3zM15.0 73.7h1.3v1.3h-1.3zM20.3 68.7h1.3v1.3h-1.3zM19.8 86.7h1.3v1.3h-1.3zM10.5 87.5h1.3v1.3h-1.3zM18.1 68.7h1.3v1.3h-1.3zM19.5 84.4h1.3v1.3h-1.3zM94.0 38.8h1.3v1.3h-1.3zM90.1 44.4h1.3v1.3h-1.3zM94.9 34.9h1.3v1.3h-1.3zM96.3 36.4h1.3v1.3h-1.3zM94.6 42.5h1.3v1.3h-1.3zM89.0 30.6h1.3v1.3h-1.3zM96.8 38.7h1.3v1.3h-1.3zM94.2 31.8h1.3v1.3h-1.3zM86.2 36.4h1.3v1.3h-1.3z"/><path fill="#e8502e" d="M65.8 140.3h1.3v1.3h-1.3zM63.0 146.9h1.3v1.3h-1.3zM68.1 150.4h1.3v1.3h-1.3zM104.2 115.4h1.3v1.3h-1.3zM99.9 123.0h1.3v1.3h-1.3zM94.9 112.6h1.3v1.3h-1.3zM78.9 142.2h1.3v1.3h-1.3zM120.6 128.4h1.3v1.3h-1.3zM94.2 115.3h1.3v1.3h-1.3zM116.9 122.0h1.3v1.3h-1.3zM122.1 127.6h1.3v1.3h-1.3zM102.8 124.8h1.3v1.3h-1.3zM104.5 124.7h1.3v1.3h-1.3zM102.8 116.2h1.3v1.3h-1.3zM87.6 144.5h1.3v1.3h-1.3zM82.1 128.5h1.3v1.3h-1.3zM74.1 137.6h1.3v1.3h-1.3zM63.7 150.2h1.3v1.3h-1.3zM96.5 121.6h1.3v1.3h-1.3zM65.6 151.5h1.3v1.3h-1.3zM96.3 112.5h1.3v1.3h-1.3zM99.3 117.4h1.3v1.3h-1.3zM65.4 152.3h1.3v1.3h-1.3zM89.8 155.3h1.3v1.3h-1.3zM76.3 139.9h1.3v1.3h-1.3zM74.7 139.1h1.3v1.3h-1.3zM94.4 141.6h1.3v1.3h-1.3zM76.2 155.5h1.3v1.3h-1.3zM75.1 158.0h1.3v1.3h-1.3zM94.7 122.6h1.3v1.3h-1.3zM71.7 141.9h1.3v1.3h-1.3zM74.6 154.6h1.3v1.3h-1.3zM72.8 132.6h1.3v1.3h-1.3zM59.7 145.1h1.3v1.3h-1.3zM95.4 143.3h1.3v1.3h-1.3zM70.3 128.0h1.3v1.3h-1.3zM73.2 155.7h1.3v1.3h-1.3zM117.3 128.0h1.3v1.3h-1.3zM84.7 134.5h1.3v1.3h-1.3zM90.1 137.5h1.3v1.3h-1.3zM79.8 134.4h1.3v1.3h-1.3zM77.4 141.9h1.3v1.3h-1.3zM68.3 141.9h1.3v1.3h-1.3zM71.5 148.7h1.3v1.3h-1.3zM70.3 126.1h1.3v1.3h-1.3zM96.1 114.0h1.3v1.3h-1.3zM84.7 156.9h1.3v1.3h-1.3zM85.2 139.0h1.3v1.3h-1.3zM96.5 118.6h1.3v1.3h-1.3zM111.7 125.0h1.3v1.3h-1.3zM70.0 136.9h1.3v1.3h-1.3zM73.7 155.7h1.3v1.3h-1.3zM64.6 148.3h1.3v1.3h-1.3zM103.2 121.5h1.3v1.3h-1.3zM87.3 153.5h1.3v1.3h-1.3zM86.5 126.4h1.3v1.3h-1.3zM79.5 155.2h1.3v1.3h-1.3zM88.3 123.0h1.3v1.3h-1.3zM67.5 143.3h1.3v1.3h-1.3zM82.9 123.3h1.3v1.3h-1.3zM62.7 143.4h1.3v1.3h-1.3zM76.6 157.3h1.3v1.3h-1.3zM116.8 120.0h1.3v1.3h-1.3zM58.2 140.9h1.3v1.3h-1.3zM69.2 158.8h1.3v1.3h-1.3zM77.6 152.1h1.3v1.3h-1.3zM69.9 148.2h1.3v1.3h-1.3zM72.3 127.4h1.3v1.3h-1.3zM116.5 116.1h1.3v1.3h-1.3zM119.6 123.2h1.3v1.3h-1.3zM109.3 120.2h1.3v1.3h-1.3zM94.8 152.2h1.3v1.3h-1.3zM68.6 144.4h1.3v1.3h-1.3zM68.4 147.5h1.3v1.3h-1.3zM85.9 124.1h1.3v1.3h-1.3zM80.7 146.3h1.3v1.3h-1.3zM105.3 119.7h1.3v1.3h-1.3zM61.7 137.1h1.3v1.3h-1.3zM112.4 127.6h1.3v1.3h-1.3zM73.0 138.4h1.3v1.3h-1.3zM74.1 146.6h1.3v1.3h-1.3zM84.5 114.2h1.3v1.3h-1.3zM80.8 154.9h1.3v1.3h-1.3zM59.7 132.5h1.3v1.3h-1.3zM49.0 140.3h1.3v1.3h-1.3zM45.7 135.5h1.3v1.3h-1.3zM80.6 114.1h1.3v1.3h-1.3zM119.3 64.2h1.3v1.3h-1.3zM113.8 68.8h1.3v1.3h-1.3zM110.8 68.5h1.3v1.3h-1.3zM86.6 92.1h1.3v1.3h-1.3zM120.9 71.7h1.3v1.3h-1.3zM91.6 61.5h1.3v1.3h-1.3zM91.2 66.3h1.3v1.3h-1.3zM120.2 73.2h1.3v1.3h-1.3zM103.7 73.9h1.3v1.3h-1.3zM117.2 73.2h1.3v1.3h-1.3zM115.8 59.9h1.3v1.3h-1.3zM90.2 68.7h1.3v1.3h-1.3zM115.1 61.5h1.3v1.3h-1.3zM110.0 67.4h1.3v1.3h-1.3zM112.4 61.5h1.3v1.3h-1.3zM122.2 72.2h1.3v1.3h-1.3zM113.8 65.1h1.3v1.3h-1.3zM100.5 72.0h1.3v1.3h-1.3zM93.0 78.3h1.3v1.3h-1.3zM107.8 74.0h1.3v1.3h-1.3zM113.4 71.7h1.3v1.3h-1.3zM93.5 101.0h1.3v1.3h-1.3zM90.3 65.7h1.3v1.3h-1.3zM116.7 65.8h1.3v1.3h-1.3zM99.3 80.1h1.3v1.3h-1.3zM123.3 65.7h1.3v1.3h-1.3zM119.0 71.6h1.3v1.3h-1.3zM111.6 63.7h1.3v1.3h-1.3zM109.9 63.8h1.3v1.3h-1.3zM91.7 101.0h1.3v1.3h-1.3zM115.7 60.5h1.3v1.3h-1.3zM104.0 65.0h1.3v1.3h-1.3zM103.8 68.0h1.3v1.3h-1.3zM113.4 63.7h1.3v1.3h-1.3zM113.5 63.8h1.3v1.3h-1.3zM101.5 70.4h1.3v1.3h-1.3zM104.4 71.7h1.3v1.3h-1.3zM103.0 71.6h1.3v1.3h-1.3zM93.3 97.0h1.3v1.3h-1.3zM95.5 83.0h1.3v1.3h-1.3zM111.9 61.4h1.3v1.3h-1.3zM95.9 85.5h1.3v1.3h-1.3zM124.8 64.8h1.3v1.3h-1.3zM122.0 68.2h1.3v1.3h-1.3zM121.4 67.9h1.3v1.3h-1.3zM90.7 63.2h1.3v1.3h-1.3zM123.4 62.6h1.3v1.3h-1.3zM108.8 77.5h1.3v1.3h-1.3zM122.6 70.1h1.3v1.3h-1.3zM101.4 61.7h1.3v1.3h-1.3zM113.4 59.1h1.3v1.3h-1.3zM109.1 73.9h1.3v1.3h-1.3zM106.3 70.5h1.3v1.3h-1.3zM59.4 131.5h1.3v1.3h-1.3zM86.3 104.1h1.3v1.3h-1.3zM116.8 52.0h1.3v1.3h-1.3zM128.0 104.8h1.3v1.3h-1.3zM123.2 87.7h1.3v1.3h-1.3zM101.0 93.9h1.3v1.3h-1.3zM104.1 105.5h1.3v1.3h-1.3zM121.2 85.2h1.3v1.3h-1.3zM104.3 107.9h1.3v1.3h-1.3zM106.8 96.5h1.3v1.3h-1.3zM100.3 99.5h1.3v1.3h-1.3zM127.2 89.0h1.3v1.3h-1.3zM94.4 108.8h1.3v1.3h-1.3zM97.3 97.3h1.3v1.3h-1.3zM103.9 88.9h1.3v1.3h-1.3zM115.5 109.2h1.3v1.3h-1.3zM119.6 106.8h1.3v1.3h-1.3zM111.4 111.3h1.3v1.3h-1.3zM117.7 108.1h1.3v1.3h-1.3zM114.5 86.9h1.3v1.3h-1.3zM107.0 88.4h1.3v1.3h-1.3zM115.6 111.3h1.3v1.3h-1.3zM98.3 110.5h1.3v1.3h-1.3zM121.1 84.3h1.3v1.3h-1.3zM96.0 113.7h1.3v1.3h-1.3zM120.4 90.7h1.3v1.3h-1.3zM94.9 109.4h1.3v1.3h-1.3zM107.9 95.4h1.3v1.3h-1.3zM108.1 85.1h1.3v1.3h-1.3zM123.8 96.3h1.3v1.3h-1.3zM113.3 105.7h1.3v1.3h-1.3zM115.8 88.6h1.3v1.3h-1.3zM94.8 100.8h1.3v1.3h-1.3zM117.0 114.8h1.3v1.3h-1.3zM105.0 97.1h1.3v1.3h-1.3zM95.6 115.6h1.3v1.3h-1.3zM119.4 89.5h1.3v1.3h-1.3zM124.2 87.3h1.3v1.3h-1.3zM98.4 97.2h1.3v1.3h-1.3zM97.8 102.5h1.3v1.3h-1.3zM105.9 84.3h1.3v1.3h-1.3zM106.6 103.1h1.3v1.3h-1.3zM96.2 100.6h1.3v1.3h-1.3zM121.5 107.1h1.3v1.3h-1.3zM108.3 103.7h1.3v1.3h-1.3zM120.2 112.1h1.3v1.3h-1.3zM102.6 114.2h1.3v1.3h-1.3zM108.4 84.8h1.3v1.3h-1.3zM108.2 99.9h1.3v1.3h-1.3zM104.7 105.2h1.3v1.3h-1.3zM125.8 92.8h1.3v1.3h-1.3zM125.0 102.3h1.3v1.3h-1.3zM128.6 91.6h1.3v1.3h-1.3zM127.1 93.6h1.3v1.3h-1.3zM117.0 98.8h1.3v1.3h-1.3zM108.1 104.6h1.3v1.3h-1.3zM119.1 88.1h1.3v1.3h-1.3zM123.9 98.2h1.3v1.3h-1.3zM124.1 110.3h1.3v1.3h-1.3zM106.3 86.1h1.3v1.3h-1.3zM96.2 103.1h1.3v1.3h-1.3zM105.7 113.2h1.3v1.3h-1.3zM116.0 110.5h1.3v1.3h-1.3zM104.7 88.7h1.3v1.3h-1.3zM110.6 89.1h1.3v1.3h-1.3zM97.8 106.6h1.3v1.3h-1.3zM104.2 95.1h1.3v1.3h-1.3zM103.5 109.0h1.3v1.3h-1.3zM121.2 110.2h1.3v1.3h-1.3zM116.4 95.3h1.3v1.3h-1.3zM100.4 112.4h1.3v1.3h-1.3zM105.8 104.2h1.3v1.3h-1.3zM100.2 93.9h1.3v1.3h-1.3zM127.9 105.8h1.3v1.3h-1.3zM106.2 115.4h1.3v1.3h-1.3zM104.3 93.3h1.3v1.3h-1.3zM117.8 114.5h1.3v1.3h-1.3zM108.6 95.2h1.3v1.3h-1.3zM119.5 83.9h1.3v1.3h-1.3zM99.2 106.9h1.3v1.3h-1.3zM101.7 103.2h1.3v1.3h-1.3zM123.8 102.4h1.3v1.3h-1.3zM104.8 100.9h1.3v1.3h-1.3zM128.4 84.9h1.3v1.3h-1.3zM60.3 95.9h1.3v1.3h-1.3zM51.9 114.1h1.3v1.3h-1.3zM51.1 90.1h1.3v1.3h-1.3zM52.1 94.1h1.3v1.3h-1.3zM52.1 100.6h1.3v1.3h-1.3zM36.3 123.5h1.3v1.3h-1.3zM30.6 131.8h1.3v1.3h-1.3zM16.6 106.8h1.3v1.3h-1.3zM29.2 119.8h1.3v1.3h-1.3zM28.8 127.6h1.3v1.3h-1.3zM24.3 102.4h1.3v1.3h-1.3zM32.5 127.9h1.3v1.3h-1.3zM18.7 105.8h1.3v1.3h-1.3zM15.3 102.3h1.3v1.3h-1.3zM21.1 100.6h1.3v1.3h-1.3zM43.8 133.9h1.3v1.3h-1.3zM24.9 116.6h1.3v1.3h-1.3zM36.7 131.9h1.3v1.3h-1.3zM34.5 131.8h1.3v1.3h-1.3zM35.1 116.4h1.3v1.3h-1.3zM37.8 121.2h1.3v1.3h-1.3zM14.2 115.2h1.3v1.3h-1.3zM27.4 108.8h1.3v1.3h-1.3zM21.4 115.4h1.3v1.3h-1.3zM39.7 135.4h1.3v1.3h-1.3zM34.1 138.7h1.3v1.3h-1.3zM25.4 100.6h1.3v1.3h-1.3zM36.4 115.3h1.3v1.3h-1.3zM36.8 141.9h1.3v1.3h-1.3zM23.4 104.7h1.3v1.3h-1.3zM38.0 125.2h1.3v1.3h-1.3zM65.8 91.1h1.3v1.3h-1.3zM79.4 104.2h1.3v1.3h-1.3zM71.4 120.5h1.3v1.3h-1.3zM46.6 132.8h1.3v1.3h-1.3zM28.9 104.1h1.3v1.3h-1.3zM50.4 75.8h1.3v1.3h-1.3zM70.7 82.0h1.3v1.3h-1.3zM47.4 82.2h1.3v1.3h-1.3zM56.4 62.5h1.3v1.3h-1.3zM71.0 76.8h1.3v1.3h-1.3zM154.1 92.4h1.3v1.3h-1.3zM144.9 102.3h1.3v1.3h-1.3zM159.0 90.0h1.3v1.3h-1.3zM143.4 89.4h1.3v1.3h-1.3zM137.5 82.3h1.3v1.3h-1.3zM144.8 95.6h1.3v1.3h-1.3zM146.7 100.3h1.3v1.3h-1.3zM127.3 125.8h1.3v1.3h-1.3zM132.5 128.3h1.3v1.3h-1.3zM131.4 124.4h1.3v1.3h-1.3zM126.5 127.8h1.3v1.3h-1.3zM135.4 117.7h1.3v1.3h-1.3zM141.1 113.3h1.3v1.3h-1.3zM133.3 112.0h1.3v1.3h-1.3zM130.8 110.3h1.3v1.3h-1.3zM60.6 96.5h1.3v1.3h-1.3zM66.8 96.5h1.3v1.3h-1.3zM67.8 93.9h1.3v1.3h-1.3zM70.9 99.5h1.3v1.3h-1.3zM71.8 92.9h1.3v1.3h-1.3zM70.3 94.3h1.3v1.3h-1.3zM67.1 90.6h1.3v1.3h-1.3zM63.1 99.0h1.3v1.3h-1.3zM69.8 104.9h1.3v1.3h-1.3zM71.4 119.2h1.3v1.3h-1.3zM80.8 94.1h1.3v1.3h-1.3zM75.8 116.5h1.3v1.3h-1.3zM72.9 103.6h1.3v1.3h-1.3zM132.9 115.6h1.3v1.3h-1.3zM71.5 76.3h1.3v1.3h-1.3zM78.2 87.8h1.3v1.3h-1.3zM74.8 84.0h1.3v1.3h-1.3zM71.0 91.9h1.3v1.3h-1.3zM77.5 83.2h1.3v1.3h-1.3zM76.8 92.6h1.3v1.3h-1.3zM71.5 98.5h1.3v1.3h-1.3zM78.5 49.1h1.3v1.3h-1.3zM66.2 35.2h1.3v1.3h-1.3zM70.0 42.8h1.3v1.3h-1.3zM65.4 50.9h1.3v1.3h-1.3zM74.9 55.2h1.3v1.3h-1.3zM76.0 51.5h1.3v1.3h-1.3zM81.7 50.2h1.3v1.3h-1.3zM71.8 44.8h1.3v1.3h-1.3zM65.4 47.3h1.3v1.3h-1.3zM65.9 48.4h1.3v1.3h-1.3zM53.0 47.1h1.3v1.3h-1.3zM27.9 78.3h1.3v1.3h-1.3zM31.8 69.6h1.3v1.3h-1.3zM15.4 73.8h1.3v1.3h-1.3zM30.7 77.2h1.3v1.3h-1.3zM25.3 77.9h1.3v1.3h-1.3zM18.6 76.2h1.3v1.3h-1.3zM34.4 87.9h1.3v1.3h-1.3zM29.6 89.5h1.3v1.3h-1.3zM17.7 77.6h1.3v1.3h-1.3zM23.0 83.1h1.3v1.3h-1.3zM25.8 81.5h1.3v1.3h-1.3zM20.0 72.0h1.3v1.3h-1.3zM28.9 78.1h1.3v1.3h-1.3zM31.9 81.5h1.3v1.3h-1.3zM26.2 85.9h1.3v1.3h-1.3zM18.0 87.5h1.3v1.3h-1.3zM16.2 85.7h1.3v1.3h-1.3zM21.0 87.8h1.3v1.3h-1.3zM88.3 29.2h1.3v1.3h-1.3zM82.5 28.7h1.3v1.3h-1.3zM91.3 36.9h1.3v1.3h-1.3zM88.2 30.2h1.3v1.3h-1.3z"/><path fill="#d42a1a" d="M81.2 141.0h1.3v1.3h-1.3zM108.9 134.8h1.3v1.3h-1.3zM108.3 121.8h1.3v1.3h-1.3zM87.2 126.5h1.3v1.3h-1.3zM66.5 142.9h1.3v1.3h-1.3zM90.5 125.3h1.3v1.3h-1.3zM100.0 123.5h1.3v1.3h-1.3zM92.0 111.2h1.3v1.3h-1.3zM71.8 142.4h1.3v1.3h-1.3zM84.8 112.9h1.3v1.3h-1.3zM117.4 122.3h1.3v1.3h-1.3zM61.8 147.2h1.3v1.3h-1.3zM68.5 135.1h1.3v1.3h-1.3zM56.9 148.1h1.3v1.3h-1.3zM71.0 156.5h1.3v1.3h-1.3zM68.5 148.9h1.3v1.3h-1.3zM111.7 129.0h1.3v1.3h-1.3zM110.8 78.9h1.3v1.3h-1.3zM93.2 76.5h1.3v1.3h-1.3zM84.2 72.4h1.3v1.3h-1.3zM123.3 65.8h1.3v1.3h-1.3zM106.7 66.4h1.3v1.3h-1.3zM108.5 61.9h1.3v1.3h-1.3zM84.8 85.1h1.3v1.3h-1.3zM128.2 106.5h1.3v1.3h-1.3zM114.4 85.1h1.3v1.3h-1.3zM109.9 98.5h1.3v1.3h-1.3zM124.4 101.7h1.3v1.3h-1.3zM125.3 83.7h1.3v1.3h-1.3zM112.9 85.8h1.3v1.3h-1.3zM113.6 91.5h1.3v1.3h-1.3zM103.8 98.3h1.3v1.3h-1.3zM107.7 95.3h1.3v1.3h-1.3zM108.2 90.7h1.3v1.3h-1.3zM116.6 89.5h1.3v1.3h-1.3zM126.9 99.7h1.3v1.3h-1.3zM105.5 106.0h1.3v1.3h-1.3zM113.5 90.4h1.3v1.3h-1.3zM122.9 108.8h1.3v1.3h-1.3zM128.2 101.4h1.3v1.3h-1.3zM106.2 93.0h1.3v1.3h-1.3zM104.9 94.7h1.3v1.3h-1.3zM41.8 92.8h1.3v1.3h-1.3zM38.3 95.2h1.3v1.3h-1.3zM28.6 126.6h1.3v1.3h-1.3zM40.6 138.7h1.3v1.3h-1.3zM29.9 104.1h1.3v1.3h-1.3zM28.2 107.1h1.3v1.3h-1.3zM145.1 93.5h1.3v1.3h-1.3zM126.1 128.9h1.3v1.3h-1.3zM74.2 100.9h1.3v1.3h-1.3zM70.3 100.5h1.3v1.3h-1.3zM83.7 106.5h1.3v1.3h-1.3zM139.6 93.2h1.3v1.3h-1.3zM33.5 82.1h1.3v1.3h-1.3zM33.9 72.0h1.3v1.3h-1.3z"/><path fill="#b01010" d="M124.8 85.2h1.3v1.3h-1.3zM142.2 82.6h1.3v1.3h-1.3z"/></g><g transform="translate(-0.5,160.5)"><use href="#allg" fill="#cbcbcb"/><path fill="#fcc894" d="M78.9 118.1h1.3v1.3h-1.3zM67.6 135.0h1.3v1.3h-1.3zM69.6 142.3h1.3v1.3h-1.3zM85.5 120.5h1.3v1.3h-1.3zM118.8 127.1h1.3v1.3h-1.3zM115.2 126.9h1.3v1.3h-1.3zM107.5 117.2h1.3v1.3h-1.3zM58.0 147.8h1.3v1.3h-1.3zM66.0 143.3h1.3v1.3h-1.3zM79.4 118.8h1.3v1.3h-1.3zM83.8 135.8h1.3v1.3h-1.3zM85.7 144.6h1.3v1.3h-1.3zM62.7 138.8h1.3v1.3h-1.3zM75.1 117.8h1.3v1.3h-1.3zM84.5 129.7h1.3v1.3h-1.3zM77.0 113.7h1.3v1.3h-1.3zM87.3 153.5h1.3v1.3h-1.3zM85.7 146.3h1.3v1.3h-1.3zM90.6 111.9h1.3v1.3h-1.3zM77.4 156.6h1.3v1.3h-1.3zM96.4 112.7h1.3v1.3h-1.3zM67.5 132.9h1.3v1.3h-1.3zM103.7 139.0h1.3v1.3h-1.3zM100.5 141.8h1.3v1.3h-1.3zM87.7 128.4h1.3v1.3h-1.3zM97.8 116.5h1.3v1.3h-1.3zM93.7 123.3h1.3v1.3h-1.3zM112.4 127.6h1.3v1.3h-1.3zM72.6 134.0h1.3v1.3h-1.3zM64.1 101.5h1.3v1.3h-1.3zM102.3 75.9h1.3v1.3h-1.3zM107.7 75.2h1.3v1.3h-1.3zM91.4 100.1h1.3v1.3h-1.3zM90.0 107.2h1.3v1.3h-1.3zM110.8 61.3h1.3v1.3h-1.3zM99.3 67.5h1.3v1.3h-1.3zM101.2 62.5h1.3v1.3h-1.3zM86.3 104.5h1.3v1.3h-1.3zM107.1 79.2h1.3v1.3h-1.3zM100.5 72.0h1.3v1.3h-1.3zM94.6 92.9h1.3v1.3h-1.3zM89.9 70.0h1.3v1.3h-1.3zM96.9 67.9h1.3v1.3h-1.3zM95.4 73.8h1.3v1.3h-1.3zM113.4 76.0h1.3v1.3h-1.3zM86.2 94.7h1.3v1.3h-1.3zM93.2 76.5h1.3v1.3h-1.3zM90.1 90.6h1.3v1.3h-1.3zM95.3 80.7h1.3v1.3h-1.3zM83.2 78.1h1.3v1.3h-1.3zM113.4 73.4h1.3v1.3h-1.3zM45.4 121.8h1.3v1.3h-1.3zM101.0 93.9h1.3v1.3h-1.3zM115.9 93.6h1.3v1.3h-1.3zM124.8 91.8h1.3v1.3h-1.3zM112.3 112.6h1.3v1.3h-1.3zM102.6 114.2h1.3v1.3h-1.3zM126.1 103.1h1.3v1.3h-1.3zM108.2 90.7h1.3v1.3h-1.3zM106.3 86.1h1.3v1.3h-1.3zM114.2 99.6h1.3v1.3h-1.3zM116.6 89.5h1.3v1.3h-1.3zM103.5 95.8h1.3v1.3h-1.3zM108.6 95.2h1.3v1.3h-1.3zM122.0 106.9h1.3v1.3h-1.3zM42.5 104.7h1.3v1.3h-1.3zM50.4 119.4h1.3v1.3h-1.3zM56.9 90.7h1.3v1.3h-1.3zM58.2 107.6h1.3v1.3h-1.3zM44.5 125.3h1.3v1.3h-1.3zM55.7 127.2h1.3v1.3h-1.3zM61.8 108.0h1.3v1.3h-1.3zM32.0 117.1h1.3v1.3h-1.3zM16.1 116.5h1.3v1.3h-1.3zM64.0 120.6h1.3v1.3h-1.3zM74.0 109.0h1.3v1.3h-1.3zM73.3 110.8h1.3v1.3h-1.3zM65.6 67.0h1.3v1.3h-1.3zM144.8 93.5h1.3v1.3h-1.3zM152.8 85.9h1.3v1.3h-1.3zM138.8 117.8h1.3v1.3h-1.3zM74.3 100.3h1.3v1.3h-1.3zM61.4 93.5h1.3v1.3h-1.3zM69.0 84.9h1.3v1.3h-1.3zM80.3 106.5h1.3v1.3h-1.3zM71.9 39.7h1.3v1.3h-1.3zM76.3 47.1h1.3v1.3h-1.3zM70.9 36.6h1.3v1.3h-1.3zM67.8 49.9h1.3v1.3h-1.3zM58.3 48.6h1.3v1.3h-1.3zM72.6 52.9h1.3v1.3h-1.3zM61.5 51.9h1.3v1.3h-1.3zM75.3 51.1h1.3v1.3h-1.3zM57.5 37.7h1.3v1.3h-1.3zM67.1 53.3h1.3v1.3h-1.3zM70.4 47.9h1.3v1.3h-1.3zM72.1 40.9h1.3v1.3h-1.3zM75.6 47.6h1.3v1.3h-1.3zM70.5 50.0h1.3v1.3h-1.3zM66.7 39.5h1.3v1.3h-1.3zM69.5 39.6h1.3v1.3h-1.3zM69.9 51.6h1.3v1.3h-1.3zM58.6 44.3h1.3v1.3h-1.3zM63.5 40.3h1.3v1.3h-1.3zM66.5 39.1h1.3v1.3h-1.3zM92.8 35.6h1.3v1.3h-1.3z"/><path fill="#f9a06c" d="M91.2 118.4h1.3v1.3h-1.3zM80.3 126.1h1.3v1.3h-1.3zM88.3 112.2h1.3v1.3h-1.3zM80.4 139.3h1.3v1.3h-1.3zM85.5 144.7h1.3v1.3h-1.3zM86.1 154.1h1.3v1.3h-1.3zM76.1 157.9h1.3v1.3h-1.3zM100.7 132.0h1.3v1.3h-1.3zM82.2 135.9h1.3v1.3h-1.3zM73.7 150.5h1.3v1.3h-1.3zM116.6 123.6h1.3v1.3h-1.3zM99.6 129.3h1.3v1.3h-1.3zM94.3 110.7h1.3v1.3h-1.3zM76.5 135.4h1.3v1.3h-1.3zM83.1 150.1h1.3v1.3h-1.3zM102.8 116.2h1.3v1.3h-1.3zM65.3 137.5h1.3v1.3h-1.3zM87.2 126.5h1.3v1.3h-1.3zM106.5 138.4h1.3v1.3h-1.3zM60.9 140.4h1.3v1.3h-1.3zM75.0 135.7h1.3v1.3h-1.3zM88.0 114.2h1.3v1.3h-1.3zM96.5 121.6h1.3v1.3h-1.3zM79.6 125.5h1.3v1.3h-1.3zM69.5 142.8h1.3v1.3h-1.3zM89.3 138.2h1.3v1.3h-1.3zM71.8 142.6h1.3v1.3h-1.3zM102.7 126.7h1.3v1.3h-1.3zM76.8 132.2h1.3v1.3h-1.3zM78.5 151.7h1.3v1.3h-1.3zM84.9 111.3h1.3v1.3h-1.3zM78.3 147.9h1.3v1.3h-1.3zM106.8 116.3h1.3v1.3h-1.3zM75.1 158.0h1.3v1.3h-1.3zM94.9 123.1h1.3v1.3h-1.3zM83.7 123.7h1.3v1.3h-1.3zM86.5 134.7h1.3v1.3h-1.3zM90.3 145.4h1.3v1.3h-1.3zM74.6 154.6h1.3v1.3h-1.3zM116.5 122.1h1.3v1.3h-1.3zM78.4 118.7h1.3v1.3h-1.3zM75.9 118.0h1.3v1.3h-1.3zM64.0 139.5h1.3v1.3h-1.3zM70.1 146.6h1.3v1.3h-1.3zM82.7 115.2h1.3v1.3h-1.3zM95.7 112.9h1.3v1.3h-1.3zM73.8 132.9h1.3v1.3h-1.3zM77.7 117.3h1.3v1.3h-1.3zM70.3 126.1h1.3v1.3h-1.3zM82.9 138.2h1.3v1.3h-1.3zM115.6 114.9h1.3v1.3h-1.3zM81.6 153.0h1.3v1.3h-1.3zM79.4 130.4h1.3v1.3h-1.3zM107.2 116.8h1.3v1.3h-1.3zM91.8 129.7h1.3v1.3h-1.3zM96.2 130.7h1.3v1.3h-1.3zM84.1 137.1h1.3v1.3h-1.3zM99.5 138.3h1.3v1.3h-1.3zM82.2 123.7h1.3v1.3h-1.3zM78.0 123.0h1.3v1.3h-1.3zM93.6 141.0h1.3v1.3h-1.3zM79.6 128.3h1.3v1.3h-1.3zM83.7 119.3h1.3v1.3h-1.3zM82.2 145.3h1.3v1.3h-1.3zM79.5 155.2h1.3v1.3h-1.3zM86.1 155.7h1.3v1.3h-1.3zM81.0 122.0h1.3v1.3h-1.3zM81.7 139.4h1.3v1.3h-1.3zM90.0 118.5h1.3v1.3h-1.3zM93.0 131.3h1.3v1.3h-1.3zM90.4 116.9h1.3v1.3h-1.3zM65.1 146.7h1.3v1.3h-1.3zM65.5 148.8h1.3v1.3h-1.3zM79.5 147.3h1.3v1.3h-1.3zM93.5 129.6h1.3v1.3h-1.3zM76.0 148.3h1.3v1.3h-1.3zM69.2 158.8h1.3v1.3h-1.3zM81.7 134.7h1.3v1.3h-1.3zM99.3 133.5h1.3v1.3h-1.3zM66.2 134.4h1.3v1.3h-1.3zM69.9 148.2h1.3v1.3h-1.3zM65.3 156.2h1.3v1.3h-1.3zM89.6 124.2h1.3v1.3h-1.3zM59.7 142.8h1.3v1.3h-1.3zM87.0 143.6h1.3v1.3h-1.3zM84.1 157.8h1.3v1.3h-1.3zM82.6 124.7h1.3v1.3h-1.3zM102.9 129.1h1.3v1.3h-1.3zM72.5 126.8h1.3v1.3h-1.3zM100.5 137.2h1.3v1.3h-1.3zM108.7 132.6h1.3v1.3h-1.3zM119.1 115.5h1.3v1.3h-1.3zM73.3 140.1h1.3v1.3h-1.3zM72.6 135.8h1.3v1.3h-1.3zM79.1 146.3h1.3v1.3h-1.3zM61.7 137.1h1.3v1.3h-1.3zM64.8 145.3h1.3v1.3h-1.3zM90.2 135.0h1.3v1.3h-1.3zM70.8 129.4h1.3v1.3h-1.3zM74.1 146.6h1.3v1.3h-1.3zM92.6 137.8h1.3v1.3h-1.3zM50.0 126.6h1.3v1.3h-1.3zM83.3 143.6h1.3v1.3h-1.3zM80.5 143.1h1.3v1.3h-1.3zM89.0 131.8h1.3v1.3h-1.3zM121.2 77.7h1.3v1.3h-1.3zM95.1 63.4h1.3v1.3h-1.3zM97.1 73.6h1.3v1.3h-1.3zM87.2 65.3h1.3v1.3h-1.3zM82.0 87.8h1.3v1.3h-1.3zM114.2 62.0h1.3v1.3h-1.3zM120.2 73.2h1.3v1.3h-1.3zM113.4 71.9h1.3v1.3h-1.3zM94.7 86.7h1.3v1.3h-1.3zM100.7 80.1h1.3v1.3h-1.3zM102.0 61.1h1.3v1.3h-1.3zM118.4 72.7h1.3v1.3h-1.3zM94.5 96.8h1.3v1.3h-1.3zM107.0 76.2h1.3v1.3h-1.3zM115.1 61.5h1.3v1.3h-1.3zM106.7 58.5h1.3v1.3h-1.3zM111.5 64.6h1.3v1.3h-1.3zM113.2 57.8h1.3v1.3h-1.3zM113.8 65.1h1.3v1.3h-1.3zM96.4 74.4h1.3v1.3h-1.3zM105.1 80.7h1.3v1.3h-1.3zM88.0 62.0h1.3v1.3h-1.3zM99.9 59.1h1.3v1.3h-1.3zM107.8 74.0h1.3v1.3h-1.3zM86.1 95.1h1.3v1.3h-1.3zM102.5 61.1h1.3v1.3h-1.3zM113.4 71.7h1.3v1.3h-1.3zM118.4 70.3h1.3v1.3h-1.3zM100.5 63.4h1.3v1.3h-1.3zM107.9 78.4h1.3v1.3h-1.3zM111.6 76.3h1.3v1.3h-1.3zM92.2 88.0h1.3v1.3h-1.3zM100.9 66.1h1.3v1.3h-1.3zM109.9 63.8h1.3v1.3h-1.3zM95.4 62.5h1.3v1.3h-1.3zM95.2 81.1h1.3v1.3h-1.3zM122.4 67.6h1.3v1.3h-1.3zM95.9 85.5h1.3v1.3h-1.3zM108.5 67.4h1.3v1.3h-1.3zM120.0 64.7h1.3v1.3h-1.3zM98.7 67.3h1.3v1.3h-1.3zM90.7 96.6h1.3v1.3h-1.3zM90.4 73.8h1.3v1.3h-1.3zM97.2 76.3h1.3v1.3h-1.3zM93.7 99.5h1.3v1.3h-1.3zM121.4 67.9h1.3v1.3h-1.3zM86.4 75.1h1.3v1.3h-1.3zM119.5 62.3h1.3v1.3h-1.3zM85.7 108.9h1.3v1.3h-1.3zM91.0 73.2h1.3v1.3h-1.3zM83.1 84.0h1.3v1.3h-1.3zM95.0 74.1h1.3v1.3h-1.3zM82.8 83.4h1.3v1.3h-1.3zM107.8 66.5h1.3v1.3h-1.3zM112.0 66.0h1.3v1.3h-1.3zM48.3 129.1h1.3v1.3h-1.3zM101.5 63.6h1.3v1.3h-1.3zM125.6 105.5h1.3v1.3h-1.3zM110.4 91.1h1.3v1.3h-1.3zM107.3 114.9h1.3v1.3h-1.3zM106.0 114.4h1.3v1.3h-1.3zM101.5 113.2h1.3v1.3h-1.3zM112.9 87.7h1.3v1.3h-1.3zM100.3 99.5h1.3v1.3h-1.3zM111.1 87.1h1.3v1.3h-1.3zM117.7 108.1h1.3v1.3h-1.3zM100.2 110.2h1.3v1.3h-1.3zM103.1 106.4h1.3v1.3h-1.3zM117.2 89.5h1.3v1.3h-1.3zM103.2 108.8h1.3v1.3h-1.3zM125.2 102.7h1.3v1.3h-1.3zM114.5 90.1h1.3v1.3h-1.3zM114.3 114.7h1.3v1.3h-1.3zM127.6 86.8h1.3v1.3h-1.3zM110.9 85.1h1.3v1.3h-1.3zM126.4 91.3h1.3v1.3h-1.3zM98.7 98.6h1.3v1.3h-1.3zM124.2 87.3h1.3v1.3h-1.3zM111.3 100.3h1.3v1.3h-1.3zM126.2 107.8h1.3v1.3h-1.3zM103.8 98.3h1.3v1.3h-1.3zM120.5 111.2h1.3v1.3h-1.3zM110.8 93.0h1.3v1.3h-1.3zM129.3 102.1h1.3v1.3h-1.3zM98.5 97.6h1.3v1.3h-1.3zM120.5 105.8h1.3v1.3h-1.3zM107.7 95.3h1.3v1.3h-1.3zM127.8 96.0h1.3v1.3h-1.3zM109.2 98.2h1.3v1.3h-1.3zM115.7 110.4h1.3v1.3h-1.3zM125.8 87.0h1.3v1.3h-1.3zM101.2 97.8h1.3v1.3h-1.3zM115.6 95.3h1.3v1.3h-1.3zM118.6 114.9h1.3v1.3h-1.3zM106.7 87.3h1.3v1.3h-1.3zM116.4 95.3h1.3v1.3h-1.3zM106.9 99.4h1.3v1.3h-1.3zM105.0 95.8h1.3v1.3h-1.3zM96.4 101.2h1.3v1.3h-1.3zM108.2 84.5h1.3v1.3h-1.3zM100.7 113.7h1.3v1.3h-1.3zM108.7 93.9h1.3v1.3h-1.3zM114.5 110.0h1.3v1.3h-1.3zM116.3 87.3h1.3v1.3h-1.3zM105.1 89.1h1.3v1.3h-1.3zM108.0 102.6h1.3v1.3h-1.3zM124.5 109.0h1.3v1.3h-1.3zM94.8 110.7h1.3v1.3h-1.3zM111.9 111.2h1.3v1.3h-1.3zM106.4 89.9h1.3v1.3h-1.3zM108.6 86.7h1.3v1.3h-1.3zM106.2 83.4h1.3v1.3h-1.3zM122.4 92.3h1.3v1.3h-1.3zM49.4 93.7h1.3v1.3h-1.3zM52.3 89.0h1.3v1.3h-1.3zM59.4 93.3h1.3v1.3h-1.3zM51.9 112.0h1.3v1.3h-1.3zM43.1 100.8h1.3v1.3h-1.3zM52.7 105.2h1.3v1.3h-1.3zM57.6 94.0h1.3v1.3h-1.3zM49.3 113.9h1.3v1.3h-1.3zM51.7 101.1h1.3v1.3h-1.3zM49.6 100.7h1.3v1.3h-1.3zM56.2 106.9h1.3v1.3h-1.3zM72.3 125.0h1.3v1.3h-1.3zM60.9 138.2h1.3v1.3h-1.3zM75.9 107.8h1.3v1.3h-1.3zM58.7 132.1h1.3v1.3h-1.3zM38.7 139.6h1.3v1.3h-1.3zM35.3 119.8h1.3v1.3h-1.3zM20.0 106.0h1.3v1.3h-1.3zM29.9 128.2h1.3v1.3h-1.3zM37.7 121.0h1.3v1.3h-1.3zM36.9 140.6h1.3v1.3h-1.3zM36.7 125.6h1.3v1.3h-1.3zM27.1 101.7h1.3v1.3h-1.3zM34.5 131.8h1.3v1.3h-1.3zM38.5 131.6h1.3v1.3h-1.3zM19.9 102.5h1.3v1.3h-1.3zM26.4 103.2h1.3v1.3h-1.3zM24.1 126.4h1.3v1.3h-1.3zM28.5 114.1h1.3v1.3h-1.3zM19.9 117.9h1.3v1.3h-1.3zM35.8 128.5h1.3v1.3h-1.3zM41.5 133.4h1.3v1.3h-1.3zM39.2 128.9h1.3v1.3h-1.3zM20.1 106.5h1.3v1.3h-1.3zM36.9 142.3h1.3v1.3h-1.3zM65.8 91.1h1.3v1.3h-1.3zM46.4 128.8h1.3v1.3h-1.3zM57.4 67.4h1.3v1.3h-1.3zM63.6 66.0h1.3v1.3h-1.3zM72.0 77.9h1.3v1.3h-1.3zM67.7 69.3h1.3v1.3h-1.3zM67.4 77.1h1.3v1.3h-1.3zM56.0 62.7h1.3v1.3h-1.3zM44.1 70.7h1.3v1.3h-1.3zM156.0 93.3h1.3v1.3h-1.3zM149.4 98.5h1.3v1.3h-1.3zM144.7 97.0h1.3v1.3h-1.3zM148.2 89.0h1.3v1.3h-1.3zM146.7 100.3h1.3v1.3h-1.3zM150.5 89.5h1.3v1.3h-1.3zM135.4 85.0h1.3v1.3h-1.3zM135.2 116.2h1.3v1.3h-1.3zM131.7 120.2h1.3v1.3h-1.3zM131.4 111.2h1.3v1.3h-1.3zM130.0 111.3h1.3v1.3h-1.3zM134.9 116.1h1.3v1.3h-1.3zM136.1 109.6h1.3v1.3h-1.3zM131.2 125.5h1.3v1.3h-1.3zM69.9 98.4h1.3v1.3h-1.3zM68.7 94.0h1.3v1.3h-1.3zM73.7 95.2h1.3v1.3h-1.3zM71.4 119.2h1.3v1.3h-1.3zM69.3 118.7h1.3v1.3h-1.3zM139.6 93.2h1.3v1.3h-1.3zM81.2 100.9h1.3v1.3h-1.3zM71.5 76.3h1.3v1.3h-1.3zM78.2 87.8h1.3v1.3h-1.3zM74.7 80.7h1.3v1.3h-1.3zM79.8 100.5h1.3v1.3h-1.3zM75.5 107.0h1.3v1.3h-1.3zM76.8 103.8h1.3v1.3h-1.3zM80.1 105.5h1.3v1.3h-1.3zM79.4 57.2h1.3v1.3h-1.3zM64.6 33.7h1.3v1.3h-1.3zM77.4 55.9h1.3v1.3h-1.3zM67.0 43.8h1.3v1.3h-1.3zM59.6 47.2h1.3v1.3h-1.3zM58.0 36.9h1.3v1.3h-1.3zM70.6 45.7h1.3v1.3h-1.3zM68.2 33.6h1.3v1.3h-1.3zM68.9 39.8h1.3v1.3h-1.3zM80.0 54.1h1.3v1.3h-1.3zM64.4 33.4h1.3v1.3h-1.3zM65.8 36.8h1.3v1.3h-1.3zM68.9 45.0h1.3v1.3h-1.3zM79.8 58.7h1.3v1.3h-1.3zM73.8 43.0h1.3v1.3h-1.3zM71.9 43.0h1.3v1.3h-1.3zM60.2 47.7h1.3v1.3h-1.3zM76.2 42.2h1.3v1.3h-1.3zM75.8 39.4h1.3v1.3h-1.3zM72.1 55.0h1.3v1.3h-1.3zM70.7 45.4h1.3v1.3h-1.3zM77.1 56.9h1.3v1.3h-1.3zM60.4 42.6h1.3v1.3h-1.3zM77.3 49.5h1.3v1.3h-1.3zM59.1 37.0h1.3v1.3h-1.3zM78.7 53.0h1.3v1.3h-1.3zM69.0 39.9h1.3v1.3h-1.3zM68.4 36.3h1.3v1.3h-1.3zM76.8 46.4h1.3v1.3h-1.3zM58.2 45.2h1.3v1.3h-1.3zM82.1 58.1h1.3v1.3h-1.3zM70.3 44.3h1.3v1.3h-1.3zM64.4 50.9h1.3v1.3h-1.3zM67.7 44.4h1.3v1.3h-1.3zM77.1 57.5h1.3v1.3h-1.3zM70.2 37.6h1.3v1.3h-1.3zM75.3 53.5h1.3v1.3h-1.3zM74.9 55.2h1.3v1.3h-1.3zM76.2 45.9h1.3v1.3h-1.3zM80.0 48.1h1.3v1.3h-1.3zM70.2 46.9h1.3v1.3h-1.3zM62.0 50.2h1.3v1.3h-1.3zM67.7 44.7h1.3v1.3h-1.3zM84.9 53.7h1.3v1.3h-1.3zM63.0 39.0h1.3v1.3h-1.3zM69.6 36.9h1.3v1.3h-1.3zM59.2 33.3h1.3v1.3h-1.3zM67.3 44.4h1.3v1.3h-1.3zM68.2 51.7h1.3v1.3h-1.3zM59.9 35.4h1.3v1.3h-1.3zM74.6 43.0h1.3v1.3h-1.3zM69.3 48.6h1.3v1.3h-1.3zM66.1 48.6h1.3v1.3h-1.3zM57.3 42.3h1.3v1.3h-1.3zM72.4 47.3h1.3v1.3h-1.3zM71.5 41.3h1.3v1.3h-1.3zM75.3 45.9h1.3v1.3h-1.3zM78.7 57.2h1.3v1.3h-1.3zM66.6 39.9h1.3v1.3h-1.3zM57.9 41.2h1.3v1.3h-1.3zM73.7 39.5h1.3v1.3h-1.3zM61.0 51.2h1.3v1.3h-1.3zM76.7 47.8h1.3v1.3h-1.3zM63.1 52.0h1.3v1.3h-1.3zM60.2 32.3h1.3v1.3h-1.3zM76.4 49.7h1.3v1.3h-1.3zM78.1 54.0h1.3v1.3h-1.3zM57.4 45.7h1.3v1.3h-1.3zM66.7 42.2h1.3v1.3h-1.3zM78.2 56.9h1.3v1.3h-1.3zM72.4 39.5h1.3v1.3h-1.3zM76.0 57.2h1.3v1.3h-1.3zM67.8 39.0h1.3v1.3h-1.3zM77.9 52.9h1.3v1.3h-1.3zM75.2 49.8h1.3v1.3h-1.3zM66.7 53.2h1.3v1.3h-1.3zM64.9 42.3h1.3v1.3h-1.3zM22.6 67.1h1.3v1.3h-1.3zM31.8 69.6h1.3v1.3h-1.3zM17.9 73.6h1.3v1.3h-1.3zM33.5 75.8h1.3v1.3h-1.3zM28.5 71.0h1.3v1.3h-1.3zM30.9 77.2h1.3v1.3h-1.3zM26.4 69.3h1.3v1.3h-1.3zM25.6 74.2h1.3v1.3h-1.3zM26.6 64.8h1.3v1.3h-1.3zM93.8 33.5h1.3v1.3h-1.3zM91.1 43.2h1.3v1.3h-1.3zM88.1 31.8h1.3v1.3h-1.3zM93.6 32.9h1.3v1.3h-1.3zM98.9 39.7h1.3v1.3h-1.3zM94.1 40.7h1.3v1.3h-1.3zM93.6 42.1h1.3v1.3h-1.3zM84.3 31.1h1.3v1.3h-1.3zM96.3 40.6h1.3v1.3h-1.3zM90.8 34.5h1.3v1.3h-1.3zM95.9 33.8h1.3v1.3h-1.3zM94.8 42.0h1.3v1.3h-1.3zM90.5 42.5h1.3v1.3h-1.3zM91.8 44.5h1.3v1.3h-1.3zM96.2 40.6h1.3v1.3h-1.3zM95.4 36.6h1.3v1.3h-1.3zM90.5 33.1h1.3v1.3h-1.3zM95.9 41.1h1.3v1.3h-1.3zM87.7 31.0h1.3v1.3h-1.3z"/><path fill="#f47a48" d="M83.9 112.8h1.3v1.3h-1.3zM93.0 118.8h1.3v1.3h-1.3zM111.1 116.6h1.3v1.3h-1.3zM102.8 114.8h1.3v1.3h-1.3zM100.5 113.1h1.3v1.3h-1.3zM108.1 123.7h1.3v1.3h-1.3zM90.7 123.4h1.3v1.3h-1.3zM88.7 138.0h1.3v1.3h-1.3zM94.2 115.3h1.3v1.3h-1.3zM66.7 139.7h1.3v1.3h-1.3zM96.9 140.0h1.3v1.3h-1.3zM79.4 139.4h1.3v1.3h-1.3zM103.8 138.6h1.3v1.3h-1.3zM86.9 146.6h1.3v1.3h-1.3zM74.1 137.6h1.3v1.3h-1.3zM97.0 147.5h1.3v1.3h-1.3zM113.6 124.2h1.3v1.3h-1.3zM72.0 127.6h1.3v1.3h-1.3zM97.7 129.0h1.3v1.3h-1.3zM82.1 121.3h1.3v1.3h-1.3zM85.3 118.5h1.3v1.3h-1.3zM103.9 138.5h1.3v1.3h-1.3zM85.7 109.5h1.3v1.3h-1.3zM92.1 148.2h1.3v1.3h-1.3zM92.0 111.2h1.3v1.3h-1.3zM96.2 122.2h1.3v1.3h-1.3zM95.4 143.3h1.3v1.3h-1.3zM71.8 142.4h1.3v1.3h-1.3zM107.4 134.2h1.3v1.3h-1.3zM94.4 143.1h1.3v1.3h-1.3zM106.9 124.7h1.3v1.3h-1.3zM68.2 136.8h1.3v1.3h-1.3zM94.0 120.8h1.3v1.3h-1.3zM106.7 136.4h1.3v1.3h-1.3zM117.4 122.3h1.3v1.3h-1.3zM106.7 120.3h1.3v1.3h-1.3zM97.9 119.8h1.3v1.3h-1.3zM85.7 157.4h1.3v1.3h-1.3zM84.5 152.2h1.3v1.3h-1.3zM94.0 132.3h1.3v1.3h-1.3zM73.6 128.3h1.3v1.3h-1.3zM93.7 150.9h1.3v1.3h-1.3zM100.8 129.0h1.3v1.3h-1.3zM97.4 131.4h1.3v1.3h-1.3zM94.4 151.9h1.3v1.3h-1.3zM69.9 132.3h1.3v1.3h-1.3zM71.7 150.9h1.3v1.3h-1.3zM68.6 144.4h1.3v1.3h-1.3zM69.4 142.5h1.3v1.3h-1.3zM115.5 119.8h1.3v1.3h-1.3zM78.2 110.9h1.3v1.3h-1.3zM110.9 120.8h1.3v1.3h-1.3zM84.4 147.6h1.3v1.3h-1.3zM56.9 148.1h1.3v1.3h-1.3zM81.2 136.1h1.3v1.3h-1.3zM84.5 148.7h1.3v1.3h-1.3zM102.0 71.8h1.3v1.3h-1.3zM90.5 71.3h1.3v1.3h-1.3zM92.8 85.1h1.3v1.3h-1.3zM113.1 76.8h1.3v1.3h-1.3zM110.4 65.9h1.3v1.3h-1.3zM110.3 68.1h1.3v1.3h-1.3zM87.2 83.8h1.3v1.3h-1.3zM110.4 76.3h1.3v1.3h-1.3zM89.2 99.5h1.3v1.3h-1.3zM94.7 75.2h1.3v1.3h-1.3zM85.5 99.9h1.3v1.3h-1.3zM110.5 75.3h1.3v1.3h-1.3zM113.7 62.0h1.3v1.3h-1.3zM91.1 100.6h1.3v1.3h-1.3zM89.2 67.7h1.3v1.3h-1.3zM118.9 77.8h1.3v1.3h-1.3zM118.7 63.4h1.3v1.3h-1.3zM86.7 74.9h1.3v1.3h-1.3zM93.9 75.9h1.3v1.3h-1.3zM95.2 65.3h1.3v1.3h-1.3zM115.6 71.4h1.3v1.3h-1.3zM88.9 81.5h1.3v1.3h-1.3zM91.4 92.9h1.3v1.3h-1.3zM94.7 70.5h1.3v1.3h-1.3zM99.8 80.8h1.3v1.3h-1.3zM103.8 68.0h1.3v1.3h-1.3zM90.0 101.3h1.3v1.3h-1.3zM100.5 62.2h1.3v1.3h-1.3zM114.9 67.9h1.3v1.3h-1.3zM93.9 86.3h1.3v1.3h-1.3zM93.3 97.0h1.3v1.3h-1.3zM120.4 74.9h1.3v1.3h-1.3zM91.1 60.5h1.3v1.3h-1.3zM121.4 69.1h1.3v1.3h-1.3zM89.7 103.2h1.3v1.3h-1.3zM103.7 58.9h1.3v1.3h-1.3zM107.0 79.2h1.3v1.3h-1.3zM93.8 81.4h1.3v1.3h-1.3zM52.3 141.5h1.3v1.3h-1.3zM56.0 123.0h1.3v1.3h-1.3zM50.5 125.2h1.3v1.3h-1.3zM85.9 96.1h1.3v1.3h-1.3zM86.3 104.1h1.3v1.3h-1.3zM125.7 103.4h1.3v1.3h-1.3zM122.8 103.2h1.3v1.3h-1.3zM121.2 85.2h1.3v1.3h-1.3zM116.8 104.2h1.3v1.3h-1.3zM94.4 108.8h1.3v1.3h-1.3zM97.3 97.3h1.3v1.3h-1.3zM105.4 94.2h1.3v1.3h-1.3zM124.2 105.0h1.3v1.3h-1.3zM105.6 99.1h1.3v1.3h-1.3zM117.8 99.5h1.3v1.3h-1.3zM100.3 102.2h1.3v1.3h-1.3zM94.6 110.4h1.3v1.3h-1.3zM108.0 89.3h1.3v1.3h-1.3zM115.4 86.9h1.3v1.3h-1.3zM112.3 113.1h1.3v1.3h-1.3zM114.7 113.3h1.3v1.3h-1.3zM108.5 102.5h1.3v1.3h-1.3zM119.7 106.3h1.3v1.3h-1.3zM114.1 97.2h1.3v1.3h-1.3zM113.5 98.3h1.3v1.3h-1.3zM105.5 94.5h1.3v1.3h-1.3zM108.4 84.8h1.3v1.3h-1.3zM97.7 114.0h1.3v1.3h-1.3zM128.6 91.6h1.3v1.3h-1.3zM111.5 87.0h1.3v1.3h-1.3zM119.1 88.1h1.3v1.3h-1.3zM123.4 108.4h1.3v1.3h-1.3zM104.1 94.5h1.3v1.3h-1.3zM105.7 113.2h1.3v1.3h-1.3zM104.2 95.1h1.3v1.3h-1.3zM126.9 99.7h1.3v1.3h-1.3zM128.1 102.6h1.3v1.3h-1.3zM102.1 111.1h1.3v1.3h-1.3zM121.2 110.2h1.3v1.3h-1.3zM123.8 104.4h1.3v1.3h-1.3zM114.4 109.8h1.3v1.3h-1.3zM116.5 97.9h1.3v1.3h-1.3zM104.3 93.3h1.3v1.3h-1.3zM122.3 87.2h1.3v1.3h-1.3zM120.0 96.6h1.3v1.3h-1.3zM100.2 94.1h1.3v1.3h-1.3zM99.8 95.6h1.3v1.3h-1.3zM55.3 100.5h1.3v1.3h-1.3zM58.3 95.0h1.3v1.3h-1.3zM58.3 99.7h1.3v1.3h-1.3zM60.0 96.6h1.3v1.3h-1.3zM70.0 119.8h1.3v1.3h-1.3zM61.3 135.7h1.3v1.3h-1.3zM54.1 134.3h1.3v1.3h-1.3zM40.4 121.3h1.3v1.3h-1.3zM40.0 125.6h1.3v1.3h-1.3zM21.9 111.6h1.3v1.3h-1.3zM34.9 124.3h1.3v1.3h-1.3zM25.6 118.4h1.3v1.3h-1.3zM27.2 103.9h1.3v1.3h-1.3zM42.9 136.8h1.3v1.3h-1.3zM23.3 106.6h1.3v1.3h-1.3zM36.7 131.9h1.3v1.3h-1.3zM29.5 111.8h1.3v1.3h-1.3zM32.8 112.6h1.3v1.3h-1.3zM44.2 134.3h1.3v1.3h-1.3zM14.2 108.2h1.3v1.3h-1.3zM22.3 116.5h1.3v1.3h-1.3zM39.9 140.3h1.3v1.3h-1.3zM21.9 108.7h1.3v1.3h-1.3zM31.9 123.1h1.3v1.3h-1.3zM66.4 119.3h1.3v1.3h-1.3zM62.2 103.3h1.3v1.3h-1.3zM77.2 107.6h1.3v1.3h-1.3zM76.8 107.4h1.3v1.3h-1.3zM69.8 111.4h1.3v1.3h-1.3zM71.4 90.0h1.3v1.3h-1.3zM65.6 122.5h1.3v1.3h-1.3zM52.4 130.6h1.3v1.3h-1.3zM42.5 81.5h1.3v1.3h-1.3zM67.9 65.4h1.3v1.3h-1.3zM57.7 64.8h1.3v1.3h-1.3zM47.7 74.8h1.3v1.3h-1.3zM64.4 65.0h1.3v1.3h-1.3zM53.8 67.0h1.3v1.3h-1.3zM63.9 63.6h1.3v1.3h-1.3zM76.5 99.6h1.3v1.3h-1.3zM141.6 85.4h1.3v1.3h-1.3zM151.0 90.0h1.3v1.3h-1.3zM156.0 89.9h1.3v1.3h-1.3zM148.3 99.0h1.3v1.3h-1.3zM139.1 91.5h1.3v1.3h-1.3zM159.0 87.1h1.3v1.3h-1.3zM148.2 101.8h1.3v1.3h-1.3zM141.9 91.4h1.3v1.3h-1.3zM149.6 96.3h1.3v1.3h-1.3zM137.6 84.4h1.3v1.3h-1.3zM140.8 88.6h1.3v1.3h-1.3zM131.0 127.3h1.3v1.3h-1.3zM143.3 111.8h1.3v1.3h-1.3zM136.4 121.1h1.3v1.3h-1.3zM132.5 123.2h1.3v1.3h-1.3zM138.2 118.2h1.3v1.3h-1.3zM131.1 111.3h1.3v1.3h-1.3zM127.0 127.8h1.3v1.3h-1.3zM137.7 117.9h1.3v1.3h-1.3zM144.2 115.0h1.3v1.3h-1.3zM126.4 130.1h1.3v1.3h-1.3zM134.4 112.9h1.3v1.3h-1.3zM136.8 115.7h1.3v1.3h-1.3zM133.8 121.1h1.3v1.3h-1.3zM66.0 97.6h1.3v1.3h-1.3zM71.0 92.7h1.3v1.3h-1.3zM64.6 98.7h1.3v1.3h-1.3zM58.7 136.7h1.3v1.3h-1.3zM55.4 125.7h1.3v1.3h-1.3zM79.4 85.4h1.3v1.3h-1.3zM71.0 91.9h1.3v1.3h-1.3zM75.2 89.2h1.3v1.3h-1.3zM74.0 42.0h1.3v1.3h-1.3zM60.1 43.4h1.3v1.3h-1.3zM66.5 33.5h1.3v1.3h-1.3zM64.5 50.6h1.3v1.3h-1.3zM75.1 49.6h1.3v1.3h-1.3zM57.1 40.8h1.3v1.3h-1.3zM71.9 54.0h1.3v1.3h-1.3zM80.1 56.9h1.3v1.3h-1.3zM70.4 44.6h1.3v1.3h-1.3zM79.9 45.8h1.3v1.3h-1.3zM78.5 49.1h1.3v1.3h-1.3zM80.8 53.3h1.3v1.3h-1.3zM74.8 48.5h1.3v1.3h-1.3zM68.8 52.6h1.3v1.3h-1.3zM74.4 43.7h1.3v1.3h-1.3zM58.5 42.8h1.3v1.3h-1.3zM65.3 34.8h1.3v1.3h-1.3zM56.1 39.1h1.3v1.3h-1.3zM82.1 59.6h1.3v1.3h-1.3zM73.9 39.7h1.3v1.3h-1.3zM67.5 46.6h1.3v1.3h-1.3zM69.5 48.0h1.3v1.3h-1.3zM80.9 52.4h1.3v1.3h-1.3zM72.0 39.2h1.3v1.3h-1.3zM71.5 46.5h1.3v1.3h-1.3zM76.9 49.2h1.3v1.3h-1.3zM85.2 53.1h1.3v1.3h-1.3zM70.2 40.7h1.3v1.3h-1.3zM76.7 44.4h1.3v1.3h-1.3zM75.3 42.3h1.3v1.3h-1.3zM81.4 60.3h1.3v1.3h-1.3zM81.4 57.4h1.3v1.3h-1.3zM84.8 53.9h1.3v1.3h-1.3zM75.4 56.6h1.3v1.3h-1.3zM66.2 35.2h1.3v1.3h-1.3zM72.2 38.9h1.3v1.3h-1.3zM63.4 46.0h1.3v1.3h-1.3zM66.4 49.5h1.3v1.3h-1.3zM71.4 39.1h1.3v1.3h-1.3zM69.9 38.4h1.3v1.3h-1.3zM59.9 40.8h1.3v1.3h-1.3zM60.5 34.6h1.3v1.3h-1.3zM68.4 40.6h1.3v1.3h-1.3zM67.5 42.9h1.3v1.3h-1.3zM62.7 45.2h1.3v1.3h-1.3zM55.6 45.0h1.3v1.3h-1.3zM81.8 55.3h1.3v1.3h-1.3zM75.9 53.8h1.3v1.3h-1.3zM75.4 47.8h1.3v1.3h-1.3zM71.6 39.9h1.3v1.3h-1.3zM79.8 51.2h1.3v1.3h-1.3zM57.0 42.7h1.3v1.3h-1.3zM75.3 44.3h1.3v1.3h-1.3zM72.7 44.6h1.3v1.3h-1.3zM58.3 42.5h1.3v1.3h-1.3zM79.7 52.0h1.3v1.3h-1.3zM64.7 31.8h1.3v1.3h-1.3zM80.7 52.9h1.3v1.3h-1.3zM63.6 45.1h1.3v1.3h-1.3zM57.7 44.3h1.3v1.3h-1.3zM61.4 48.3h1.3v1.3h-1.3zM68.8 43.1h1.3v1.3h-1.3zM70.1 43.5h1.3v1.3h-1.3zM70.8 41.8h1.3v1.3h-1.3zM70.5 48.9h1.3v1.3h-1.3zM77.1 42.9h1.3v1.3h-1.3zM68.0 39.0h1.3v1.3h-1.3zM80.0 45.5h1.3v1.3h-1.3zM67.4 44.4h1.3v1.3h-1.3zM76.7 53.6h1.3v1.3h-1.3zM62.5 32.6h1.3v1.3h-1.3zM77.6 60.6h1.3v1.3h-1.3zM69.0 35.4h1.3v1.3h-1.3zM66.4 48.2h1.3v1.3h-1.3zM69.5 35.6h1.3v1.3h-1.3zM71.8 44.8h1.3v1.3h-1.3zM78.2 50.8h1.3v1.3h-1.3zM59.0 33.5h1.3v1.3h-1.3zM70.8 41.0h1.3v1.3h-1.3zM68.8 49.3h1.3v1.3h-1.3zM59.3 51.1h1.3v1.3h-1.3zM61.4 52.8h1.3v1.3h-1.3zM72.2 49.5h1.3v1.3h-1.3zM67.3 50.1h1.3v1.3h-1.3zM68.3 38.4h1.3v1.3h-1.3zM83.5 58.9h1.3v1.3h-1.3zM76.8 42.9h1.3v1.3h-1.3zM84.1 54.2h1.3v1.3h-1.3zM68.0 42.6h1.3v1.3h-1.3zM64.4 32.7h1.3v1.3h-1.3zM73.6 41.3h1.3v1.3h-1.3zM66.8 52.3h1.3v1.3h-1.3zM75.5 41.0h1.3v1.3h-1.3zM59.0 38.9h1.3v1.3h-1.3zM78.8 55.2h1.3v1.3h-1.3zM65.9 48.4h1.3v1.3h-1.3zM72.9 48.9h1.3v1.3h-1.3zM68.4 42.0h1.3v1.3h-1.3zM71.2 45.5h1.3v1.3h-1.3zM68.9 49.7h1.3v1.3h-1.3zM68.2 36.3h1.3v1.3h-1.3zM68.5 33.9h1.3v1.3h-1.3zM17.3 72.0h1.3v1.3h-1.3zM16.3 64.6h1.3v1.3h-1.3zM30.0 76.9h1.3v1.3h-1.3zM26.1 71.6h1.3v1.3h-1.3zM30.5 78.6h1.3v1.3h-1.3zM19.4 66.7h1.3v1.3h-1.3zM15.4 73.8h1.3v1.3h-1.3zM27.6 82.6h1.3v1.3h-1.3zM29.8 72.8h1.3v1.3h-1.3zM18.0 72.6h1.3v1.3h-1.3zM30.6 82.9h1.3v1.3h-1.3zM19.3 63.0h1.3v1.3h-1.3zM25.0 67.7h1.3v1.3h-1.3zM26.1 70.9h1.3v1.3h-1.3zM21.6 71.1h1.3v1.3h-1.3zM25.1 83.2h1.3v1.3h-1.3zM29.1 72.1h1.3v1.3h-1.3zM32.6 87.7h1.3v1.3h-1.3zM15.7 69.1h1.3v1.3h-1.3zM29.1 77.9h1.3v1.3h-1.3zM23.7 63.7h1.3v1.3h-1.3zM22.4 71.5h1.3v1.3h-1.3zM28.9 78.3h1.3v1.3h-1.3zM23.7 65.5h1.3v1.3h-1.3zM24.0 65.4h1.3v1.3h-1.3zM18.9 79.7h1.3v1.3h-1.3zM17.7 77.6h1.3v1.3h-1.3zM29.8 66.0h1.3v1.3h-1.3zM16.4 73.2h1.3v1.3h-1.3zM22.6 80.7h1.3v1.3h-1.3zM27.9 71.9h1.3v1.3h-1.3zM23.7 71.9h1.3v1.3h-1.3zM29.7 70.3h1.3v1.3h-1.3zM23.6 66.3h1.3v1.3h-1.3zM28.4 72.4h1.3v1.3h-1.3zM17.5 63.8h1.3v1.3h-1.3zM21.1 71.9h1.3v1.3h-1.3zM20.0 74.7h1.3v1.3h-1.3zM24.4 77.3h1.3v1.3h-1.3zM31.9 81.5h1.3v1.3h-1.3zM17.7 88.8h1.3v1.3h-1.3zM16.4 85.3h1.3v1.3h-1.3zM8.9 89.1h1.3v1.3h-1.3zM12.0 66.9h1.3v1.3h-1.3zM86.9 32.2h1.3v1.3h-1.3zM93.2 39.9h1.3v1.3h-1.3zM96.0 41.2h1.3v1.3h-1.3zM91.5 34.4h1.3v1.3h-1.3zM93.9 35.1h1.3v1.3h-1.3zM91.5 34.8h1.3v1.3h-1.3zM96.1 38.1h1.3v1.3h-1.3zM82.6 29.0h1.3v1.3h-1.3zM91.8 37.7h1.3v1.3h-1.3zM94.0 38.8h1.3v1.3h-1.3zM83.7 28.8h1.3v1.3h-1.3zM92.1 34.2h1.3v1.3h-1.3zM90.1 44.4h1.3v1.3h-1.3zM83.3 31.1h1.3v1.3h-1.3zM96.5 38.7h1.3v1.3h-1.3zM90.1 40.3h1.3v1.3h-1.3zM93.3 40.3h1.3v1.3h-1.3zM89.2 33.7h1.3v1.3h-1.3zM96.4 41.1h1.3v1.3h-1.3zM82.8 29.7h1.3v1.3h-1.3zM96.7 38.2h1.3v1.3h-1.3zM91.2 41.3h1.3v1.3h-1.3zM94.3 42.0h1.3v1.3h-1.3zM82.5 31.5h1.3v1.3h-1.3zM91.7 40.5h1.3v1.3h-1.3zM89.5 32.2h1.3v1.3h-1.3zM88.3 31.2h1.3v1.3h-1.3zM92.4 31.3h1.3v1.3h-1.3zM94.6 40.2h1.3v1.3h-1.3zM84.5 31.9h1.3v1.3h-1.3zM85.1 31.7h1.3v1.3h-1.3zM91.3 38.7h1.3v1.3h-1.3zM95.1 40.7h1.3v1.3h-1.3zM94.7 38.0h1.3v1.3h-1.3zM95.8 35.4h1.3v1.3h-1.3zM94.4 34.7h1.3v1.3h-1.3zM94.4 41.5h1.3v1.3h-1.3zM89.5 28.6h1.3v1.3h-1.3zM93.4 43.4h1.3v1.3h-1.3zM96.8 41.9h1.3v1.3h-1.3zM92.8 34.8h1.3v1.3h-1.3zM98.2 38.8h1.3v1.3h-1.3zM90.5 32.8h1.3v1.3h-1.3zM94.6 42.5h1.3v1.3h-1.3zM92.3 34.5h1.3v1.3h-1.3zM94.0 38.8h1.3v1.3h-1.3zM89.0 30.6h1.3v1.3h-1.3zM88.2 30.2h1.3v1.3h-1.3zM92.2 35.7h1.3v1.3h-1.3zM93.9 37.5h1.3v1.3h-1.3zM91.3 29.3h1.3v1.3h-1.3zM91.3 43.3h1.3v1.3h-1.3zM93.1 35.8h1.3v1.3h-1.3zM88.2 32.3h1.3v1.3h-1.3zM94.2 31.8h1.3v1.3h-1.3zM90.9 37.9h1.3v1.3h-1.3zM84.0 31.5h1.3v1.3h-1.3zM91.8 39.8h1.3v1.3h-1.3zM98.4 38.1h1.3v1.3h-1.3zM92.9 40.7h1.3v1.3h-1.3zM93.9 46.6h1.3v1.3h-1.3zM95.1 33.4h1.3v1.3h-1.3zM86.2 36.4h1.3v1.3h-1.3z"/><path fill="#e8502e" d="M116.9 122.0h1.3v1.3h-1.3zM77.4 121.2h1.3v1.3h-1.3zM115.4 130.1h1.3v1.3h-1.3zM68.3 141.9h1.3v1.3h-1.3zM74.7 151.1h1.3v1.3h-1.3zM101.9 140.3h1.3v1.3h-1.3zM89.7 132.1h1.3v1.3h-1.3zM66.9 145.3h1.3v1.3h-1.3zM113.1 127.5h1.3v1.3h-1.3zM83.6 98.8h1.3v1.3h-1.3zM110.8 64.8h1.3v1.3h-1.3zM89.7 105.3h1.3v1.3h-1.3zM122.3 66.4h1.3v1.3h-1.3zM92.0 91.0h1.3v1.3h-1.3zM98.1 65.5h1.3v1.3h-1.3zM94.2 82.5h1.3v1.3h-1.3zM105.9 82.8h1.3v1.3h-1.3zM120.0 73.9h1.3v1.3h-1.3zM109.1 73.9h1.3v1.3h-1.3zM128.2 106.5h1.3v1.3h-1.3zM93.6 108.9h1.3v1.3h-1.3zM101.4 108.8h1.3v1.3h-1.3zM112.9 85.8h1.3v1.3h-1.3zM116.0 110.5h1.3v1.3h-1.3zM111.4 96.4h1.3v1.3h-1.3zM124.8 85.2h1.3v1.3h-1.3zM106.2 115.4h1.3v1.3h-1.3zM118.4 92.2h1.3v1.3h-1.3zM35.7 122.4h1.3v1.3h-1.3zM28.9 104.1h1.3v1.3h-1.3zM60.3 64.1h1.3v1.3h-1.3zM48.7 91.9h1.3v1.3h-1.3zM56.0 84.5h1.3v1.3h-1.3zM138.7 89.0h1.3v1.3h-1.3zM144.2 102.4h1.3v1.3h-1.3zM141.9 88.0h1.3v1.3h-1.3zM136.1 110.1h1.3v1.3h-1.3zM81.9 103.8h1.3v1.3h-1.3zM69.4 37.4h1.3v1.3h-1.3zM73.7 52.9h1.3v1.3h-1.3zM76.7 49.6h1.3v1.3h-1.3zM61.4 45.5h1.3v1.3h-1.3zM74.2 45.1h1.3v1.3h-1.3zM73.0 49.1h1.3v1.3h-1.3zM67.3 41.1h1.3v1.3h-1.3zM76.1 54.8h1.3v1.3h-1.3zM67.9 33.0h1.3v1.3h-1.3zM71.9 49.6h1.3v1.3h-1.3zM80.5 48.1h1.3v1.3h-1.3zM56.3 48.6h1.3v1.3h-1.3zM56.5 39.4h1.3v1.3h-1.3zM73.0 51.2h1.3v1.3h-1.3zM59.2 42.0h1.3v1.3h-1.3zM68.3 39.0h1.3v1.3h-1.3zM61.2 41.4h1.3v1.3h-1.3zM22.8 70.8h1.3v1.3h-1.3zM20.6 70.3h1.3v1.3h-1.3zM16.8 63.8h1.3v1.3h-1.3zM29.4 76.0h1.3v1.3h-1.3zM21.1 80.0h1.3v1.3h-1.3zM19.0 67.9h1.3v1.3h-1.3zM25.3 77.9h1.3v1.3h-1.3zM19.8 64.6h1.3v1.3h-1.3zM25.5 83.8h1.3v1.3h-1.3zM33.3 82.3h1.3v1.3h-1.3zM26.7 67.3h1.3v1.3h-1.3zM15.7 68.8h1.3v1.3h-1.3zM26.1 78.3h1.3v1.3h-1.3zM25.3 66.3h1.3v1.3h-1.3zM20.2 70.3h1.3v1.3h-1.3zM24.9 88.2h1.3v1.3h-1.3zM30.0 78.2h1.3v1.3h-1.3zM17.4 86.9h1.3v1.3h-1.3zM10.5 87.5h1.3v1.3h-1.3zM16.2 85.7h1.3v1.3h-1.3zM19.4 87.0h1.3v1.3h-1.3zM89.4 32.7h1.3v1.3h-1.3zM87.8 32.4h1.3v1.3h-1.3zM93.3 36.8h1.3v1.3h-1.3zM92.9 39.1h1.3v1.3h-1.3zM95.4 38.8h1.3v1.3h-1.3zM94.6 38.9h1.3v1.3h-1.3zM86.7 28.3h1.3v1.3h-1.3zM88.3 29.2h1.3v1.3h-1.3zM95.6 37.9h1.3v1.3h-1.3zM92.2 44.5h1.3v1.3h-1.3zM96.6 38.5h1.3v1.3h-1.3zM96.4 35.0h1.3v1.3h-1.3zM93.5 31.8h1.3v1.3h-1.3zM93.1 33.0h1.3v1.3h-1.3zM94.2 36.9h1.3v1.3h-1.3zM91.5 36.5h1.3v1.3h-1.3zM96.3 36.4h1.3v1.3h-1.3zM94.7 39.5h1.3v1.3h-1.3zM95.5 37.4h1.3v1.3h-1.3zM97.0 34.6h1.3v1.3h-1.3zM91.0 40.9h1.3v1.3h-1.3zM87.8 28.7h1.3v1.3h-1.3zM94.2 41.8h1.3v1.3h-1.3zM95.8 38.6h1.3v1.3h-1.3zM88.6 29.7h1.3v1.3h-1.3zM90.1 31.5h1.3v1.3h-1.3zM96.8 38.7h1.3v1.3h-1.3zM92.0 42.9h1.3v1.3h-1.3z"/><path fill="#d42a1a" d="M82.6 56.9h1.3v1.3h-1.3zM58.9 39.1h1.3v1.3h-1.3zM90.2 34.4h1.3v1.3h-1.3zM95.7 43.7h1.3v1.3h-1.3zM94.4 37.2h1.3v1.3h-1.3zM84.2 31.3h1.3v1.3h-1.3zM92.6 45.7h1.3v1.3h-1.3zM91.5 36.8h1.3v1.3h-1.3zM95.1 37.6h1.3v1.3h-1.3zM88.8 30.6h1.3v1.3h-1.3zM92.6 43.5h1.3v1.3h-1.3zM93.5 40.3h1.3v1.3h-1.3z"/><path fill="#b01010" d="M91.6 37.5h1.3v1.3h-1.3z"/></g><g transform="translate(163,160.5)"><use href="#allg" fill="#cbcbcb"/><path fill="#fcc894" d="M73.0 129.0h1.3v1.3h-1.3zM76.9 149.3h1.3v1.3h-1.3zM79.4 118.8h1.3v1.3h-1.3zM92.6 139.3h1.3v1.3h-1.3zM111.6 76.3h1.3v1.3h-1.3zM129.2 99.0h1.3v1.3h-1.3zM44.1 95.8h1.3v1.3h-1.3zM16.6 106.8h1.3v1.3h-1.3zM13.7 110.6h1.3v1.3h-1.3zM53.6 87.0h1.3v1.3h-1.3zM63.5 99.4h1.3v1.3h-1.3zM16.4 73.2h1.3v1.3h-1.3zM87.8 28.7h1.3v1.3h-1.3z"/><path fill="#f9a06c" d="M88.7 138.0h1.3v1.3h-1.3zM99.3 117.4h1.3v1.3h-1.3zM84.4 119.6h1.3v1.3h-1.3zM82.7 123.2h1.3v1.3h-1.3zM96.2 123.8h1.3v1.3h-1.3zM101.6 131.8h1.3v1.3h-1.3zM66.9 151.6h1.3v1.3h-1.3zM81.2 138.9h1.3v1.3h-1.3zM87.7 128.4h1.3v1.3h-1.3zM105.1 121.7h1.3v1.3h-1.3zM72.5 126.8h1.3v1.3h-1.3zM93.0 131.3h1.3v1.3h-1.3zM82.2 139.8h1.3v1.3h-1.3zM112.0 123.6h1.3v1.3h-1.3zM95.1 60.1h1.3v1.3h-1.3zM94.0 73.8h1.3v1.3h-1.3zM87.2 83.8h1.3v1.3h-1.3zM113.9 64.7h1.3v1.3h-1.3zM110.4 67.7h1.3v1.3h-1.3zM116.1 60.9h1.3v1.3h-1.3zM92.9 75.3h1.3v1.3h-1.3zM93.0 78.3h1.3v1.3h-1.3zM94.2 61.6h1.3v1.3h-1.3zM102.1 69.2h1.3v1.3h-1.3zM122.5 77.6h1.3v1.3h-1.3zM107.2 65.8h1.3v1.3h-1.3zM91.2 80.6h1.3v1.3h-1.3zM113.5 63.8h1.3v1.3h-1.3zM112.2 64.9h1.3v1.3h-1.3zM110.5 71.0h1.3v1.3h-1.3zM123.3 68.6h1.3v1.3h-1.3zM83.9 84.9h1.3v1.3h-1.3zM118.9 70.3h1.3v1.3h-1.3zM93.4 67.4h1.3v1.3h-1.3zM108.0 69.8h1.3v1.3h-1.3zM83.2 97.9h1.3v1.3h-1.3zM51.7 130.8h1.3v1.3h-1.3zM99.7 96.2h1.3v1.3h-1.3zM114.4 85.1h1.3v1.3h-1.3zM117.2 107.0h1.3v1.3h-1.3zM115.8 103.0h1.3v1.3h-1.3zM124.4 101.7h1.3v1.3h-1.3zM98.4 97.2h1.3v1.3h-1.3zM105.7 113.2h1.3v1.3h-1.3zM104.7 94.9h1.3v1.3h-1.3zM103.5 95.8h1.3v1.3h-1.3zM102.4 111.9h1.3v1.3h-1.3zM111.9 111.2h1.3v1.3h-1.3zM54.8 93.3h1.3v1.3h-1.3zM58.4 101.5h1.3v1.3h-1.3zM58.2 102.7h1.3v1.3h-1.3zM41.9 90.1h1.3v1.3h-1.3zM35.6 92.9h1.3v1.3h-1.3zM13.0 106.6h1.3v1.3h-1.3zM40.4 121.3h1.3v1.3h-1.3zM40.6 138.7h1.3v1.3h-1.3zM45.4 78.2h1.3v1.3h-1.3zM54.3 66.2h1.3v1.3h-1.3zM47.5 80.1h1.3v1.3h-1.3zM43.8 74.1h1.3v1.3h-1.3zM48.5 120.0h1.3v1.3h-1.3zM154.1 92.4h1.3v1.3h-1.3zM145.9 83.2h1.3v1.3h-1.3zM146.0 89.7h1.3v1.3h-1.3zM142.2 82.6h1.3v1.3h-1.3zM152.8 85.9h1.3v1.3h-1.3zM141.0 85.2h1.3v1.3h-1.3zM141.2 124.1h1.3v1.3h-1.3zM131.4 124.4h1.3v1.3h-1.3zM136.4 121.1h1.3v1.3h-1.3zM129.4 121.6h1.3v1.3h-1.3zM141.7 122.7h1.3v1.3h-1.3zM70.5 98.9h1.3v1.3h-1.3zM81.4 54.4h1.3v1.3h-1.3zM62.7 45.2h1.3v1.3h-1.3zM69.1 35.7h1.3v1.3h-1.3zM66.8 52.3h1.3v1.3h-1.3zM22.6 80.7h1.3v1.3h-1.3zM26.8 65.8h1.3v1.3h-1.3zM25.8 81.5h1.3v1.3h-1.3zM24.4 77.3h1.3v1.3h-1.3zM95.4 38.8h1.3v1.3h-1.3zM93.9 34.1h1.3v1.3h-1.3zM91.0 40.9h1.3v1.3h-1.3z"/><path fill="#f47a48" d="M83.7 126.2h1.3v1.3h-1.3zM82.2 159.2h1.3v1.3h-1.3zM109.4 137.7h1.3v1.3h-1.3zM73.1 154.3h1.3v1.3h-1.3zM74.0 145.7h1.3v1.3h-1.3zM72.3 127.4h1.3v1.3h-1.3zM92.0 131.2h1.3v1.3h-1.3zM121.3 64.5h1.3v1.3h-1.3zM103.0 65.8h1.3v1.3h-1.3zM112.6 71.6h1.3v1.3h-1.3zM115.4 68.3h1.3v1.3h-1.3zM88.7 65.6h1.3v1.3h-1.3zM96.9 88.4h1.3v1.3h-1.3zM116.1 61.8h1.3v1.3h-1.3zM110.0 67.4h1.3v1.3h-1.3zM89.2 78.0h1.3v1.3h-1.3zM123.2 69.3h1.3v1.3h-1.3zM86.3 104.5h1.3v1.3h-1.3zM120.1 74.4h1.3v1.3h-1.3zM98.2 70.3h1.3v1.3h-1.3zM93.9 84.5h1.3v1.3h-1.3zM102.1 63.7h1.3v1.3h-1.3zM118.0 59.7h1.3v1.3h-1.3zM91.4 92.9h1.3v1.3h-1.3zM103.8 68.0h1.3v1.3h-1.3zM95.4 84.7h1.3v1.3h-1.3zM98.0 79.1h1.3v1.3h-1.3zM83.9 105.6h1.3v1.3h-1.3zM100.9 84.8h1.3v1.3h-1.3zM121.4 69.1h1.3v1.3h-1.3zM97.8 71.8h1.3v1.3h-1.3zM111.6 67.7h1.3v1.3h-1.3zM69.9 112.8h1.3v1.3h-1.3zM115.7 85.9h1.3v1.3h-1.3zM120.4 87.1h1.3v1.3h-1.3zM105.0 90.3h1.3v1.3h-1.3zM113.4 93.1h1.3v1.3h-1.3zM129.3 102.1h1.3v1.3h-1.3zM117.2 100.5h1.3v1.3h-1.3zM106.7 87.3h1.3v1.3h-1.3zM110.5 102.5h1.3v1.3h-1.3zM121.6 82.2h1.3v1.3h-1.3zM123.8 102.4h1.3v1.3h-1.3zM61.2 99.6h1.3v1.3h-1.3zM36.3 94.3h1.3v1.3h-1.3zM24.1 126.4h1.3v1.3h-1.3zM31.0 134.4h1.3v1.3h-1.3zM48.0 127.0h1.3v1.3h-1.3zM52.4 130.6h1.3v1.3h-1.3zM60.3 64.1h1.3v1.3h-1.3zM47.6 129.4h1.3v1.3h-1.3zM150.2 92.8h1.3v1.3h-1.3zM155.6 91.4h1.3v1.3h-1.3zM140.7 91.0h1.3v1.3h-1.3zM131.4 120.6h1.3v1.3h-1.3zM130.8 119.9h1.3v1.3h-1.3zM142.2 120.9h1.3v1.3h-1.3zM138.2 118.2h1.3v1.3h-1.3zM141.1 113.3h1.3v1.3h-1.3zM71.0 92.7h1.3v1.3h-1.3zM72.6 95.2h1.3v1.3h-1.3zM74.4 108.0h1.3v1.3h-1.3zM52.6 126.4h1.3v1.3h-1.3zM77.5 88.9h1.3v1.3h-1.3zM59.6 47.2h1.3v1.3h-1.3zM69.5 40.0h1.3v1.3h-1.3zM67.3 41.1h1.3v1.3h-1.3zM67.3 44.4h1.3v1.3h-1.3zM73.8 43.4h1.3v1.3h-1.3zM72.4 47.3h1.3v1.3h-1.3zM68.8 49.3h1.3v1.3h-1.3zM23.0 83.1h1.3v1.3h-1.3zM8.9 89.1h1.3v1.3h-1.3zM91.5 34.8h1.3v1.3h-1.3zM91.1 43.2h1.3v1.3h-1.3zM94.4 37.2h1.3v1.3h-1.3zM90.8 32.1h1.3v1.3h-1.3zM87.4 29.5h1.3v1.3h-1.3z"/><path fill="#e8502e" d="M97.3 128.0h1.3v1.3h-1.3zM90.4 116.9h1.3v1.3h-1.3zM94.3 63.1h1.3v1.3h-1.3zM118.8 63.4h1.3v1.3h-1.3zM112.4 61.5h1.3v1.3h-1.3zM81.8 84.2h1.3v1.3h-1.3zM98.1 65.5h1.3v1.3h-1.3zM104.7 73.9h1.3v1.3h-1.3zM116.0 64.9h1.3v1.3h-1.3zM116.9 113.3h1.3v1.3h-1.3zM118.7 83.3h1.3v1.3h-1.3zM54.3 96.0h1.3v1.3h-1.3zM145.7 94.5h1.3v1.3h-1.3zM143.2 88.6h1.3v1.3h-1.3zM133.4 115.3h1.3v1.3h-1.3zM130.4 119.2h1.3v1.3h-1.3zM137.8 118.7h1.3v1.3h-1.3zM133.0 109.6h1.3v1.3h-1.3zM57.5 48.4h1.3v1.3h-1.3zM94.9 39.8h1.3v1.3h-1.3zM96.8 38.7h1.3v1.3h-1.3z"/></g><g transform="translate(325,160.5)"><use href="#allg" fill="#cbcbcb"/><path fill="#fcc894" d="M108.3 121.8h1.3v1.3h-1.3zM76.3 115.6h1.3v1.3h-1.3zM82.2 135.9h1.3v1.3h-1.3zM66.3 137.0h1.3v1.3h-1.3zM66.3 141.8h1.3v1.3h-1.3zM59.7 145.1h1.3v1.3h-1.3zM67.4 134.1h1.3v1.3h-1.3zM70.1 146.6h1.3v1.3h-1.3zM95.5 124.4h1.3v1.3h-1.3zM80.4 112.4h1.3v1.3h-1.3zM107.8 122.2h1.3v1.3h-1.3zM96.5 118.6h1.3v1.3h-1.3zM96.2 130.7h1.3v1.3h-1.3zM111.7 125.0h1.3v1.3h-1.3zM62.4 136.1h1.3v1.3h-1.3zM59.7 142.8h1.3v1.3h-1.3zM64.4 138.0h1.3v1.3h-1.3zM107.5 69.3h1.3v1.3h-1.3zM91.4 100.1h1.3v1.3h-1.3zM99.2 83.2h1.3v1.3h-1.3zM113.3 72.1h1.3v1.3h-1.3zM106.2 65.7h1.3v1.3h-1.3zM106.1 79.4h1.3v1.3h-1.3zM113.8 65.1h1.3v1.3h-1.3zM106.6 68.5h1.3v1.3h-1.3zM106.3 69.7h1.3v1.3h-1.3zM85.3 105.2h1.3v1.3h-1.3zM94.2 90.0h1.3v1.3h-1.3zM92.7 81.0h1.3v1.3h-1.3zM108.5 67.4h1.3v1.3h-1.3zM93.6 71.2h1.3v1.3h-1.3zM91.5 63.6h1.3v1.3h-1.3zM97.8 88.8h1.3v1.3h-1.3zM123.1 72.2h1.3v1.3h-1.3zM105.2 66.7h1.3v1.3h-1.3zM108.8 77.5h1.3v1.3h-1.3zM64.9 117.2h1.3v1.3h-1.3zM117.6 113.6h1.3v1.3h-1.3zM95.6 110.2h1.3v1.3h-1.3zM116.2 89.7h1.3v1.3h-1.3zM109.1 107.0h1.3v1.3h-1.3zM106.1 91.1h1.3v1.3h-1.3zM105.8 99.4h1.3v1.3h-1.3zM112.4 85.1h1.3v1.3h-1.3zM114.3 114.7h1.3v1.3h-1.3zM119.7 106.3h1.3v1.3h-1.3zM124.2 87.3h1.3v1.3h-1.3zM127.0 102.4h1.3v1.3h-1.3zM119.0 98.6h1.3v1.3h-1.3zM121.5 107.1h1.3v1.3h-1.3zM105.5 94.5h1.3v1.3h-1.3zM108.4 84.8h1.3v1.3h-1.3zM110.0 114.9h1.3v1.3h-1.3zM112.2 87.3h1.3v1.3h-1.3zM122.0 106.9h1.3v1.3h-1.3zM106.2 83.4h1.3v1.3h-1.3zM59.4 93.3h1.3v1.3h-1.3zM51.9 114.1h1.3v1.3h-1.3zM53.3 118.3h1.3v1.3h-1.3zM54.8 108.8h1.3v1.3h-1.3zM39.4 99.4h1.3v1.3h-1.3zM49.8 111.3h1.3v1.3h-1.3zM53.2 112.9h1.3v1.3h-1.3zM65.4 100.9h1.3v1.3h-1.3zM63.4 119.6h1.3v1.3h-1.3zM57.1 104.6h1.3v1.3h-1.3zM31.1 130.1h1.3v1.3h-1.3zM30.2 117.8h1.3v1.3h-1.3zM41.1 137.6h1.3v1.3h-1.3zM34.2 123.7h1.3v1.3h-1.3zM18.4 100.0h1.3v1.3h-1.3zM19.9 121.3h1.3v1.3h-1.3zM35.5 125.4h1.3v1.3h-1.3zM17.4 101.2h1.3v1.3h-1.3zM34.1 124.8h1.3v1.3h-1.3zM33.4 119.5h1.3v1.3h-1.3zM31.5 121.1h1.3v1.3h-1.3zM65.5 120.5h1.3v1.3h-1.3zM58.6 123.6h1.3v1.3h-1.3zM47.4 129.0h1.3v1.3h-1.3zM53.6 65.5h1.3v1.3h-1.3zM69.2 75.6h1.3v1.3h-1.3zM155.3 86.2h1.3v1.3h-1.3zM138.7 89.0h1.3v1.3h-1.3zM153.1 88.3h1.3v1.3h-1.3zM140.8 87.8h1.3v1.3h-1.3zM152.6 96.8h1.3v1.3h-1.3zM147.7 99.4h1.3v1.3h-1.3zM149.8 90.1h1.3v1.3h-1.3zM150.5 89.5h1.3v1.3h-1.3zM153.1 95.8h1.3v1.3h-1.3zM141.0 121.8h1.3v1.3h-1.3zM137.3 116.4h1.3v1.3h-1.3zM129.1 123.6h1.3v1.3h-1.3zM137.7 117.9h1.3v1.3h-1.3zM130.0 111.3h1.3v1.3h-1.3zM71.8 92.9h1.3v1.3h-1.3zM81.1 94.0h1.3v1.3h-1.3zM69.8 104.9h1.3v1.3h-1.3zM80.8 94.1h1.3v1.3h-1.3zM44.2 123.8h1.3v1.3h-1.3zM61.2 134.4h1.3v1.3h-1.3zM135.4 91.2h1.3v1.3h-1.3zM76.0 90.6h1.3v1.3h-1.3zM64.5 50.6h1.3v1.3h-1.3zM78.5 49.1h1.3v1.3h-1.3zM67.1 53.3h1.3v1.3h-1.3zM55.6 45.0h1.3v1.3h-1.3zM72.2 50.8h1.3v1.3h-1.3zM81.6 56.3h1.3v1.3h-1.3zM58.4 44.7h1.3v1.3h-1.3zM28.0 65.4h1.3v1.3h-1.3zM17.7 88.8h1.3v1.3h-1.3zM91.5 34.4h1.3v1.3h-1.3zM89.2 33.7h1.3v1.3h-1.3zM95.7 34.2h1.3v1.3h-1.3zM95.4 36.6h1.3v1.3h-1.3zM92.2 35.7h1.3v1.3h-1.3zM97.4 41.8h1.3v1.3h-1.3z"/><path fill="#f9a06c" d="M78.9 118.1h1.3v1.3h-1.3zM88.3 112.2h1.3v1.3h-1.3zM73.0 129.0h1.3v1.3h-1.3zM70.5 130.0h1.3v1.3h-1.3zM70.9 124.0h1.3v1.3h-1.3zM83.8 110.9h1.3v1.3h-1.3zM90.5 154.7h1.3v1.3h-1.3zM88.8 128.0h1.3v1.3h-1.3zM59.1 138.4h1.3v1.3h-1.3zM108.1 123.7h1.3v1.3h-1.3zM90.7 123.4h1.3v1.3h-1.3zM94.2 115.3h1.3v1.3h-1.3zM69.1 157.7h1.3v1.3h-1.3zM82.1 128.5h1.3v1.3h-1.3zM87.5 125.0h1.3v1.3h-1.3zM97.0 147.5h1.3v1.3h-1.3zM104.0 123.0h1.3v1.3h-1.3zM86.4 124.2h1.3v1.3h-1.3zM99.3 117.4h1.3v1.3h-1.3zM82.1 121.3h1.3v1.3h-1.3zM65.7 146.7h1.3v1.3h-1.3zM76.3 139.9h1.3v1.3h-1.3zM97.7 143.7h1.3v1.3h-1.3zM100.6 114.6h1.3v1.3h-1.3zM114.0 124.8h1.3v1.3h-1.3zM93.9 124.3h1.3v1.3h-1.3zM97.2 117.9h1.3v1.3h-1.3zM71.8 154.0h1.3v1.3h-1.3zM116.9 129.6h1.3v1.3h-1.3zM77.9 136.5h1.3v1.3h-1.3zM86.9 132.2h1.3v1.3h-1.3zM83.8 135.8h1.3v1.3h-1.3zM117.3 128.0h1.3v1.3h-1.3zM75.5 148.3h1.3v1.3h-1.3zM73.6 155.6h1.3v1.3h-1.3zM95.9 119.7h1.3v1.3h-1.3zM84.8 112.9h1.3v1.3h-1.3zM74.2 136.0h1.3v1.3h-1.3zM83.7 109.3h1.3v1.3h-1.3zM79.2 135.4h1.3v1.3h-1.3zM72.0 131.9h1.3v1.3h-1.3zM85.2 139.0h1.3v1.3h-1.3zM85.3 114.7h1.3v1.3h-1.3zM104.4 140.7h1.3v1.3h-1.3zM98.6 122.0h1.3v1.3h-1.3zM104.4 128.6h1.3v1.3h-1.3zM98.1 130.7h1.3v1.3h-1.3zM79.3 115.4h1.3v1.3h-1.3zM66.5 139.7h1.3v1.3h-1.3zM82.3 137.6h1.3v1.3h-1.3zM113.1 119.1h1.3v1.3h-1.3zM99.5 142.3h1.3v1.3h-1.3zM65.1 146.7h1.3v1.3h-1.3zM79.2 136.2h1.3v1.3h-1.3zM111.1 124.1h1.3v1.3h-1.3zM78.0 132.4h1.3v1.3h-1.3zM104.7 117.3h1.3v1.3h-1.3zM115.8 116.8h1.3v1.3h-1.3zM88.3 134.1h1.3v1.3h-1.3zM108.8 121.7h1.3v1.3h-1.3zM75.1 141.5h1.3v1.3h-1.3zM121.4 124.7h1.3v1.3h-1.3zM115.5 119.8h1.3v1.3h-1.3zM110.9 120.8h1.3v1.3h-1.3zM59.1 144.1h1.3v1.3h-1.3zM89.7 132.1h1.3v1.3h-1.3zM62.8 144.7h1.3v1.3h-1.3zM97.7 143.0h1.3v1.3h-1.3zM79.8 113.0h1.3v1.3h-1.3zM92.9 115.2h1.3v1.3h-1.3zM72.2 119.6h1.3v1.3h-1.3zM84.5 148.7h1.3v1.3h-1.3zM74.1 146.6h1.3v1.3h-1.3zM75.3 131.9h1.3v1.3h-1.3zM81.8 136.0h1.3v1.3h-1.3zM59.7 120.1h1.3v1.3h-1.3zM61.0 126.4h1.3v1.3h-1.3zM59.1 127.1h1.3v1.3h-1.3zM90.1 79.1h1.3v1.3h-1.3zM89.9 102.3h1.3v1.3h-1.3zM114.2 59.7h1.3v1.3h-1.3zM100.0 79.6h1.3v1.3h-1.3zM103.0 65.8h1.3v1.3h-1.3zM109.6 63.5h1.3v1.3h-1.3zM90.5 71.3h1.3v1.3h-1.3zM81.2 84.1h1.3v1.3h-1.3zM116.9 59.5h1.3v1.3h-1.3zM95.8 65.7h1.3v1.3h-1.3zM123.4 70.1h1.3v1.3h-1.3zM109.5 69.2h1.3v1.3h-1.3zM88.0 68.2h1.3v1.3h-1.3zM118.4 72.7h1.3v1.3h-1.3zM90.2 68.7h1.3v1.3h-1.3zM106.6 77.7h1.3v1.3h-1.3zM81.1 98.7h1.3v1.3h-1.3zM106.7 58.5h1.3v1.3h-1.3zM123.2 69.3h1.3v1.3h-1.3zM91.6 88.6h1.3v1.3h-1.3zM100.1 71.2h1.3v1.3h-1.3zM97.0 83.7h1.3v1.3h-1.3zM96.9 67.9h1.3v1.3h-1.3zM88.3 86.6h1.3v1.3h-1.3zM87.1 71.1h1.3v1.3h-1.3zM95.4 73.8h1.3v1.3h-1.3zM85.5 67.9h1.3v1.3h-1.3zM119.9 62.7h1.3v1.3h-1.3zM123.3 65.7h1.3v1.3h-1.3zM108.3 75.4h1.3v1.3h-1.3zM88.0 92.1h1.3v1.3h-1.3zM87.6 68.6h1.3v1.3h-1.3zM95.4 62.5h1.3v1.3h-1.3zM89.7 66.2h1.3v1.3h-1.3zM93.9 86.3h1.3v1.3h-1.3zM104.4 71.7h1.3v1.3h-1.3zM95.9 85.5h1.3v1.3h-1.3zM83.9 84.9h1.3v1.3h-1.3zM94.3 93.4h1.3v1.3h-1.3zM119.5 62.3h1.3v1.3h-1.3zM90.7 63.2h1.3v1.3h-1.3zM105.9 82.8h1.3v1.3h-1.3zM88.4 69.4h1.3v1.3h-1.3zM119.4 62.6h1.3v1.3h-1.3zM120.2 72.7h1.3v1.3h-1.3zM108.0 69.8h1.3v1.3h-1.3zM93.0 104.8h1.3v1.3h-1.3zM78.4 101.9h1.3v1.3h-1.3zM59.4 131.5h1.3v1.3h-1.3zM54.9 139.8h1.3v1.3h-1.3zM50.5 125.2h1.3v1.3h-1.3zM51.9 121.5h1.3v1.3h-1.3zM118.0 76.4h1.3v1.3h-1.3zM103.3 105.7h1.3v1.3h-1.3zM110.4 91.1h1.3v1.3h-1.3zM122.8 103.2h1.3v1.3h-1.3zM121.2 85.2h1.3v1.3h-1.3zM118.3 84.2h1.3v1.3h-1.3zM107.5 92.7h1.3v1.3h-1.3zM124.2 98.2h1.3v1.3h-1.3zM119.6 106.8h1.3v1.3h-1.3zM111.0 94.8h1.3v1.3h-1.3zM96.9 110.4h1.3v1.3h-1.3zM105.9 94.6h1.3v1.3h-1.3zM97.6 98.1h1.3v1.3h-1.3zM117.2 89.5h1.3v1.3h-1.3zM124.6 95.7h1.3v1.3h-1.3zM108.0 88.2h1.3v1.3h-1.3zM105.4 90.8h1.3v1.3h-1.3zM123.7 108.9h1.3v1.3h-1.3zM108.7 107.8h1.3v1.3h-1.3zM113.4 93.1h1.3v1.3h-1.3zM98.4 97.2h1.3v1.3h-1.3zM101.1 111.5h1.3v1.3h-1.3zM96.2 100.6h1.3v1.3h-1.3zM102.6 114.2h1.3v1.3h-1.3zM97.7 114.0h1.3v1.3h-1.3zM98.5 97.6h1.3v1.3h-1.3zM120.5 105.8h1.3v1.3h-1.3zM115.0 106.4h1.3v1.3h-1.3zM98.7 110.9h1.3v1.3h-1.3zM108.1 104.6h1.3v1.3h-1.3zM109.4 95.8h1.3v1.3h-1.3zM105.7 113.2h1.3v1.3h-1.3zM107.1 85.6h1.3v1.3h-1.3zM99.3 103.0h1.3v1.3h-1.3zM120.1 102.3h1.3v1.3h-1.3zM116.1 84.1h1.3v1.3h-1.3zM124.8 85.2h1.3v1.3h-1.3zM103.5 95.8h1.3v1.3h-1.3zM106.2 115.4h1.3v1.3h-1.3zM109.9 109.4h1.3v1.3h-1.3zM127.3 102.7h1.3v1.3h-1.3zM126.5 105.5h1.3v1.3h-1.3zM116.3 87.3h1.3v1.3h-1.3zM118.8 107.4h1.3v1.3h-1.3zM108.6 86.7h1.3v1.3h-1.3zM107.2 92.4h1.3v1.3h-1.3zM108.8 93.6h1.3v1.3h-1.3zM56.9 93.7h1.3v1.3h-1.3zM54.3 120.7h1.3v1.3h-1.3zM40.8 94.9h1.3v1.3h-1.3zM57.5 98.6h1.3v1.3h-1.3zM50.4 119.4h1.3v1.3h-1.3zM41.5 91.8h1.3v1.3h-1.3zM56.0 90.9h1.3v1.3h-1.3zM48.0 93.8h1.3v1.3h-1.3zM48.3 101.0h1.3v1.3h-1.3zM49.6 131.2h1.3v1.3h-1.3zM81.9 105.7h1.3v1.3h-1.3zM54.7 120.2h1.3v1.3h-1.3zM40.0 122.4h1.3v1.3h-1.3zM34.3 116.7h1.3v1.3h-1.3zM10.9 106.0h1.3v1.3h-1.3zM24.3 102.4h1.3v1.3h-1.3zM13.7 110.6h1.3v1.3h-1.3zM17.1 111.4h1.3v1.3h-1.3zM29.1 106.5h1.3v1.3h-1.3zM40.1 130.6h1.3v1.3h-1.3zM38.2 132.0h1.3v1.3h-1.3zM24.7 121.3h1.3v1.3h-1.3zM33.1 120.6h1.3v1.3h-1.3zM23.9 123.5h1.3v1.3h-1.3zM18.6 99.3h1.3v1.3h-1.3zM35.0 133.3h1.3v1.3h-1.3zM41.5 126.2h1.3v1.3h-1.3zM25.1 124.2h1.3v1.3h-1.3zM42.6 138.1h1.3v1.3h-1.3zM38.5 122.1h1.3v1.3h-1.3zM36.9 118.4h1.3v1.3h-1.3zM31.0 134.4h1.3v1.3h-1.3zM19.9 100.8h1.3v1.3h-1.3zM78.1 99.9h1.3v1.3h-1.3zM64.0 120.6h1.3v1.3h-1.3zM62.2 103.3h1.3v1.3h-1.3zM73.8 96.3h1.3v1.3h-1.3zM65.6 122.5h1.3v1.3h-1.3zM58.0 126.6h1.3v1.3h-1.3zM56.5 122.2h1.3v1.3h-1.3zM46.6 132.8h1.3v1.3h-1.3zM34.2 114.2h1.3v1.3h-1.3zM57.0 62.7h1.3v1.3h-1.3zM46.5 70.5h1.3v1.3h-1.3zM45.6 80.3h1.3v1.3h-1.3zM45.7 80.5h1.3v1.3h-1.3zM66.6 85.0h1.3v1.3h-1.3zM49.5 70.4h1.3v1.3h-1.3zM57.9 62.0h1.3v1.3h-1.3zM44.9 82.3h1.3v1.3h-1.3zM70.4 76.2h1.3v1.3h-1.3zM69.6 74.1h1.3v1.3h-1.3zM56.9 62.6h1.3v1.3h-1.3zM49.7 68.1h1.3v1.3h-1.3zM59.9 64.0h1.3v1.3h-1.3zM48.7 82.1h1.3v1.3h-1.3zM62.9 85.8h1.3v1.3h-1.3zM69.9 70.7h1.3v1.3h-1.3zM76.2 103.4h1.3v1.3h-1.3zM48.2 127.8h1.3v1.3h-1.3zM54.1 86.0h1.3v1.3h-1.3zM46.6 71.8h1.3v1.3h-1.3zM151.2 89.1h1.3v1.3h-1.3zM143.8 99.5h1.3v1.3h-1.3zM139.3 88.1h1.3v1.3h-1.3zM158.2 93.2h1.3v1.3h-1.3zM139.5 93.3h1.3v1.3h-1.3zM146.0 89.7h1.3v1.3h-1.3zM138.0 92.0h1.3v1.3h-1.3zM144.8 93.5h1.3v1.3h-1.3zM151.0 90.0h1.3v1.3h-1.3zM139.0 91.4h1.3v1.3h-1.3zM137.8 86.1h1.3v1.3h-1.3zM143.3 92.4h1.3v1.3h-1.3zM150.2 92.8h1.3v1.3h-1.3zM140.1 86.7h1.3v1.3h-1.3zM158.2 88.7h1.3v1.3h-1.3zM138.2 83.3h1.3v1.3h-1.3zM154.2 90.1h1.3v1.3h-1.3zM157.5 94.2h1.3v1.3h-1.3zM145.0 95.9h1.3v1.3h-1.3zM145.6 88.0h1.3v1.3h-1.3zM141.3 96.1h1.3v1.3h-1.3zM135.6 120.9h1.3v1.3h-1.3zM143.5 115.6h1.3v1.3h-1.3zM129.9 130.4h1.3v1.3h-1.3zM134.7 113.5h1.3v1.3h-1.3zM126.5 127.8h1.3v1.3h-1.3zM126.1 128.9h1.3v1.3h-1.3zM129.8 120.8h1.3v1.3h-1.3zM135.4 117.7h1.3v1.3h-1.3zM130.4 119.2h1.3v1.3h-1.3zM124.4 126.2h1.3v1.3h-1.3zM129.2 130.0h1.3v1.3h-1.3zM131.6 119.2h1.3v1.3h-1.3zM134.2 121.1h1.3v1.3h-1.3zM133.8 121.1h1.3v1.3h-1.3zM69.9 98.4h1.3v1.3h-1.3zM70.3 100.4h1.3v1.3h-1.3zM72.1 98.2h1.3v1.3h-1.3zM70.5 98.9h1.3v1.3h-1.3zM63.5 99.4h1.3v1.3h-1.3zM74.4 97.0h1.3v1.3h-1.3zM63.2 93.7h1.3v1.3h-1.3zM67.0 104.9h1.3v1.3h-1.3zM78.6 102.1h1.3v1.3h-1.3zM81.9 103.8h1.3v1.3h-1.3zM53.1 127.7h1.3v1.3h-1.3zM50.6 123.7h1.3v1.3h-1.3zM77.0 79.0h1.3v1.3h-1.3zM76.2 87.7h1.3v1.3h-1.3zM74.5 84.0h1.3v1.3h-1.3zM76.3 103.4h1.3v1.3h-1.3zM77.4 55.9h1.3v1.3h-1.3zM71.2 52.5h1.3v1.3h-1.3zM78.6 50.1h1.3v1.3h-1.3zM80.1 56.9h1.3v1.3h-1.3zM76.0 47.3h1.3v1.3h-1.3zM56.6 45.2h1.3v1.3h-1.3zM70.1 53.5h1.3v1.3h-1.3zM85.2 53.1h1.3v1.3h-1.3zM75.3 42.3h1.3v1.3h-1.3zM76.6 56.2h1.3v1.3h-1.3zM68.5 50.6h1.3v1.3h-1.3zM63.3 42.4h1.3v1.3h-1.3zM76.0 51.5h1.3v1.3h-1.3zM81.7 50.2h1.3v1.3h-1.3zM75.2 51.9h1.3v1.3h-1.3zM66.7 40.1h1.3v1.3h-1.3zM73.0 51.2h1.3v1.3h-1.3zM58.6 44.3h1.3v1.3h-1.3zM57.4 45.7h1.3v1.3h-1.3zM64.4 32.7h1.3v1.3h-1.3zM75.3 58.0h1.3v1.3h-1.3zM64.7 36.3h1.3v1.3h-1.3zM77.3 51.0h1.3v1.3h-1.3zM65.6 43.2h1.3v1.3h-1.3zM19.4 66.7h1.3v1.3h-1.3zM25.4 71.4h1.3v1.3h-1.3zM27.3 75.8h1.3v1.3h-1.3zM15.7 72.4h1.3v1.3h-1.3zM25.3 77.9h1.3v1.3h-1.3zM19.8 64.6h1.3v1.3h-1.3zM14.8 75.4h1.3v1.3h-1.3zM26.2 77.2h1.3v1.3h-1.3zM22.4 71.5h1.3v1.3h-1.3zM23.7 65.5h1.3v1.3h-1.3zM24.0 65.4h1.3v1.3h-1.3zM32.3 72.7h1.3v1.3h-1.3zM20.0 74.7h1.3v1.3h-1.3zM26.4 69.3h1.3v1.3h-1.3zM17.4 86.9h1.3v1.3h-1.3zM19.5 84.4h1.3v1.3h-1.3zM91.9 38.1h1.3v1.3h-1.3zM95.7 43.7h1.3v1.3h-1.3zM94.8 39.0h1.3v1.3h-1.3zM88.1 31.8h1.3v1.3h-1.3zM92.9 39.1h1.3v1.3h-1.3zM83.3 31.1h1.3v1.3h-1.3zM90.1 40.3h1.3v1.3h-1.3zM91.3 38.7h1.3v1.3h-1.3zM94.4 34.7h1.3v1.3h-1.3zM94.7 39.5h1.3v1.3h-1.3zM93.5 40.3h1.3v1.3h-1.3zM91.0 40.9h1.3v1.3h-1.3zM96.9 37.3h1.3v1.3h-1.3zM82.5 28.7h1.3v1.3h-1.3zM90.1 31.5h1.3v1.3h-1.3zM91.3 43.3h1.3v1.3h-1.3z"/><path fill="#f47a48" d="M87.8 125.6h1.3v1.3h-1.3zM111.1 116.6h1.3v1.3h-1.3zM85.5 144.7h1.3v1.3h-1.3zM113.0 132.2h1.3v1.3h-1.3zM116.6 123.6h1.3v1.3h-1.3zM91.5 124.5h1.3v1.3h-1.3zM76.2 132.3h1.3v1.3h-1.3zM102.8 116.2h1.3v1.3h-1.3zM65.3 133.8h1.3v1.3h-1.3zM71.2 151.5h1.3v1.3h-1.3zM86.9 146.6h1.3v1.3h-1.3zM82.4 128.0h1.3v1.3h-1.3zM88.5 125.2h1.3v1.3h-1.3zM79.1 113.2h1.3v1.3h-1.3zM57.7 148.4h1.3v1.3h-1.3zM86.5 114.9h1.3v1.3h-1.3zM85.4 139.4h1.3v1.3h-1.3zM117.1 118.6h1.3v1.3h-1.3zM104.2 130.6h1.3v1.3h-1.3zM81.8 141.8h1.3v1.3h-1.3zM101.3 135.3h1.3v1.3h-1.3zM59.3 145.4h1.3v1.3h-1.3zM73.3 155.6h1.3v1.3h-1.3zM79.5 122.4h1.3v1.3h-1.3zM94.4 117.8h1.3v1.3h-1.3zM113.6 131.5h1.3v1.3h-1.3zM90.3 115.4h1.3v1.3h-1.3zM74.1 117.5h1.3v1.3h-1.3zM62.5 139.7h1.3v1.3h-1.3zM80.0 133.6h1.3v1.3h-1.3zM76.9 149.0h1.3v1.3h-1.3zM84.8 131.0h1.3v1.3h-1.3zM74.6 102.2h1.3v1.3h-1.3zM49.0 140.3h1.3v1.3h-1.3zM98.1 134.6h1.3v1.3h-1.3zM111.0 63.8h1.3v1.3h-1.3zM119.3 64.2h1.3v1.3h-1.3zM101.5 63.4h1.3v1.3h-1.3zM86.0 92.8h1.3v1.3h-1.3zM104.2 67.5h1.3v1.3h-1.3zM94.5 76.6h1.3v1.3h-1.3zM96.3 90.1h1.3v1.3h-1.3zM117.8 74.3h1.3v1.3h-1.3zM92.3 100.9h1.3v1.3h-1.3zM86.3 99.1h1.3v1.3h-1.3zM115.1 61.5h1.3v1.3h-1.3zM85.5 99.9h1.3v1.3h-1.3zM99.6 72.6h1.3v1.3h-1.3zM112.4 61.5h1.3v1.3h-1.3zM113.2 57.8h1.3v1.3h-1.3zM104.9 58.7h1.3v1.3h-1.3zM91.0 85.0h1.3v1.3h-1.3zM107.1 68.5h1.3v1.3h-1.3zM88.4 98.8h1.3v1.3h-1.3zM96.3 70.1h1.3v1.3h-1.3zM88.1 78.2h1.3v1.3h-1.3zM107.8 74.0h1.3v1.3h-1.3zM118.0 59.7h1.3v1.3h-1.3zM88.2 80.4h1.3v1.3h-1.3zM84.3 86.9h1.3v1.3h-1.3zM106.1 77.1h1.3v1.3h-1.3zM84.4 85.8h1.3v1.3h-1.3zM103.0 71.6h1.3v1.3h-1.3zM104.8 59.9h1.3v1.3h-1.3zM99.5 72.2h1.3v1.3h-1.3zM95.5 83.0h1.3v1.3h-1.3zM93.4 84.0h1.3v1.3h-1.3zM124.8 64.8h1.3v1.3h-1.3zM82.4 101.5h1.3v1.3h-1.3zM87.1 101.0h1.3v1.3h-1.3zM83.1 84.0h1.3v1.3h-1.3zM81.8 92.2h1.3v1.3h-1.3zM93.8 81.4h1.3v1.3h-1.3zM95.2 95.3h1.3v1.3h-1.3zM69.3 94.9h1.3v1.3h-1.3zM60.9 128.4h1.3v1.3h-1.3zM59.5 123.8h1.3v1.3h-1.3zM50.2 132.3h1.3v1.3h-1.3zM100.7 59.0h1.3v1.3h-1.3zM111.5 87.9h1.3v1.3h-1.3zM98.1 102.7h1.3v1.3h-1.3zM118.0 106.9h1.3v1.3h-1.3zM97.3 97.3h1.3v1.3h-1.3zM120.4 87.1h1.3v1.3h-1.3zM118.7 92.4h1.3v1.3h-1.3zM108.4 95.6h1.3v1.3h-1.3zM115.3 82.6h1.3v1.3h-1.3zM93.6 108.9h1.3v1.3h-1.3zM119.6 86.8h1.3v1.3h-1.3zM120.5 111.2h1.3v1.3h-1.3zM118.3 92.3h1.3v1.3h-1.3zM100.2 106.5h1.3v1.3h-1.3zM115.3 102.7h1.3v1.3h-1.3zM119.6 108.1h1.3v1.3h-1.3zM113.6 87.5h1.3v1.3h-1.3zM105.7 111.9h1.3v1.3h-1.3zM102.9 90.7h1.3v1.3h-1.3zM100.7 108.3h1.3v1.3h-1.3zM105.3 115.1h1.3v1.3h-1.3zM116.8 87.7h1.3v1.3h-1.3zM103.5 109.0h1.3v1.3h-1.3zM128.5 97.1h1.3v1.3h-1.3zM123.8 104.4h1.3v1.3h-1.3zM111.5 89.8h1.3v1.3h-1.3zM108.0 99.9h1.3v1.3h-1.3zM111.0 84.9h1.3v1.3h-1.3zM119.5 83.9h1.3v1.3h-1.3zM101.7 103.2h1.3v1.3h-1.3zM111.9 111.2h1.3v1.3h-1.3zM125.6 107.1h1.3v1.3h-1.3zM112.1 95.2h1.3v1.3h-1.3zM128.4 84.9h1.3v1.3h-1.3zM42.0 92.4h1.3v1.3h-1.3zM58.4 116.9h1.3v1.3h-1.3zM47.8 130.6h1.3v1.3h-1.3zM32.3 127.1h1.3v1.3h-1.3zM30.7 129.2h1.3v1.3h-1.3zM36.9 140.6h1.3v1.3h-1.3zM41.9 130.3h1.3v1.3h-1.3zM30.2 116.8h1.3v1.3h-1.3zM39.2 139.0h1.3v1.3h-1.3zM19.6 103.7h1.3v1.3h-1.3zM39.9 140.3h1.3v1.3h-1.3zM27.1 120.8h1.3v1.3h-1.3zM23.8 107.6h1.3v1.3h-1.3zM36.9 124.3h1.3v1.3h-1.3zM64.5 119.4h1.3v1.3h-1.3zM68.9 95.8h1.3v1.3h-1.3zM51.2 70.0h1.3v1.3h-1.3zM50.1 83.0h1.3v1.3h-1.3zM73.3 72.2h1.3v1.3h-1.3zM52.5 82.3h1.3v1.3h-1.3zM142.5 84.5h1.3v1.3h-1.3zM144.9 102.3h1.3v1.3h-1.3zM140.7 85.4h1.3v1.3h-1.3zM148.3 99.0h1.3v1.3h-1.3zM142.5 90.6h1.3v1.3h-1.3zM141.9 91.4h1.3v1.3h-1.3zM149.6 96.3h1.3v1.3h-1.3zM152.1 94.4h1.3v1.3h-1.3zM153.5 93.4h1.3v1.3h-1.3zM144.5 88.2h1.3v1.3h-1.3zM133.4 116.6h1.3v1.3h-1.3zM138.5 126.3h1.3v1.3h-1.3zM132.5 115.7h1.3v1.3h-1.3zM134.4 115.2h1.3v1.3h-1.3zM66.8 96.5h1.3v1.3h-1.3zM73.7 95.2h1.3v1.3h-1.3zM71.2 95.6h1.3v1.3h-1.3zM68.6 100.0h1.3v1.3h-1.3zM70.8 91.8h1.3v1.3h-1.3zM69.3 118.7h1.3v1.3h-1.3zM75.7 91.8h1.3v1.3h-1.3zM72.3 94.1h1.3v1.3h-1.3zM75.2 89.2h1.3v1.3h-1.3zM79.8 100.5h1.3v1.3h-1.3zM58.0 36.9h1.3v1.3h-1.3zM68.2 33.6h1.3v1.3h-1.3zM68.9 45.0h1.3v1.3h-1.3zM75.8 39.4h1.3v1.3h-1.3zM74.2 45.1h1.3v1.3h-1.3zM70.4 47.9h1.3v1.3h-1.3zM69.5 40.0h1.3v1.3h-1.3zM22.6 67.1h1.3v1.3h-1.3zM34.6 88.8h1.3v1.3h-1.3zM20.6 70.3h1.3v1.3h-1.3zM17.3 72.0h1.3v1.3h-1.3zM20.4 60.8h1.3v1.3h-1.3zM27.9 78.3h1.3v1.3h-1.3zM16.8 63.8h1.3v1.3h-1.3zM20.1 73.8h1.3v1.3h-1.3zM27.6 82.6h1.3v1.3h-1.3zM18.0 72.6h1.3v1.3h-1.3zM26.9 62.6h1.3v1.3h-1.3zM30.6 74.8h1.3v1.3h-1.3zM17.4 70.7h1.3v1.3h-1.3zM25.0 67.7h1.3v1.3h-1.3zM16.3 73.8h1.3v1.3h-1.3zM24.6 75.3h1.3v1.3h-1.3zM25.8 76.7h1.3v1.3h-1.3zM16.5 72.3h1.3v1.3h-1.3zM30.6 79.3h1.3v1.3h-1.3zM26.7 67.3h1.3v1.3h-1.3zM24.9 64.7h1.3v1.3h-1.3zM26.6 77.4h1.3v1.3h-1.3zM19.8 81.8h1.3v1.3h-1.3zM29.3 72.6h1.3v1.3h-1.3zM26.1 78.3h1.3v1.3h-1.3zM16.4 73.2h1.3v1.3h-1.3zM17.7 65.4h1.3v1.3h-1.3zM26.8 65.8h1.3v1.3h-1.3zM20.3 63.3h1.3v1.3h-1.3zM25.8 81.5h1.3v1.3h-1.3zM28.5 71.0h1.3v1.3h-1.3zM29.7 70.3h1.3v1.3h-1.3zM27.1 72.9h1.3v1.3h-1.3zM23.6 66.3h1.3v1.3h-1.3zM28.4 72.4h1.3v1.3h-1.3zM17.5 63.8h1.3v1.3h-1.3zM28.5 85.4h1.3v1.3h-1.3zM19.4 78.1h1.3v1.3h-1.3zM23.2 80.3h1.3v1.3h-1.3zM33.0 79.9h1.3v1.3h-1.3zM31.9 81.5h1.3v1.3h-1.3zM20.3 68.7h1.3v1.3h-1.3zM15.6 63.2h1.3v1.3h-1.3zM91.8 37.7h1.3v1.3h-1.3zM94.0 38.8h1.3v1.3h-1.3zM94.3 42.0h1.3v1.3h-1.3zM85.1 31.7h1.3v1.3h-1.3zM96.4 35.0h1.3v1.3h-1.3zM90.5 42.5h1.3v1.3h-1.3zM96.2 40.6h1.3v1.3h-1.3z"/><path fill="#e8502e" d="M120.6 127.2h1.3v1.3h-1.3zM81.5 112.1h1.3v1.3h-1.3zM79.7 128.3h1.3v1.3h-1.3zM98.7 81.2h1.3v1.3h-1.3zM94.5 96.8h1.3v1.3h-1.3zM93.9 85.2h1.3v1.3h-1.3zM88.3 67.5h1.3v1.3h-1.3zM85.2 82.5h1.3v1.3h-1.3zM86.4 108.1h1.3v1.3h-1.3zM107.8 66.5h1.3v1.3h-1.3zM117.5 83.1h1.3v1.3h-1.3zM111.4 111.3h1.3v1.3h-1.3zM114.5 88.1h1.3v1.3h-1.3zM123.3 102.9h1.3v1.3h-1.3zM124.4 106.7h1.3v1.3h-1.3zM125.5 87.5h1.3v1.3h-1.3zM122.9 95.4h1.3v1.3h-1.3zM45.1 100.4h1.3v1.3h-1.3zM34.2 135.6h1.3v1.3h-1.3zM20.7 101.0h1.3v1.3h-1.3zM148.3 94.2h1.3v1.3h-1.3zM147.8 86.7h1.3v1.3h-1.3zM65.6 93.9h1.3v1.3h-1.3zM67.9 87.5h1.3v1.3h-1.3zM22.8 70.8h1.3v1.3h-1.3zM30.0 76.9h1.3v1.3h-1.3zM26.1 71.6h1.3v1.3h-1.3zM29.1 73.2h1.3v1.3h-1.3zM30.0 71.4h1.3v1.3h-1.3zM31.1 83.3h1.3v1.3h-1.3zM18.6 76.2h1.3v1.3h-1.3zM28.9 78.3h1.3v1.3h-1.3zM15.7 68.8h1.3v1.3h-1.3zM30.7 67.9h1.3v1.3h-1.3zM20.0 72.0h1.3v1.3h-1.3zM17.8 74.4h1.3v1.3h-1.3zM16.4 70.0h1.3v1.3h-1.3zM16.2 85.7h1.3v1.3h-1.3zM12.0 66.9h1.3v1.3h-1.3z"/><path fill="#d42a1a" d="M117.8 114.5h1.3v1.3h-1.3zM18.6 70.2h1.3v1.3h-1.3zM30.0 78.2h1.3v1.3h-1.3zM26.6 64.8h1.3v1.3h-1.3zM16.4 86.1h1.3v1.3h-1.3zM18.1 68.7h1.3v1.3h-1.3z"/></g><text x="7.2" y="16.3" font-size="10.8" font-weight="bold" font-style="normal" text-anchor="start" fill="#000">A</text><text x="167.8" y="16.2" font-size="10.8" font-weight="bold" font-style="normal" text-anchor="start" fill="#000">B</text><text x="329.8" y="16.3" font-size="10.8" font-weight="bold" font-style="normal" text-anchor="start" fill="#000">C</text><text x="7.8" y="178.3" font-size="10.8" font-weight="bold" font-style="normal" text-anchor="start" fill="#000">D</text><text x="167.8" y="178.2" font-size="10.8" font-weight="bold" font-style="normal" text-anchor="start" fill="#000">E</text><text x="330.6" y="178.2" font-size="10.8" font-weight="bold" font-style="normal" text-anchor="start" fill="#000">F</text><text x="6.3" y="341" font-size="10.8" font-weight="bold" font-style="normal" text-anchor="start" fill="#000">G</text><text x="230.8" y="19.8" font-size="8.4" font-weight="bold" font-style="italic" text-anchor="start" fill="#000" textLength="17" lengthAdjust="spacingAndGlyphs">PIF1</text><text x="393" y="19.8" font-size="8.4" font-weight="bold" font-style="italic" text-anchor="start" fill="#000" textLength="17" lengthAdjust="spacingAndGlyphs">PIF3</text><text x="74.2" y="182.2" font-size="8.4" font-weight="bold" font-style="italic" text-anchor="start" fill="#000" textLength="21.2" lengthAdjust="spacingAndGlyphs">TMM</text><text x="233.3" y="182.2" font-size="8.4" font-weight="bold" font-style="italic" text-anchor="start" fill="#000" textLength="17.3" lengthAdjust="spacingAndGlyphs">PIF4</text><text x="396.2" y="182.2" font-size="8.4" font-weight="bold" font-style="italic" text-anchor="start" fill="#000" textLength="17" lengthAdjust="spacingAndGlyphs">PIF5</text><text x="88.7" y="39.6" font-size="8.8" font-weight="bold" font-style="normal" text-anchor="start" fill="#000">GMC</text><text x="61.6" y="51.8" font-size="8.8" font-weight="bold" font-style="normal" text-anchor="start" fill="#000">YGC</text><text x="14.2" y="82" font-size="8.8" font-weight="bold" font-style="normal" text-anchor="start" fill="#000">MMC</text><text x="55.9" y="82" font-size="8.8" font-weight="bold" font-style="normal" text-anchor="start" fill="#000">GC</text><text x="96.2" y="76.2" font-size="8.8" font-weight="bold" font-style="normal" text-anchor="start" fill="#000">u.k._1</text><text x="69" y="94.1" font-size="8.8" font-weight="bold" font-style="normal" text-anchor="start" fill="#000">u.k._9</text><text x="145" y="98.2" font-size="8.8" font-weight="bold" font-style="normal" text-anchor="start" fill="#000">LM</text><text x="107.7" y="107" font-size="8.8" font-weight="bold" font-style="normal" text-anchor="start" fill="#000">EM</text><text x="45" y="116.2" font-size="8.8" font-weight="bold" font-style="normal" text-anchor="start" fill="#000">MPC_2</text><text x="18.6" y="127" font-size="8.8" font-weight="bold" font-style="normal" text-anchor="start" fill="#000">MPC_5</text><text x="79.6" y="144" font-size="8.8" font-weight="bold" font-style="normal" text-anchor="start" fill="#000">PC</text><rect x="472.7" y="155.5" width="6.5" height="48" fill="url(#cb)"/><text x="475.5" y="152" font-size="9.6" font-weight="normal" font-style="normal" text-anchor="middle" fill="#111">High</text><text x="475.5" y="214.4" font-size="9.6" font-weight="normal" font-style="normal" text-anchor="middle" fill="#111">Low</text><text x="28.9" y="397.2" font-size="5.8" font-weight="normal" font-style="normal" text-anchor="end" fill="#5c5c5c" textLength="2.58" lengthAdjust="spacingAndGlyphs">0</text><line x1="29.8" x2="252.3" y1="382.45" y2="382.45" stroke="#ebebeb" stroke-width="0.9"/><text x="28.9" y="384.45" font-size="5.8" font-weight="normal" font-style="normal" text-anchor="end" fill="#5c5c5c" textLength="6.45" lengthAdjust="spacingAndGlyphs">0.5</text><line x1="29.8" x2="252.3" y1="369.7" y2="369.7" stroke="#ebebeb" stroke-width="0.9"/><text x="28.9" y="371.7" font-size="5.8" font-weight="normal" font-style="normal" text-anchor="end" fill="#5c5c5c" textLength="2.58" lengthAdjust="spacingAndGlyphs">1</text><line x1="29.8" x2="252.3" y1="356.95" y2="356.95" stroke="#ebebeb" stroke-width="0.9"/><text x="28.9" y="358.95" font-size="5.8" font-weight="normal" font-style="normal" text-anchor="end" fill="#5c5c5c" textLength="6.45" lengthAdjust="spacingAndGlyphs">1.5</text><line x1="29.8" x2="252.3" y1="344.2" y2="344.2" stroke="#ebebeb" stroke-width="0.9"/><text x="28.9" y="346.2" font-size="5.8" font-weight="normal" font-style="normal" text-anchor="end" fill="#5c5c5c" textLength="2.58" lengthAdjust="spacingAndGlyphs">2</text><line x1="29.8" x2="252.3" y1="395.2" y2="395.2" stroke="#bdbdbd" stroke-width="1"/><polygon points="33.9,395.5 37.2,394 39.6,394 42.9,395.5" fill="#E8686E" fill-opacity="0.85"/><polygon points="54.25,395.5 57.55,394 59.95,394 63.25,395.5" fill="#E8703A" fill-opacity="0.85"/><polygon points="74.6,395.5 77.9,394 80.3,394 83.6,395.5" fill="#E09010" fill-opacity="0.85"/><polygon points="94.95,395.5 98.25,394 100.65,394 103.95,395.5" fill="#A8A000" fill-opacity="0.85"/><polygon points="115.3,395.5 118.6,394 121,394 124.3,395.5" fill="#3AAA20" fill-opacity="0.85"/><polygon points="135.65,395.5 138.95,394 141.35,394 144.65,395.5" fill="#00B070" fill-opacity="0.85"/><polygon points="156,395.5 159.3,394 161.7,394 165,395.5" fill="#00B0A8" fill-opacity="0.85"/><polygon points="176.35,395.5 179.65,394 182.05,394 185.35,395.5" fill="#00A8D0" fill-opacity="0.85"/><polygon points="196.7,395.5 200,394 202.4,394 205.7,395.5" fill="#1890D8" fill-opacity="0.85"/><polygon points="217.05,395.5 220.35,394 222.75,394 226.05,395.5" fill="#1080D0" fill-opacity="0.85"/><polygon points="237.4,395.5 240.7,394 243.1,394 246.4,395.5" fill="#7058B0" fill-opacity="0.85"/><line x1="38.4" x2="38.4" y1="395.2" y2="354.4" stroke="#8c8c8c" stroke-width="1.1"/><rect x="37.6" y="369.1" width="1.6" height="1.2" fill="#E8686E" fill-opacity="0.7"/><line x1="58.75" x2="58.75" y1="395.2" y2="344.2" stroke="#8c8c8c" stroke-width="1.1"/><rect x="57.95" y="369.1" width="1.6" height="1.2" fill="#E8703A" fill-opacity="0.7"/><line x1="79.1" x2="79.1" y1="395.2" y2="354.4" stroke="#8c8c8c" stroke-width="1.1"/><rect x="78.3" y="369.1" width="1.6" height="1.2" fill="#E09010" fill-opacity="0.7"/><line x1="99.45" x2="99.45" y1="395.2" y2="369.7" stroke="#8c8c8c" stroke-width="1.1"/><line x1="119.8" x2="119.8" y1="395.2" y2="369.7" stroke="#8c8c8c" stroke-width="1.1"/><line x1="140.15" x2="140.15" y1="395.2" y2="369.7" stroke="#8c8c8c" stroke-width="1.1"/><line x1="160.5" x2="160.5" y1="395.2" y2="369.7" stroke="#8c8c8c" stroke-width="1.1"/><line x1="180.85" x2="180.85" y1="395.2" y2="369.7" stroke="#8c8c8c" stroke-width="1.1"/><line x1="201.2" x2="201.2" y1="395.2" y2="369.7" stroke="#8c8c8c" stroke-width="1.1"/><line x1="221.55" x2="221.55" y1="395.2" y2="344.2" stroke="#8c8c8c" stroke-width="1.1"/><rect x="220.75" y="369.1" width="1.6" height="1.2" fill="#1080D0" fill-opacity="0.7"/><line x1="241.9" x2="241.9" y1="395.2" y2="369.7" stroke="#8c8c8c" stroke-width="1.1"/><text x="126.3" y="341" font-size="10" font-weight="normal" font-style="italic" text-anchor="start" fill="#111" stroke="#111" stroke-width="0.15">PIF1</text><text x="28.9" y="462.5" font-size="5.8" font-weight="normal" font-style="normal" text-anchor="end" fill="#5c5c5c" textLength="2.58" lengthAdjust="spacingAndGlyphs">0</text><line x1="29.8" x2="252.3" y1="444" y2="444" stroke="#ebebeb" stroke-width="0.9"/><text x="28.9" y="446" font-size="5.8" font-weight="normal" font-style="normal" text-anchor="end" fill="#5c5c5c" textLength="2.58" lengthAdjust="spacingAndGlyphs">1</text><line x1="29.8" x2="252.3" y1="427.5" y2="427.5" stroke="#ebebeb" stroke-width="0.9"/><text x="28.9" y="429.5" font-size="5.8" font-weight="normal" font-style="normal" text-anchor="end" fill="#5c5c5c" textLength="2.58" lengthAdjust="spacingAndGlyphs">2</text><line x1="29.8" x2="252.3" y1="411" y2="411" stroke="#ebebeb" stroke-width="0.9"/><text x="28.9" y="413" font-size="5.8" font-weight="normal" font-style="normal" text-anchor="end" fill="#5c5c5c" textLength="2.58" lengthAdjust="spacingAndGlyphs">3</text><line x1="29.8" x2="252.3" y1="460.5" y2="460.5" stroke="#bdbdbd" stroke-width="1"/><polygon points="33.9,460.8 37.2,459.3 39.6,459.3 42.9,460.8" fill="#E8686E" fill-opacity="0.85"/><polygon points="54.25,460.8 57.55,459.3 59.95,459.3 63.25,460.8" fill="#E8703A" fill-opacity="0.85"/><polygon points="74.6,460.8 77.9,459.3 80.3,459.3 83.6,460.8" fill="#E09010" fill-opacity="0.85"/><polygon points="94.95,460.8 98.25,459.3 100.65,459.3 103.95,460.8" fill="#A8A000" fill-opacity="0.85"/><polygon points="135.65,460.8 138.95,459.3 141.35,459.3 144.65,460.8" fill="#00B070" fill-opacity="0.85"/><polygon points="156,460.8 159.3,459.3 161.7,459.3 165,460.8" fill="#00B0A8" fill-opacity="0.85"/><polygon points="176.35,460.8 179.65,459.3 182.05,459.3 185.35,460.8" fill="#00A8D0" fill-opacity="0.85"/><polygon points="196.7,460.8 200,459.3 202.4,459.3 205.7,460.8" fill="#1890D8" fill-opacity="0.85"/><polygon points="217.05,460.8 220.35,459.3 222.75,459.3 226.05,460.8" fill="#1080D0" fill-opacity="0.85"/><polygon points="237.4,460.8 240.7,459.3 243.1,459.3 246.4,460.8" fill="#7058B0" fill-opacity="0.85"/><polygon points="114.3,460.5 115.8,458.52 117.8,456.375 118.6,454.725 118.6,450.6 117.8,445.65 118,443.175 119,439.05 119.5,436.575 119.7,434.1 119.9,434.1 120.1,436.575 120.6,439.05 121.6,443.175 121.8,445.65 121,450.6 121,454.725 121.8,456.375 123.8,458.52 125.3,460.5" fill="#3a9e22" stroke="#3a3a3a" stroke-width="0.25"/><line x1="119.8" x2="119.8" y1="460.5" y2="440.7" stroke="#000" stroke-opacity="0.35" stroke-width="1.8"/><line x1="38.4" x2="38.4" y1="460.5" y2="411" stroke="#8c8c8c" stroke-width="1.1"/><rect x="37.6" y="443.4" width="1.6" height="1.2" fill="#E8686E" fill-opacity="0.7"/><line x1="58.75" x2="58.75" y1="460.5" y2="417.6" stroke="#8c8c8c" stroke-width="1.1"/><rect x="57.95" y="443.4" width="1.6" height="1.2" fill="#E8703A" fill-opacity="0.7"/><line x1="79.1" x2="79.1" y1="460.5" y2="444" stroke="#8c8c8c" stroke-width="1.1"/><line x1="99.45" x2="99.45" y1="460.5" y2="421.725" stroke="#8c8c8c" stroke-width="1.1"/><rect x="98.65" y="443.4" width="1.6" height="1.2" fill="#A8A000" fill-opacity="0.7"/><line x1="119.8" x2="119.8" y1="460.5" y2="409.02" stroke="#8c8c8c" stroke-width="1.1"/><line x1="140.15" x2="140.15" y1="460.5" y2="427.5" stroke="#8c8c8c" stroke-width="1.1"/><rect x="139.35" y="443.4" width="1.6" height="1.2" fill="#00B070" fill-opacity="0.7"/><line x1="160.5" x2="160.5" y1="460.5" y2="427.5" stroke="#8c8c8c" stroke-width="1.1"/><rect x="159.7" y="443.4" width="1.6" height="1.2" fill="#00B0A8" fill-opacity="0.7"/><line x1="180.85" x2="180.85" y1="460.5" y2="420.9" stroke="#8c8c8c" stroke-width="1.1"/><rect x="180.05" y="443.4" width="1.6" height="1.2" fill="#00A8D0" fill-opacity="0.7"/><line x1="201.2" x2="201.2" y1="460.5" y2="444" stroke="#8c8c8c" stroke-width="1.1"/><line x1="221.55" x2="221.55" y1="460.5" y2="427.5" stroke="#8c8c8c" stroke-width="1.1"/><rect x="220.75" y="443.4" width="1.6" height="1.2" fill="#1080D0" fill-opacity="0.7"/><line x1="241.9" x2="241.9" y1="460.5" y2="434.1" stroke="#8c8c8c" stroke-width="1.1"/><rect x="241.1" y="443.4" width="1.6" height="1.2" fill="#7058B0" fill-opacity="0.7"/><text x="126.3" y="414" font-size="10" font-weight="normal" font-style="italic" text-anchor="start" fill="#111" stroke="#111" stroke-width="0.15">PIF3</text><text x="28.9" y="524.1" font-size="5.8" font-weight="normal" font-style="normal" text-anchor="end" fill="#5c5c5c" textLength="2.58" lengthAdjust="spacingAndGlyphs">0</text><line x1="29.8" x2="252.3" y1="511.225" y2="511.225" stroke="#ebebeb" stroke-width="0.9"/><text x="28.9" y="513.225" font-size="5.8" font-weight="normal" font-style="normal" text-anchor="end" fill="#5c5c5c" textLength="6.45" lengthAdjust="spacingAndGlyphs">0.5</text><line x1="29.8" x2="252.3" y1="500.35" y2="500.35" stroke="#ebebeb" stroke-width="0.9"/><text x="28.9" y="502.35" font-size="5.8" font-weight="normal" font-style="normal" text-anchor="end" fill="#5c5c5c" textLength="2.58" lengthAdjust="spacingAndGlyphs">1</text><line x1="29.8" x2="252.3" y1="489.475" y2="489.475" stroke="#ebebeb" stroke-width="0.9"/><text x="28.9" y="491.475" font-size="5.8" font-weight="normal" font-style="normal" text-anchor="end" fill="#5c5c5c" textLength="6.45" lengthAdjust="spacingAndGlyphs">1.5</text><line x1="29.8" x2="252.3" y1="478.6" y2="478.6" stroke="#ebebeb" stroke-width="0.9"/><text x="28.9" y="480.6" font-size="5.8" font-weight="normal" font-style="normal" text-anchor="end" fill="#5c5c5c" textLength="2.58" lengthAdjust="spacingAndGlyphs">2</text><line x1="29.8" x2="252.3" y1="522.1" y2="522.1" stroke="#bdbdbd" stroke-width="1"/><polygon points="33.9,522.4 37.2,520.9 39.6,520.9 42.9,522.4" fill="#E8686E" fill-opacity="0.85"/><polygon points="54.25,522.4 57.55,520.9 59.95,520.9 63.25,522.4" fill="#E8703A" fill-opacity="0.85"/><polygon points="74.6,522.4 77.9,520.9 80.3,520.9 83.6,522.4" fill="#E09010" fill-opacity="0.85"/><polygon points="94.95,522.4 98.25,520.9 100.65,520.9 103.95,522.4" fill="#A8A000" fill-opacity="0.85"/><polygon points="115.3,522.4 118.6,520.9 121,520.9 124.3,522.4" fill="#3AAA20" fill-opacity="0.85"/><polygon points="135.65,522.4 138.95,520.9 141.35,520.9 144.65,522.4" fill="#00B070" fill-opacity="0.85"/><polygon points="156,522.4 159.3,520.9 161.7,520.9 165,522.4" fill="#00B0A8" fill-opacity="0.85"/><polygon points="176.35,522.4 179.65,520.9 182.05,520.9 185.35,522.4" fill="#00A8D0" fill-opacity="0.85"/><polygon points="196.7,522.4 200,520.9 202.4,520.9 205.7,522.4" fill="#1890D8" fill-opacity="0.85"/><polygon points="217.05,522.4 220.35,520.9 222.75,520.9 226.05,522.4" fill="#1080D0" fill-opacity="0.85"/><polygon points="237.4,522.4 240.7,520.9 243.1,520.9 246.4,522.4" fill="#7058B0" fill-opacity="0.85"/><line x1="38.4" x2="38.4" y1="522.1" y2="487.3" stroke="#8c8c8c" stroke-width="1.1"/><rect x="37.6" y="499.75" width="1.6" height="1.2" fill="#E8686E" fill-opacity="0.7"/><line x1="58.75" x2="58.75" y1="522.1" y2="470.988" stroke="#8c8c8c" stroke-width="1.1"/><rect x="57.95" y="499.75" width="1.6" height="1.2" fill="#E8703A" fill-opacity="0.7"/><line x1="79.1" x2="79.1" y1="522.1" y2="500.35" stroke="#8c8c8c" stroke-width="1.1"/><line x1="99.45" x2="99.45" y1="522.1" y2="478.6" stroke="#8c8c8c" stroke-width="1.1"/><rect x="98.65" y="499.75" width="1.6" height="1.2" fill="#A8A000" fill-opacity="0.7"/><line x1="119.8" x2="119.8" y1="522.1" y2="487.3" stroke="#8c8c8c" stroke-width="1.1"/><rect x="119" y="499.75" width="1.6" height="1.2" fill="#3AAA20" fill-opacity="0.7"/><line x1="140.15" x2="140.15" y1="522.1" y2="487.3" stroke="#8c8c8c" stroke-width="1.1"/><rect x="139.35" y="499.75" width="1.6" height="1.2" fill="#00B070" fill-opacity="0.7"/><line x1="160.5" x2="160.5" y1="522.1" y2="478.6" stroke="#8c8c8c" stroke-width="1.1"/><rect x="159.7" y="499.75" width="1.6" height="1.2" fill="#00B0A8" fill-opacity="0.7"/><line x1="180.85" x2="180.85" y1="522.1" y2="500.35" stroke="#8c8c8c" stroke-width="1.1"/><line x1="201.2" x2="201.2" y1="522.1" y2="500.35" stroke="#8c8c8c" stroke-width="1.1"/><line x1="221.55" x2="221.55" y1="522.1" y2="470.553" stroke="#8c8c8c" stroke-width="1.1"/><rect x="220.75" y="499.75" width="1.6" height="1.2" fill="#1080D0" fill-opacity="0.7"/><line x1="241.9" x2="241.9" y1="522.1" y2="500.35" stroke="#8c8c8c" stroke-width="1.1"/><text x="126.3" y="474.3" font-size="10" font-weight="normal" font-style="italic" text-anchor="start" fill="#111" stroke="#111" stroke-width="0.15">PIF4</text><text x="271.6" y="397" font-size="5.8" font-weight="normal" font-style="normal" text-anchor="end" fill="#5c5c5c" textLength="2.58" lengthAdjust="spacingAndGlyphs">0</text><line x1="272.5" x2="496" y1="383.75" y2="383.75" stroke="#ebebeb" stroke-width="0.9"/><text x="271.6" y="385.75" font-size="5.8" font-weight="normal" font-style="normal" text-anchor="end" fill="#5c5c5c" textLength="2.58" lengthAdjust="spacingAndGlyphs">1</text><line x1="272.5" x2="496" y1="372.5" y2="372.5" stroke="#ebebeb" stroke-width="0.9"/><text x="271.6" y="374.5" font-size="5.8" font-weight="normal" font-style="normal" text-anchor="end" fill="#5c5c5c" textLength="2.58" lengthAdjust="spacingAndGlyphs">2</text><line x1="272.5" x2="496" y1="361.25" y2="361.25" stroke="#ebebeb" stroke-width="0.9"/><text x="271.6" y="363.25" font-size="5.8" font-weight="normal" font-style="normal" text-anchor="end" fill="#5c5c5c" textLength="2.58" lengthAdjust="spacingAndGlyphs">3</text><line x1="272.5" x2="496" y1="350" y2="350" stroke="#ebebeb" stroke-width="0.9"/><text x="271.6" y="352" font-size="5.8" font-weight="normal" font-style="normal" text-anchor="end" fill="#5c5c5c" textLength="2.58" lengthAdjust="spacingAndGlyphs">4</text><line x1="272.5" x2="496" y1="395" y2="395" stroke="#bdbdbd" stroke-width="1"/><polygon points="278.2,395.3 281.5,393.8 283.9,393.8 287.2,395.3" fill="#E8686E" fill-opacity="0.85"/><polygon points="298.55,395.3 301.85,393.8 304.25,393.8 307.55,395.3" fill="#E8703A" fill-opacity="0.85"/><polygon points="318.9,395.3 322.2,393.8 324.6,393.8 327.9,395.3" fill="#E09010" fill-opacity="0.85"/><polygon points="339.25,395.3 342.55,393.8 344.95,393.8 348.25,395.3" fill="#A8A000" fill-opacity="0.85"/><polygon points="359.6,395.3 362.9,393.8 365.3,393.8 368.6,395.3" fill="#3AAA20" fill-opacity="0.85"/><polygon points="379.95,395.3 383.25,393.8 385.65,393.8 388.95,395.3" fill="#00B070" fill-opacity="0.85"/><polygon points="400.3,395.3 403.6,393.8 406,393.8 409.3,395.3" fill="#00B0A8" fill-opacity="0.85"/><polygon points="420.65,395.3 423.95,393.8 426.35,393.8 429.65,395.3" fill="#00A8D0" fill-opacity="0.85"/><polygon points="441,395.3 444.3,393.8 446.7,393.8 450,395.3" fill="#1890D8" fill-opacity="0.85"/><polygon points="481.7,395.3 485,393.8 487.4,393.8 490.7,395.3" fill="#7058B0" fill-opacity="0.85"/><polygon points="460.65,395 461.85,393.312 463.85,391.062 464.85,388.812 464.55,386 464.05,382.625 464.65,380.375 465.15,377 465.55,372.5 465.75,369.125 465.95,369.125 466.15,372.5 466.55,377 467.05,380.375 467.65,382.625 467.15,386 466.85,388.812 467.85,391.062 469.85,393.312 471.05,395" fill="#1a9ae0" stroke="#3a3a3a" stroke-width="0.25"/><line x1="465.85" x2="465.85" y1="395" y2="381.5" stroke="#000" stroke-opacity="0.35" stroke-width="1.8"/><line x1="282.7" x2="282.7" y1="395" y2="363.5" stroke="#8c8c8c" stroke-width="1.1"/><rect x="281.9" y="383.15" width="1.6" height="1.2" fill="#E8686E" fill-opacity="0.7"/><line x1="303.05" x2="303.05" y1="395" y2="365.413" stroke="#8c8c8c" stroke-width="1.1"/><rect x="302.25" y="383.15" width="1.6" height="1.2" fill="#E8703A" fill-opacity="0.7"/><line x1="323.4" x2="323.4" y1="395" y2="371.938" stroke="#8c8c8c" stroke-width="1.1"/><rect x="322.6" y="383.15" width="1.6" height="1.2" fill="#E09010" fill-opacity="0.7"/><line x1="343.75" x2="343.75" y1="395" y2="377" stroke="#8c8c8c" stroke-width="1.1"/><rect x="342.95" y="383.15" width="1.6" height="1.2" fill="#A8A000" fill-opacity="0.7"/><line x1="364.1" x2="364.1" y1="395" y2="365.75" stroke="#8c8c8c" stroke-width="1.1"/><rect x="363.3" y="383.15" width="1.6" height="1.2" fill="#3AAA20" fill-opacity="0.7"/><line x1="384.45" x2="384.45" y1="395" y2="365.75" stroke="#8c8c8c" stroke-width="1.1"/><rect x="383.65" y="383.15" width="1.6" height="1.2" fill="#00B070" fill-opacity="0.7"/><line x1="404.8" x2="404.8" y1="395" y2="377" stroke="#8c8c8c" stroke-width="1.1"/><rect x="404" y="383.15" width="1.6" height="1.2" fill="#00B0A8" fill-opacity="0.7"/><line x1="425.15" x2="425.15" y1="395" y2="383.75" stroke="#8c8c8c" stroke-width="1.1"/><line x1="445.5" x2="445.5" y1="395" y2="383.75" stroke="#8c8c8c" stroke-width="1.1"/><line x1="465.85" x2="465.85" y1="395" y2="344.375" stroke="#8c8c8c" stroke-width="1.1"/><line x1="486.2" x2="486.2" y1="395" y2="368.562" stroke="#8c8c8c" stroke-width="1.1"/><rect x="485.4" y="383.15" width="1.6" height="1.2" fill="#7058B0" fill-opacity="0.7"/><text x="367.5" y="345" font-size="10" font-weight="normal" font-style="italic" text-anchor="start" fill="#111" stroke="#111" stroke-width="0.15">PIF5</text><text x="271.6" y="462.3" font-size="5.8" font-weight="normal" font-style="normal" text-anchor="end" fill="#5c5c5c" textLength="2.58" lengthAdjust="spacingAndGlyphs">0</text><line x1="272.5" x2="496" y1="446.4" y2="446.4" stroke="#ebebeb" stroke-width="0.9"/><text x="271.6" y="448.4" font-size="5.8" font-weight="normal" font-style="normal" text-anchor="end" fill="#5c5c5c" textLength="2.58" lengthAdjust="spacingAndGlyphs">1</text><line x1="272.5" x2="496" y1="432.5" y2="432.5" stroke="#ebebeb" stroke-width="0.9"/><text x="271.6" y="434.5" font-size="5.8" font-weight="normal" font-style="normal" text-anchor="end" fill="#5c5c5c" textLength="2.58" lengthAdjust="spacingAndGlyphs">2</text><line x1="272.5" x2="496" y1="418.6" y2="418.6" stroke="#ebebeb" stroke-width="0.9"/><text x="271.6" y="420.6" font-size="5.8" font-weight="normal" font-style="normal" text-anchor="end" fill="#5c5c5c" textLength="2.58" lengthAdjust="spacingAndGlyphs">3</text><line x1="272.5" x2="496" y1="460.3" y2="460.3" stroke="#bdbdbd" stroke-width="1"/><polygon points="278.2,460.6 281.5,459.1 283.9,459.1 287.2,460.6" fill="#E8686E" fill-opacity="0.85"/><polygon points="298.55,460.6 301.85,459.1 304.25,459.1 307.55,460.6" fill="#E8703A" fill-opacity="0.85"/><polygon points="339.25,460.6 342.55,459.1 344.95,459.1 348.25,460.6" fill="#A8A000" fill-opacity="0.85"/><polygon points="359.6,460.6 362.9,459.1 365.3,459.1 368.6,460.6" fill="#3AAA20" fill-opacity="0.85"/><polygon points="379.95,460.6 383.25,459.1 385.65,459.1 388.95,460.6" fill="#00B070" fill-opacity="0.85"/><polygon points="400.3,460.6 403.6,459.1 406,459.1 409.3,460.6" fill="#00B0A8" fill-opacity="0.85"/><polygon points="420.65,460.6 423.95,459.1 426.35,459.1 429.65,460.6" fill="#00A8D0" fill-opacity="0.85"/><polygon points="461.35,460.6 464.65,459.1 467.05,459.1 470.35,460.6" fill="#1080D0" fill-opacity="0.85"/><polygon points="481.7,460.6 485,459.1 487.4,459.1 490.7,460.6" fill="#7058B0" fill-opacity="0.85"/><polygon points="318.6,460.3 318.9,458.91 319.6,457.52 321.2,455.435 322.3,453.35 322.1,451.265 321.7,449.18 321.3,446.4 321.4,444.315 322,440.84 322.3,435.28 322.5,429.72 322.7,422.77 322.95,417.21 323.2,413.04 323.6,413.04 323.85,417.21 324.1,422.77 324.3,429.72 324.5,435.28 324.8,440.84 325.4,444.315 325.5,446.4 325.1,449.18 324.7,451.265 324.5,453.35 325.6,455.435 327.2,457.52 327.9,458.91 328.2,460.3" fill="#ea950e" stroke="#3a3a3a" stroke-width="0.25"/><line x1="323.4" x2="323.4" y1="460.3" y2="443.62" stroke="#000" stroke-opacity="0.35" stroke-width="1.8"/><polygon points="440.5,460.3 441,458.91 443,456.13 444.7,452.655 444.3,449.18 443.9,445.01 444.3,441.535 444.9,438.06 445.2,432.5 445.4,428.33 445.6,428.33 445.8,432.5 446.1,438.06 446.7,441.535 447.1,445.01 446.7,449.18 446.3,452.655 448,456.13 450,458.91 450.5,460.3" fill="#1aa0e0" stroke="#3a3a3a" stroke-width="0.25"/><line x1="445.5" x2="445.5" y1="460.3" y2="443.62" stroke="#000" stroke-opacity="0.35" stroke-width="1.8"/><line x1="282.7" x2="282.7" y1="460.3" y2="420.685" stroke="#8c8c8c" stroke-width="1.1"/><rect x="281.9" y="445.8" width="1.6" height="1.2" fill="#E8686E" fill-opacity="0.7"/><line x1="303.05" x2="303.05" y1="460.3" y2="432.5" stroke="#8c8c8c" stroke-width="1.1"/><rect x="302.25" y="445.8" width="1.6" height="1.2" fill="#E8703A" fill-opacity="0.7"/><line x1="323.4" x2="323.4" y1="460.3" y2="409.426" stroke="#8c8c8c" stroke-width="1.1"/><line x1="343.75" x2="343.75" y1="460.3" y2="438.06" stroke="#8c8c8c" stroke-width="1.1"/><rect x="342.95" y="445.8" width="1.6" height="1.2" fill="#A8A000" fill-opacity="0.7"/><line x1="364.1" x2="364.1" y1="460.3" y2="432.5" stroke="#8c8c8c" stroke-width="1.1"/><rect x="363.3" y="445.8" width="1.6" height="1.2" fill="#3AAA20" fill-opacity="0.7"/><line x1="384.45" x2="384.45" y1="460.3" y2="427.635" stroke="#8c8c8c" stroke-width="1.1"/><rect x="383.65" y="445.8" width="1.6" height="1.2" fill="#00B070" fill-opacity="0.7"/><line x1="404.8" x2="404.8" y1="460.3" y2="438.06" stroke="#8c8c8c" stroke-width="1.1"/><rect x="404" y="445.8" width="1.6" height="1.2" fill="#00B0A8" fill-opacity="0.7"/><line x1="425.15" x2="425.15" y1="460.3" y2="438.06" stroke="#8c8c8c" stroke-width="1.1"/><rect x="424.35" y="445.8" width="1.6" height="1.2" fill="#00A8D0" fill-opacity="0.7"/><line x1="445.5" x2="445.5" y1="460.3" y2="419.99" stroke="#8c8c8c" stroke-width="1.1"/><line x1="465.85" x2="465.85" y1="460.3" y2="411.65" stroke="#8c8c8c" stroke-width="1.1"/><rect x="465.05" y="445.8" width="1.6" height="1.2" fill="#1080D0" fill-opacity="0.7"/><line x1="486.2" x2="486.2" y1="460.3" y2="438.06" stroke="#8c8c8c" stroke-width="1.1"/><rect x="485.4" y="445.8" width="1.6" height="1.2" fill="#7058B0" fill-opacity="0.7"/><text x="367.5" y="414.2" font-size="10" font-weight="normal" font-style="italic" text-anchor="start" fill="#111" stroke="#111" stroke-width="0.15">TMM</text><text x="38" y="532.7" font-size="7.6" font-weight="normal" font-style="normal" text-anchor="middle" fill="#111" stroke="#111" stroke-width="0.2">PC</text><text x="51.75" y="532.7" font-size="7.6" font-weight="normal" font-style="normal" text-anchor="start" fill="#111" stroke="#111" stroke-width="0.2">u.k.</text><text x="51.75" y="541.9" font-size="7.6" font-weight="normal" font-style="normal" text-anchor="start" fill="#111" stroke="#111" stroke-width="0.2">_1</text><rect x="51.85" y="542.8" width="4" height="0.8" fill="#3a3a3a"/><text x="78.7" y="532.7" font-size="7.6" font-weight="normal" font-style="normal" text-anchor="middle" fill="#111" stroke="#111" stroke-width="0.2">GMC</text><text x="89.45" y="532.7" font-size="7.6" font-weight="normal" font-style="normal" text-anchor="start" fill="#111" stroke="#111" stroke-width="0.2">MPC</text><text x="89.45" y="541.9" font-size="7.6" font-weight="normal" font-style="normal" text-anchor="start" fill="#111" stroke="#111" stroke-width="0.2">_2</text><rect x="89.55" y="542.8" width="4" height="0.8" fill="#3a3a3a"/><text x="119.4" y="532.7" font-size="7.6" font-weight="normal" font-style="normal" text-anchor="middle" fill="#111" stroke="#111" stroke-width="0.2">EM</text><text x="139.75" y="532.7" font-size="7.6" font-weight="normal" font-style="normal" text-anchor="middle" fill="#111" stroke="#111" stroke-width="0.2">LM</text><text x="150.5" y="532.7" font-size="7.6" font-weight="normal" font-style="normal" text-anchor="start" fill="#111" stroke="#111" stroke-width="0.2">MPC</text><text x="150.5" y="541.9" font-size="7.6" font-weight="normal" font-style="normal" text-anchor="start" fill="#111" stroke="#111" stroke-width="0.2">_5</text><rect x="150.6" y="542.8" width="4" height="0.8" fill="#3a3a3a"/><text x="180.45" y="532.7" font-size="7.6" font-weight="normal" font-style="normal" text-anchor="middle" fill="#111" stroke="#111" stroke-width="0.2">GC</text><text x="200.8" y="532.7" font-size="7.6" font-weight="normal" font-style="normal" text-anchor="middle" fill="#111" stroke="#111" stroke-width="0.2">YGC</text><text x="221.15" y="532.7" font-size="7.6" font-weight="normal" font-style="normal" text-anchor="middle" fill="#111" stroke="#111" stroke-width="0.2">MMC</text><text x="234.9" y="532.7" font-size="7.6" font-weight="normal" font-style="normal" text-anchor="start" fill="#111" stroke="#111" stroke-width="0.2">u.k.</text><text x="234.9" y="541.9" font-size="7.6" font-weight="normal" font-style="normal" text-anchor="start" fill="#111" stroke="#111" stroke-width="0.2">_9</text><rect x="235" y="542.8" width="4" height="0.8" fill="#3a3a3a"/><text x="282.3" y="470.7" font-size="7.6" font-weight="normal" font-style="normal" text-anchor="middle" fill="#111" stroke="#111" stroke-width="0.2">PC</text><text x="296.05" y="470.7" font-size="7.6" font-weight="normal" font-style="normal" text-anchor="start" fill="#111" stroke="#111" stroke-width="0.2">u.k.</text><text x="296.05" y="480.2" font-size="7.6" font-weight="normal" font-style="normal" text-anchor="start" fill="#111" stroke="#111" stroke-width="0.2">_1</text><rect x="296.15" y="481.1" width="4" height="0.8" fill="#3a3a3a"/><text x="323" y="470.7" font-size="7.6" font-weight="normal" font-style="normal" text-anchor="middle" fill="#111" stroke="#111" stroke-width="0.2">GMC</text><text x="333.75" y="470.7" font-size="7.6" font-weight="normal" font-style="normal" text-anchor="start" fill="#111" stroke="#111" stroke-width="0.2">MPC</text><text x="333.75" y="480.2" font-size="7.6" font-weight="normal" font-style="normal" text-anchor="start" fill="#111" stroke="#111" stroke-width="0.2">_2</text><rect x="333.85" y="481.1" width="4" height="0.8" fill="#3a3a3a"/><text x="363.7" y="470.7" font-size="7.6" font-weight="normal" font-style="normal" text-anchor="middle" fill="#111" stroke="#111" stroke-width="0.2">EM</text><text x="384.05" y="470.7" font-size="7.6" font-weight="normal" font-style="normal" text-anchor="middle" fill="#111" stroke="#111" stroke-width="0.2">LM</text><text x="394.8" y="470.7" font-size="7.6" font-weight="normal" font-style="normal" text-anchor="start" fill="#111" stroke="#111" stroke-width="0.2">MPC</text><text x="394.8" y="480.2" font-size="7.6" font-weight="normal" font-style="normal" text-anchor="start" fill="#111" stroke="#111" stroke-width="0.2">_5</text><rect x="394.9" y="481.1" width="4" height="0.8" fill="#3a3a3a"/><text x="424.75" y="470.7" font-size="7.6" font-weight="normal" font-style="normal" text-anchor="middle" fill="#111" stroke="#111" stroke-width="0.2">GC</text><text x="445.1" y="470.7" font-size="7.6" font-weight="normal" font-style="normal" text-anchor="middle" fill="#111" stroke="#111" stroke-width="0.2">YGC</text><text x="465.45" y="470.7" font-size="7.6" font-weight="normal" font-style="normal" text-anchor="middle" fill="#111" stroke="#111" stroke-width="0.2">MMC</text><text x="479.2" y="470.7" font-size="7.6" font-weight="normal" font-style="normal" text-anchor="start" fill="#111" stroke="#111" stroke-width="0.2">u.k.</text><text x="479.2" y="480.2" font-size="7.6" font-weight="normal" font-style="normal" text-anchor="start" fill="#111" stroke="#111" stroke-width="0.2">_9</text><rect x="479.3" y="481.1" width="4" height="0.8" fill="#3a3a3a"/></svg></body></html>
